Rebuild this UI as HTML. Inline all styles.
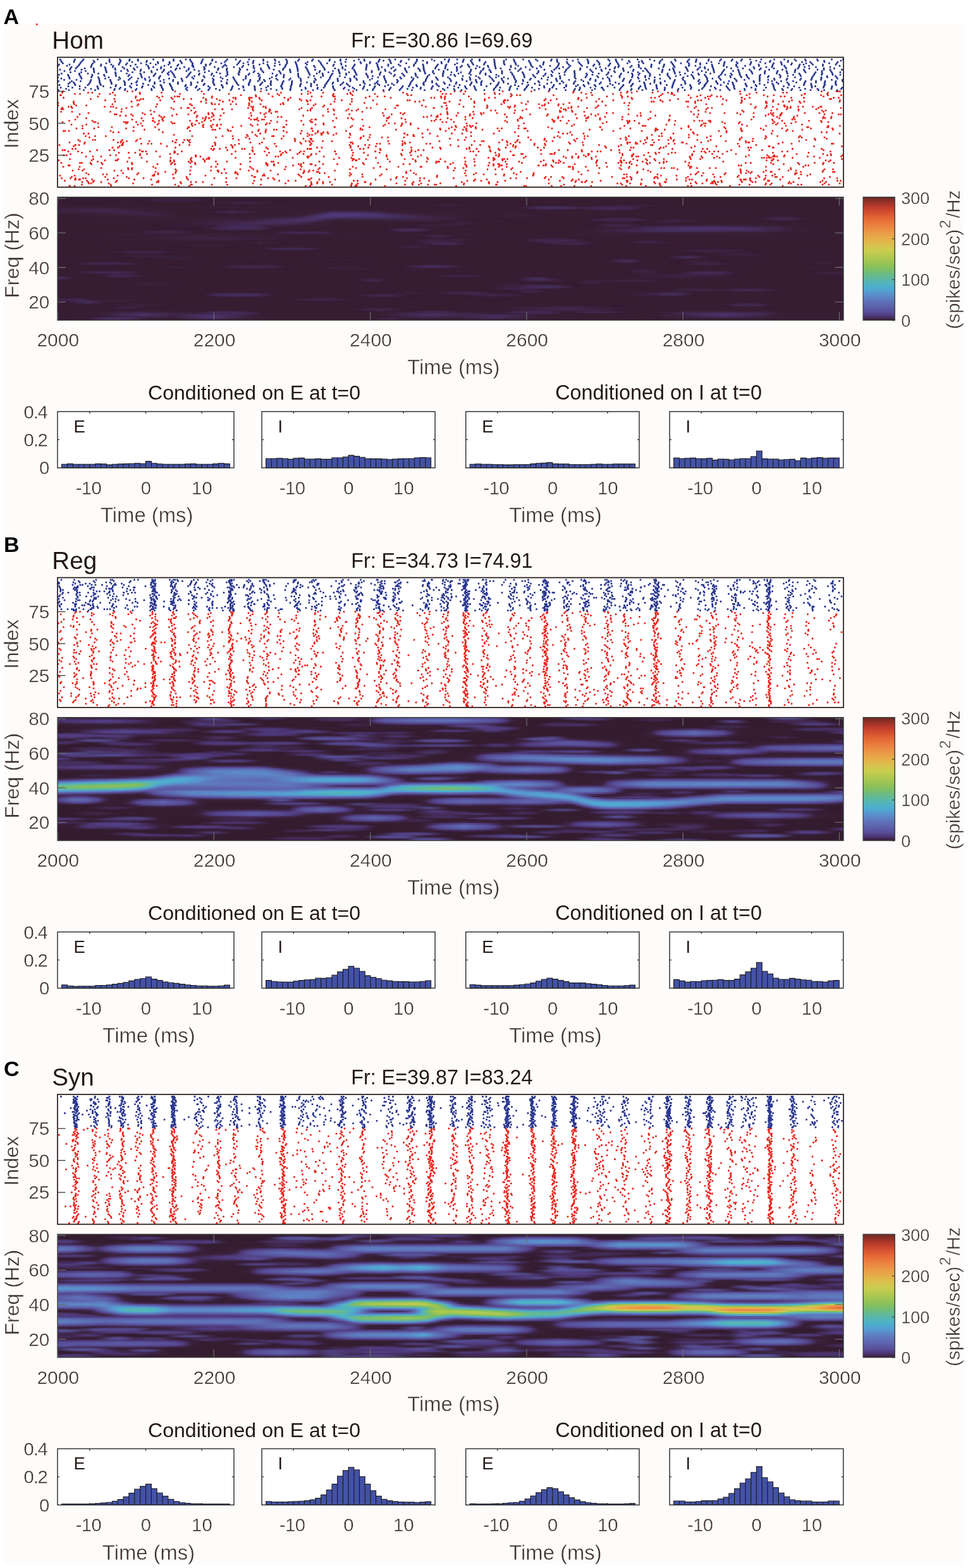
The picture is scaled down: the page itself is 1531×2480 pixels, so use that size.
<!DOCTYPE html>
<html><head><meta charset="utf-8"><title>Figure</title>
<style>html,body{margin:0;padding:0;background:#fff;overflow:hidden}svg{display:block}text{stroke:#fdfcfa;stroke-width:0.4px}</style></head>
<body><svg width="1531" height="2480" viewBox="0 0 1531 2480" font-family="Liberation Sans, Arial, Helvetica, sans-serif">
<defs><linearGradient id="g0_0"><stop offset="0" stop-color="#361d32"/><stop offset="1" stop-color="#361d32"/></linearGradient><linearGradient id="g0_1"><stop offset="0" stop-color="#361d32"/><stop offset="1" stop-color="#361d32"/></linearGradient><linearGradient id="g0_2"><stop offset="0" stop-color="#361d32"/><stop offset="1" stop-color="#361d32"/></linearGradient><linearGradient id="g0_3"><stop offset="0" stop-color="#361d32"/><stop offset="1" stop-color="#361d32"/></linearGradient><linearGradient id="g0_4"><stop offset="0" stop-color="#361d32"/><stop offset="1" stop-color="#361d32"/></linearGradient><linearGradient id="g0_5"><stop offset="0" stop-color="#371f36"/><stop offset="1" stop-color="#361d32"/></linearGradient><linearGradient id="g0_6"><stop offset="0" stop-color="#3a213b"/><stop offset="0.055" stop-color="#3d2443"/><stop offset="0.139" stop-color="#361d32"/><stop offset="1" stop-color="#361d32"/></linearGradient><linearGradient id="g0_7"><stop offset="0" stop-color="#3c2342"/><stop offset="0.065" stop-color="#40284e"/><stop offset="0.1" stop-color="#3a213c"/><stop offset="0.154" stop-color="#361d32"/><stop offset="0.323" stop-color="#361d32"/><stop offset="0.358" stop-color="#3a213d"/><stop offset="0.458" stop-color="#361d32"/><stop offset="1" stop-color="#361d32"/></linearGradient><linearGradient id="g0_8"><stop offset="0" stop-color="#3a213b"/><stop offset="0.085" stop-color="#3f274c"/><stop offset="0.149" stop-color="#361d32"/><stop offset="0.313" stop-color="#361d32"/><stop offset="0.333" stop-color="#392039"/><stop offset="0.348" stop-color="#432c57"/><stop offset="0.358" stop-color="#452e5d"/><stop offset="0.393" stop-color="#432b57"/><stop offset="0.423" stop-color="#3a213b"/><stop offset="0.468" stop-color="#361e33"/><stop offset="1" stop-color="#361d32"/></linearGradient><linearGradient id="g0_9"><stop offset="0" stop-color="#371f36"/><stop offset="0.06" stop-color="#382038"/><stop offset="0.114" stop-color="#3e2649"/><stop offset="0.154" stop-color="#361d32"/><stop offset="0.308" stop-color="#361e33"/><stop offset="0.323" stop-color="#39203a"/><stop offset="0.348" stop-color="#4d3775"/><stop offset="0.358" stop-color="#4f3879"/><stop offset="0.398" stop-color="#4b346d"/><stop offset="0.448" stop-color="#3a213b"/><stop offset="0.488" stop-color="#371e34"/><stop offset="1" stop-color="#361d32"/></linearGradient><linearGradient id="g0_10"><stop offset="0" stop-color="#361d32"/><stop offset="0.119" stop-color="#3b223e"/><stop offset="0.154" stop-color="#361d32"/><stop offset="0.299" stop-color="#381f36"/><stop offset="0.313" stop-color="#3a213b"/><stop offset="0.338" stop-color="#4d3674"/><stop offset="0.353" stop-color="#503a7d"/><stop offset="0.408" stop-color="#4b346e"/><stop offset="0.473" stop-color="#3a213c"/><stop offset="0.522" stop-color="#361d32"/><stop offset="1" stop-color="#361d32"/></linearGradient><linearGradient id="g0_11"><stop offset="0" stop-color="#361d32"/><stop offset="0.264" stop-color="#371f35"/><stop offset="0.299" stop-color="#3c2443"/><stop offset="0.333" stop-color="#4d3673"/><stop offset="0.358" stop-color="#483164"/><stop offset="0.428" stop-color="#452e5e"/><stop offset="0.527" stop-color="#361d32"/><stop offset="1" stop-color="#361d32"/></linearGradient><linearGradient id="g0_12"><stop offset="0" stop-color="#361d32"/><stop offset="0.249" stop-color="#392039"/><stop offset="0.323" stop-color="#4a346c"/><stop offset="0.358" stop-color="#3c2443"/><stop offset="0.453" stop-color="#3f274b"/><stop offset="0.527" stop-color="#361d32"/><stop offset="1" stop-color="#361d32"/></linearGradient><linearGradient id="g0_13"><stop offset="0" stop-color="#361d32"/><stop offset="0.154" stop-color="#361e33"/><stop offset="0.244" stop-color="#3e2547"/><stop offset="0.308" stop-color="#493267"/><stop offset="0.323" stop-color="#452e5d"/><stop offset="0.343" stop-color="#392039"/><stop offset="0.358" stop-color="#371f35"/><stop offset="0.478" stop-color="#3a213c"/><stop offset="0.532" stop-color="#361d32"/><stop offset="1" stop-color="#361d32"/></linearGradient><linearGradient id="g0_14"><stop offset="0" stop-color="#361d32"/><stop offset="0.149" stop-color="#361d32"/><stop offset="0.279" stop-color="#462f5f"/><stop offset="0.308" stop-color="#432b56"/><stop offset="0.328" stop-color="#39213b"/><stop offset="0.353" stop-color="#361d32"/><stop offset="1" stop-color="#361d32"/></linearGradient><linearGradient id="g0_15"><stop offset="0" stop-color="#361d32"/><stop offset="0.149" stop-color="#361d32"/><stop offset="0.254" stop-color="#432b56"/><stop offset="0.343" stop-color="#361d32"/><stop offset="1" stop-color="#361d32"/></linearGradient><linearGradient id="g0_16"><stop offset="0" stop-color="#361d32"/><stop offset="0.154" stop-color="#361d32"/><stop offset="0.249" stop-color="#3d2445"/><stop offset="0.328" stop-color="#361d32"/><stop offset="0.687" stop-color="#361d32"/><stop offset="0.821" stop-color="#40274d"/><stop offset="0.945" stop-color="#361e33"/><stop offset="1" stop-color="#361d32"/></linearGradient><linearGradient id="g0_17"><stop offset="0" stop-color="#361d32"/><stop offset="0.672" stop-color="#361d32"/><stop offset="0.726" stop-color="#3a213c"/><stop offset="0.761" stop-color="#432b55"/><stop offset="0.821" stop-color="#493268"/><stop offset="0.876" stop-color="#452e5e"/><stop offset="0.95" stop-color="#361e33"/><stop offset="1" stop-color="#361d32"/></linearGradient><linearGradient id="g0_18"><stop offset="0" stop-color="#361d32"/><stop offset="0.667" stop-color="#361d32"/><stop offset="0.706" stop-color="#3a213c"/><stop offset="0.761" stop-color="#462f61"/><stop offset="0.816" stop-color="#4b346e"/><stop offset="0.876" stop-color="#473063"/><stop offset="0.95" stop-color="#361e33"/><stop offset="1" stop-color="#361d32"/></linearGradient><linearGradient id="g0_19"><stop offset="0" stop-color="#361d32"/><stop offset="0.662" stop-color="#361d32"/><stop offset="0.751" stop-color="#422a53"/><stop offset="0.811" stop-color="#442c59"/><stop offset="0.876" stop-color="#412951"/><stop offset="0.95" stop-color="#361e33"/><stop offset="1" stop-color="#361d32"/></linearGradient><linearGradient id="g0_20"><stop offset="0" stop-color="#361d32"/><stop offset="0.662" stop-color="#361d32"/><stop offset="0.741" stop-color="#3a213c"/><stop offset="1" stop-color="#361d32"/></linearGradient><linearGradient id="g0_21"><stop offset="0" stop-color="#361d32"/><stop offset="0.139" stop-color="#382038"/><stop offset="1" stop-color="#361d32"/></linearGradient><linearGradient id="g0_22"><stop offset="0" stop-color="#361d32"/><stop offset="0.1" stop-color="#361d32"/><stop offset="0.184" stop-color="#3b223f"/><stop offset="0.303" stop-color="#361d32"/><stop offset="1" stop-color="#361d32"/></linearGradient><linearGradient id="g0_23"><stop offset="0" stop-color="#361d32"/><stop offset="0.104" stop-color="#361e32"/><stop offset="0.199" stop-color="#3e2648"/><stop offset="0.303" stop-color="#361d32"/><stop offset="1" stop-color="#361d32"/></linearGradient><linearGradient id="g0_24"><stop offset="0" stop-color="#361d32"/><stop offset="0.204" stop-color="#3b223e"/><stop offset="0.303" stop-color="#361d32"/><stop offset="1" stop-color="#361d32"/></linearGradient><linearGradient id="g0_25"><stop offset="0" stop-color="#361d32"/><stop offset="1" stop-color="#361d32"/></linearGradient><linearGradient id="g0_26"><stop offset="0" stop-color="#361d32"/><stop offset="1" stop-color="#361d32"/></linearGradient><linearGradient id="g0_27"><stop offset="0" stop-color="#361d32"/><stop offset="1" stop-color="#361d32"/></linearGradient><linearGradient id="g0_28"><stop offset="0" stop-color="#361d32"/><stop offset="1" stop-color="#361d32"/></linearGradient><linearGradient id="g0_29"><stop offset="0" stop-color="#361d32"/><stop offset="1" stop-color="#361d32"/></linearGradient><linearGradient id="g0_30"><stop offset="0" stop-color="#361d32"/><stop offset="1" stop-color="#361d32"/></linearGradient><linearGradient id="g0_31"><stop offset="0" stop-color="#361d32"/><stop offset="1" stop-color="#361d32"/></linearGradient><linearGradient id="g0_32"><stop offset="0" stop-color="#361d32"/><stop offset="1" stop-color="#361d32"/></linearGradient><linearGradient id="g0_33"><stop offset="0" stop-color="#361d32"/><stop offset="1" stop-color="#361d32"/></linearGradient><linearGradient id="g0_34"><stop offset="0" stop-color="#361d32"/><stop offset="1" stop-color="#361d32"/></linearGradient><linearGradient id="g0_35"><stop offset="0" stop-color="#361d32"/><stop offset="1" stop-color="#361d32"/></linearGradient><linearGradient id="g0_36"><stop offset="0" stop-color="#361d32"/><stop offset="1" stop-color="#361d32"/></linearGradient><linearGradient id="g0_37"><stop offset="0" stop-color="#361d32"/><stop offset="1" stop-color="#361d32"/></linearGradient><linearGradient id="g0_38"><stop offset="0" stop-color="#361d32"/><stop offset="1" stop-color="#361d32"/></linearGradient><linearGradient id="g0_39"><stop offset="0" stop-color="#361d32"/><stop offset="1" stop-color="#361d32"/></linearGradient><linearGradient id="g0_40"><stop offset="0" stop-color="#361d32"/><stop offset="1" stop-color="#361d32"/></linearGradient><linearGradient id="g0_41"><stop offset="0" stop-color="#361d32"/><stop offset="1" stop-color="#361d32"/></linearGradient><linearGradient id="g0_42"><stop offset="0" stop-color="#361d32"/><stop offset="1" stop-color="#361d32"/></linearGradient><linearGradient id="g0_43"><stop offset="0" stop-color="#361d32"/><stop offset="1" stop-color="#361d32"/></linearGradient><linearGradient id="g0_44"><stop offset="0" stop-color="#361d32"/><stop offset="0.721" stop-color="#361d32"/><stop offset="0.796" stop-color="#3a213d"/><stop offset="0.876" stop-color="#361d32"/><stop offset="1" stop-color="#361d32"/></linearGradient><linearGradient id="g0_45"><stop offset="0" stop-color="#361d32"/><stop offset="0.721" stop-color="#361d32"/><stop offset="0.796" stop-color="#3e2547"/><stop offset="0.871" stop-color="#361e32"/><stop offset="1" stop-color="#361d32"/></linearGradient><linearGradient id="g0_46"><stop offset="0" stop-color="#361d32"/><stop offset="0.721" stop-color="#361d32"/><stop offset="0.796" stop-color="#3a213d"/><stop offset="0.876" stop-color="#361d32"/><stop offset="1" stop-color="#361d32"/></linearGradient><linearGradient id="g0_47"><stop offset="0" stop-color="#361d32"/><stop offset="1" stop-color="#361d32"/></linearGradient><linearGradient id="g0_48"><stop offset="0" stop-color="#361d32"/><stop offset="1" stop-color="#361d32"/></linearGradient><linearGradient id="g0_49"><stop offset="0" stop-color="#361d32"/><stop offset="1" stop-color="#361d32"/></linearGradient><linearGradient id="g0_50"><stop offset="0" stop-color="#361d32"/><stop offset="1" stop-color="#361d32"/></linearGradient><linearGradient id="g0_51"><stop offset="0" stop-color="#361d32"/><stop offset="1" stop-color="#361d32"/></linearGradient><linearGradient id="g0_52"><stop offset="0" stop-color="#361d32"/><stop offset="1" stop-color="#361d32"/></linearGradient><linearGradient id="g0_53"><stop offset="0" stop-color="#361d32"/><stop offset="1" stop-color="#361d32"/></linearGradient><linearGradient id="g0_54"><stop offset="0" stop-color="#361d32"/><stop offset="1" stop-color="#361d32"/></linearGradient><linearGradient id="g0_55"><stop offset="0" stop-color="#361d32"/><stop offset="1" stop-color="#361d32"/></linearGradient><linearGradient id="g0_56"><stop offset="0" stop-color="#361d32"/><stop offset="1" stop-color="#361d32"/></linearGradient><linearGradient id="g0_57"><stop offset="0" stop-color="#361d32"/><stop offset="1" stop-color="#361d32"/></linearGradient><linearGradient id="g0_58"><stop offset="0" stop-color="#361d32"/><stop offset="1" stop-color="#361d32"/></linearGradient><linearGradient id="g0_59"><stop offset="0" stop-color="#361d32"/><stop offset="1" stop-color="#361d32"/></linearGradient><linearGradient id="g0_60"><stop offset="0" stop-color="#361d32"/><stop offset="1" stop-color="#361d32"/></linearGradient><linearGradient id="g0_61"><stop offset="0" stop-color="#361d32"/><stop offset="1" stop-color="#361d32"/></linearGradient><linearGradient id="g0_62"><stop offset="0" stop-color="#361d32"/><stop offset="1" stop-color="#361d32"/></linearGradient><linearGradient id="g0_63"><stop offset="0" stop-color="#361d32"/><stop offset="0.562" stop-color="#361d32"/><stop offset="0.647" stop-color="#3d2546"/><stop offset="0.726" stop-color="#361d32"/><stop offset="1" stop-color="#361d32"/></linearGradient><linearGradient id="g0_64"><stop offset="0" stop-color="#361d32"/><stop offset="0.562" stop-color="#361d32"/><stop offset="0.647" stop-color="#422a53"/><stop offset="0.726" stop-color="#361d32"/><stop offset="1" stop-color="#361d32"/></linearGradient><linearGradient id="g0_65"><stop offset="0" stop-color="#361d32"/><stop offset="0.562" stop-color="#361d32"/><stop offset="0.647" stop-color="#3d2546"/><stop offset="0.726" stop-color="#361d32"/><stop offset="1" stop-color="#361d32"/></linearGradient><linearGradient id="g0_66"><stop offset="0" stop-color="#361d32"/><stop offset="0.05" stop-color="#361e32"/><stop offset="0.1" stop-color="#3e2649"/><stop offset="0.159" stop-color="#392039"/><stop offset="0.259" stop-color="#361d32"/><stop offset="0.408" stop-color="#361d32"/><stop offset="0.473" stop-color="#3e2649"/><stop offset="0.537" stop-color="#381f37"/><stop offset="0.756" stop-color="#361d32"/><stop offset="0.801" stop-color="#3e2649"/><stop offset="0.846" stop-color="#40284d"/><stop offset="0.891" stop-color="#3e2649"/><stop offset="0.925" stop-color="#361e32"/><stop offset="1" stop-color="#361d32"/></linearGradient><linearGradient id="g0_67"><stop offset="0" stop-color="#361d32"/><stop offset="0.055" stop-color="#371e35"/><stop offset="0.08" stop-color="#422a53"/><stop offset="0.109" stop-color="#473063"/><stop offset="0.154" stop-color="#3d2445"/><stop offset="0.174" stop-color="#40284f"/><stop offset="0.209" stop-color="#40284e"/><stop offset="0.264" stop-color="#361d32"/><stop offset="0.408" stop-color="#361e33"/><stop offset="0.473" stop-color="#473063"/><stop offset="0.527" stop-color="#3e2547"/><stop offset="0.572" stop-color="#3d2443"/><stop offset="0.612" stop-color="#361e33"/><stop offset="0.761" stop-color="#361d32"/><stop offset="0.781" stop-color="#3a213b"/><stop offset="0.801" stop-color="#432b57"/><stop offset="0.846" stop-color="#4a336c"/><stop offset="0.891" stop-color="#432b57"/><stop offset="0.92" stop-color="#371e35"/><stop offset="1" stop-color="#361d32"/></linearGradient><linearGradient id="g0_68"><stop offset="0" stop-color="#361d32"/><stop offset="0.055" stop-color="#361e34"/><stop offset="0.109" stop-color="#462f61"/><stop offset="0.149" stop-color="#3c2443"/><stop offset="0.174" stop-color="#462f60"/><stop offset="0.199" stop-color="#4b346d"/><stop offset="0.229" stop-color="#422a54"/><stop offset="0.244" stop-color="#3a213b"/><stop offset="0.264" stop-color="#361d32"/><stop offset="0.413" stop-color="#361e33"/><stop offset="0.473" stop-color="#472f61"/><stop offset="0.507" stop-color="#3e2648"/><stop offset="0.562" stop-color="#452e5d"/><stop offset="0.617" stop-color="#361e32"/><stop offset="0.761" stop-color="#361d32"/><stop offset="0.786" stop-color="#3a213c"/><stop offset="0.846" stop-color="#4a336a"/><stop offset="0.92" stop-color="#361e34"/><stop offset="1" stop-color="#361d32"/></linearGradient><linearGradient id="g0_69"><stop offset="0" stop-color="#361d32"/><stop offset="0.06" stop-color="#361e33"/><stop offset="0.109" stop-color="#3d2444"/><stop offset="0.149" stop-color="#392039"/><stop offset="0.199" stop-color="#4a336b"/><stop offset="0.239" stop-color="#3a213c"/><stop offset="0.264" stop-color="#361d32"/><stop offset="0.413" stop-color="#361d32"/><stop offset="0.473" stop-color="#3d2444"/><stop offset="0.507" stop-color="#392039"/><stop offset="0.557" stop-color="#452d5c"/><stop offset="0.592" stop-color="#3a213c"/><stop offset="0.617" stop-color="#361d32"/><stop offset="0.771" stop-color="#361d32"/><stop offset="0.846" stop-color="#3f264a"/><stop offset="0.915" stop-color="#361e33"/><stop offset="1" stop-color="#361d32"/></linearGradient><linearGradient id="g0_70"><stop offset="0" stop-color="#361d32"/><stop offset="0.144" stop-color="#361e33"/><stop offset="0.199" stop-color="#3f264a"/><stop offset="0.219" stop-color="#39213b"/><stop offset="0.259" stop-color="#361d32"/><stop offset="0.502" stop-color="#361e33"/><stop offset="0.557" stop-color="#3c2341"/><stop offset="0.617" stop-color="#361d32"/><stop offset="1" stop-color="#361d32"/></linearGradient><linearGradient id="g1_0"><stop offset="0" stop-color="#39203a"/><stop offset="0.06" stop-color="#40284e"/><stop offset="0.139" stop-color="#341c2f"/><stop offset="0.383" stop-color="#351d30"/><stop offset="0.393" stop-color="#371f36"/><stop offset="0.398" stop-color="#3d2444"/><stop offset="0.408" stop-color="#524085"/><stop offset="0.418" stop-color="#584f99"/><stop offset="0.468" stop-color="#5c60a8"/><stop offset="0.507" stop-color="#5c60a9"/><stop offset="0.557" stop-color="#55478e"/><stop offset="0.567" stop-color="#4f397a"/><stop offset="0.577" stop-color="#3a213b"/><stop offset="0.592" stop-color="#351c2f"/><stop offset="1" stop-color="#341c2f"/></linearGradient><linearGradient id="g1_1"><stop offset="0" stop-color="#442c59"/><stop offset="0.02" stop-color="#4d3775"/><stop offset="0.06" stop-color="#513e82"/><stop offset="0.08" stop-color="#4e3878"/><stop offset="0.109" stop-color="#432b57"/><stop offset="0.124" stop-color="#382038"/><stop offset="0.139" stop-color="#351d2f"/><stop offset="0.383" stop-color="#351d30"/><stop offset="0.393" stop-color="#392039"/><stop offset="0.398" stop-color="#422a55"/><stop offset="0.403" stop-color="#513d80"/><stop offset="0.408" stop-color="#574b94"/><stop offset="0.418" stop-color="#5b5ba4"/><stop offset="0.468" stop-color="#5f6fb5"/><stop offset="0.507" stop-color="#5f70b6"/><stop offset="0.562" stop-color="#574d96"/><stop offset="0.572" stop-color="#4b356f"/><stop offset="0.577" stop-color="#3e2547"/><stop offset="0.582" stop-color="#381f37"/><stop offset="0.592" stop-color="#351d30"/><stop offset="1" stop-color="#341c2f"/></linearGradient><linearGradient id="g1_2"><stop offset="0" stop-color="#442c59"/><stop offset="0.02" stop-color="#4d3775"/><stop offset="0.06" stop-color="#513e82"/><stop offset="0.08" stop-color="#4e3878"/><stop offset="0.109" stop-color="#432b57"/><stop offset="0.124" stop-color="#382038"/><stop offset="0.139" stop-color="#351d2f"/><stop offset="0.383" stop-color="#351d30"/><stop offset="0.393" stop-color="#371f36"/><stop offset="0.398" stop-color="#3d2444"/><stop offset="0.408" stop-color="#524085"/><stop offset="0.418" stop-color="#584f99"/><stop offset="0.468" stop-color="#5c60a8"/><stop offset="0.507" stop-color="#5c60a9"/><stop offset="0.557" stop-color="#55478e"/><stop offset="0.567" stop-color="#4f397a"/><stop offset="0.577" stop-color="#3a213b"/><stop offset="0.592" stop-color="#351c2f"/><stop offset="1" stop-color="#341c2f"/></linearGradient><linearGradient id="g1_3"><stop offset="0" stop-color="#39203a"/><stop offset="0.06" stop-color="#40284e"/><stop offset="0.139" stop-color="#341c2f"/><stop offset="0.388" stop-color="#351d30"/><stop offset="0.403" stop-color="#39203a"/><stop offset="0.418" stop-color="#473062"/><stop offset="0.448" stop-color="#503a7c"/><stop offset="0.507" stop-color="#513e82"/><stop offset="0.527" stop-color="#503a7d"/><stop offset="0.567" stop-color="#3a213d"/><stop offset="0.587" stop-color="#351d2f"/><stop offset="1" stop-color="#341c2f"/></linearGradient><linearGradient id="g1_4"><stop offset="0" stop-color="#351d31"/><stop offset="0.383" stop-color="#341c2f"/><stop offset="0.507" stop-color="#381f37"/><stop offset="0.587" stop-color="#341c2f"/><stop offset="1" stop-color="#341c2f"/></linearGradient><linearGradient id="g1_5"><stop offset="0" stop-color="#341c2f"/><stop offset="0.085" stop-color="#371f36"/><stop offset="1" stop-color="#341c2f"/></linearGradient><linearGradient id="g1_6"><stop offset="0" stop-color="#341c2f"/><stop offset="0.025" stop-color="#371e34"/><stop offset="0.085" stop-color="#462e5f"/><stop offset="0.124" stop-color="#40284f"/><stop offset="0.144" stop-color="#381f37"/><stop offset="0.174" stop-color="#341c2f"/><stop offset="0.741" stop-color="#341c2f"/><stop offset="0.771" stop-color="#39213b"/><stop offset="0.811" stop-color="#462e5f"/><stop offset="0.866" stop-color="#351d30"/><stop offset="1" stop-color="#341c2f"/></linearGradient><linearGradient id="g1_7"><stop offset="0" stop-color="#341c2f"/><stop offset="0.025" stop-color="#392039"/><stop offset="0.04" stop-color="#462f5f"/><stop offset="0.06" stop-color="#503b7e"/><stop offset="0.085" stop-color="#534288"/><stop offset="0.124" stop-color="#503b7f"/><stop offset="0.129" stop-color="#4f3879"/><stop offset="0.149" stop-color="#3b223f"/><stop offset="0.179" stop-color="#341c2f"/><stop offset="0.741" stop-color="#351c2f"/><stop offset="0.756" stop-color="#392039"/><stop offset="0.771" stop-color="#503b7e"/><stop offset="0.796" stop-color="#584f99"/><stop offset="0.811" stop-color="#59559e"/><stop offset="0.846" stop-color="#503b7e"/><stop offset="0.856" stop-color="#3f274a"/><stop offset="0.866" stop-color="#361e33"/><stop offset="1" stop-color="#341c2f"/></linearGradient><linearGradient id="g1_8"><stop offset="0" stop-color="#341c2f"/><stop offset="0.025" stop-color="#392039"/><stop offset="0.04" stop-color="#462f5f"/><stop offset="0.06" stop-color="#503b7e"/><stop offset="0.085" stop-color="#534288"/><stop offset="0.129" stop-color="#50397c"/><stop offset="0.154" stop-color="#3c2342"/><stop offset="0.179" stop-color="#351c2f"/><stop offset="0.741" stop-color="#351d30"/><stop offset="0.751" stop-color="#381f36"/><stop offset="0.756" stop-color="#3d2546"/><stop offset="0.761" stop-color="#4a346c"/><stop offset="0.771" stop-color="#574c95"/><stop offset="0.811" stop-color="#5e6ab1"/><stop offset="0.846" stop-color="#574c95"/><stop offset="0.856" stop-color="#4a346c"/><stop offset="0.861" stop-color="#3d2546"/><stop offset="0.871" stop-color="#361d32"/><stop offset="1" stop-color="#341c2f"/></linearGradient><linearGradient id="g1_9"><stop offset="0" stop-color="#341c2f"/><stop offset="0.025" stop-color="#371e34"/><stop offset="0.085" stop-color="#462e5f"/><stop offset="0.179" stop-color="#341c2f"/><stop offset="0.741" stop-color="#351d2f"/><stop offset="0.756" stop-color="#3b2340"/><stop offset="0.766" stop-color="#513d82"/><stop offset="0.776" stop-color="#584e98"/><stop offset="0.811" stop-color="#5d64ac"/><stop offset="0.846" stop-color="#55478e"/><stop offset="0.851" stop-color="#513d82"/><stop offset="0.861" stop-color="#3b2340"/><stop offset="0.871" stop-color="#351d31"/><stop offset="1" stop-color="#341c2f"/></linearGradient><linearGradient id="g1_10"><stop offset="0" stop-color="#341c2f"/><stop offset="0.085" stop-color="#371f36"/><stop offset="0.741" stop-color="#341c2f"/><stop offset="0.761" stop-color="#3a213b"/><stop offset="0.781" stop-color="#4e3878"/><stop offset="0.811" stop-color="#55478e"/><stop offset="0.836" stop-color="#4f397a"/><stop offset="0.856" stop-color="#3a213b"/><stop offset="0.866" stop-color="#361d32"/><stop offset="1" stop-color="#341c2f"/></linearGradient><linearGradient id="g1_11"><stop offset="0" stop-color="#341c2f"/><stop offset="0.741" stop-color="#341c2f"/><stop offset="0.811" stop-color="#3a213d"/><stop offset="0.871" stop-color="#341c2f"/><stop offset="1" stop-color="#341c2f"/></linearGradient><linearGradient id="g1_12"><stop offset="0" stop-color="#341c2f"/><stop offset="0.577" stop-color="#341c2f"/><stop offset="0.627" stop-color="#39213b"/><stop offset="0.647" stop-color="#442c59"/><stop offset="0.667" stop-color="#3a213c"/><stop offset="0.711" stop-color="#351d30"/><stop offset="1" stop-color="#341c2f"/></linearGradient><linearGradient id="g1_13"><stop offset="0" stop-color="#341c2f"/><stop offset="0.572" stop-color="#351d30"/><stop offset="0.602" stop-color="#3c2341"/><stop offset="0.627" stop-color="#513c80"/><stop offset="0.647" stop-color="#584d97"/><stop offset="0.672" stop-color="#503b7f"/><stop offset="0.701" stop-color="#3a223d"/><stop offset="0.721" stop-color="#351d30"/><stop offset="1" stop-color="#351c2f"/></linearGradient><linearGradient id="g1_14"><stop offset="0" stop-color="#341c2f"/><stop offset="0.567" stop-color="#351d30"/><stop offset="0.582" stop-color="#39213b"/><stop offset="0.602" stop-color="#4f397b"/><stop offset="0.627" stop-color="#58509a"/><stop offset="0.647" stop-color="#5b5ba4"/><stop offset="0.677" stop-color="#584e98"/><stop offset="0.697" stop-color="#523e82"/><stop offset="0.701" stop-color="#4f3979"/><stop offset="0.711" stop-color="#3e2547"/><stop offset="0.716" stop-color="#382038"/><stop offset="0.726" stop-color="#351d30"/><stop offset="1" stop-color="#371f36"/></linearGradient><linearGradient id="g1_15"><stop offset="0" stop-color="#341c2f"/><stop offset="0.562" stop-color="#341c2f"/><stop offset="0.577" stop-color="#381f38"/><stop offset="0.582" stop-color="#3d2445"/><stop offset="0.592" stop-color="#4d3775"/><stop offset="0.597" stop-color="#513d80"/><stop offset="0.627" stop-color="#584d97"/><stop offset="0.657" stop-color="#59519b"/><stop offset="0.687" stop-color="#584d97"/><stop offset="0.701" stop-color="#534287"/><stop offset="0.706" stop-color="#503a7c"/><stop offset="0.716" stop-color="#3a213c"/><stop offset="0.726" stop-color="#351d31"/><stop offset="0.871" stop-color="#341c2f"/><stop offset="0.891" stop-color="#381f37"/><stop offset="0.91" stop-color="#432b56"/><stop offset="0.965" stop-color="#4f3879"/><stop offset="1" stop-color="#503b7e"/></linearGradient><linearGradient id="g1_16"><stop offset="0" stop-color="#341c2f"/><stop offset="0.562" stop-color="#341c2f"/><stop offset="0.582" stop-color="#39213b"/><stop offset="0.597" stop-color="#483166"/><stop offset="0.607" stop-color="#4c3570"/><stop offset="0.647" stop-color="#4a336a"/><stop offset="0.667" stop-color="#503a7c"/><stop offset="0.687" stop-color="#513d81"/><stop offset="0.701" stop-color="#4e3878"/><stop offset="0.716" stop-color="#382038"/><stop offset="0.726" stop-color="#351d30"/><stop offset="0.871" stop-color="#361e33"/><stop offset="0.886" stop-color="#3b223e"/><stop offset="0.896" stop-color="#4f397b"/><stop offset="0.905" stop-color="#55468d"/><stop offset="1" stop-color="#5b5ca5"/></linearGradient><linearGradient id="g1_17"><stop offset="0" stop-color="#341c2f"/><stop offset="0.562" stop-color="#341c2f"/><stop offset="0.692" stop-color="#3c2341"/><stop offset="0.726" stop-color="#351c2f"/><stop offset="0.786" stop-color="#341c2f"/><stop offset="0.816" stop-color="#3a213c"/><stop offset="0.851" stop-color="#462e5e"/><stop offset="0.881" stop-color="#412952"/><stop offset="0.891" stop-color="#503b7e"/><stop offset="0.905" stop-color="#59529c"/><stop offset="1" stop-color="#5e6ab1"/></linearGradient><linearGradient id="g1_18"><stop offset="0" stop-color="#341c2f"/><stop offset="0.781" stop-color="#341c2f"/><stop offset="0.801" stop-color="#3b223e"/><stop offset="0.811" stop-color="#493267"/><stop offset="0.821" stop-color="#513c7f"/><stop offset="0.851" stop-color="#584e98"/><stop offset="0.886" stop-color="#513e82"/><stop offset="0.925" stop-color="#584f99"/><stop offset="1" stop-color="#5b5ca5"/></linearGradient><linearGradient id="g1_19"><stop offset="0" stop-color="#341c2f"/><stop offset="0.517" stop-color="#341c2f"/><stop offset="0.587" stop-color="#381f37"/><stop offset="0.781" stop-color="#351c2f"/><stop offset="0.796" stop-color="#392039"/><stop offset="0.811" stop-color="#513c80"/><stop offset="0.851" stop-color="#5a59a2"/><stop offset="0.876" stop-color="#574c95"/><stop offset="0.896" stop-color="#503a7e"/><stop offset="0.905" stop-color="#473063"/><stop offset="0.915" stop-color="#452d5c"/><stop offset="0.97" stop-color="#503a7c"/><stop offset="1" stop-color="#503b7e"/></linearGradient><linearGradient id="g1_20"><stop offset="0" stop-color="#341c2f"/><stop offset="0.522" stop-color="#351d2f"/><stop offset="0.537" stop-color="#381f38"/><stop offset="0.557" stop-color="#452d5c"/><stop offset="0.587" stop-color="#503b7e"/><stop offset="0.652" stop-color="#3a213c"/><stop offset="0.786" stop-color="#351d31"/><stop offset="0.801" stop-color="#3b223f"/><stop offset="0.811" stop-color="#493267"/><stop offset="0.821" stop-color="#513c7f"/><stop offset="0.856" stop-color="#584e98"/><stop offset="0.886" stop-color="#4f3879"/><stop offset="0.905" stop-color="#392039"/><stop offset="1" stop-color="#381f36"/></linearGradient><linearGradient id="g1_21"><stop offset="0" stop-color="#341c2f"/><stop offset="0.517" stop-color="#351c2f"/><stop offset="0.532" stop-color="#3a213c"/><stop offset="0.542" stop-color="#503a7d"/><stop offset="0.552" stop-color="#564890"/><stop offset="0.592" stop-color="#5b5da6"/><stop offset="0.637" stop-color="#584d97"/><stop offset="0.682" stop-color="#503a7c"/><stop offset="0.697" stop-color="#4a336a"/><stop offset="0.786" stop-color="#381f36"/><stop offset="0.816" stop-color="#3a213c"/><stop offset="0.856" stop-color="#462f5f"/><stop offset="0.886" stop-color="#3a223d"/><stop offset="0.905" stop-color="#361e32"/><stop offset="1" stop-color="#351d31"/></linearGradient><linearGradient id="g1_22"><stop offset="0" stop-color="#341c2f"/><stop offset="0.517" stop-color="#351d30"/><stop offset="0.527" stop-color="#382038"/><stop offset="0.532" stop-color="#412951"/><stop offset="0.537" stop-color="#503b7e"/><stop offset="0.547" stop-color="#59539d"/><stop offset="0.597" stop-color="#5e76ba"/><stop offset="0.761" stop-color="#564992"/><stop offset="0.776" stop-color="#513c7f"/><stop offset="0.796" stop-color="#3b223f"/><stop offset="0.811" stop-color="#361e33"/><stop offset="1" stop-color="#3d2444"/></linearGradient><linearGradient id="g1_23"><stop offset="0" stop-color="#341c2f"/><stop offset="0.517" stop-color="#351d30"/><stop offset="0.527" stop-color="#382038"/><stop offset="0.532" stop-color="#412951"/><stop offset="0.537" stop-color="#503b7e"/><stop offset="0.552" stop-color="#5a5aa3"/><stop offset="0.592" stop-color="#5e78bb"/><stop offset="0.652" stop-color="#5c86c5"/><stop offset="0.697" stop-color="#5d7fc0"/><stop offset="0.766" stop-color="#5c62aa"/><stop offset="0.791" stop-color="#513c7f"/><stop offset="0.806" stop-color="#392039"/><stop offset="0.841" stop-color="#351c2f"/><stop offset="0.861" stop-color="#3a213d"/><stop offset="0.871" stop-color="#473064"/><stop offset="0.886" stop-color="#503a7d"/><stop offset="0.945" stop-color="#564991"/><stop offset="1" stop-color="#574c95"/></linearGradient><linearGradient id="g1_24"><stop offset="0" stop-color="#341c2f"/><stop offset="0.522" stop-color="#361e33"/><stop offset="0.532" stop-color="#3a223d"/><stop offset="0.542" stop-color="#503a7d"/><stop offset="0.557" stop-color="#574c96"/><stop offset="0.647" stop-color="#5c83c4"/><stop offset="0.692" stop-color="#5a8eca"/><stop offset="0.766" stop-color="#5e6db4"/><stop offset="0.796" stop-color="#503a7d"/><stop offset="0.806" stop-color="#3a213c"/><stop offset="0.816" stop-color="#351d31"/><stop offset="0.836" stop-color="#341c2f"/><stop offset="0.851" stop-color="#381f36"/><stop offset="0.856" stop-color="#3d2546"/><stop offset="0.866" stop-color="#534187"/><stop offset="0.876" stop-color="#59519b"/><stop offset="0.945" stop-color="#5e6ab1"/><stop offset="1" stop-color="#5e6db4"/></linearGradient><linearGradient id="g1_25"><stop offset="0" stop-color="#351d30"/><stop offset="0.468" stop-color="#361e32"/><stop offset="0.488" stop-color="#3a213b"/><stop offset="0.498" stop-color="#422a54"/><stop offset="0.507" stop-color="#452e5d"/><stop offset="0.532" stop-color="#3d2444"/><stop offset="0.612" stop-color="#584f99"/><stop offset="0.657" stop-color="#5e6db4"/><stop offset="0.697" stop-color="#5d7dbf"/><stop offset="0.771" stop-color="#5b5ca5"/><stop offset="0.791" stop-color="#513c7f"/><stop offset="0.806" stop-color="#392039"/><stop offset="0.836" stop-color="#341c2f"/><stop offset="0.851" stop-color="#392039"/><stop offset="0.856" stop-color="#422a55"/><stop offset="0.861" stop-color="#513d80"/><stop offset="0.866" stop-color="#574b94"/><stop offset="0.876" stop-color="#5b5ba4"/><stop offset="0.945" stop-color="#5e78bc"/><stop offset="1" stop-color="#5d7cbf"/></linearGradient><linearGradient id="g1_26"><stop offset="0" stop-color="#382038"/><stop offset="0.368" stop-color="#341c2f"/><stop offset="0.443" stop-color="#392039"/><stop offset="0.458" stop-color="#3b2340"/><stop offset="0.493" stop-color="#584f99"/><stop offset="0.507" stop-color="#5a5aa3"/><stop offset="0.522" stop-color="#59529c"/><stop offset="0.547" stop-color="#503b7e"/><stop offset="0.562" stop-color="#3b2340"/><stop offset="0.582" stop-color="#39203a"/><stop offset="0.607" stop-color="#3f274c"/><stop offset="0.637" stop-color="#503b7e"/><stop offset="0.667" stop-color="#584d97"/><stop offset="0.701" stop-color="#5a5aa3"/><stop offset="0.761" stop-color="#564992"/><stop offset="0.776" stop-color="#513c7f"/><stop offset="0.791" stop-color="#40274c"/><stop offset="0.801" stop-color="#381f38"/><stop offset="0.836" stop-color="#341c2f"/><stop offset="0.851" stop-color="#381f36"/><stop offset="0.856" stop-color="#3d2546"/><stop offset="0.866" stop-color="#534187"/><stop offset="0.876" stop-color="#59519b"/><stop offset="0.945" stop-color="#5e6ab1"/><stop offset="1" stop-color="#5e6db4"/></linearGradient><linearGradient id="g1_27"><stop offset="0" stop-color="#462e5e"/><stop offset="0.06" stop-color="#4e3776"/><stop offset="0.114" stop-color="#462e5e"/><stop offset="0.134" stop-color="#392039"/><stop offset="0.149" stop-color="#351d30"/><stop offset="0.244" stop-color="#39203a"/><stop offset="0.289" stop-color="#351c2f"/><stop offset="0.383" stop-color="#351d2f"/><stop offset="0.403" stop-color="#3b223e"/><stop offset="0.433" stop-color="#4f397a"/><stop offset="0.458" stop-color="#55478e"/><stop offset="0.493" stop-color="#5f72b8"/><stop offset="0.512" stop-color="#5d7dbf"/><stop offset="0.547" stop-color="#5a569f"/><stop offset="0.567" stop-color="#473062"/><stop offset="0.572" stop-color="#452d5c"/><stop offset="0.602" stop-color="#4a346c"/><stop offset="0.657" stop-color="#3b2340"/><stop offset="0.701" stop-color="#483165"/><stop offset="0.786" stop-color="#371f36"/><stop offset="0.836" stop-color="#341c2f"/><stop offset="0.861" stop-color="#3a213d"/><stop offset="0.871" stop-color="#473064"/><stop offset="0.886" stop-color="#503a7d"/><stop offset="0.945" stop-color="#564991"/><stop offset="1" stop-color="#574c95"/></linearGradient><linearGradient id="g1_28"><stop offset="0" stop-color="#4f3879"/><stop offset="0.06" stop-color="#534186"/><stop offset="0.109" stop-color="#503a7d"/><stop offset="0.119" stop-color="#4c3673"/><stop offset="0.134" stop-color="#3b223e"/><stop offset="0.149" stop-color="#361e32"/><stop offset="0.164" stop-color="#3b223e"/><stop offset="0.194" stop-color="#513d81"/><stop offset="0.254" stop-color="#534085"/><stop offset="0.264" stop-color="#4f397a"/><stop offset="0.274" stop-color="#3f274b"/><stop offset="0.284" stop-color="#381f37"/><stop offset="0.378" stop-color="#351c2f"/><stop offset="0.393" stop-color="#3a213c"/><stop offset="0.403" stop-color="#503a7d"/><stop offset="0.418" stop-color="#584e98"/><stop offset="0.498" stop-color="#5b8bc8"/><stop offset="0.512" stop-color="#5a8fca"/><stop offset="0.527" stop-color="#5d82c3"/><stop offset="0.562" stop-color="#59519b"/><stop offset="0.597" stop-color="#5a59a2"/><stop offset="0.632" stop-color="#574d96"/><stop offset="0.642" stop-color="#513d82"/><stop offset="0.652" stop-color="#3c2342"/><stop offset="0.662" stop-color="#361e33"/><stop offset="0.846" stop-color="#341c2f"/><stop offset="1" stop-color="#3d2444"/></linearGradient><linearGradient id="g1_29"><stop offset="0" stop-color="#462e5e"/><stop offset="0.065" stop-color="#4d3775"/><stop offset="0.114" stop-color="#462e5e"/><stop offset="0.134" stop-color="#392039"/><stop offset="0.144" stop-color="#361e34"/><stop offset="0.154" stop-color="#3a213d"/><stop offset="0.164" stop-color="#503a7d"/><stop offset="0.179" stop-color="#58509a"/><stop offset="0.204" stop-color="#5d65ad"/><stop offset="0.249" stop-color="#5d66ae"/><stop offset="0.264" stop-color="#5b5ea6"/><stop offset="0.274" stop-color="#574c95"/><stop offset="0.284" stop-color="#4e3877"/><stop offset="0.294" stop-color="#3f264a"/><stop offset="0.303" stop-color="#392039"/><stop offset="0.328" stop-color="#351d30"/><stop offset="0.378" stop-color="#351d30"/><stop offset="0.388" stop-color="#382038"/><stop offset="0.393" stop-color="#412951"/><stop offset="0.398" stop-color="#503b7e"/><stop offset="0.413" stop-color="#5a5aa3"/><stop offset="0.448" stop-color="#5d7cbf"/><stop offset="0.507" stop-color="#5b8bc8"/><stop offset="0.517" stop-color="#5c88c7"/><stop offset="0.547" stop-color="#5c64ab"/><stop offset="0.567" stop-color="#5c62aa"/><stop offset="0.597" stop-color="#5f73b8"/><stop offset="0.632" stop-color="#5c61aa"/><stop offset="0.642" stop-color="#58509a"/><stop offset="0.647" stop-color="#534186"/><stop offset="0.657" stop-color="#39213b"/><stop offset="0.667" stop-color="#351d30"/><stop offset="1" stop-color="#351d31"/></linearGradient><linearGradient id="g1_30"><stop offset="0" stop-color="#382038"/><stop offset="0.144" stop-color="#371e34"/><stop offset="0.149" stop-color="#39203a"/><stop offset="0.154" stop-color="#422a54"/><stop offset="0.159" stop-color="#513c7f"/><stop offset="0.164" stop-color="#564a93"/><stop offset="0.174" stop-color="#5b5da6"/><stop offset="0.199" stop-color="#5d7dbf"/><stop offset="0.244" stop-color="#5d82c3"/><stop offset="0.264" stop-color="#5e7bbe"/><stop offset="0.279" stop-color="#5c62aa"/><stop offset="0.303" stop-color="#4e3878"/><stop offset="0.318" stop-color="#39203b"/><stop offset="0.333" stop-color="#351d30"/><stop offset="0.383" stop-color="#361e32"/><stop offset="0.388" stop-color="#382038"/><stop offset="0.393" stop-color="#412951"/><stop offset="0.398" stop-color="#503b7e"/><stop offset="0.408" stop-color="#59539d"/><stop offset="0.443" stop-color="#5e79bc"/><stop offset="0.458" stop-color="#5d7dbf"/><stop offset="0.512" stop-color="#5e76ba"/><stop offset="0.542" stop-color="#59529c"/><stop offset="0.597" stop-color="#5f73b8"/><stop offset="0.632" stop-color="#5c61aa"/><stop offset="0.642" stop-color="#58509a"/><stop offset="0.647" stop-color="#534186"/><stop offset="0.657" stop-color="#39203b"/><stop offset="0.667" stop-color="#351d30"/><stop offset="1" stop-color="#341c2f"/></linearGradient><linearGradient id="g1_31"><stop offset="0" stop-color="#351d30"/><stop offset="0.139" stop-color="#371e34"/><stop offset="0.149" stop-color="#3e2648"/><stop offset="0.159" stop-color="#534187"/><stop offset="0.169" stop-color="#5a5aa3"/><stop offset="0.199" stop-color="#5c83c3"/><stop offset="0.229" stop-color="#5b8bc8"/><stop offset="0.264" stop-color="#5c88c6"/><stop offset="0.289" stop-color="#5e6bb2"/><stop offset="0.303" stop-color="#59529c"/><stop offset="0.313" stop-color="#513e82"/><stop offset="0.323" stop-color="#3f264a"/><stop offset="0.328" stop-color="#39203a"/><stop offset="0.338" stop-color="#361e33"/><stop offset="0.388" stop-color="#381f37"/><stop offset="0.393" stop-color="#3b223f"/><stop offset="0.403" stop-color="#503a7d"/><stop offset="0.408" stop-color="#534288"/><stop offset="0.418" stop-color="#584e98"/><stop offset="0.453" stop-color="#5c63ab"/><stop offset="0.517" stop-color="#59519b"/><stop offset="0.537" stop-color="#4a336b"/><stop offset="0.552" stop-color="#534187"/><stop offset="0.572" stop-color="#584f99"/><stop offset="0.597" stop-color="#5a59a2"/><stop offset="0.627" stop-color="#58509a"/><stop offset="0.642" stop-color="#513d82"/><stop offset="0.652" stop-color="#3b2340"/><stop offset="0.667" stop-color="#351d2f"/><stop offset="1" stop-color="#341c2f"/></linearGradient><linearGradient id="g1_32"><stop offset="0" stop-color="#341c2f"/><stop offset="0.124" stop-color="#361e33"/><stop offset="0.134" stop-color="#3a213c"/><stop offset="0.149" stop-color="#534086"/><stop offset="0.179" stop-color="#5e6db4"/><stop offset="0.219" stop-color="#5c85c5"/><stop offset="0.269" stop-color="#5c86c5"/><stop offset="0.299" stop-color="#5f6eb4"/><stop offset="0.313" stop-color="#59539c"/><stop offset="0.328" stop-color="#4c3571"/><stop offset="0.333" stop-color="#472f61"/><stop offset="0.343" stop-color="#442c59"/><stop offset="0.403" stop-color="#432b56"/><stop offset="0.438" stop-color="#513c7f"/><stop offset="0.453" stop-color="#523f84"/><stop offset="0.507" stop-color="#472f62"/><stop offset="0.527" stop-color="#39203b"/><stop offset="0.537" stop-color="#381f36"/><stop offset="0.597" stop-color="#4a336c"/><stop offset="0.627" stop-color="#442c58"/><stop offset="0.647" stop-color="#381f38"/><stop offset="0.662" stop-color="#351d2f"/><stop offset="1" stop-color="#341c2f"/></linearGradient><linearGradient id="g1_33"><stop offset="0" stop-color="#341c2f"/><stop offset="0.114" stop-color="#39203a"/><stop offset="0.124" stop-color="#422a55"/><stop offset="0.139" stop-color="#584f99"/><stop offset="0.149" stop-color="#5d65ad"/><stop offset="0.169" stop-color="#5e79bc"/><stop offset="0.279" stop-color="#5d83c3"/><stop offset="0.328" stop-color="#5b5ca5"/><stop offset="0.398" stop-color="#584f99"/><stop offset="0.408" stop-color="#513c7f"/><stop offset="0.418" stop-color="#40284e"/><stop offset="0.433" stop-color="#39203a"/><stop offset="0.532" stop-color="#351d30"/><stop offset="1" stop-color="#341c2f"/></linearGradient><linearGradient id="g1_34"><stop offset="0" stop-color="#361d32"/><stop offset="0.07" stop-color="#3a213d"/><stop offset="0.09" stop-color="#432b57"/><stop offset="0.114" stop-color="#534186"/><stop offset="0.144" stop-color="#5d83c3"/><stop offset="0.154" stop-color="#5893cd"/><stop offset="0.169" stop-color="#5798cf"/><stop offset="0.214" stop-color="#5e79bc"/><stop offset="0.264" stop-color="#5e77bb"/><stop offset="0.294" stop-color="#5c84c4"/><stop offset="0.358" stop-color="#5a8cc9"/><stop offset="0.393" stop-color="#5d7dbf"/><stop offset="0.403" stop-color="#5e6cb3"/><stop offset="0.423" stop-color="#513b7f"/><stop offset="0.438" stop-color="#39203a"/><stop offset="0.453" stop-color="#351d30"/><stop offset="0.846" stop-color="#371f36"/><stop offset="1" stop-color="#341c2f"/></linearGradient><linearGradient id="g1_35"><stop offset="0" stop-color="#3f264a"/><stop offset="0.04" stop-color="#503b7e"/><stop offset="0.109" stop-color="#5d69b0"/><stop offset="0.129" stop-color="#5c84c4"/><stop offset="0.139" stop-color="#559cd2"/><stop offset="0.149" stop-color="#4fa9cf"/><stop offset="0.164" stop-color="#50a8d0"/><stop offset="0.179" stop-color="#569ad0"/><stop offset="0.204" stop-color="#5e76ba"/><stop offset="0.259" stop-color="#5e6bb2"/><stop offset="0.323" stop-color="#52a4d0"/><stop offset="0.358" stop-color="#4eaccf"/><stop offset="0.393" stop-color="#559dd2"/><stop offset="0.413" stop-color="#5e6bb2"/><stop offset="0.428" stop-color="#564890"/><stop offset="0.433" stop-color="#513b7f"/><stop offset="0.443" stop-color="#39203a"/><stop offset="0.453" stop-color="#351d31"/><stop offset="0.527" stop-color="#351d30"/><stop offset="0.587" stop-color="#40274c"/><stop offset="0.647" stop-color="#351d30"/><stop offset="0.692" stop-color="#351d30"/><stop offset="0.711" stop-color="#3a213c"/><stop offset="0.761" stop-color="#4e3877"/><stop offset="0.841" stop-color="#503a7c"/><stop offset="0.92" stop-color="#4c3571"/><stop offset="0.93" stop-color="#483167"/><stop offset="0.95" stop-color="#392039"/><stop offset="1" stop-color="#341c2f"/></linearGradient><linearGradient id="g1_36"><stop offset="0" stop-color="#59519a"/><stop offset="0.07" stop-color="#5d7dbf"/><stop offset="0.1" stop-color="#559cd1"/><stop offset="0.144" stop-color="#4cb0ce"/><stop offset="0.174" stop-color="#559cd2"/><stop offset="0.189" stop-color="#5d7fc0"/><stop offset="0.199" stop-color="#5e77bb"/><stop offset="0.264" stop-color="#5e6bb1"/><stop offset="0.323" stop-color="#53a1d1"/><stop offset="0.358" stop-color="#50a8d0"/><stop offset="0.388" stop-color="#559dd2"/><stop offset="0.403" stop-color="#5b89c7"/><stop offset="0.428" stop-color="#59519b"/><stop offset="0.433" stop-color="#54438a"/><stop offset="0.443" stop-color="#3f274a"/><stop offset="0.448" stop-color="#39203a"/><stop offset="0.453" stop-color="#381f37"/><stop offset="0.527" stop-color="#39203a"/><stop offset="0.532" stop-color="#3d2444"/><stop offset="0.542" stop-color="#4d3774"/><stop offset="0.547" stop-color="#523e83"/><stop offset="0.587" stop-color="#59529c"/><stop offset="0.627" stop-color="#513d81"/><stop offset="0.642" stop-color="#39203a"/><stop offset="0.672" stop-color="#341c2f"/><stop offset="0.697" stop-color="#392039"/><stop offset="0.711" stop-color="#503b7f"/><stop offset="0.751" stop-color="#5b5ba4"/><stop offset="0.92" stop-color="#5b5ca5"/><stop offset="0.94" stop-color="#574c95"/><stop offset="0.95" stop-color="#513c80"/><stop offset="0.97" stop-color="#3b223e"/><stop offset="1" stop-color="#341c2f"/></linearGradient><linearGradient id="g1_37"><stop offset="0" stop-color="#5d82c3"/><stop offset="0.03" stop-color="#549fd2"/><stop offset="0.055" stop-color="#4daece"/><stop offset="0.1" stop-color="#5eb89e"/><stop offset="0.114" stop-color="#59b7a8"/><stop offset="0.134" stop-color="#4cb0ce"/><stop offset="0.159" stop-color="#569bd1"/><stop offset="0.194" stop-color="#5e79bd"/><stop offset="0.274" stop-color="#5f73b8"/><stop offset="0.358" stop-color="#5d82c3"/><stop offset="0.403" stop-color="#5f6fb5"/><stop offset="0.433" stop-color="#55468e"/><stop offset="0.448" stop-color="#523e83"/><stop offset="0.527" stop-color="#55458c"/><stop offset="0.552" stop-color="#5d64ac"/><stop offset="0.592" stop-color="#5e76ba"/><stop offset="0.627" stop-color="#5a5aa3"/><stop offset="0.637" stop-color="#524085"/><stop offset="0.647" stop-color="#39203a"/><stop offset="0.667" stop-color="#341c2f"/><stop offset="0.692" stop-color="#381f37"/><stop offset="0.697" stop-color="#3f274c"/><stop offset="0.701" stop-color="#4e3878"/><stop offset="0.711" stop-color="#58509a"/><stop offset="0.751" stop-color="#5e79bc"/><stop offset="0.841" stop-color="#5d81c2"/><stop offset="0.92" stop-color="#5e7abd"/><stop offset="0.935" stop-color="#5f70b6"/><stop offset="0.96" stop-color="#574a93"/><stop offset="0.97" stop-color="#503a7d"/><stop offset="0.98" stop-color="#3a213c"/><stop offset="1" stop-color="#341c2f"/></linearGradient><linearGradient id="g1_38"><stop offset="0" stop-color="#4fb2c4"/><stop offset="0.065" stop-color="#73bc76"/><stop offset="0.1" stop-color="#82be5e"/><stop offset="0.109" stop-color="#74bc74"/><stop offset="0.124" stop-color="#50b3c0"/><stop offset="0.134" stop-color="#54a0d1"/><stop offset="0.149" stop-color="#5c85c5"/><stop offset="0.184" stop-color="#5e78bb"/><stop offset="0.294" stop-color="#5e76ba"/><stop offset="0.348" stop-color="#59559e"/><stop offset="0.413" stop-color="#55468d"/><stop offset="0.443" stop-color="#5e6db3"/><stop offset="0.468" stop-color="#5e79bc"/><stop offset="0.592" stop-color="#5c86c5"/><stop offset="0.627" stop-color="#5d66ae"/><stop offset="0.637" stop-color="#564a93"/><stop offset="0.642" stop-color="#4e3776"/><stop offset="0.647" stop-color="#3e2547"/><stop offset="0.652" stop-color="#381f37"/><stop offset="0.667" stop-color="#361e33"/><stop offset="0.692" stop-color="#3a213b"/><stop offset="0.701" stop-color="#513d81"/><stop offset="0.706" stop-color="#574b94"/><stop offset="0.716" stop-color="#5b5da6"/><stop offset="0.751" stop-color="#5d81c2"/><stop offset="0.841" stop-color="#5b8ac8"/><stop offset="0.925" stop-color="#5d81c2"/><stop offset="0.965" stop-color="#59549d"/><stop offset="0.975" stop-color="#503b7e"/><stop offset="0.98" stop-color="#412951"/><stop offset="0.985" stop-color="#382038"/><stop offset="1" stop-color="#341c2f"/></linearGradient><linearGradient id="g1_39"><stop offset="0" stop-color="#68ba89"/><stop offset="0.03" stop-color="#80be5f"/><stop offset="0.07" stop-color="#8bc15b"/><stop offset="0.1" stop-color="#81be5f"/><stop offset="0.104" stop-color="#78bd6d"/><stop offset="0.119" stop-color="#4eb2c7"/><stop offset="0.124" stop-color="#53a1d1"/><stop offset="0.134" stop-color="#5d7ebf"/><stop offset="0.149" stop-color="#5e6cb2"/><stop offset="0.299" stop-color="#5f72b7"/><stop offset="0.333" stop-color="#59519b"/><stop offset="0.353" stop-color="#4a336b"/><stop offset="0.383" stop-color="#442c5a"/><stop offset="0.398" stop-color="#452d5c"/><stop offset="0.403" stop-color="#473063"/><stop offset="0.408" stop-color="#4f397a"/><stop offset="0.423" stop-color="#5f6eb4"/><stop offset="0.438" stop-color="#559dd2"/><stop offset="0.478" stop-color="#50b3c2"/><stop offset="0.502" stop-color="#52b4ba"/><stop offset="0.537" stop-color="#4daecf"/><stop offset="0.552" stop-color="#549ed2"/><stop offset="0.567" stop-color="#5e7bbe"/><stop offset="0.602" stop-color="#5f70b6"/><stop offset="0.627" stop-color="#5b5ba4"/><stop offset="0.652" stop-color="#462f60"/><stop offset="0.692" stop-color="#472f61"/><stop offset="0.711" stop-color="#574b94"/><stop offset="0.756" stop-color="#5f71b7"/><stop offset="0.92" stop-color="#5f70b6"/><stop offset="0.945" stop-color="#5d67ae"/><stop offset="0.965" stop-color="#59539d"/><stop offset="0.975" stop-color="#503b7e"/><stop offset="0.98" stop-color="#412951"/><stop offset="0.985" stop-color="#382038"/><stop offset="1" stop-color="#341c2f"/></linearGradient><linearGradient id="g1_40"><stop offset="0" stop-color="#6fbb7d"/><stop offset="0.03" stop-color="#7cbd66"/><stop offset="0.06" stop-color="#78bd6d"/><stop offset="0.08" stop-color="#6ebb80"/><stop offset="0.104" stop-color="#55b6b2"/><stop offset="0.114" stop-color="#52a3d1"/><stop offset="0.129" stop-color="#5e69b0"/><stop offset="0.144" stop-color="#5a5aa3"/><stop offset="0.294" stop-color="#5e6ab1"/><stop offset="0.348" stop-color="#59539c"/><stop offset="0.398" stop-color="#59519b"/><stop offset="0.408" stop-color="#5b5ca5"/><stop offset="0.423" stop-color="#5698cf"/><stop offset="0.428" stop-color="#50a8d0"/><stop offset="0.438" stop-color="#52b4bb"/><stop offset="0.463" stop-color="#62b995"/><stop offset="0.498" stop-color="#74bc74"/><stop offset="0.522" stop-color="#69ba89"/><stop offset="0.547" stop-color="#53b5b7"/><stop offset="0.557" stop-color="#4fa9d0"/><stop offset="0.562" stop-color="#5698cf"/><stop offset="0.572" stop-color="#5e77bb"/><stop offset="0.582" stop-color="#5c63ab"/><stop offset="0.627" stop-color="#534287"/><stop offset="0.672" stop-color="#5b5ba4"/><stop offset="0.697" stop-color="#584f99"/><stop offset="0.721" stop-color="#513c7f"/><stop offset="0.761" stop-color="#58509a"/><stop offset="0.95" stop-color="#574c96"/><stop offset="0.97" stop-color="#503a7c"/><stop offset="0.98" stop-color="#3a213c"/><stop offset="1" stop-color="#341c2f"/></linearGradient><linearGradient id="g1_41"><stop offset="0" stop-color="#57b6ae"/><stop offset="0.03" stop-color="#58b7ac"/><stop offset="0.08" stop-color="#4daece"/><stop offset="0.1" stop-color="#5699d0"/><stop offset="0.119" stop-color="#5d64ac"/><stop offset="0.129" stop-color="#5a5aa3"/><stop offset="0.294" stop-color="#5e6ab1"/><stop offset="0.358" stop-color="#5c85c5"/><stop offset="0.403" stop-color="#5d80c1"/><stop offset="0.418" stop-color="#53a0d1"/><stop offset="0.433" stop-color="#50b2c2"/><stop offset="0.468" stop-color="#62b996"/><stop offset="0.498" stop-color="#6fbb7e"/><stop offset="0.527" stop-color="#61b897"/><stop offset="0.552" stop-color="#4fb2c4"/><stop offset="0.567" stop-color="#559ed2"/><stop offset="0.592" stop-color="#5d65ad"/><stop offset="0.622" stop-color="#524085"/><stop offset="0.632" stop-color="#54458b"/><stop offset="0.652" stop-color="#5e6cb3"/><stop offset="0.672" stop-color="#5e76ba"/><stop offset="0.687" stop-color="#5f6fb5"/><stop offset="0.706" stop-color="#59529b"/><stop offset="0.711" stop-color="#544389"/><stop offset="0.721" stop-color="#40284d"/><stop offset="0.731" stop-color="#3a213c"/><stop offset="0.766" stop-color="#40284e"/><stop offset="0.925" stop-color="#3f264a"/><stop offset="0.955" stop-color="#422a55"/><stop offset="0.98" stop-color="#361e34"/><stop offset="1" stop-color="#351d30"/></linearGradient><linearGradient id="g1_42"><stop offset="0" stop-color="#5798cf"/><stop offset="0.065" stop-color="#5d7ec0"/><stop offset="0.114" stop-color="#584e98"/><stop offset="0.144" stop-color="#5f6eb4"/><stop offset="0.169" stop-color="#5d7dbf"/><stop offset="0.294" stop-color="#5c85c5"/><stop offset="0.318" stop-color="#549fd2"/><stop offset="0.348" stop-color="#4cb0cd"/><stop offset="0.383" stop-color="#4cafce"/><stop offset="0.438" stop-color="#569bd1"/><stop offset="0.483" stop-color="#4cb0ce"/><stop offset="0.507" stop-color="#4db0cc"/><stop offset="0.547" stop-color="#569bd1"/><stop offset="0.577" stop-color="#559cd2"/><stop offset="0.632" stop-color="#5b5ca5"/><stop offset="0.672" stop-color="#5f73b8"/><stop offset="0.697" stop-color="#5c61a9"/><stop offset="0.706" stop-color="#584f99"/><stop offset="0.711" stop-color="#523f84"/><stop offset="0.721" stop-color="#3a213b"/><stop offset="0.731" stop-color="#361d32"/><stop offset="1" stop-color="#381f37"/></linearGradient><linearGradient id="g1_43"><stop offset="0" stop-color="#5c61a9"/><stop offset="0.06" stop-color="#584e98"/><stop offset="0.09" stop-color="#503a7c"/><stop offset="0.104" stop-color="#462e5f"/><stop offset="0.109" stop-color="#472f62"/><stop offset="0.124" stop-color="#59529c"/><stop offset="0.129" stop-color="#5b5ca5"/><stop offset="0.169" stop-color="#5b89c7"/><stop offset="0.299" stop-color="#53a2d1"/><stop offset="0.318" stop-color="#4cb0cd"/><stop offset="0.363" stop-color="#55b6b3"/><stop offset="0.393" stop-color="#4eb2c7"/><stop offset="0.408" stop-color="#559dd2"/><stop offset="0.428" stop-color="#5f6eb4"/><stop offset="0.443" stop-color="#5c63ab"/><stop offset="0.498" stop-color="#5f73b8"/><stop offset="0.547" stop-color="#5c63ab"/><stop offset="0.557" stop-color="#5e6cb3"/><stop offset="0.582" stop-color="#559cd1"/><stop offset="0.612" stop-color="#559dd2"/><stop offset="0.642" stop-color="#5f72b7"/><stop offset="0.662" stop-color="#5a57a0"/><stop offset="0.692" stop-color="#574b94"/><stop offset="0.706" stop-color="#4e3776"/><stop offset="0.716" stop-color="#3a213b"/><stop offset="0.736" stop-color="#341c2f"/><stop offset="0.821" stop-color="#361d32"/><stop offset="0.861" stop-color="#422a54"/><stop offset="0.95" stop-color="#432b56"/><stop offset="0.985" stop-color="#483166"/><stop offset="1" stop-color="#4f397a"/></linearGradient><linearGradient id="g1_44"><stop offset="0" stop-color="#4b346e"/><stop offset="0.03" stop-color="#462f60"/><stop offset="0.07" stop-color="#3a213c"/><stop offset="0.104" stop-color="#371f35"/><stop offset="0.114" stop-color="#3e2649"/><stop offset="0.124" stop-color="#534186"/><stop offset="0.129" stop-color="#574b95"/><stop offset="0.169" stop-color="#5e7bbd"/><stop offset="0.239" stop-color="#5893cd"/><stop offset="0.358" stop-color="#4daece"/><stop offset="0.383" stop-color="#50a8d0"/><stop offset="0.398" stop-color="#5895ce"/><stop offset="0.413" stop-color="#5e6bb2"/><stop offset="0.428" stop-color="#524085"/><stop offset="0.443" stop-color="#493269"/><stop offset="0.498" stop-color="#513c80"/><stop offset="0.522" stop-color="#503a7c"/><stop offset="0.547" stop-color="#4a336b"/><stop offset="0.562" stop-color="#564992"/><stop offset="0.587" stop-color="#5a8cc9"/><stop offset="0.612" stop-color="#50a7d0"/><stop offset="0.637" stop-color="#559ed2"/><stop offset="0.647" stop-color="#5a8cc9"/><stop offset="0.657" stop-color="#5e6db4"/><stop offset="0.667" stop-color="#55458c"/><stop offset="0.677" stop-color="#452e5d"/><stop offset="0.697" stop-color="#3b223f"/><stop offset="0.726" stop-color="#351c2f"/><stop offset="0.811" stop-color="#392039"/><stop offset="0.821" stop-color="#3f274b"/><stop offset="0.836" stop-color="#523e82"/><stop offset="0.851" stop-color="#58509a"/><stop offset="1" stop-color="#5a59a2"/></linearGradient><linearGradient id="g1_45"><stop offset="0" stop-color="#3d2546"/><stop offset="0.02" stop-color="#4f397a"/><stop offset="0.03" stop-color="#513c7f"/><stop offset="0.035" stop-color="#4f397a"/><stop offset="0.055" stop-color="#3a213b"/><stop offset="0.07" stop-color="#351d31"/><stop offset="0.104" stop-color="#351d31"/><stop offset="0.119" stop-color="#3a213c"/><stop offset="0.139" stop-color="#503b7e"/><stop offset="0.174" stop-color="#5b5da6"/><stop offset="0.234" stop-color="#5f71b7"/><stop offset="0.358" stop-color="#5e7bbe"/><stop offset="0.388" stop-color="#5e74b9"/><stop offset="0.403" stop-color="#5b5ca5"/><stop offset="0.413" stop-color="#534287"/><stop offset="0.423" stop-color="#3c2342"/><stop offset="0.428" stop-color="#381f38"/><stop offset="0.552" stop-color="#39203a"/><stop offset="0.562" stop-color="#3e2649"/><stop offset="0.577" stop-color="#574b94"/><stop offset="0.592" stop-color="#5f71b7"/><stop offset="0.622" stop-color="#54a0d1"/><stop offset="0.637" stop-color="#50a7d0"/><stop offset="0.652" stop-color="#549fd1"/><stop offset="0.662" stop-color="#5d7dbf"/><stop offset="0.672" stop-color="#584f99"/><stop offset="0.677" stop-color="#4f397b"/><stop offset="0.682" stop-color="#40284f"/><stop offset="0.687" stop-color="#3a213b"/><stop offset="0.706" stop-color="#361e33"/><stop offset="0.766" stop-color="#371e35"/><stop offset="0.786" stop-color="#3a213b"/><stop offset="0.811" stop-color="#523e82"/><stop offset="0.846" stop-color="#5f71b7"/><stop offset="0.965" stop-color="#5e77bb"/><stop offset="1" stop-color="#5f6fb5"/></linearGradient><linearGradient id="g1_46"><stop offset="0" stop-color="#503a7d"/><stop offset="0.02" stop-color="#5a58a1"/><stop offset="0.035" stop-color="#5a59a2"/><stop offset="0.05" stop-color="#524085"/><stop offset="0.06" stop-color="#3d2444"/><stop offset="0.065" stop-color="#371f36"/><stop offset="0.08" stop-color="#351c2f"/><stop offset="0.114" stop-color="#3a213b"/><stop offset="0.184" stop-color="#503a7d"/><stop offset="0.229" stop-color="#55478f"/><stop offset="0.299" stop-color="#584f99"/><stop offset="0.373" stop-color="#55478e"/><stop offset="0.388" stop-color="#544389"/><stop offset="0.398" stop-color="#4f397a"/><stop offset="0.413" stop-color="#39203a"/><stop offset="0.453" stop-color="#351c2f"/><stop offset="0.473" stop-color="#39203a"/><stop offset="0.488" stop-color="#473064"/><stop offset="0.502" stop-color="#503b7e"/><stop offset="0.522" stop-color="#523f83"/><stop offset="0.547" stop-color="#4d3673"/><stop offset="0.572" stop-color="#503a7e"/><stop offset="0.617" stop-color="#5f73b8"/><stop offset="0.647" stop-color="#549fd2"/><stop offset="0.657" stop-color="#52a3d1"/><stop offset="0.667" stop-color="#5b8cc8"/><stop offset="0.682" stop-color="#59529c"/><stop offset="0.697" stop-color="#4b346e"/><stop offset="0.706" stop-color="#462f5f"/><stop offset="0.726" stop-color="#452d5c"/><stop offset="0.746" stop-color="#473062"/><stop offset="0.781" stop-color="#523e82"/><stop offset="0.806" stop-color="#5b5ca5"/><stop offset="0.846" stop-color="#5b89c7"/><stop offset="0.95" stop-color="#5a8cc9"/><stop offset="0.985" stop-color="#5d83c3"/><stop offset="1" stop-color="#5f72b7"/></linearGradient><linearGradient id="g1_47"><stop offset="0" stop-color="#544389"/><stop offset="0.02" stop-color="#5d66ad"/><stop offset="0.035" stop-color="#5d66ae"/><stop offset="0.05" stop-color="#574b94"/><stop offset="0.055" stop-color="#513d80"/><stop offset="0.06" stop-color="#422b55"/><stop offset="0.065" stop-color="#392039"/><stop offset="0.075" stop-color="#351d30"/><stop offset="0.085" stop-color="#361e33"/><stop offset="0.095" stop-color="#3c2342"/><stop offset="0.109" stop-color="#503b7e"/><stop offset="0.134" stop-color="#564a92"/><stop offset="0.159" stop-color="#513c7f"/><stop offset="0.179" stop-color="#3a213d"/><stop offset="0.184" stop-color="#392039"/><stop offset="0.294" stop-color="#3e2547"/><stop offset="0.443" stop-color="#341c2f"/><stop offset="0.458" stop-color="#351d31"/><stop offset="0.468" stop-color="#3b223e"/><stop offset="0.478" stop-color="#513c80"/><stop offset="0.493" stop-color="#58509a"/><stop offset="0.517" stop-color="#5b5ea7"/><stop offset="0.567" stop-color="#59529c"/><stop offset="0.622" stop-color="#5c61aa"/><stop offset="0.647" stop-color="#5d7cbf"/><stop offset="0.662" stop-color="#53a0d1"/><stop offset="0.672" stop-color="#569bd1"/><stop offset="0.692" stop-color="#5e69b0"/><stop offset="0.706" stop-color="#5b5da6"/><stop offset="0.776" stop-color="#5c62aa"/><stop offset="0.806" stop-color="#5e7bbd"/><stop offset="0.841" stop-color="#5c88c7"/><stop offset="0.95" stop-color="#5c85c4"/><stop offset="0.985" stop-color="#5e76ba"/><stop offset="1" stop-color="#5b5fa8"/></linearGradient><linearGradient id="g1_48"><stop offset="0" stop-color="#503a7d"/><stop offset="0.02" stop-color="#5a58a1"/><stop offset="0.035" stop-color="#5a59a2"/><stop offset="0.05" stop-color="#524085"/><stop offset="0.06" stop-color="#3d2444"/><stop offset="0.065" stop-color="#371f36"/><stop offset="0.08" stop-color="#361d32"/><stop offset="0.09" stop-color="#3d2444"/><stop offset="0.1" stop-color="#524085"/><stop offset="0.104" stop-color="#564a92"/><stop offset="0.134" stop-color="#5c62aa"/><stop offset="0.164" stop-color="#564a92"/><stop offset="0.169" stop-color="#524085"/><stop offset="0.179" stop-color="#3d2444"/><stop offset="0.189" stop-color="#361d32"/><stop offset="0.448" stop-color="#341c2f"/><stop offset="0.463" stop-color="#381f36"/><stop offset="0.468" stop-color="#3e2547"/><stop offset="0.473" stop-color="#4b346e"/><stop offset="0.478" stop-color="#534287"/><stop offset="0.483" stop-color="#574c96"/><stop offset="0.498" stop-color="#5b5ba4"/><stop offset="0.517" stop-color="#5d66ae"/><stop offset="0.567" stop-color="#5a59a2"/><stop offset="0.597" stop-color="#5d67ae"/><stop offset="0.642" stop-color="#59559f"/><stop offset="0.652" stop-color="#5c61a9"/><stop offset="0.667" stop-color="#559cd1"/><stop offset="0.677" stop-color="#50a7d0"/><stop offset="0.701" stop-color="#5a8eca"/><stop offset="0.796" stop-color="#5b89c7"/><stop offset="0.856" stop-color="#5e69b0"/><stop offset="0.945" stop-color="#5d68af"/><stop offset="0.985" stop-color="#5a57a0"/><stop offset="1" stop-color="#524085"/></linearGradient><linearGradient id="g1_49"><stop offset="0" stop-color="#3b223f"/><stop offset="0.02" stop-color="#4e3877"/><stop offset="0.03" stop-color="#503b7f"/><stop offset="0.035" stop-color="#4e3878"/><stop offset="0.055" stop-color="#39203a"/><stop offset="0.08" stop-color="#361d32"/><stop offset="0.09" stop-color="#3d2444"/><stop offset="0.1" stop-color="#524085"/><stop offset="0.104" stop-color="#564a92"/><stop offset="0.134" stop-color="#5c62aa"/><stop offset="0.164" stop-color="#564a92"/><stop offset="0.169" stop-color="#524085"/><stop offset="0.179" stop-color="#3d2444"/><stop offset="0.189" stop-color="#351d31"/><stop offset="0.453" stop-color="#351c2f"/><stop offset="0.468" stop-color="#39203a"/><stop offset="0.483" stop-color="#513d81"/><stop offset="0.502" stop-color="#584e98"/><stop offset="0.517" stop-color="#59549d"/><stop offset="0.567" stop-color="#564991"/><stop offset="0.602" stop-color="#59539d"/><stop offset="0.632" stop-color="#534389"/><stop offset="0.647" stop-color="#4d3673"/><stop offset="0.657" stop-color="#574b94"/><stop offset="0.672" stop-color="#5992cc"/><stop offset="0.682" stop-color="#4eabcf"/><stop offset="0.726" stop-color="#4faacf"/><stop offset="0.766" stop-color="#559dd2"/><stop offset="0.796" stop-color="#5c84c4"/><stop offset="0.851" stop-color="#54448b"/><stop offset="0.94" stop-color="#534288"/><stop offset="0.97" stop-color="#503a7c"/><stop offset="0.985" stop-color="#483166"/><stop offset="1" stop-color="#3a213b"/></linearGradient><linearGradient id="g1_50"><stop offset="0" stop-color="#351d31"/><stop offset="0.085" stop-color="#361e32"/><stop offset="0.095" stop-color="#3c2342"/><stop offset="0.109" stop-color="#503b7e"/><stop offset="0.134" stop-color="#564a92"/><stop offset="0.159" stop-color="#503b7e"/><stop offset="0.174" stop-color="#3c2342"/><stop offset="0.194" stop-color="#341c2f"/><stop offset="0.289" stop-color="#341c2f"/><stop offset="0.338" stop-color="#3b223f"/><stop offset="0.383" stop-color="#351d2f"/><stop offset="0.458" stop-color="#351c2f"/><stop offset="0.478" stop-color="#392039"/><stop offset="0.517" stop-color="#473062"/><stop offset="0.542" stop-color="#40284f"/><stop offset="0.562" stop-color="#40284e"/><stop offset="0.597" stop-color="#473063"/><stop offset="0.652" stop-color="#382038"/><stop offset="0.657" stop-color="#3d2546"/><stop offset="0.662" stop-color="#503a7d"/><stop offset="0.667" stop-color="#59529c"/><stop offset="0.682" stop-color="#5892cc"/><stop offset="0.692" stop-color="#50a7d0"/><stop offset="0.701" stop-color="#4dadcf"/><stop offset="0.751" stop-color="#549fd2"/><stop offset="0.776" stop-color="#5c86c5"/><stop offset="0.801" stop-color="#5b5fa7"/><stop offset="0.826" stop-color="#4f397a"/><stop offset="0.841" stop-color="#3f264a"/><stop offset="0.851" stop-color="#3a213c"/><stop offset="1" stop-color="#351d31"/></linearGradient><linearGradient id="g1_51"><stop offset="0" stop-color="#341c2f"/><stop offset="0.085" stop-color="#351d30"/><stop offset="0.134" stop-color="#3d2546"/><stop offset="0.184" stop-color="#351d30"/><stop offset="0.289" stop-color="#351d30"/><stop offset="0.299" stop-color="#392039"/><stop offset="0.313" stop-color="#503a7d"/><stop offset="0.338" stop-color="#55468d"/><stop offset="0.358" stop-color="#4e3878"/><stop offset="0.373" stop-color="#3b223e"/><stop offset="0.388" stop-color="#351d30"/><stop offset="0.652" stop-color="#351d30"/><stop offset="0.662" stop-color="#381f37"/><stop offset="0.667" stop-color="#422a53"/><stop offset="0.672" stop-color="#534186"/><stop offset="0.682" stop-color="#5d65ad"/><stop offset="0.697" stop-color="#5c87c6"/><stop offset="0.706" stop-color="#5a8cc9"/><stop offset="0.736" stop-color="#5c86c5"/><stop offset="0.781" stop-color="#5b5ca5"/><stop offset="0.801" stop-color="#503a7d"/><stop offset="0.816" stop-color="#3b223f"/><stop offset="0.826" stop-color="#381f37"/><stop offset="1" stop-color="#341c2f"/></linearGradient><linearGradient id="g1_52"><stop offset="0" stop-color="#341c2f"/><stop offset="0.284" stop-color="#361e33"/><stop offset="0.294" stop-color="#39203a"/><stop offset="0.299" stop-color="#412951"/><stop offset="0.303" stop-color="#503a7d"/><stop offset="0.313" stop-color="#59519b"/><stop offset="0.338" stop-color="#5c61a9"/><stop offset="0.363" stop-color="#564890"/><stop offset="0.368" stop-color="#523f83"/><stop offset="0.378" stop-color="#3c2342"/><stop offset="0.393" stop-color="#351d30"/><stop offset="0.662" stop-color="#351d30"/><stop offset="0.672" stop-color="#39203a"/><stop offset="0.677" stop-color="#422a55"/><stop offset="0.682" stop-color="#503a7d"/><stop offset="0.692" stop-color="#58509a"/><stop offset="0.706" stop-color="#5b5ca5"/><stop offset="0.741" stop-color="#5a569f"/><stop offset="0.776" stop-color="#503b7e"/><stop offset="0.791" stop-color="#3e2547"/><stop offset="0.806" stop-color="#371e34"/><stop offset="1" stop-color="#341c2f"/></linearGradient><linearGradient id="g1_53"><stop offset="0" stop-color="#341c2f"/><stop offset="0.174" stop-color="#351d30"/><stop offset="0.249" stop-color="#472f61"/><stop offset="0.289" stop-color="#3f264a"/><stop offset="0.294" stop-color="#422a53"/><stop offset="0.308" stop-color="#574b94"/><stop offset="0.318" stop-color="#5a5aa3"/><stop offset="0.338" stop-color="#5c64ac"/><stop offset="0.363" stop-color="#574b94"/><stop offset="0.368" stop-color="#534186"/><stop offset="0.378" stop-color="#3d2445"/><stop offset="0.383" stop-color="#381f36"/><stop offset="0.393" stop-color="#351d30"/><stop offset="0.667" stop-color="#341c2f"/><stop offset="0.687" stop-color="#39203a"/><stop offset="0.697" stop-color="#422a55"/><stop offset="0.706" stop-color="#462e5e"/><stop offset="0.731" stop-color="#442d5b"/><stop offset="0.761" stop-color="#3a213b"/><stop offset="0.796" stop-color="#351d30"/><stop offset="1" stop-color="#341c2f"/></linearGradient><linearGradient id="g1_54"><stop offset="0" stop-color="#341c2f"/><stop offset="0.174" stop-color="#361d32"/><stop offset="0.184" stop-color="#3b223e"/><stop offset="0.194" stop-color="#493167"/><stop offset="0.204" stop-color="#503b7e"/><stop offset="0.249" stop-color="#584f99"/><stop offset="0.294" stop-color="#513c80"/><stop offset="0.333" stop-color="#584d97"/><stop offset="0.343" stop-color="#574b94"/><stop offset="0.363" stop-color="#4f3879"/><stop offset="0.373" stop-color="#3e2547"/><stop offset="0.378" stop-color="#392039"/><stop offset="0.393" stop-color="#351d31"/><stop offset="0.816" stop-color="#341c2f"/><stop offset="0.896" stop-color="#432c58"/><stop offset="0.965" stop-color="#351d31"/><stop offset="1" stop-color="#341c2f"/></linearGradient><linearGradient id="g1_55"><stop offset="0" stop-color="#341c2f"/><stop offset="0.169" stop-color="#351d30"/><stop offset="0.179" stop-color="#392039"/><stop offset="0.194" stop-color="#513c7f"/><stop offset="0.219" stop-color="#584e98"/><stop offset="0.249" stop-color="#5b5ba4"/><stop offset="0.279" stop-color="#584e98"/><stop offset="0.303" stop-color="#513d82"/><stop offset="0.323" stop-color="#40284f"/><stop offset="0.338" stop-color="#40284e"/><stop offset="0.363" stop-color="#3a213c"/><stop offset="0.403" stop-color="#3d2546"/><stop offset="0.458" stop-color="#341c2f"/><stop offset="0.811" stop-color="#341c2f"/><stop offset="0.831" stop-color="#3b223e"/><stop offset="0.841" stop-color="#483167"/><stop offset="0.851" stop-color="#503a7d"/><stop offset="0.896" stop-color="#564a92"/><stop offset="0.94" stop-color="#503a7d"/><stop offset="0.965" stop-color="#381f36"/><stop offset="1" stop-color="#341c2f"/></linearGradient><linearGradient id="g1_56"><stop offset="0" stop-color="#341c2f"/><stop offset="0.174" stop-color="#361d32"/><stop offset="0.184" stop-color="#3b223e"/><stop offset="0.194" stop-color="#493167"/><stop offset="0.204" stop-color="#503b7e"/><stop offset="0.249" stop-color="#584f99"/><stop offset="0.294" stop-color="#503b7e"/><stop offset="0.303" stop-color="#493267"/><stop offset="0.313" stop-color="#3b2340"/><stop offset="0.328" stop-color="#361e32"/><stop offset="0.358" stop-color="#382038"/><stop offset="0.378" stop-color="#503b7e"/><stop offset="0.403" stop-color="#564a92"/><stop offset="0.428" stop-color="#503b7e"/><stop offset="0.443" stop-color="#3c2342"/><stop offset="0.458" stop-color="#351d30"/><stop offset="0.811" stop-color="#351c2f"/><stop offset="0.826" stop-color="#392039"/><stop offset="0.841" stop-color="#513c7f"/><stop offset="0.871" stop-color="#584e98"/><stop offset="0.896" stop-color="#59559f"/><stop offset="0.945" stop-color="#534086"/><stop offset="0.95" stop-color="#513c7f"/><stop offset="0.965" stop-color="#392039"/><stop offset="1" stop-color="#341c2f"/></linearGradient><linearGradient id="g1_57"><stop offset="0" stop-color="#341c2f"/><stop offset="0.174" stop-color="#351d30"/><stop offset="0.249" stop-color="#472f61"/><stop offset="0.313" stop-color="#371e34"/><stop offset="0.343" stop-color="#351d30"/><stop offset="0.353" stop-color="#371f36"/><stop offset="0.358" stop-color="#3d2444"/><stop offset="0.368" stop-color="#524085"/><stop offset="0.373" stop-color="#564a92"/><stop offset="0.403" stop-color="#5c62aa"/><stop offset="0.433" stop-color="#564a92"/><stop offset="0.438" stop-color="#524085"/><stop offset="0.448" stop-color="#3d2444"/><stop offset="0.453" stop-color="#371f36"/><stop offset="0.463" stop-color="#351d30"/><stop offset="0.816" stop-color="#351d30"/><stop offset="0.831" stop-color="#3b223e"/><stop offset="0.841" stop-color="#483167"/><stop offset="0.851" stop-color="#503a7d"/><stop offset="0.896" stop-color="#564a92"/><stop offset="0.94" stop-color="#503a7d"/><stop offset="0.965" stop-color="#381f36"/><stop offset="1" stop-color="#341c2f"/></linearGradient><linearGradient id="g1_58"><stop offset="0" stop-color="#341c2f"/><stop offset="0.343" stop-color="#351d30"/><stop offset="0.353" stop-color="#371f36"/><stop offset="0.358" stop-color="#3d2444"/><stop offset="0.368" stop-color="#524085"/><stop offset="0.373" stop-color="#564a92"/><stop offset="0.403" stop-color="#5c62aa"/><stop offset="0.433" stop-color="#564a92"/><stop offset="0.438" stop-color="#524085"/><stop offset="0.448" stop-color="#3d2444"/><stop offset="0.453" stop-color="#371f36"/><stop offset="0.463" stop-color="#351d30"/><stop offset="0.816" stop-color="#341c2f"/><stop offset="0.896" stop-color="#432c58"/><stop offset="0.965" stop-color="#351d31"/><stop offset="1" stop-color="#341c2f"/></linearGradient><linearGradient id="g1_59"><stop offset="0" stop-color="#341c2f"/><stop offset="0.348" stop-color="#351d30"/><stop offset="0.363" stop-color="#3c2342"/><stop offset="0.378" stop-color="#503b7e"/><stop offset="0.403" stop-color="#564a92"/><stop offset="0.428" stop-color="#503b7e"/><stop offset="0.443" stop-color="#3c2342"/><stop offset="0.463" stop-color="#351c2f"/><stop offset="0.637" stop-color="#341c2f"/><stop offset="0.697" stop-color="#3e2648"/><stop offset="0.756" stop-color="#341c2f"/><stop offset="1" stop-color="#341c2f"/></linearGradient><linearGradient id="g1_60"><stop offset="0" stop-color="#341c2f"/><stop offset="0.08" stop-color="#3a213b"/><stop offset="0.149" stop-color="#341c2f"/><stop offset="0.348" stop-color="#341c2f"/><stop offset="0.403" stop-color="#3d2546"/><stop offset="0.458" stop-color="#351c2f"/><stop offset="0.493" stop-color="#3a213b"/><stop offset="0.517" stop-color="#412951"/><stop offset="0.567" stop-color="#351d31"/><stop offset="0.632" stop-color="#341c2f"/><stop offset="0.652" stop-color="#3c2341"/><stop offset="0.667" stop-color="#4f397b"/><stop offset="0.697" stop-color="#54448a"/><stop offset="0.716" stop-color="#503b7e"/><stop offset="0.726" stop-color="#4a336a"/><stop offset="0.741" stop-color="#3a213b"/><stop offset="0.756" stop-color="#351d30"/><stop offset="1" stop-color="#341c2f"/></linearGradient><linearGradient id="g1_61"><stop offset="0" stop-color="#341c2f"/><stop offset="0.025" stop-color="#381f37"/><stop offset="0.045" stop-color="#432b55"/><stop offset="0.08" stop-color="#4c3672"/><stop offset="0.129" stop-color="#392039"/><stop offset="0.149" stop-color="#351c2f"/><stop offset="0.458" stop-color="#351d30"/><stop offset="0.473" stop-color="#3c2342"/><stop offset="0.488" stop-color="#513b7f"/><stop offset="0.517" stop-color="#59519b"/><stop offset="0.547" stop-color="#513b7f"/><stop offset="0.562" stop-color="#3c2342"/><stop offset="0.567" stop-color="#381f37"/><stop offset="0.632" stop-color="#351c2f"/><stop offset="0.647" stop-color="#3a213c"/><stop offset="0.657" stop-color="#4f397b"/><stop offset="0.662" stop-color="#534187"/><stop offset="0.677" stop-color="#584e98"/><stop offset="0.697" stop-color="#59549e"/><stop offset="0.731" stop-color="#513c7f"/><stop offset="0.746" stop-color="#392039"/><stop offset="0.756" stop-color="#351d30"/><stop offset="1" stop-color="#341c2f"/></linearGradient><linearGradient id="g1_62"><stop offset="0" stop-color="#341c2f"/><stop offset="0.025" stop-color="#39203a"/><stop offset="0.04" stop-color="#483164"/><stop offset="0.055" stop-color="#4f397a"/><stop offset="0.08" stop-color="#524085"/><stop offset="0.095" stop-color="#503b7e"/><stop offset="0.134" stop-color="#382038"/><stop offset="0.149" stop-color="#351d2f"/><stop offset="0.453" stop-color="#351d30"/><stop offset="0.463" stop-color="#371f36"/><stop offset="0.468" stop-color="#3d2444"/><stop offset="0.478" stop-color="#524085"/><stop offset="0.483" stop-color="#564a92"/><stop offset="0.517" stop-color="#5e6cb3"/><stop offset="0.552" stop-color="#564a92"/><stop offset="0.557" stop-color="#524085"/><stop offset="0.567" stop-color="#3d2444"/><stop offset="0.572" stop-color="#371f36"/><stop offset="0.582" stop-color="#351d30"/><stop offset="0.642" stop-color="#361e33"/><stop offset="0.647" stop-color="#392039"/><stop offset="0.662" stop-color="#513c7f"/><stop offset="0.697" stop-color="#584e98"/><stop offset="0.726" stop-color="#513b7f"/><stop offset="0.741" stop-color="#3c2443"/><stop offset="0.756" stop-color="#351d30"/><stop offset="1" stop-color="#341c2f"/></linearGradient><linearGradient id="g1_63"><stop offset="0" stop-color="#341c2f"/><stop offset="0.025" stop-color="#381f37"/><stop offset="0.045" stop-color="#432b55"/><stop offset="0.08" stop-color="#4c3672"/><stop offset="0.129" stop-color="#392039"/><stop offset="0.149" stop-color="#351c2f"/><stop offset="0.453" stop-color="#351d30"/><stop offset="0.463" stop-color="#371f36"/><stop offset="0.468" stop-color="#3d2444"/><stop offset="0.478" stop-color="#524085"/><stop offset="0.483" stop-color="#564a92"/><stop offset="0.517" stop-color="#5e6cb3"/><stop offset="0.552" stop-color="#564a92"/><stop offset="0.557" stop-color="#524085"/><stop offset="0.567" stop-color="#3d2444"/><stop offset="0.572" stop-color="#371f36"/><stop offset="0.582" stop-color="#351d30"/><stop offset="0.642" stop-color="#351d31"/><stop offset="0.697" stop-color="#493268"/><stop offset="0.736" stop-color="#392039"/><stop offset="0.756" stop-color="#351c2f"/><stop offset="1" stop-color="#341c2f"/></linearGradient><linearGradient id="g1_64"><stop offset="0" stop-color="#341c2f"/><stop offset="0.08" stop-color="#3a213b"/><stop offset="0.149" stop-color="#341c2f"/><stop offset="0.458" stop-color="#351d30"/><stop offset="0.473" stop-color="#3c2342"/><stop offset="0.488" stop-color="#513b7f"/><stop offset="0.517" stop-color="#59519b"/><stop offset="0.547" stop-color="#513b7f"/><stop offset="0.562" stop-color="#3c2342"/><stop offset="0.577" stop-color="#351d30"/><stop offset="1" stop-color="#341c2f"/></linearGradient><linearGradient id="g1_65"><stop offset="0" stop-color="#341c2f"/><stop offset="0.458" stop-color="#341c2f"/><stop offset="0.493" stop-color="#3a213b"/><stop offset="0.517" stop-color="#412951"/><stop offset="0.542" stop-color="#3a213b"/><stop offset="0.577" stop-color="#341c2f"/><stop offset="1" stop-color="#341c2f"/></linearGradient><linearGradient id="g1_66"><stop offset="0" stop-color="#341c2f"/><stop offset="1" stop-color="#341c2f"/></linearGradient><linearGradient id="g1_67"><stop offset="0" stop-color="#341c2f"/><stop offset="1" stop-color="#341c2f"/></linearGradient><linearGradient id="g1_68"><stop offset="0" stop-color="#341c2f"/><stop offset="1" stop-color="#341c2f"/></linearGradient><linearGradient id="g1_69"><stop offset="0" stop-color="#341c2f"/><stop offset="1" stop-color="#341c2f"/></linearGradient><linearGradient id="g1_70"><stop offset="0" stop-color="#341c2f"/><stop offset="1" stop-color="#341c2f"/></linearGradient><linearGradient id="g2_0"><stop offset="0" stop-color="#341c2f"/><stop offset="0.537" stop-color="#341c2f"/><stop offset="0.617" stop-color="#392039"/><stop offset="0.692" stop-color="#341c2f"/><stop offset="1" stop-color="#341c2f"/></linearGradient><linearGradient id="g2_1"><stop offset="0" stop-color="#341c2f"/><stop offset="0.537" stop-color="#351d30"/><stop offset="0.557" stop-color="#3a213d"/><stop offset="0.582" stop-color="#513b7f"/><stop offset="0.617" stop-color="#544389"/><stop offset="0.657" stop-color="#503a7d"/><stop offset="0.677" stop-color="#39203a"/><stop offset="0.692" stop-color="#351d31"/><stop offset="1" stop-color="#341c2f"/></linearGradient><linearGradient id="g2_2"><stop offset="0" stop-color="#341c2f"/><stop offset="0.532" stop-color="#351d30"/><stop offset="0.547" stop-color="#3a213d"/><stop offset="0.557" stop-color="#513c7f"/><stop offset="0.567" stop-color="#58509a"/><stop offset="0.587" stop-color="#5d65ad"/><stop offset="0.617" stop-color="#5f6eb4"/><stop offset="0.647" stop-color="#5d69b0"/><stop offset="0.662" stop-color="#5a59a2"/><stop offset="0.677" stop-color="#503a7d"/><stop offset="0.687" stop-color="#3c2341"/><stop offset="0.692" stop-color="#392039"/><stop offset="0.781" stop-color="#3a213d"/><stop offset="0.836" stop-color="#341c2f"/><stop offset="1" stop-color="#341c2f"/></linearGradient><linearGradient id="g2_3"><stop offset="0" stop-color="#341c2f"/><stop offset="0.532" stop-color="#351d31"/><stop offset="0.542" stop-color="#39203a"/><stop offset="0.552" stop-color="#523e83"/><stop offset="0.562" stop-color="#5b5ba4"/><stop offset="0.587" stop-color="#5c84c4"/><stop offset="0.617" stop-color="#5991cb"/><stop offset="0.657" stop-color="#5d7fc1"/><stop offset="0.682" stop-color="#55468d"/><stop offset="0.692" stop-color="#503a7d"/><stop offset="0.716" stop-color="#564992"/><stop offset="0.791" stop-color="#55468e"/><stop offset="0.801" stop-color="#513c7f"/><stop offset="0.821" stop-color="#3a213b"/><stop offset="0.831" stop-color="#361d32"/><stop offset="1" stop-color="#341c2f"/></linearGradient><linearGradient id="g2_4"><stop offset="0" stop-color="#351d31"/><stop offset="0.532" stop-color="#371f36"/><stop offset="0.542" stop-color="#3c2342"/><stop offset="0.552" stop-color="#534186"/><stop offset="0.562" stop-color="#5b5da6"/><stop offset="0.587" stop-color="#5c86c5"/><stop offset="0.617" stop-color="#5893cd"/><stop offset="0.652" stop-color="#5b89c7"/><stop offset="0.687" stop-color="#59549d"/><stop offset="0.716" stop-color="#5f73b8"/><stop offset="0.791" stop-color="#5f6fb5"/><stop offset="0.811" stop-color="#584d97"/><stop offset="0.821" stop-color="#4c3671"/><stop offset="0.826" stop-color="#3f274b"/><stop offset="0.831" stop-color="#382038"/><stop offset="0.841" stop-color="#351d30"/><stop offset="1" stop-color="#341c2f"/></linearGradient><linearGradient id="g2_5"><stop offset="0" stop-color="#40284f"/><stop offset="0.015" stop-color="#3f274b"/><stop offset="0.03" stop-color="#392039"/><stop offset="0.055" stop-color="#371e34"/><stop offset="0.065" stop-color="#3a213b"/><stop offset="0.095" stop-color="#4a336b"/><stop offset="0.109" stop-color="#4d3673"/><stop offset="0.144" stop-color="#493269"/><stop offset="0.164" stop-color="#3a213d"/><stop offset="0.184" stop-color="#351d30"/><stop offset="0.338" stop-color="#351d30"/><stop offset="0.358" stop-color="#3a213b"/><stop offset="0.393" stop-color="#4a346d"/><stop offset="0.537" stop-color="#4c3672"/><stop offset="0.567" stop-color="#5a58a1"/><stop offset="0.592" stop-color="#5e6db4"/><stop offset="0.647" stop-color="#5f6eb4"/><stop offset="0.682" stop-color="#5a59a3"/><stop offset="0.716" stop-color="#5892cc"/><stop offset="0.781" stop-color="#5893cd"/><stop offset="0.791" stop-color="#5a8cc9"/><stop offset="0.816" stop-color="#59539d"/><stop offset="0.821" stop-color="#54458c"/><stop offset="0.831" stop-color="#3f274a"/><stop offset="0.836" stop-color="#39203a"/><stop offset="1" stop-color="#351c2f"/></linearGradient><linearGradient id="g2_6"><stop offset="0" stop-color="#59519b"/><stop offset="0.02" stop-color="#574b93"/><stop offset="0.03" stop-color="#513b7f"/><stop offset="0.045" stop-color="#3e2547"/><stop offset="0.05" stop-color="#3c2340"/><stop offset="0.055" stop-color="#3e2649"/><stop offset="0.065" stop-color="#513b7f"/><stop offset="0.08" stop-color="#584f99"/><stop offset="0.1" stop-color="#5b5da6"/><stop offset="0.124" stop-color="#5b5da6"/><stop offset="0.154" stop-color="#584e98"/><stop offset="0.164" stop-color="#523e82"/><stop offset="0.179" stop-color="#39213b"/><stop offset="0.189" stop-color="#351d31"/><stop offset="0.328" stop-color="#351d30"/><stop offset="0.343" stop-color="#371f36"/><stop offset="0.348" stop-color="#3b2340"/><stop offset="0.358" stop-color="#503b7f"/><stop offset="0.373" stop-color="#584f99"/><stop offset="0.388" stop-color="#5a59a3"/><stop offset="0.567" stop-color="#5b5fa8"/><stop offset="0.607" stop-color="#564a92"/><stop offset="0.672" stop-color="#544389"/><stop offset="0.701" stop-color="#5e79bc"/><stop offset="0.716" stop-color="#5a8eca"/><stop offset="0.781" stop-color="#598fca"/><stop offset="0.796" stop-color="#5d7fc0"/><stop offset="0.826" stop-color="#54448a"/><stop offset="0.836" stop-color="#513b7f"/><stop offset="0.95" stop-color="#503a7c"/><stop offset="0.96" stop-color="#4c3571"/><stop offset="0.985" stop-color="#3b223f"/><stop offset="1" stop-color="#361d32"/></linearGradient><linearGradient id="g2_7"><stop offset="0" stop-color="#5f71b6"/><stop offset="0.015" stop-color="#5e6db4"/><stop offset="0.025" stop-color="#5b5ea7"/><stop offset="0.05" stop-color="#493268"/><stop offset="0.065" stop-color="#58509a"/><stop offset="0.09" stop-color="#5f73b8"/><stop offset="0.104" stop-color="#5d7dbf"/><stop offset="0.144" stop-color="#5e77bb"/><stop offset="0.169" stop-color="#564991"/><stop offset="0.174" stop-color="#513b7f"/><stop offset="0.179" stop-color="#422a54"/><stop offset="0.184" stop-color="#392039"/><stop offset="0.199" stop-color="#351c2f"/><stop offset="0.229" stop-color="#351d31"/><stop offset="0.284" stop-color="#3f264a"/><stop offset="0.308" stop-color="#3a213b"/><stop offset="0.338" stop-color="#382038"/><stop offset="0.343" stop-color="#3c2443"/><stop offset="0.353" stop-color="#534287"/><stop offset="0.358" stop-color="#58509a"/><stop offset="0.383" stop-color="#5f73b8"/><stop offset="0.403" stop-color="#5e7abd"/><stop offset="0.572" stop-color="#5e77bb"/><stop offset="0.597" stop-color="#574b93"/><stop offset="0.602" stop-color="#523e83"/><stop offset="0.612" stop-color="#40284e"/><stop offset="0.617" stop-color="#3c2341"/><stop offset="0.637" stop-color="#3a213b"/><stop offset="0.667" stop-color="#3b223f"/><stop offset="0.672" stop-color="#3e2548"/><stop offset="0.677" stop-color="#442c5a"/><stop offset="0.682" stop-color="#4f397a"/><stop offset="0.692" stop-color="#584e98"/><stop offset="0.716" stop-color="#5e6bb2"/><stop offset="0.786" stop-color="#5e6cb2"/><stop offset="0.811" stop-color="#5b5ea7"/><stop offset="0.95" stop-color="#5c5fa8"/><stop offset="0.98" stop-color="#55468d"/><stop offset="0.985" stop-color="#513d82"/><stop offset="0.995" stop-color="#3d2445"/><stop offset="1" stop-color="#382038"/></linearGradient><linearGradient id="g2_8"><stop offset="0" stop-color="#5e77bb"/><stop offset="0.02" stop-color="#5e6db3"/><stop offset="0.035" stop-color="#584f99"/><stop offset="0.05" stop-color="#4c3672"/><stop offset="0.07" stop-color="#5b5ea7"/><stop offset="0.09" stop-color="#5e79bc"/><stop offset="0.104" stop-color="#5c84c4"/><stop offset="0.144" stop-color="#5d7dbf"/><stop offset="0.169" stop-color="#584d96"/><stop offset="0.174" stop-color="#523e83"/><stop offset="0.184" stop-color="#39213b"/><stop offset="0.199" stop-color="#351c2f"/><stop offset="0.229" stop-color="#381f37"/><stop offset="0.254" stop-color="#503a7c"/><stop offset="0.284" stop-color="#55478f"/><stop offset="0.318" stop-color="#503a7d"/><stop offset="0.338" stop-color="#483165"/><stop offset="0.363" stop-color="#5b5fa8"/><stop offset="0.383" stop-color="#5e79bc"/><stop offset="0.398" stop-color="#5d80c1"/><stop offset="0.572" stop-color="#5d7dbf"/><stop offset="0.597" stop-color="#584d96"/><stop offset="0.602" stop-color="#523e83"/><stop offset="0.612" stop-color="#3a213b"/><stop offset="0.642" stop-color="#351d30"/><stop offset="0.682" stop-color="#39203a"/><stop offset="0.701" stop-color="#4d3775"/><stop offset="0.711" stop-color="#523f84"/><stop offset="0.776" stop-color="#534288"/><stop offset="0.826" stop-color="#5e7bbd"/><stop offset="0.95" stop-color="#5d7dbf"/><stop offset="0.965" stop-color="#5f70b6"/><stop offset="0.985" stop-color="#59519b"/><stop offset="0.99" stop-color="#534288"/><stop offset="1" stop-color="#3d2546"/></linearGradient><linearGradient id="g2_9"><stop offset="0" stop-color="#5b5fa8"/><stop offset="0.015" stop-color="#5b5da6"/><stop offset="0.025" stop-color="#58509a"/><stop offset="0.05" stop-color="#412951"/><stop offset="0.055" stop-color="#452d5c"/><stop offset="0.06" stop-color="#503a7c"/><stop offset="0.075" stop-color="#59559e"/><stop offset="0.104" stop-color="#5e6cb3"/><stop offset="0.144" stop-color="#5d66ae"/><stop offset="0.159" stop-color="#59519b"/><stop offset="0.169" stop-color="#523e83"/><stop offset="0.179" stop-color="#3d2444"/><stop offset="0.184" stop-color="#381f37"/><stop offset="0.204" stop-color="#351c2f"/><stop offset="0.224" stop-color="#381f37"/><stop offset="0.229" stop-color="#3d2444"/><stop offset="0.239" stop-color="#513e82"/><stop offset="0.249" stop-color="#574c96"/><stop offset="0.284" stop-color="#5c61aa"/><stop offset="0.348" stop-color="#584f99"/><stop offset="0.393" stop-color="#5d69b0"/><stop offset="0.567" stop-color="#5e69b0"/><stop offset="0.587" stop-color="#59519a"/><stop offset="0.597" stop-color="#523e83"/><stop offset="0.607" stop-color="#3d2444"/><stop offset="0.612" stop-color="#381f37"/><stop offset="0.667" stop-color="#341c2f"/><stop offset="0.776" stop-color="#3a213c"/><stop offset="0.781" stop-color="#40284f"/><stop offset="0.791" stop-color="#55468d"/><stop offset="0.796" stop-color="#59539d"/><stop offset="0.826" stop-color="#5d7ec0"/><stop offset="0.95" stop-color="#5d80c1"/><stop offset="0.965" stop-color="#5f73b8"/><stop offset="0.985" stop-color="#59539d"/><stop offset="0.99" stop-color="#54448b"/><stop offset="1" stop-color="#3e2649"/></linearGradient><linearGradient id="g2_10"><stop offset="0" stop-color="#503a7c"/><stop offset="0.015" stop-color="#4e3776"/><stop offset="0.035" stop-color="#3b2340"/><stop offset="0.05" stop-color="#371f36"/><stop offset="0.06" stop-color="#3b223f"/><stop offset="0.08" stop-color="#503a7d"/><stop offset="0.104" stop-color="#55468e"/><stop offset="0.139" stop-color="#54448b"/><stop offset="0.154" stop-color="#503a7d"/><stop offset="0.174" stop-color="#39203b"/><stop offset="0.209" stop-color="#361e33"/><stop offset="0.224" stop-color="#3a213b"/><stop offset="0.229" stop-color="#422a54"/><stop offset="0.234" stop-color="#503a7c"/><stop offset="0.244" stop-color="#584f99"/><stop offset="0.284" stop-color="#5e6cb3"/><stop offset="0.303" stop-color="#5f6fb5"/><stop offset="0.348" stop-color="#5c63ab"/><stop offset="0.393" stop-color="#55458d"/><stop offset="0.567" stop-color="#54448b"/><stop offset="0.582" stop-color="#4f397a"/><stop offset="0.602" stop-color="#39203a"/><stop offset="0.617" stop-color="#351d30"/><stop offset="0.766" stop-color="#351d30"/><stop offset="0.781" stop-color="#382038"/><stop offset="0.786" stop-color="#3f274b"/><stop offset="0.791" stop-color="#4c3672"/><stop offset="0.796" stop-color="#534288"/><stop offset="0.801" stop-color="#574c96"/><stop offset="0.821" stop-color="#5c61aa"/><stop offset="0.945" stop-color="#5d67ae"/><stop offset="0.98" stop-color="#574c96"/><stop offset="0.99" stop-color="#4c3672"/><stop offset="0.995" stop-color="#40274d"/><stop offset="1" stop-color="#39203a"/></linearGradient><linearGradient id="g2_11"><stop offset="0" stop-color="#371f35"/><stop offset="0.05" stop-color="#351d30"/><stop offset="0.104" stop-color="#3b2340"/><stop offset="0.169" stop-color="#371e35"/><stop offset="0.194" stop-color="#3a213c"/><stop offset="0.219" stop-color="#41284f"/><stop offset="0.234" stop-color="#513b7f"/><stop offset="0.249" stop-color="#584f99"/><stop offset="0.294" stop-color="#5d66ae"/><stop offset="0.338" stop-color="#5f6fb6"/><stop offset="0.373" stop-color="#58509a"/><stop offset="0.383" stop-color="#513c7f"/><stop offset="0.393" stop-color="#3f264a"/><stop offset="0.403" stop-color="#3a213c"/><stop offset="0.771" stop-color="#351d30"/><stop offset="0.791" stop-color="#3a213b"/><stop offset="0.811" stop-color="#4d3674"/><stop offset="0.826" stop-color="#524085"/><stop offset="0.945" stop-color="#534187"/><stop offset="0.965" stop-color="#503b7e"/><stop offset="0.99" stop-color="#3a213b"/><stop offset="1" stop-color="#361e33"/></linearGradient><linearGradient id="g2_12"><stop offset="0" stop-color="#351c2f"/><stop offset="0.055" stop-color="#361e32"/><stop offset="0.104" stop-color="#483166"/><stop offset="0.139" stop-color="#472f61"/><stop offset="0.159" stop-color="#3a213d"/><stop offset="0.169" stop-color="#39203a"/><stop offset="0.214" stop-color="#503a7d"/><stop offset="0.343" stop-color="#5c62aa"/><stop offset="0.368" stop-color="#584e98"/><stop offset="0.378" stop-color="#513e82"/><stop offset="0.388" stop-color="#3d2444"/><stop offset="0.393" stop-color="#381f37"/><stop offset="0.403" stop-color="#351d31"/><stop offset="0.672" stop-color="#351c2f"/><stop offset="0.786" stop-color="#3a213b"/><stop offset="0.851" stop-color="#442d5a"/><stop offset="0.896" stop-color="#452e5d"/><stop offset="0.925" stop-color="#3a213b"/><stop offset="1" stop-color="#351d30"/></linearGradient><linearGradient id="g2_13"><stop offset="0" stop-color="#341c2f"/><stop offset="0.05" stop-color="#371e34"/><stop offset="0.055" stop-color="#39213b"/><stop offset="0.07" stop-color="#513d81"/><stop offset="0.09" stop-color="#58509a"/><stop offset="0.104" stop-color="#5a57a1"/><stop offset="0.144" stop-color="#59529c"/><stop offset="0.159" stop-color="#513c80"/><stop offset="0.174" stop-color="#432b56"/><stop offset="0.204" stop-color="#4f397b"/><stop offset="0.234" stop-color="#534287"/><stop offset="0.269" stop-color="#503a7d"/><stop offset="0.279" stop-color="#472f61"/><stop offset="0.289" stop-color="#422b55"/><stop offset="0.318" stop-color="#503a7d"/><stop offset="0.348" stop-color="#55478e"/><stop offset="0.363" stop-color="#513c80"/><stop offset="0.383" stop-color="#3b223f"/><stop offset="0.398" stop-color="#351d30"/><stop offset="0.647" stop-color="#341c2f"/><stop offset="0.682" stop-color="#392039"/><stop offset="0.706" stop-color="#4f3979"/><stop offset="0.716" stop-color="#523f84"/><stop offset="0.896" stop-color="#5a59a2"/><stop offset="0.91" stop-color="#584f99"/><stop offset="0.92" stop-color="#4f3979"/><stop offset="0.93" stop-color="#3d2445"/><stop offset="0.935" stop-color="#39203a"/><stop offset="1" stop-color="#341c2f"/></linearGradient><linearGradient id="g2_14"><stop offset="0" stop-color="#341c2f"/><stop offset="0.04" stop-color="#351d30"/><stop offset="0.05" stop-color="#392039"/><stop offset="0.055" stop-color="#422a54"/><stop offset="0.06" stop-color="#513b7f"/><stop offset="0.07" stop-color="#59529c"/><stop offset="0.104" stop-color="#5e74b9"/><stop offset="0.139" stop-color="#5f71b6"/><stop offset="0.149" stop-color="#5c64ac"/><stop offset="0.169" stop-color="#513e82"/><stop offset="0.179" stop-color="#422a53"/><stop offset="0.184" stop-color="#3f274b"/><stop offset="0.229" stop-color="#49336a"/><stop offset="0.259" stop-color="#442d5b"/><stop offset="0.279" stop-color="#39203a"/><stop offset="0.289" stop-color="#371e34"/><stop offset="0.328" stop-color="#3a213b"/><stop offset="0.348" stop-color="#3e2649"/><stop offset="0.393" stop-color="#351d31"/><stop offset="0.652" stop-color="#341c2f"/><stop offset="0.672" stop-color="#371f36"/><stop offset="0.677" stop-color="#3b2340"/><stop offset="0.687" stop-color="#513c7f"/><stop offset="0.697" stop-color="#574b94"/><stop offset="0.716" stop-color="#5c60a9"/><stop offset="0.826" stop-color="#5f70b6"/><stop offset="0.856" stop-color="#5b8ac7"/><stop offset="0.896" stop-color="#5a8dc9"/><stop offset="0.905" stop-color="#5c87c6"/><stop offset="0.915" stop-color="#5f6fb5"/><stop offset="0.93" stop-color="#55488f"/><stop offset="0.94" stop-color="#4e3776"/><stop offset="0.95" stop-color="#412950"/><stop offset="0.96" stop-color="#3a213b"/><stop offset="1" stop-color="#341c2f"/></linearGradient><linearGradient id="g2_15"><stop offset="0" stop-color="#341c2f"/><stop offset="0.045" stop-color="#361e34"/><stop offset="0.05" stop-color="#39213b"/><stop offset="0.06" stop-color="#523e83"/><stop offset="0.065" stop-color="#574d96"/><stop offset="0.09" stop-color="#5f6fb5"/><stop offset="0.109" stop-color="#5e7abd"/><stop offset="0.139" stop-color="#5e76ba"/><stop offset="0.149" stop-color="#5d69b0"/><stop offset="0.164" stop-color="#574b95"/><stop offset="0.169" stop-color="#523f84"/><stop offset="0.179" stop-color="#3d2546"/><stop offset="0.189" stop-color="#371f36"/><stop offset="0.323" stop-color="#351d30"/><stop offset="0.413" stop-color="#3e2547"/><stop offset="0.438" stop-color="#3a213c"/><stop offset="0.463" stop-color="#3e2547"/><stop offset="0.502" stop-color="#371f35"/><stop offset="0.662" stop-color="#351d30"/><stop offset="0.672" stop-color="#382038"/><stop offset="0.677" stop-color="#40284e"/><stop offset="0.682" stop-color="#4e3878"/><stop offset="0.692" stop-color="#584f99"/><stop offset="0.711" stop-color="#5e6ab1"/><stop offset="0.776" stop-color="#5e75b9"/><stop offset="0.826" stop-color="#5b8cc9"/><stop offset="0.841" stop-color="#53a2d1"/><stop offset="0.856" stop-color="#4cafce"/><stop offset="0.9" stop-color="#4db1cb"/><stop offset="0.91" stop-color="#51a5d0"/><stop offset="0.915" stop-color="#5895ce"/><stop offset="0.93" stop-color="#5d66ae"/><stop offset="0.96" stop-color="#513d81"/><stop offset="0.975" stop-color="#39203a"/><stop offset="1" stop-color="#341c2f"/></linearGradient><linearGradient id="g2_16"><stop offset="0" stop-color="#341c2f"/><stop offset="0.05" stop-color="#381f36"/><stop offset="0.055" stop-color="#3d2444"/><stop offset="0.065" stop-color="#523e83"/><stop offset="0.07" stop-color="#55478e"/><stop offset="0.09" stop-color="#5b5ca5"/><stop offset="0.109" stop-color="#5d64ac"/><stop offset="0.139" stop-color="#5c61aa"/><stop offset="0.154" stop-color="#584f99"/><stop offset="0.164" stop-color="#513d81"/><stop offset="0.179" stop-color="#392039"/><stop offset="0.189" stop-color="#351d31"/><stop offset="0.338" stop-color="#361d32"/><stop offset="0.348" stop-color="#3a213b"/><stop offset="0.368" stop-color="#4f3979"/><stop offset="0.378" stop-color="#534086"/><stop offset="0.408" stop-color="#585099"/><stop offset="0.438" stop-color="#55468d"/><stop offset="0.463" stop-color="#59519a"/><stop offset="0.502" stop-color="#483167"/><stop offset="0.587" stop-color="#361e33"/><stop offset="0.662" stop-color="#351d30"/><stop offset="0.677" stop-color="#3b2340"/><stop offset="0.687" stop-color="#513c7f"/><stop offset="0.692" stop-color="#54448a"/><stop offset="0.716" stop-color="#5c60a9"/><stop offset="0.776" stop-color="#5d66ae"/><stop offset="0.826" stop-color="#5c87c6"/><stop offset="0.841" stop-color="#53a1d1"/><stop offset="0.856" stop-color="#4cafce"/><stop offset="0.905" stop-color="#4cafce"/><stop offset="0.915" stop-color="#559ed2"/><stop offset="0.93" stop-color="#5e77bb"/><stop offset="0.96" stop-color="#5a569f"/><stop offset="0.97" stop-color="#523e82"/><stop offset="0.98" stop-color="#3a213c"/><stop offset="1" stop-color="#351d31"/></linearGradient><linearGradient id="g2_17"><stop offset="0" stop-color="#341c2f"/><stop offset="0.055" stop-color="#371e35"/><stop offset="0.09" stop-color="#513b7f"/><stop offset="0.109" stop-color="#534186"/><stop offset="0.144" stop-color="#513d81"/><stop offset="0.169" stop-color="#39203a"/><stop offset="0.184" stop-color="#351d30"/><stop offset="0.328" stop-color="#361e32"/><stop offset="0.338" stop-color="#392039"/><stop offset="0.343" stop-color="#40284e"/><stop offset="0.348" stop-color="#4d3775"/><stop offset="0.358" stop-color="#584e98"/><stop offset="0.383" stop-color="#5e6bb1"/><stop offset="0.413" stop-color="#5d7fc0"/><stop offset="0.438" stop-color="#5f6fb5"/><stop offset="0.463" stop-color="#5d7fc0"/><stop offset="0.498" stop-color="#59559f"/><stop offset="0.562" stop-color="#54458b"/><stop offset="0.572" stop-color="#523e82"/><stop offset="0.577" stop-color="#4c3673"/><stop offset="0.587" stop-color="#3a213b"/><stop offset="0.592" stop-color="#371e35"/><stop offset="0.657" stop-color="#341c2f"/><stop offset="0.682" stop-color="#392039"/><stop offset="0.706" stop-color="#4f3979"/><stop offset="0.716" stop-color="#523f84"/><stop offset="0.771" stop-color="#544389"/><stop offset="0.796" stop-color="#5a59a3"/><stop offset="0.826" stop-color="#5d69b0"/><stop offset="0.856" stop-color="#5b8ac7"/><stop offset="0.905" stop-color="#5b8bc8"/><stop offset="0.925" stop-color="#5f72b7"/><stop offset="0.96" stop-color="#5c60a9"/><stop offset="0.97" stop-color="#564a92"/><stop offset="0.985" stop-color="#412950"/><stop offset="1" stop-color="#3c2342"/></linearGradient><linearGradient id="g2_18"><stop offset="0" stop-color="#341c2f"/><stop offset="0.109" stop-color="#39203a"/><stop offset="0.234" stop-color="#341c2f"/><stop offset="0.289" stop-color="#3a213d"/><stop offset="0.333" stop-color="#432c57"/><stop offset="0.353" stop-color="#5a58a2"/><stop offset="0.378" stop-color="#5c85c4"/><stop offset="0.398" stop-color="#559ed2"/><stop offset="0.418" stop-color="#50a7d0"/><stop offset="0.438" stop-color="#5892cc"/><stop offset="0.463" stop-color="#50a8d0"/><stop offset="0.473" stop-color="#5699d0"/><stop offset="0.498" stop-color="#5e6db4"/><stop offset="0.567" stop-color="#5b5ba4"/><stop offset="0.577" stop-color="#574c96"/><stop offset="0.582" stop-color="#523e83"/><stop offset="0.592" stop-color="#39203b"/><stop offset="0.607" stop-color="#351c2f"/><stop offset="0.771" stop-color="#39213b"/><stop offset="0.806" stop-color="#503a7c"/><stop offset="0.851" stop-color="#5a569f"/><stop offset="0.925" stop-color="#5a5aa3"/><stop offset="0.95" stop-color="#5d65ad"/><stop offset="1" stop-color="#564991"/></linearGradient><linearGradient id="g2_19"><stop offset="0" stop-color="#351d30"/><stop offset="0.239" stop-color="#351d31"/><stop offset="0.249" stop-color="#392039"/><stop offset="0.264" stop-color="#4b346e"/><stop offset="0.274" stop-color="#513c7f"/><stop offset="0.303" stop-color="#574b94"/><stop offset="0.343" stop-color="#59559e"/><stop offset="0.363" stop-color="#5f73b8"/><stop offset="0.388" stop-color="#569ad0"/><stop offset="0.413" stop-color="#4dafce"/><stop offset="0.438" stop-color="#569ad0"/><stop offset="0.463" stop-color="#4dafce"/><stop offset="0.473" stop-color="#54a0d1"/><stop offset="0.498" stop-color="#5f72b8"/><stop offset="0.567" stop-color="#5d64ac"/><stop offset="0.577" stop-color="#59549e"/><stop offset="0.582" stop-color="#55458c"/><stop offset="0.592" stop-color="#3b2340"/><stop offset="0.597" stop-color="#371e35"/><stop offset="0.612" stop-color="#341c2f"/><stop offset="0.766" stop-color="#351d30"/><stop offset="0.826" stop-color="#3a213b"/><stop offset="0.851" stop-color="#412952"/><stop offset="0.891" stop-color="#452d5c"/><stop offset="0.91" stop-color="#58509a"/><stop offset="0.94" stop-color="#5e6eb4"/><stop offset="0.96" stop-color="#5f73b8"/><stop offset="1" stop-color="#5e6ab1"/></linearGradient><linearGradient id="g2_20"><stop offset="0" stop-color="#381f37"/><stop offset="0.045" stop-color="#3b2340"/><stop offset="0.104" stop-color="#351d30"/><stop offset="0.234" stop-color="#351d31"/><stop offset="0.244" stop-color="#39203a"/><stop offset="0.249" stop-color="#422a54"/><stop offset="0.254" stop-color="#50397c"/><stop offset="0.269" stop-color="#59519b"/><stop offset="0.328" stop-color="#5f6fb5"/><stop offset="0.363" stop-color="#5e6ab1"/><stop offset="0.413" stop-color="#5893cc"/><stop offset="0.438" stop-color="#5d7ec0"/><stop offset="0.463" stop-color="#5893cc"/><stop offset="0.498" stop-color="#5c61a9"/><stop offset="0.572" stop-color="#59559f"/><stop offset="0.582" stop-color="#523e83"/><stop offset="0.592" stop-color="#39203b"/><stop offset="0.602" stop-color="#351d30"/><stop offset="0.776" stop-color="#351d2f"/><stop offset="0.801" stop-color="#39203a"/><stop offset="0.831" stop-color="#452d5c"/><stop offset="0.886" stop-color="#462f60"/><stop offset="0.896" stop-color="#4f397a"/><stop offset="0.91" stop-color="#5a5aa3"/><stop offset="0.935" stop-color="#5e78bc"/><stop offset="0.955" stop-color="#5d82c3"/><stop offset="1" stop-color="#5e7bbe"/></linearGradient><linearGradient id="g2_21"><stop offset="0" stop-color="#4c3672"/><stop offset="0.03" stop-color="#544389"/><stop offset="0.05" stop-color="#54458c"/><stop offset="0.08" stop-color="#513b7f"/><stop offset="0.095" stop-color="#3a213d"/><stop offset="0.104" stop-color="#361d32"/><stop offset="0.229" stop-color="#351d30"/><stop offset="0.244" stop-color="#3a213c"/><stop offset="0.254" stop-color="#513d81"/><stop offset="0.264" stop-color="#58509a"/><stop offset="0.303" stop-color="#5e6eb4"/><stop offset="0.333" stop-color="#5e76ba"/><stop offset="0.373" stop-color="#59539d"/><stop offset="0.413" stop-color="#5c62aa"/><stop offset="0.438" stop-color="#5a57a0"/><stop offset="0.463" stop-color="#5c62aa"/><stop offset="0.502" stop-color="#534187"/><stop offset="0.567" stop-color="#534287"/><stop offset="0.577" stop-color="#4c3672"/><stop offset="0.587" stop-color="#3a213b"/><stop offset="0.597" stop-color="#351d31"/><stop offset="0.766" stop-color="#341c2f"/><stop offset="0.786" stop-color="#39203a"/><stop offset="0.801" stop-color="#503b7e"/><stop offset="0.821" stop-color="#585099"/><stop offset="0.896" stop-color="#5a56a0"/><stop offset="0.945" stop-color="#5e75ba"/><stop offset="1" stop-color="#5f6fb5"/></linearGradient><linearGradient id="g2_22"><stop offset="0" stop-color="#584e98"/><stop offset="0.04" stop-color="#5c62aa"/><stop offset="0.08" stop-color="#59549d"/><stop offset="0.09" stop-color="#524085"/><stop offset="0.1" stop-color="#3b223f"/><stop offset="0.114" stop-color="#351d30"/><stop offset="0.239" stop-color="#361d32"/><stop offset="0.249" stop-color="#3c2342"/><stop offset="0.259" stop-color="#4f397b"/><stop offset="0.264" stop-color="#523f84"/><stop offset="0.284" stop-color="#584e98"/><stop offset="0.328" stop-color="#5b5ea7"/><stop offset="0.353" stop-color="#584f99"/><stop offset="0.368" stop-color="#503a7d"/><stop offset="0.378" stop-color="#452e5d"/><stop offset="0.383" stop-color="#442d5a"/><stop offset="0.413" stop-color="#4c3571"/><stop offset="0.438" stop-color="#452d5b"/><stop offset="0.463" stop-color="#4c3571"/><stop offset="0.498" stop-color="#3b223e"/><stop offset="0.562" stop-color="#3d2444"/><stop offset="0.597" stop-color="#351d30"/><stop offset="0.672" stop-color="#341c2f"/><stop offset="0.776" stop-color="#361e33"/><stop offset="0.781" stop-color="#392039"/><stop offset="0.786" stop-color="#412952"/><stop offset="0.791" stop-color="#503a7e"/><stop offset="0.796" stop-color="#55478e"/><stop offset="0.826" stop-color="#5f70b6"/><stop offset="0.915" stop-color="#5e75ba"/><stop offset="0.955" stop-color="#5a58a1"/><stop offset="1" stop-color="#58509a"/></linearGradient><linearGradient id="g2_23"><stop offset="0" stop-color="#59529c"/><stop offset="0.04" stop-color="#5d67ae"/><stop offset="0.08" stop-color="#5a58a1"/><stop offset="0.09" stop-color="#54448a"/><stop offset="0.1" stop-color="#3d2444"/><stop offset="0.104" stop-color="#371f36"/><stop offset="0.114" stop-color="#351d30"/><stop offset="0.244" stop-color="#351d31"/><stop offset="0.303" stop-color="#4a336c"/><stop offset="0.328" stop-color="#4f397a"/><stop offset="0.338" stop-color="#4d3774"/><stop offset="0.368" stop-color="#39203a"/><stop offset="0.383" stop-color="#361e33"/><stop offset="0.667" stop-color="#341c2f"/><stop offset="0.726" stop-color="#392039"/><stop offset="0.766" stop-color="#351d31"/><stop offset="0.781" stop-color="#3a213b"/><stop offset="0.791" stop-color="#523f83"/><stop offset="0.796" stop-color="#584d97"/><stop offset="0.821" stop-color="#5f73b8"/><stop offset="0.836" stop-color="#5d7cbe"/><stop offset="0.91" stop-color="#5d7cbe"/><stop offset="0.92" stop-color="#5e77bb"/><stop offset="0.945" stop-color="#59519b"/><stop offset="0.965" stop-color="#462e5f"/><stop offset="1" stop-color="#412951"/></linearGradient><linearGradient id="g2_24"><stop offset="0" stop-color="#534186"/><stop offset="0.04" stop-color="#59539d"/><stop offset="0.075" stop-color="#574b94"/><stop offset="0.085" stop-color="#524084"/><stop offset="0.1" stop-color="#392039"/><stop offset="0.114" stop-color="#351c2f"/><stop offset="0.662" stop-color="#341c2f"/><stop offset="0.687" stop-color="#39203a"/><stop offset="0.711" stop-color="#513c7f"/><stop offset="0.721" stop-color="#534187"/><stop offset="0.736" stop-color="#513d81"/><stop offset="0.761" stop-color="#3d2444"/><stop offset="0.776" stop-color="#39213b"/><stop offset="0.781" stop-color="#3c2341"/><stop offset="0.796" stop-color="#534186"/><stop offset="0.821" stop-color="#5c61aa"/><stop offset="0.91" stop-color="#5d68af"/><stop offset="0.925" stop-color="#5b5fa7"/><stop offset="0.94" stop-color="#564a93"/><stop offset="0.945" stop-color="#534086"/><stop offset="0.955" stop-color="#3f274b"/><stop offset="0.96" stop-color="#392039"/><stop offset="1" stop-color="#361d32"/></linearGradient><linearGradient id="g2_25"><stop offset="0" stop-color="#3d2444"/><stop offset="0.04" stop-color="#472f62"/><stop offset="0.075" stop-color="#412952"/><stop offset="0.09" stop-color="#39203a"/><stop offset="0.109" stop-color="#351c2f"/><stop offset="0.662" stop-color="#351c2f"/><stop offset="0.677" stop-color="#381f37"/><stop offset="0.682" stop-color="#3d2444"/><stop offset="0.692" stop-color="#513d81"/><stop offset="0.701" stop-color="#584e98"/><stop offset="0.726" stop-color="#5d65ad"/><stop offset="0.766" stop-color="#523e83"/><stop offset="0.796" stop-color="#4c3672"/><stop offset="0.831" stop-color="#54458c"/><stop offset="0.915" stop-color="#54448b"/><stop offset="0.93" stop-color="#503a7d"/><stop offset="0.95" stop-color="#3a213b"/><stop offset="0.955" stop-color="#371f36"/><stop offset="1" stop-color="#341c2f"/></linearGradient><linearGradient id="g2_26"><stop offset="0" stop-color="#361d32"/><stop offset="0.662" stop-color="#351d30"/><stop offset="0.677" stop-color="#3b223e"/><stop offset="0.687" stop-color="#523f83"/><stop offset="0.692" stop-color="#574c95"/><stop offset="0.711" stop-color="#5f6eb5"/><stop offset="0.726" stop-color="#5d7cbe"/><stop offset="0.791" stop-color="#58509a"/><stop offset="0.806" stop-color="#503b7e"/><stop offset="0.826" stop-color="#3e2547"/><stop offset="0.836" stop-color="#3b223e"/><stop offset="1" stop-color="#341c2f"/></linearGradient><linearGradient id="g2_27"><stop offset="0" stop-color="#3a213b"/><stop offset="0.328" stop-color="#351d30"/><stop offset="0.343" stop-color="#382038"/><stop offset="0.383" stop-color="#4f3979"/><stop offset="0.448" stop-color="#4f397a"/><stop offset="0.463" stop-color="#4d3673"/><stop offset="0.483" stop-color="#3c2342"/><stop offset="0.502" stop-color="#351d31"/><stop offset="0.657" stop-color="#371f35"/><stop offset="0.672" stop-color="#3b223e"/><stop offset="0.677" stop-color="#432b56"/><stop offset="0.682" stop-color="#503a7d"/><stop offset="0.692" stop-color="#59519b"/><stop offset="0.716" stop-color="#5e76ba"/><stop offset="0.731" stop-color="#5d7dbf"/><stop offset="0.786" stop-color="#5e69b0"/><stop offset="0.806" stop-color="#584f99"/><stop offset="0.816" stop-color="#513e82"/><stop offset="0.826" stop-color="#3d2445"/><stop offset="0.836" stop-color="#361e33"/><stop offset="1" stop-color="#341c2f"/></linearGradient><linearGradient id="g2_28"><stop offset="0" stop-color="#54448b"/><stop offset="0.05" stop-color="#534288"/><stop offset="0.104" stop-color="#4c3671"/><stop offset="0.254" stop-color="#4c3570"/><stop offset="0.284" stop-color="#39213b"/><stop offset="0.318" stop-color="#361d32"/><stop offset="0.333" stop-color="#382038"/><stop offset="0.338" stop-color="#3e2547"/><stop offset="0.348" stop-color="#513e82"/><stop offset="0.363" stop-color="#59529b"/><stop offset="0.383" stop-color="#5b5ea7"/><stop offset="0.458" stop-color="#5b5ea7"/><stop offset="0.473" stop-color="#58509a"/><stop offset="0.483" stop-color="#524085"/><stop offset="0.488" stop-color="#4e3877"/><stop offset="0.498" stop-color="#3a213c"/><stop offset="0.502" stop-color="#371f35"/><stop offset="0.612" stop-color="#351d30"/><stop offset="0.632" stop-color="#392039"/><stop offset="0.647" stop-color="#442d5b"/><stop offset="0.672" stop-color="#513d81"/><stop offset="0.697" stop-color="#5b5da6"/><stop offset="0.726" stop-color="#5f71b7"/><stop offset="0.776" stop-color="#5e6db3"/><stop offset="0.791" stop-color="#5d67ae"/><stop offset="0.811" stop-color="#584f99"/><stop offset="0.821" stop-color="#4e3878"/><stop offset="0.826" stop-color="#40284e"/><stop offset="0.831" stop-color="#382038"/><stop offset="0.836" stop-color="#361e33"/><stop offset="1" stop-color="#341c2f"/></linearGradient><linearGradient id="g2_29"><stop offset="0" stop-color="#5e6cb3"/><stop offset="0.045" stop-color="#5e69b1"/><stop offset="0.104" stop-color="#5a57a0"/><stop offset="0.259" stop-color="#59559f"/><stop offset="0.284" stop-color="#503a7e"/><stop offset="0.303" stop-color="#3c2341"/><stop offset="0.313" stop-color="#3a213b"/><stop offset="0.328" stop-color="#3d2546"/><stop offset="0.333" stop-color="#432c58"/><stop offset="0.338" stop-color="#4f3879"/><stop offset="0.348" stop-color="#59539c"/><stop offset="0.368" stop-color="#5f70b6"/><stop offset="0.383" stop-color="#5e7bbe"/><stop offset="0.458" stop-color="#5e7bbd"/><stop offset="0.468" stop-color="#5f70b6"/><stop offset="0.488" stop-color="#574a93"/><stop offset="0.493" stop-color="#513d81"/><stop offset="0.502" stop-color="#3b2240"/><stop offset="0.522" stop-color="#371e35"/><stop offset="0.622" stop-color="#39203a"/><stop offset="0.627" stop-color="#3e2548"/><stop offset="0.637" stop-color="#513c80"/><stop offset="0.642" stop-color="#54448a"/><stop offset="0.687" stop-color="#5d64ac"/><stop offset="0.781" stop-color="#5a59a2"/><stop offset="0.811" stop-color="#55468d"/><stop offset="0.816" stop-color="#513d82"/><stop offset="0.826" stop-color="#3c2443"/><stop offset="0.836" stop-color="#361d32"/><stop offset="1" stop-color="#351c2f"/></linearGradient><linearGradient id="g2_30"><stop offset="0" stop-color="#5a8eca"/><stop offset="0.045" stop-color="#5b8ac8"/><stop offset="0.104" stop-color="#5f70b6"/><stop offset="0.254" stop-color="#5f6fb5"/><stop offset="0.289" stop-color="#584e98"/><stop offset="0.299" stop-color="#534187"/><stop offset="0.313" stop-color="#503b7e"/><stop offset="0.333" stop-color="#534389"/><stop offset="0.353" stop-color="#5c62aa"/><stop offset="0.378" stop-color="#5d7dbf"/><stop offset="0.458" stop-color="#5d7ec0"/><stop offset="0.488" stop-color="#59529c"/><stop offset="0.507" stop-color="#4d3775"/><stop offset="0.592" stop-color="#483064"/><stop offset="0.617" stop-color="#4b346e"/><stop offset="0.642" stop-color="#59539d"/><stop offset="0.687" stop-color="#5f6eb4"/><stop offset="0.721" stop-color="#59559f"/><stop offset="0.741" stop-color="#513d81"/><stop offset="0.801" stop-color="#4e3878"/><stop offset="0.811" stop-color="#483064"/><stop offset="0.821" stop-color="#3b223f"/><stop offset="0.836" stop-color="#351d30"/><stop offset="0.905" stop-color="#351c2f"/><stop offset="0.935" stop-color="#382038"/><stop offset="1" stop-color="#361e33"/></linearGradient><linearGradient id="g2_31"><stop offset="0" stop-color="#5895ce"/><stop offset="0.045" stop-color="#5991cc"/><stop offset="0.104" stop-color="#5e74b9"/><stop offset="0.259" stop-color="#5e75ba"/><stop offset="0.308" stop-color="#5a56a0"/><stop offset="0.378" stop-color="#5d68af"/><stop offset="0.463" stop-color="#5e69b0"/><stop offset="0.592" stop-color="#5a57a0"/><stop offset="0.687" stop-color="#5b5fa8"/><stop offset="0.721" stop-color="#54458c"/><stop offset="0.726" stop-color="#513d81"/><stop offset="0.741" stop-color="#3b223e"/><stop offset="0.751" stop-color="#392039"/><stop offset="0.905" stop-color="#361e32"/><stop offset="0.915" stop-color="#382038"/><stop offset="0.93" stop-color="#483064"/><stop offset="0.94" stop-color="#4b346e"/><stop offset="0.965" stop-color="#412a52"/><stop offset="1" stop-color="#40284f"/></linearGradient><linearGradient id="g2_32"><stop offset="0" stop-color="#5e7bbe"/><stop offset="0.045" stop-color="#5e78bc"/><stop offset="0.109" stop-color="#5c62aa"/><stop offset="0.214" stop-color="#5c62aa"/><stop offset="0.269" stop-color="#5f70b6"/><stop offset="0.338" stop-color="#5f71b7"/><stop offset="0.373" stop-color="#5a59a2"/><stop offset="0.393" stop-color="#544389"/><stop offset="0.413" stop-color="#534086"/><stop offset="0.443" stop-color="#54448a"/><stop offset="0.463" stop-color="#5c60a9"/><stop offset="0.493" stop-color="#5e7bbe"/><stop offset="0.637" stop-color="#5e79bc"/><stop offset="0.677" stop-color="#54448a"/><stop offset="0.701" stop-color="#4e3878"/><stop offset="0.731" stop-color="#39203a"/><stop offset="0.751" stop-color="#351d30"/><stop offset="0.786" stop-color="#361e33"/><stop offset="0.831" stop-color="#3e2548"/><stop offset="0.9" stop-color="#3e2649"/><stop offset="0.91" stop-color="#422a53"/><stop offset="0.92" stop-color="#4f397b"/><stop offset="0.935" stop-color="#574c96"/><stop offset="1" stop-color="#574a93"/></linearGradient><linearGradient id="g2_33"><stop offset="0" stop-color="#5a569f"/><stop offset="0.045" stop-color="#59549d"/><stop offset="0.104" stop-color="#54438a"/><stop offset="0.209" stop-color="#54448a"/><stop offset="0.279" stop-color="#5e79bc"/><stop offset="0.333" stop-color="#5d7dbf"/><stop offset="0.378" stop-color="#584f99"/><stop offset="0.383" stop-color="#534186"/><stop offset="0.393" stop-color="#3f274b"/><stop offset="0.398" stop-color="#3a213c"/><stop offset="0.428" stop-color="#392039"/><stop offset="0.438" stop-color="#3b223f"/><stop offset="0.443" stop-color="#412951"/><stop offset="0.448" stop-color="#4e3776"/><stop offset="0.458" stop-color="#59549e"/><stop offset="0.483" stop-color="#5e7abd"/><stop offset="0.498" stop-color="#5d82c2"/><stop offset="0.592" stop-color="#5e79bc"/><stop offset="0.632" stop-color="#5d80c1"/><stop offset="0.642" stop-color="#5e79bc"/><stop offset="0.667" stop-color="#584e98"/><stop offset="0.672" stop-color="#524085"/><stop offset="0.682" stop-color="#3e2649"/><stop offset="0.687" stop-color="#3a213b"/><stop offset="0.756" stop-color="#341c2f"/><stop offset="0.781" stop-color="#381f37"/><stop offset="0.786" stop-color="#3b223f"/><stop offset="0.801" stop-color="#4d3775"/><stop offset="0.826" stop-color="#574c95"/><stop offset="0.905" stop-color="#584f99"/><stop offset="0.96" stop-color="#5c64ac"/><stop offset="1" stop-color="#5d65ad"/></linearGradient><linearGradient id="g2_34"><stop offset="0" stop-color="#54458b"/><stop offset="0.03" stop-color="#584f99"/><stop offset="0.05" stop-color="#503a7d"/><stop offset="0.065" stop-color="#442c58"/><stop offset="0.09" stop-color="#3c2342"/><stop offset="0.199" stop-color="#3b2240"/><stop offset="0.214" stop-color="#40284f"/><stop offset="0.224" stop-color="#513d81"/><stop offset="0.229" stop-color="#55478f"/><stop offset="0.244" stop-color="#5b5ca5"/><stop offset="0.284" stop-color="#5d7fc1"/><stop offset="0.328" stop-color="#5d7dbf"/><stop offset="0.373" stop-color="#59519b"/><stop offset="0.383" stop-color="#503b7e"/><stop offset="0.388" stop-color="#422a54"/><stop offset="0.393" stop-color="#39203a"/><stop offset="0.428" stop-color="#351d30"/><stop offset="0.443" stop-color="#392039"/><stop offset="0.448" stop-color="#40284f"/><stop offset="0.453" stop-color="#4e3878"/><stop offset="0.463" stop-color="#584f99"/><stop offset="0.483" stop-color="#5d64ac"/><stop offset="0.632" stop-color="#5d69b0"/><stop offset="0.647" stop-color="#5b5ea7"/><stop offset="0.662" stop-color="#55478f"/><stop offset="0.667" stop-color="#523e83"/><stop offset="0.677" stop-color="#3d2445"/><stop offset="0.682" stop-color="#381f37"/><stop offset="0.756" stop-color="#341c2f"/><stop offset="0.776" stop-color="#381f38"/><stop offset="0.781" stop-color="#3f264a"/><stop offset="0.786" stop-color="#4c3571"/><stop offset="0.796" stop-color="#574c95"/><stop offset="0.826" stop-color="#5f6eb4"/><stop offset="0.915" stop-color="#5f71b7"/><stop offset="0.94" stop-color="#5d65ad"/><stop offset="0.97" stop-color="#5e74b9"/><stop offset="1" stop-color="#5e75b9"/></linearGradient><linearGradient id="g2_35"><stop offset="0" stop-color="#5a57a0"/><stop offset="0.025" stop-color="#5d67af"/><stop offset="0.04" stop-color="#5b5da6"/><stop offset="0.065" stop-color="#503a7c"/><stop offset="0.08" stop-color="#39203a"/><stop offset="0.095" stop-color="#361d32"/><stop offset="0.209" stop-color="#361e34"/><stop offset="0.219" stop-color="#3e2649"/><stop offset="0.229" stop-color="#524085"/><stop offset="0.239" stop-color="#58509a"/><stop offset="0.264" stop-color="#5f70b6"/><stop offset="0.294" stop-color="#5c85c5"/><stop offset="0.328" stop-color="#5d7dbf"/><stop offset="0.363" stop-color="#584f98"/><stop offset="0.378" stop-color="#503a7d"/><stop offset="0.388" stop-color="#3e2547"/><stop offset="0.398" stop-color="#382038"/><stop offset="0.448" stop-color="#3a213d"/><stop offset="0.468" stop-color="#4e3877"/><stop offset="0.488" stop-color="#54448a"/><stop offset="0.632" stop-color="#55478e"/><stop offset="0.647" stop-color="#513e82"/><stop offset="0.672" stop-color="#39203a"/><stop offset="0.677" stop-color="#371f35"/><stop offset="0.756" stop-color="#341c2f"/><stop offset="0.776" stop-color="#3a213b"/><stop offset="0.786" stop-color="#523f83"/><stop offset="0.791" stop-color="#584e97"/><stop offset="0.826" stop-color="#5d80c1"/><stop offset="0.915" stop-color="#5d83c3"/><stop offset="0.945" stop-color="#5f6eb4"/><stop offset="0.97" stop-color="#5e7bbe"/><stop offset="1" stop-color="#5d7cbe"/></linearGradient><linearGradient id="g2_36"><stop offset="0" stop-color="#5c60a9"/><stop offset="0.03" stop-color="#5e75b9"/><stop offset="0.06" stop-color="#5a56a0"/><stop offset="0.065" stop-color="#58509a"/><stop offset="0.075" stop-color="#4f3979"/><stop offset="0.08" stop-color="#40284f"/><stop offset="0.085" stop-color="#382038"/><stop offset="0.1" stop-color="#351c2f"/><stop offset="0.214" stop-color="#361e34"/><stop offset="0.224" stop-color="#3f274b"/><stop offset="0.234" stop-color="#503b7e"/><stop offset="0.249" stop-color="#59519b"/><stop offset="0.274" stop-color="#5f71b7"/><stop offset="0.294" stop-color="#5d80c1"/><stop offset="0.323" stop-color="#5e7bbe"/><stop offset="0.333" stop-color="#5f70b6"/><stop offset="0.353" stop-color="#584e98"/><stop offset="0.368" stop-color="#4d3775"/><stop offset="0.388" stop-color="#534187"/><stop offset="0.463" stop-color="#55468d"/><stop offset="0.468" stop-color="#524085"/><stop offset="0.478" stop-color="#40284d"/><stop offset="0.488" stop-color="#3a213c"/><stop offset="0.542" stop-color="#3b223f"/><stop offset="0.552" stop-color="#412950"/><stop offset="0.567" stop-color="#503a7e"/><stop offset="0.582" stop-color="#574c95"/><stop offset="0.632" stop-color="#59539c"/><stop offset="0.642" stop-color="#564a92"/><stop offset="0.652" stop-color="#4f397a"/><stop offset="0.662" stop-color="#412952"/><stop offset="0.672" stop-color="#392039"/><stop offset="0.692" stop-color="#351d30"/><stop offset="0.771" stop-color="#371e35"/><stop offset="0.776" stop-color="#39203a"/><stop offset="0.781" stop-color="#422a52"/><stop offset="0.786" stop-color="#503a7c"/><stop offset="0.796" stop-color="#58509a"/><stop offset="0.826" stop-color="#5f74b9"/><stop offset="0.915" stop-color="#5e77bb"/><stop offset="0.94" stop-color="#5f6fb5"/><stop offset="1" stop-color="#5d7cbe"/></linearGradient><linearGradient id="g2_37"><stop offset="0" stop-color="#5b5ca5"/><stop offset="0.035" stop-color="#5f6eb5"/><stop offset="0.06" stop-color="#5c61aa"/><stop offset="0.07" stop-color="#58509a"/><stop offset="0.075" stop-color="#524085"/><stop offset="0.085" stop-color="#3a213c"/><stop offset="0.095" stop-color="#351d31"/><stop offset="0.204" stop-color="#351c2f"/><stop offset="0.229" stop-color="#3a213c"/><stop offset="0.239" stop-color="#432b57"/><stop offset="0.249" stop-color="#513c80"/><stop offset="0.259" stop-color="#574c96"/><stop offset="0.284" stop-color="#5c62aa"/><stop offset="0.328" stop-color="#5c60a9"/><stop offset="0.363" stop-color="#4a336b"/><stop offset="0.373" stop-color="#59549e"/><stop offset="0.383" stop-color="#5e76ba"/><stop offset="0.403" stop-color="#5d82c2"/><stop offset="0.458" stop-color="#5b8ac8"/><stop offset="0.468" stop-color="#5e7abd"/><stop offset="0.473" stop-color="#5d65ad"/><stop offset="0.483" stop-color="#503a7c"/><stop offset="0.488" stop-color="#422b55"/><stop offset="0.493" stop-color="#3c2341"/><stop offset="0.502" stop-color="#371e34"/><stop offset="0.522" stop-color="#351d30"/><stop offset="0.542" stop-color="#39203a"/><stop offset="0.547" stop-color="#432b56"/><stop offset="0.552" stop-color="#513c7f"/><stop offset="0.557" stop-color="#564991"/><stop offset="0.577" stop-color="#5f70b6"/><stop offset="0.592" stop-color="#5c86c5"/><stop offset="0.627" stop-color="#5b89c7"/><stop offset="0.642" stop-color="#5e7abd"/><stop offset="0.667" stop-color="#54458c"/><stop offset="0.672" stop-color="#4f397b"/><stop offset="0.677" stop-color="#422a54"/><stop offset="0.682" stop-color="#3a213d"/><stop offset="0.687" stop-color="#392039"/><stop offset="0.721" stop-color="#422a54"/><stop offset="0.776" stop-color="#452d5c"/><stop offset="0.791" stop-color="#4f397b"/><stop offset="0.826" stop-color="#59549e"/><stop offset="0.91" stop-color="#5a569f"/><stop offset="1" stop-color="#5e69b0"/></linearGradient><linearGradient id="g2_38"><stop offset="0" stop-color="#5c62aa"/><stop offset="0.06" stop-color="#5e6bb2"/><stop offset="0.075" stop-color="#54458c"/><stop offset="0.09" stop-color="#3a213b"/><stop offset="0.104" stop-color="#351d31"/><stop offset="0.239" stop-color="#381f37"/><stop offset="0.249" stop-color="#3c2341"/><stop offset="0.274" stop-color="#503a7c"/><stop offset="0.289" stop-color="#534186"/><stop offset="0.328" stop-color="#523e82"/><stop offset="0.343" stop-color="#493267"/><stop offset="0.348" stop-color="#4a336c"/><stop offset="0.363" stop-color="#59519a"/><stop offset="0.373" stop-color="#5b8ac8"/><stop offset="0.378" stop-color="#4eabcf"/><stop offset="0.388" stop-color="#57b6ae"/><stop offset="0.398" stop-color="#5db8a1"/><stop offset="0.458" stop-color="#6aba87"/><stop offset="0.463" stop-color="#65b98f"/><stop offset="0.468" stop-color="#5ab7a7"/><stop offset="0.473" stop-color="#4cafce"/><stop offset="0.478" stop-color="#5a8cc9"/><stop offset="0.483" stop-color="#5f70b6"/><stop offset="0.498" stop-color="#523f84"/><stop offset="0.507" stop-color="#39203a"/><stop offset="0.522" stop-color="#351d30"/><stop offset="0.537" stop-color="#381f37"/><stop offset="0.542" stop-color="#3f274c"/><stop offset="0.547" stop-color="#513b7f"/><stop offset="0.552" stop-color="#584f99"/><stop offset="0.567" stop-color="#5e78bb"/><stop offset="0.582" stop-color="#51a5d0"/><stop offset="0.592" stop-color="#4db1ca"/><stop offset="0.627" stop-color="#4fb2c5"/><stop offset="0.637" stop-color="#4cb0cd"/><stop offset="0.647" stop-color="#569bd1"/><stop offset="0.662" stop-color="#5f71b7"/><stop offset="0.682" stop-color="#523f84"/><stop offset="0.716" stop-color="#5b5ea7"/><stop offset="0.776" stop-color="#5c62aa"/><stop offset="0.826" stop-color="#574c96"/><stop offset="0.856" stop-color="#4a346c"/><stop offset="0.905" stop-color="#493269"/><stop offset="0.94" stop-color="#54458c"/><stop offset="0.975" stop-color="#5d65ad"/><stop offset="1" stop-color="#5f70b6"/></linearGradient><linearGradient id="g2_39"><stop offset="0" stop-color="#5e7abd"/><stop offset="0.06" stop-color="#5d7fc1"/><stop offset="0.08" stop-color="#584f99"/><stop offset="0.09" stop-color="#503a7d"/><stop offset="0.1" stop-color="#40284d"/><stop offset="0.104" stop-color="#3d2445"/><stop offset="0.154" stop-color="#371f36"/><stop offset="0.333" stop-color="#3a213c"/><stop offset="0.338" stop-color="#3f264a"/><stop offset="0.348" stop-color="#55468e"/><stop offset="0.363" stop-color="#5d7fc0"/><stop offset="0.368" stop-color="#549fd2"/><stop offset="0.373" stop-color="#54b5b5"/><stop offset="0.378" stop-color="#6fbb7d"/><stop offset="0.383" stop-color="#85bf5d"/><stop offset="0.398" stop-color="#9bc455"/><stop offset="0.438" stop-color="#afc950"/><stop offset="0.458" stop-color="#b2c950"/><stop offset="0.468" stop-color="#a1c653"/><stop offset="0.473" stop-color="#85bf5d"/><stop offset="0.478" stop-color="#62b995"/><stop offset="0.483" stop-color="#4fb2c4"/><stop offset="0.488" stop-color="#53a0d1"/><stop offset="0.493" stop-color="#5c85c5"/><stop offset="0.502" stop-color="#59529c"/><stop offset="0.507" stop-color="#503a7e"/><stop offset="0.512" stop-color="#3d2546"/><stop offset="0.517" stop-color="#381f37"/><stop offset="0.527" stop-color="#361e32"/><stop offset="0.537" stop-color="#382038"/><stop offset="0.542" stop-color="#412950"/><stop offset="0.547" stop-color="#513d81"/><stop offset="0.552" stop-color="#58509a"/><stop offset="0.562" stop-color="#5f6eb4"/><stop offset="0.577" stop-color="#569bd1"/><stop offset="0.587" stop-color="#4db1cb"/><stop offset="0.597" stop-color="#50b3c2"/><stop offset="0.627" stop-color="#51b3bf"/><stop offset="0.642" stop-color="#4cb0ce"/><stop offset="0.652" stop-color="#569bd1"/><stop offset="0.677" stop-color="#5d65ad"/><stop offset="0.687" stop-color="#5f72b8"/><stop offset="0.701" stop-color="#5699d0"/><stop offset="0.716" stop-color="#4eaccf"/><stop offset="0.751" stop-color="#4fb2c5"/><stop offset="0.781" stop-color="#4cb0cd"/><stop offset="0.801" stop-color="#559cd2"/><stop offset="0.821" stop-color="#5b8bc8"/><stop offset="0.851" stop-color="#5a59a2"/><stop offset="0.905" stop-color="#59529b"/><stop offset="0.94" stop-color="#5e6cb3"/><stop offset="0.97" stop-color="#52a3d1"/><stop offset="0.98" stop-color="#4fb2c5"/><stop offset="1" stop-color="#55b6b3"/></linearGradient><linearGradient id="g2_40"><stop offset="0" stop-color="#5d81c2"/><stop offset="0.06" stop-color="#5b8bc8"/><stop offset="0.095" stop-color="#59559f"/><stop offset="0.124" stop-color="#564890"/><stop offset="0.144" stop-color="#4d3674"/><stop offset="0.199" stop-color="#4b346e"/><stop offset="0.279" stop-color="#523e83"/><stop offset="0.328" stop-color="#442d5a"/><stop offset="0.333" stop-color="#473063"/><stop offset="0.343" stop-color="#574c96"/><stop offset="0.358" stop-color="#5894cd"/><stop offset="0.363" stop-color="#4fabcf"/><stop offset="0.368" stop-color="#54b6b4"/><stop offset="0.378" stop-color="#81be5f"/><stop offset="0.388" stop-color="#97c457"/><stop offset="0.403" stop-color="#a6c751"/><stop offset="0.443" stop-color="#b8ca50"/><stop offset="0.468" stop-color="#b8ca50"/><stop offset="0.473" stop-color="#aec950"/><stop offset="0.483" stop-color="#83bf5e"/><stop offset="0.493" stop-color="#52b4bd"/><stop offset="0.498" stop-color="#569bd1"/><stop offset="0.502" stop-color="#5e74b9"/><stop offset="0.512" stop-color="#544389"/><stop offset="0.522" stop-color="#452d5c"/><stop offset="0.537" stop-color="#3e2648"/><stop offset="0.542" stop-color="#422a52"/><stop offset="0.557" stop-color="#584f99"/><stop offset="0.587" stop-color="#5a8dc9"/><stop offset="0.632" stop-color="#5796ce"/><stop offset="0.662" stop-color="#5d7ec0"/><stop offset="0.672" stop-color="#5c88c7"/><stop offset="0.682" stop-color="#50a7d0"/><stop offset="0.687" stop-color="#4fb2c4"/><stop offset="0.692" stop-color="#59b7aa"/><stop offset="0.706" stop-color="#83bf5e"/><stop offset="0.721" stop-color="#9ec554"/><stop offset="0.751" stop-color="#adc850"/><stop offset="0.781" stop-color="#a2c653"/><stop offset="0.801" stop-color="#7bbd68"/><stop offset="0.821" stop-color="#68ba89"/><stop offset="0.846" stop-color="#4eadcf"/><stop offset="0.861" stop-color="#53a1d1"/><stop offset="0.91" stop-color="#559dd2"/><stop offset="0.935" stop-color="#4cb0cd"/><stop offset="0.945" stop-color="#54b5b5"/><stop offset="0.955" stop-color="#63b994"/><stop offset="0.965" stop-color="#7dbd65"/><stop offset="0.97" stop-color="#8ec15a"/><stop offset="0.985" stop-color="#b9ca50"/><stop offset="1" stop-color="#c5cc50"/></linearGradient><linearGradient id="g2_41"><stop offset="0" stop-color="#5f6fb5"/><stop offset="0.045" stop-color="#5e75ba"/><stop offset="0.075" stop-color="#5991cc"/><stop offset="0.119" stop-color="#5d7cbe"/><stop offset="0.149" stop-color="#5b5ba4"/><stop offset="0.204" stop-color="#5a5aa4"/><stop offset="0.284" stop-color="#5f6eb4"/><stop offset="0.333" stop-color="#5b5ca5"/><stop offset="0.343" stop-color="#5d68b0"/><stop offset="0.353" stop-color="#5991cc"/><stop offset="0.358" stop-color="#50a8d0"/><stop offset="0.368" stop-color="#58b7ac"/><stop offset="0.378" stop-color="#60b89a"/><stop offset="0.413" stop-color="#70bb7c"/><stop offset="0.458" stop-color="#7dbd64"/><stop offset="0.478" stop-color="#a0c654"/><stop offset="0.483" stop-color="#9cc555"/><stop offset="0.488" stop-color="#88c05c"/><stop offset="0.498" stop-color="#50b3c2"/><stop offset="0.502" stop-color="#569ad0"/><stop offset="0.507" stop-color="#5d7ec0"/><stop offset="0.517" stop-color="#5d64ac"/><stop offset="0.552" stop-color="#54448b"/><stop offset="0.567" stop-color="#55468e"/><stop offset="0.592" stop-color="#5b5ca5"/><stop offset="0.642" stop-color="#5c62ab"/><stop offset="0.657" stop-color="#5d7fc1"/><stop offset="0.667" stop-color="#50a8d0"/><stop offset="0.672" stop-color="#52b4bc"/><stop offset="0.682" stop-color="#73bc76"/><stop offset="0.687" stop-color="#87c05c"/><stop offset="0.706" stop-color="#d1c94f"/><stop offset="0.721" stop-color="#e5b14b"/><stop offset="0.751" stop-color="#e9a048"/><stop offset="0.781" stop-color="#e6ac4a"/><stop offset="0.801" stop-color="#cbcd50"/><stop offset="0.831" stop-color="#b2c950"/><stop offset="0.851" stop-color="#94c358"/><stop offset="0.91" stop-color="#88c05c"/><stop offset="0.935" stop-color="#92c258"/><stop offset="0.96" stop-color="#c9cc50"/><stop offset="0.975" stop-color="#e6aa4a"/><stop offset="0.985" stop-color="#ec9246"/><stop offset="1" stop-color="#eb8340"/></linearGradient><linearGradient id="g2_42"><stop offset="0" stop-color="#584f99"/><stop offset="0.045" stop-color="#5a57a1"/><stop offset="0.055" stop-color="#5e6ab1"/><stop offset="0.07" stop-color="#5798cf"/><stop offset="0.085" stop-color="#4cb0ce"/><stop offset="0.119" stop-color="#4dafce"/><stop offset="0.129" stop-color="#549fd1"/><stop offset="0.144" stop-color="#5d7fc0"/><stop offset="0.189" stop-color="#5e7bbd"/><stop offset="0.259" stop-color="#5a8dc9"/><stop offset="0.289" stop-color="#4fa9cf"/><stop offset="0.338" stop-color="#5798cf"/><stop offset="0.353" stop-color="#50a7d0"/><stop offset="0.368" stop-color="#50b3c0"/><stop offset="0.378" stop-color="#4fabcf"/><stop offset="0.398" stop-color="#5894cd"/><stop offset="0.453" stop-color="#53a0d1"/><stop offset="0.463" stop-color="#4db1cb"/><stop offset="0.468" stop-color="#57b6ae"/><stop offset="0.478" stop-color="#86bf5d"/><stop offset="0.483" stop-color="#91c259"/><stop offset="0.488" stop-color="#8bc15b"/><stop offset="0.493" stop-color="#79bd6b"/><stop offset="0.502" stop-color="#57b6ae"/><stop offset="0.512" stop-color="#4cb0ce"/><stop offset="0.527" stop-color="#559dd2"/><stop offset="0.567" stop-color="#5c63ab"/><stop offset="0.597" stop-color="#58509a"/><stop offset="0.632" stop-color="#5a58a1"/><stop offset="0.642" stop-color="#5e6db3"/><stop offset="0.652" stop-color="#5699d0"/><stop offset="0.657" stop-color="#4daece"/><stop offset="0.662" stop-color="#55b6b2"/><stop offset="0.672" stop-color="#7cbd67"/><stop offset="0.677" stop-color="#8fc25a"/><stop offset="0.697" stop-color="#c7cc50"/><stop offset="0.706" stop-color="#debb4c"/><stop offset="0.716" stop-color="#e8a349"/><stop offset="0.741" stop-color="#eb8c44"/><stop offset="0.756" stop-color="#eb8943"/><stop offset="0.776" stop-color="#ec9046"/><stop offset="0.796" stop-color="#deba4c"/><stop offset="0.806" stop-color="#d8c14e"/><stop offset="0.876" stop-color="#e5b14b"/><stop offset="0.91" stop-color="#e1b84c"/><stop offset="0.935" stop-color="#d1c94f"/><stop offset="0.96" stop-color="#e4b44b"/><stop offset="0.985" stop-color="#ea783c"/><stop offset="1" stop-color="#e46836"/></linearGradient><linearGradient id="g2_43"><stop offset="0" stop-color="#412950"/><stop offset="0.03" stop-color="#422b55"/><stop offset="0.04" stop-color="#483166"/><stop offset="0.05" stop-color="#574c95"/><stop offset="0.06" stop-color="#5f6fb5"/><stop offset="0.07" stop-color="#5893cd"/><stop offset="0.075" stop-color="#51a6d0"/><stop offset="0.08" stop-color="#4fb2c6"/><stop offset="0.09" stop-color="#57b6ae"/><stop offset="0.1" stop-color="#5bb7a5"/><stop offset="0.114" stop-color="#59b7aa"/><stop offset="0.129" stop-color="#4db1cb"/><stop offset="0.134" stop-color="#51a5d0"/><stop offset="0.149" stop-color="#5a8fca"/><stop offset="0.194" stop-color="#5b8bc8"/><stop offset="0.269" stop-color="#4fa9cf"/><stop offset="0.274" stop-color="#4db1cb"/><stop offset="0.289" stop-color="#60b89a"/><stop offset="0.303" stop-color="#64b991"/><stop offset="0.358" stop-color="#5ab7a8"/><stop offset="0.368" stop-color="#54b5b5"/><stop offset="0.378" stop-color="#50a8d0"/><stop offset="0.383" stop-color="#5894cd"/><stop offset="0.398" stop-color="#5a5aa3"/><stop offset="0.413" stop-color="#59519a"/><stop offset="0.448" stop-color="#5b5ba4"/><stop offset="0.453" stop-color="#5d68af"/><stop offset="0.463" stop-color="#51a6d0"/><stop offset="0.468" stop-color="#58b7ab"/><stop offset="0.473" stop-color="#76bc70"/><stop offset="0.478" stop-color="#90c259"/><stop offset="0.488" stop-color="#9ec554"/><stop offset="0.517" stop-color="#7dbd64"/><stop offset="0.557" stop-color="#4fb2c5"/><stop offset="0.572" stop-color="#54a0d1"/><stop offset="0.602" stop-color="#5d7ec0"/><stop offset="0.632" stop-color="#5b89c7"/><stop offset="0.642" stop-color="#52a3d1"/><stop offset="0.647" stop-color="#4eb1c9"/><stop offset="0.667" stop-color="#82be5e"/><stop offset="0.701" stop-color="#aac850"/><stop offset="0.716" stop-color="#d0ca4f"/><stop offset="0.746" stop-color="#dfba4c"/><stop offset="0.781" stop-color="#d7c24e"/><stop offset="0.801" stop-color="#b5ca50"/><stop offset="0.816" stop-color="#b6ca50"/><stop offset="0.826" stop-color="#c2cb50"/><stop offset="0.831" stop-color="#d1c94f"/><stop offset="0.841" stop-color="#e6ac4a"/><stop offset="0.856" stop-color="#ec8e45"/><stop offset="0.876" stop-color="#eb8441"/><stop offset="0.91" stop-color="#ec9046"/><stop offset="0.93" stop-color="#dabf4d"/><stop offset="0.94" stop-color="#cfcb50"/><stop offset="0.965" stop-color="#d4c54e"/><stop offset="0.98" stop-color="#e4b44b"/><stop offset="1" stop-color="#e8a248"/></linearGradient><linearGradient id="g2_44"><stop offset="0" stop-color="#361e32"/><stop offset="0.04" stop-color="#382038"/><stop offset="0.045" stop-color="#3f274c"/><stop offset="0.05" stop-color="#4f397b"/><stop offset="0.055" stop-color="#574b94"/><stop offset="0.07" stop-color="#5e78bc"/><stop offset="0.08" stop-color="#52a3d1"/><stop offset="0.085" stop-color="#4cafce"/><stop offset="0.1" stop-color="#51b3be"/><stop offset="0.119" stop-color="#4fb2c6"/><stop offset="0.129" stop-color="#51a5d0"/><stop offset="0.144" stop-color="#5c84c4"/><stop offset="0.189" stop-color="#5d80c1"/><stop offset="0.269" stop-color="#549ed2"/><stop offset="0.274" stop-color="#4fa9cf"/><stop offset="0.294" stop-color="#6aba87"/><stop offset="0.313" stop-color="#79bd6c"/><stop offset="0.353" stop-color="#6dbb80"/><stop offset="0.363" stop-color="#64b991"/><stop offset="0.373" stop-color="#50b2c3"/><stop offset="0.378" stop-color="#51a6d0"/><stop offset="0.388" stop-color="#5e75b9"/><stop offset="0.398" stop-color="#55488f"/><stop offset="0.408" stop-color="#483165"/><stop offset="0.418" stop-color="#462e5e"/><stop offset="0.438" stop-color="#493267"/><stop offset="0.448" stop-color="#55478e"/><stop offset="0.458" stop-color="#5d82c2"/><stop offset="0.463" stop-color="#4daece"/><stop offset="0.468" stop-color="#63b993"/><stop offset="0.473" stop-color="#89c05c"/><stop offset="0.483" stop-color="#afc950"/><stop offset="0.532" stop-color="#abc850"/><stop offset="0.562" stop-color="#80be5f"/><stop offset="0.592" stop-color="#53b4b9"/><stop offset="0.607" stop-color="#4fb2c5"/><stop offset="0.632" stop-color="#51b3be"/><stop offset="0.652" stop-color="#68ba89"/><stop offset="0.662" stop-color="#71bb7a"/><stop offset="0.697" stop-color="#56b6af"/><stop offset="0.721" stop-color="#73bc76"/><stop offset="0.746" stop-color="#7fbe60"/><stop offset="0.776" stop-color="#7bbd68"/><stop offset="0.796" stop-color="#61b898"/><stop offset="0.801" stop-color="#5fb89b"/><stop offset="0.816" stop-color="#63b994"/><stop offset="0.826" stop-color="#72bb79"/><stop offset="0.831" stop-color="#86c05d"/><stop offset="0.836" stop-color="#a2c653"/><stop offset="0.846" stop-color="#d5c54e"/><stop offset="0.861" stop-color="#e6ad4a"/><stop offset="0.886" stop-color="#e8a449"/><stop offset="0.905" stop-color="#e6aa4a"/><stop offset="0.915" stop-color="#e1b84c"/><stop offset="0.925" stop-color="#c3cc50"/><stop offset="0.935" stop-color="#98c457"/><stop offset="0.955" stop-color="#81be5f"/><stop offset="0.97" stop-color="#7fbe60"/><stop offset="1" stop-color="#94c358"/></linearGradient><linearGradient id="g2_45"><stop offset="0" stop-color="#351d30"/><stop offset="0.045" stop-color="#381f37"/><stop offset="0.05" stop-color="#3c2342"/><stop offset="0.06" stop-color="#513d81"/><stop offset="0.08" stop-color="#5e75b9"/><stop offset="0.1" stop-color="#5a8cc9"/><stop offset="0.119" stop-color="#5c87c6"/><stop offset="0.144" stop-color="#5c63ab"/><stop offset="0.204" stop-color="#5c61aa"/><stop offset="0.264" stop-color="#5f70b6"/><stop offset="0.274" stop-color="#5d81c2"/><stop offset="0.284" stop-color="#51a5d0"/><stop offset="0.289" stop-color="#4cb0cd"/><stop offset="0.313" stop-color="#5db89f"/><stop offset="0.358" stop-color="#61b899"/><stop offset="0.363" stop-color="#5db8a1"/><stop offset="0.373" stop-color="#4fa9cf"/><stop offset="0.383" stop-color="#5d81c2"/><stop offset="0.393" stop-color="#5d66ae"/><stop offset="0.408" stop-color="#5b5da6"/><stop offset="0.448" stop-color="#5d68b0"/><stop offset="0.453" stop-color="#5e75ba"/><stop offset="0.463" stop-color="#4eadcf"/><stop offset="0.468" stop-color="#5cb7a2"/><stop offset="0.473" stop-color="#7abd69"/><stop offset="0.478" stop-color="#94c358"/><stop offset="0.488" stop-color="#a7c751"/><stop offset="0.502" stop-color="#9dc554"/><stop offset="0.537" stop-color="#baca50"/><stop offset="0.562" stop-color="#adc850"/><stop offset="0.587" stop-color="#7ebe62"/><stop offset="0.597" stop-color="#6aba85"/><stop offset="0.602" stop-color="#66b98d"/><stop offset="0.647" stop-color="#5fb89c"/><stop offset="0.667" stop-color="#4cb0cd"/><stop offset="0.672" stop-color="#51a5d0"/><stop offset="0.687" stop-color="#5c84c4"/><stop offset="0.697" stop-color="#5e79bd"/><stop offset="0.746" stop-color="#5893cd"/><stop offset="0.806" stop-color="#5d81c2"/><stop offset="0.821" stop-color="#5b89c7"/><stop offset="0.831" stop-color="#51a5d0"/><stop offset="0.836" stop-color="#50b3c0"/><stop offset="0.846" stop-color="#76bc71"/><stop offset="0.851" stop-color="#88c05c"/><stop offset="0.861" stop-color="#99c456"/><stop offset="0.881" stop-color="#a4c752"/><stop offset="0.905" stop-color="#9ec554"/><stop offset="0.915" stop-color="#8ec15a"/><stop offset="0.92" stop-color="#7bbd67"/><stop offset="0.93" stop-color="#56b6af"/><stop offset="0.94" stop-color="#4daece"/><stop offset="0.965" stop-color="#559dd2"/><stop offset="1" stop-color="#53a1d1"/></linearGradient><linearGradient id="g2_46"><stop offset="0" stop-color="#382038"/><stop offset="0.055" stop-color="#3a213b"/><stop offset="0.065" stop-color="#40284e"/><stop offset="0.075" stop-color="#513d81"/><stop offset="0.08" stop-color="#564991"/><stop offset="0.09" stop-color="#59549e"/><stop offset="0.119" stop-color="#59559e"/><stop offset="0.149" stop-color="#523e83"/><stop offset="0.259" stop-color="#55458c"/><stop offset="0.269" stop-color="#574b94"/><stop offset="0.289" stop-color="#5e76ba"/><stop offset="0.308" stop-color="#5893cd"/><stop offset="0.338" stop-color="#559cd1"/><stop offset="0.353" stop-color="#4cb0cd"/><stop offset="0.363" stop-color="#54b6b4"/><stop offset="0.378" stop-color="#4fa9cf"/><stop offset="0.393" stop-color="#53a0d1"/><stop offset="0.448" stop-color="#4daece"/><stop offset="0.463" stop-color="#55b6b1"/><stop offset="0.478" stop-color="#80be5f"/><stop offset="0.483" stop-color="#87c05c"/><stop offset="0.488" stop-color="#83bf5e"/><stop offset="0.502" stop-color="#63b993"/><stop offset="0.507" stop-color="#63b994"/><stop offset="0.527" stop-color="#80be5f"/><stop offset="0.557" stop-color="#9ec554"/><stop offset="0.577" stop-color="#96c357"/><stop offset="0.587" stop-color="#7ebe62"/><stop offset="0.602" stop-color="#64b991"/><stop offset="0.632" stop-color="#59b7a9"/><stop offset="0.647" stop-color="#4daece"/><stop offset="0.652" stop-color="#53a1d1"/><stop offset="0.667" stop-color="#5f73b8"/><stop offset="0.677" stop-color="#5a5aa3"/><stop offset="0.697" stop-color="#534186"/><stop offset="0.746" stop-color="#574d96"/><stop offset="0.796" stop-color="#54438a"/><stop offset="0.816" stop-color="#55478f"/><stop offset="0.831" stop-color="#5b5ca5"/><stop offset="0.851" stop-color="#559ed2"/><stop offset="0.876" stop-color="#4daece"/><stop offset="0.91" stop-color="#4fa9cf"/><stop offset="0.92" stop-color="#5798cf"/><stop offset="0.93" stop-color="#5d7fc1"/><stop offset="0.94" stop-color="#5e75ba"/><stop offset="1" stop-color="#5f74b8"/></linearGradient><linearGradient id="g2_47"><stop offset="0" stop-color="#513c80"/><stop offset="0.06" stop-color="#4b356f"/><stop offset="0.104" stop-color="#513d81"/><stop offset="0.254" stop-color="#4f397a"/><stop offset="0.274" stop-color="#4c3570"/><stop offset="0.299" stop-color="#584f99"/><stop offset="0.338" stop-color="#5c61a9"/><stop offset="0.348" stop-color="#5e7abd"/><stop offset="0.358" stop-color="#51a6d0"/><stop offset="0.363" stop-color="#4fb2c5"/><stop offset="0.378" stop-color="#61b898"/><stop offset="0.428" stop-color="#79bd6c"/><stop offset="0.468" stop-color="#81be5f"/><stop offset="0.473" stop-color="#7ebe63"/><stop offset="0.478" stop-color="#74bc74"/><stop offset="0.493" stop-color="#4eb1c8"/><stop offset="0.498" stop-color="#51a4d0"/><stop offset="0.507" stop-color="#5892cc"/><stop offset="0.532" stop-color="#4db1cb"/><stop offset="0.562" stop-color="#63b994"/><stop offset="0.572" stop-color="#67b98c"/><stop offset="0.602" stop-color="#4db1cb"/><stop offset="0.632" stop-color="#53a1d1"/><stop offset="0.642" stop-color="#5b89c7"/><stop offset="0.662" stop-color="#584e98"/><stop offset="0.677" stop-color="#432b55"/><stop offset="0.687" stop-color="#3a213b"/><stop offset="0.796" stop-color="#392039"/><stop offset="0.816" stop-color="#3a213c"/><stop offset="0.826" stop-color="#3e2648"/><stop offset="0.836" stop-color="#4e3877"/><stop offset="0.846" stop-color="#584e97"/><stop offset="0.856" stop-color="#5a58a2"/><stop offset="0.92" stop-color="#5b5ea7"/><stop offset="0.965" stop-color="#5d80c1"/><stop offset="1" stop-color="#5e7abd"/></linearGradient><linearGradient id="g2_48"><stop offset="0" stop-color="#5c60a9"/><stop offset="0.06" stop-color="#59539d"/><stop offset="0.254" stop-color="#5a57a0"/><stop offset="0.269" stop-color="#584d97"/><stop offset="0.284" stop-color="#513b7f"/><stop offset="0.299" stop-color="#412952"/><stop offset="0.323" stop-color="#422a55"/><stop offset="0.333" stop-color="#462f60"/><stop offset="0.343" stop-color="#54458b"/><stop offset="0.358" stop-color="#5d7ec0"/><stop offset="0.368" stop-color="#4eaccf"/><stop offset="0.378" stop-color="#69ba88"/><stop offset="0.383" stop-color="#77bc6f"/><stop offset="0.388" stop-color="#7dbd64"/><stop offset="0.448" stop-color="#99c456"/><stop offset="0.468" stop-color="#7fbe60"/><stop offset="0.473" stop-color="#6cba82"/><stop offset="0.478" stop-color="#55b6b2"/><stop offset="0.483" stop-color="#51a6d0"/><stop offset="0.493" stop-color="#5e77bb"/><stop offset="0.507" stop-color="#5a569f"/><stop offset="0.517" stop-color="#5a59a2"/><stop offset="0.572" stop-color="#5797cf"/><stop offset="0.637" stop-color="#5c61aa"/><stop offset="0.652" stop-color="#513b7f"/><stop offset="0.662" stop-color="#3d2546"/><stop offset="0.667" stop-color="#39203a"/><stop offset="0.761" stop-color="#371e35"/><stop offset="0.786" stop-color="#3a213b"/><stop offset="0.801" stop-color="#442d5a"/><stop offset="0.846" stop-color="#58509a"/><stop offset="0.92" stop-color="#584f99"/><stop offset="0.965" stop-color="#5f6eb4"/><stop offset="1" stop-color="#5e69b0"/></linearGradient><linearGradient id="g2_49"><stop offset="0" stop-color="#5d7cbe"/><stop offset="0.06" stop-color="#5d66ae"/><stop offset="0.104" stop-color="#5f6fb5"/><stop offset="0.259" stop-color="#5e6db3"/><stop offset="0.284" stop-color="#584d97"/><stop offset="0.294" stop-color="#503b7e"/><stop offset="0.303" stop-color="#40284f"/><stop offset="0.318" stop-color="#3c2342"/><stop offset="0.333" stop-color="#3d2545"/><stop offset="0.343" stop-color="#452e5d"/><stop offset="0.348" stop-color="#503a7d"/><stop offset="0.363" stop-color="#5c61a9"/><stop offset="0.373" stop-color="#559dd2"/><stop offset="0.378" stop-color="#4fb2c4"/><stop offset="0.388" stop-color="#5db8a1"/><stop offset="0.438" stop-color="#70bb7c"/><stop offset="0.453" stop-color="#68ba89"/><stop offset="0.473" stop-color="#4faacf"/><stop offset="0.478" stop-color="#5c88c7"/><stop offset="0.488" stop-color="#59529c"/><stop offset="0.498" stop-color="#4f3979"/><stop offset="0.502" stop-color="#452e5d"/><stop offset="0.512" stop-color="#3f274b"/><stop offset="0.522" stop-color="#442c59"/><stop offset="0.537" stop-color="#513c7f"/><stop offset="0.572" stop-color="#5a57a0"/><stop offset="0.632" stop-color="#513c80"/><stop offset="0.647" stop-color="#432c58"/><stop offset="0.657" stop-color="#40274c"/><stop offset="0.701" stop-color="#473062"/><stop offset="0.766" stop-color="#473063"/><stop offset="0.776" stop-color="#4a346c"/><stop offset="0.796" stop-color="#584e98"/><stop offset="0.826" stop-color="#5d65ad"/><stop offset="0.856" stop-color="#5b89c7"/><stop offset="0.9" stop-color="#5b89c7"/><stop offset="0.945" stop-color="#54448a"/><stop offset="0.97" stop-color="#564992"/><stop offset="1" stop-color="#55458c"/></linearGradient><linearGradient id="g2_50"><stop offset="0" stop-color="#5d82c2"/><stop offset="0.06" stop-color="#5d67ae"/><stop offset="0.104" stop-color="#5e74b9"/><stop offset="0.254" stop-color="#5e75ba"/><stop offset="0.303" stop-color="#54448a"/><stop offset="0.358" stop-color="#503b7e"/><stop offset="0.363" stop-color="#513e82"/><stop offset="0.368" stop-color="#574d96"/><stop offset="0.378" stop-color="#5e79bc"/><stop offset="0.388" stop-color="#5a8dc9"/><stop offset="0.448" stop-color="#569ad1"/><stop offset="0.463" stop-color="#5d83c3"/><stop offset="0.473" stop-color="#5d67ae"/><stop offset="0.478" stop-color="#58509a"/><stop offset="0.488" stop-color="#3d2443"/><stop offset="0.493" stop-color="#382038"/><stop offset="0.512" stop-color="#351d31"/><stop offset="0.552" stop-color="#39203a"/><stop offset="0.572" stop-color="#40274d"/><stop offset="0.602" stop-color="#3a213c"/><stop offset="0.627" stop-color="#3a213c"/><stop offset="0.647" stop-color="#513c80"/><stop offset="0.657" stop-color="#534288"/><stop offset="0.697" stop-color="#59519b"/><stop offset="0.776" stop-color="#59559e"/><stop offset="0.821" stop-color="#5c84c4"/><stop offset="0.836" stop-color="#53a1d1"/><stop offset="0.851" stop-color="#50b3c1"/><stop offset="0.896" stop-color="#52b4bc"/><stop offset="0.905" stop-color="#4fb2c6"/><stop offset="0.915" stop-color="#559cd1"/><stop offset="0.935" stop-color="#5a57a0"/><stop offset="0.94" stop-color="#54448a"/><stop offset="0.95" stop-color="#3f264a"/><stop offset="0.955" stop-color="#3b223e"/><stop offset="1" stop-color="#39213b"/></linearGradient><linearGradient id="g2_51"><stop offset="0" stop-color="#5e6db3"/><stop offset="0.06" stop-color="#59559e"/><stop offset="0.104" stop-color="#5c62aa"/><stop offset="0.254" stop-color="#5e6ab1"/><stop offset="0.338" stop-color="#5b5fa8"/><stop offset="0.348" stop-color="#5b5ba5"/><stop offset="0.368" stop-color="#534287"/><stop offset="0.383" stop-color="#584f98"/><stop offset="0.443" stop-color="#59559e"/><stop offset="0.453" stop-color="#58509a"/><stop offset="0.468" stop-color="#523e82"/><stop offset="0.478" stop-color="#3c2443"/><stop offset="0.483" stop-color="#371f36"/><stop offset="0.612" stop-color="#351d31"/><stop offset="0.627" stop-color="#39203a"/><stop offset="0.632" stop-color="#422a52"/><stop offset="0.637" stop-color="#4f397b"/><stop offset="0.647" stop-color="#584e98"/><stop offset="0.657" stop-color="#59559f"/><stop offset="0.697" stop-color="#5d66ae"/><stop offset="0.776" stop-color="#5e69b0"/><stop offset="0.826" stop-color="#569bd1"/><stop offset="0.836" stop-color="#4eaccf"/><stop offset="0.856" stop-color="#59b7a8"/><stop offset="0.896" stop-color="#5ab7a7"/><stop offset="0.905" stop-color="#55b6b3"/><stop offset="0.915" stop-color="#51a6d0"/><stop offset="0.92" stop-color="#5893cd"/><stop offset="0.935" stop-color="#5b5ca5"/><stop offset="0.94" stop-color="#55478e"/><stop offset="0.95" stop-color="#39203a"/><stop offset="0.96" stop-color="#351d31"/><stop offset="1" stop-color="#351d30"/></linearGradient><linearGradient id="g2_52"><stop offset="0" stop-color="#574c95"/><stop offset="0.03" stop-color="#55468d"/><stop offset="0.06" stop-color="#4d3775"/><stop offset="0.104" stop-color="#544389"/><stop offset="0.219" stop-color="#55458c"/><stop offset="0.249" stop-color="#5b5da6"/><stop offset="0.289" stop-color="#5f72b7"/><stop offset="0.343" stop-color="#5f72b7"/><stop offset="0.373" stop-color="#564991"/><stop offset="0.383" stop-color="#4d3774"/><stop offset="0.393" stop-color="#3e2547"/><stop offset="0.403" stop-color="#3a213d"/><stop offset="0.478" stop-color="#382038"/><stop offset="0.512" stop-color="#4c3571"/><stop offset="0.562" stop-color="#4c3672"/><stop offset="0.572" stop-color="#4a346c"/><stop offset="0.597" stop-color="#39203a"/><stop offset="0.617" stop-color="#351d31"/><stop offset="0.627" stop-color="#392039"/><stop offset="0.632" stop-color="#412952"/><stop offset="0.637" stop-color="#4f397b"/><stop offset="0.647" stop-color="#584e98"/><stop offset="0.652" stop-color="#59529c"/><stop offset="0.697" stop-color="#5d66ae"/><stop offset="0.781" stop-color="#5e6ab1"/><stop offset="0.826" stop-color="#5c84c4"/><stop offset="0.841" stop-color="#559ed2"/><stop offset="0.856" stop-color="#4eaccf"/><stop offset="0.9" stop-color="#4eabcf"/><stop offset="0.91" stop-color="#559dd2"/><stop offset="0.925" stop-color="#5e6db3"/><stop offset="0.935" stop-color="#584f99"/><stop offset="0.94" stop-color="#513c80"/><stop offset="0.945" stop-color="#40274d"/><stop offset="0.95" stop-color="#381f37"/><stop offset="1" stop-color="#341c2f"/></linearGradient><linearGradient id="g2_53"><stop offset="0" stop-color="#3e2649"/><stop offset="0.055" stop-color="#381f38"/><stop offset="0.124" stop-color="#3c2341"/><stop offset="0.194" stop-color="#4f397a"/><stop offset="0.224" stop-color="#4d3775"/><stop offset="0.244" stop-color="#59519b"/><stop offset="0.284" stop-color="#5f6eb5"/><stop offset="0.338" stop-color="#5f72b8"/><stop offset="0.353" stop-color="#5e6bb1"/><stop offset="0.373" stop-color="#584f99"/><stop offset="0.383" stop-color="#4f3879"/><stop offset="0.388" stop-color="#41284f"/><stop offset="0.393" stop-color="#392039"/><stop offset="0.398" stop-color="#361e34"/><stop offset="0.468" stop-color="#371f36"/><stop offset="0.473" stop-color="#3a213c"/><stop offset="0.483" stop-color="#4e3877"/><stop offset="0.498" stop-color="#584e98"/><stop offset="0.512" stop-color="#5b5ba4"/><stop offset="0.557" stop-color="#5b5ba5"/><stop offset="0.582" stop-color="#584f99"/><stop offset="0.597" stop-color="#4e3877"/><stop offset="0.607" stop-color="#3a213c"/><stop offset="0.622" stop-color="#361e32"/><stop offset="0.632" stop-color="#3a213b"/><stop offset="0.647" stop-color="#513c80"/><stop offset="0.682" stop-color="#584d97"/><stop offset="0.781" stop-color="#59539d"/><stop offset="0.826" stop-color="#5b5da6"/><stop offset="0.856" stop-color="#5f72b7"/><stop offset="0.896" stop-color="#5f72b7"/><stop offset="0.905" stop-color="#5f6eb4"/><stop offset="0.925" stop-color="#574b95"/><stop offset="0.93" stop-color="#534186"/><stop offset="0.94" stop-color="#3e2648"/><stop offset="0.945" stop-color="#381f37"/><stop offset="1" stop-color="#341c2f"/></linearGradient><linearGradient id="g2_54"><stop offset="0" stop-color="#361d32"/><stop offset="0.124" stop-color="#361e33"/><stop offset="0.139" stop-color="#3b223e"/><stop offset="0.184" stop-color="#503a7d"/><stop offset="0.204" stop-color="#513d81"/><stop offset="0.224" stop-color="#4e3877"/><stop offset="0.259" stop-color="#584f99"/><stop offset="0.299" stop-color="#5b5fa8"/><stop offset="0.348" stop-color="#5b5ea7"/><stop offset="0.368" stop-color="#584f99"/><stop offset="0.378" stop-color="#523f84"/><stop offset="0.393" stop-color="#3a213c"/><stop offset="0.453" stop-color="#382038"/><stop offset="0.463" stop-color="#3a213d"/><stop offset="0.468" stop-color="#3f274b"/><stop offset="0.478" stop-color="#523e82"/><stop offset="0.483" stop-color="#574b93"/><stop offset="0.502" stop-color="#5e6cb3"/><stop offset="0.512" stop-color="#5e76ba"/><stop offset="0.557" stop-color="#5e77bb"/><stop offset="0.572" stop-color="#5f73b8"/><stop offset="0.592" stop-color="#59549e"/><stop offset="0.602" stop-color="#513c80"/><stop offset="0.612" stop-color="#39203a"/><stop offset="0.622" stop-color="#351d31"/><stop offset="0.697" stop-color="#472f61"/><stop offset="0.776" stop-color="#473063"/><stop offset="0.811" stop-color="#4c3671"/><stop offset="0.826" stop-color="#4a336c"/><stop offset="0.851" stop-color="#513d81"/><stop offset="0.891" stop-color="#523e82"/><stop offset="0.91" stop-color="#4e3878"/><stop offset="0.925" stop-color="#3e2547"/><stop offset="0.935" stop-color="#381f37"/><stop offset="1" stop-color="#341c2f"/></linearGradient><linearGradient id="g2_55"><stop offset="0" stop-color="#341c2f"/><stop offset="0.124" stop-color="#351d30"/><stop offset="0.194" stop-color="#4a346c"/><stop offset="0.229" stop-color="#442d5a"/><stop offset="0.294" stop-color="#534287"/><stop offset="0.448" stop-color="#513d81"/><stop offset="0.478" stop-color="#584d96"/><stop offset="0.507" stop-color="#5e76ba"/><stop offset="0.552" stop-color="#5e7abd"/><stop offset="0.572" stop-color="#5e76ba"/><stop offset="0.592" stop-color="#5a569f"/><stop offset="0.602" stop-color="#513e82"/><stop offset="0.612" stop-color="#39203a"/><stop offset="0.622" stop-color="#351d31"/><stop offset="1" stop-color="#341c2f"/></linearGradient><linearGradient id="g2_56"><stop offset="0" stop-color="#341c2f"/><stop offset="0.119" stop-color="#341c2f"/><stop offset="0.323" stop-color="#3c2341"/><stop offset="0.333" stop-color="#3f274c"/><stop offset="0.343" stop-color="#4e3877"/><stop offset="0.358" stop-color="#584f99"/><stop offset="0.383" stop-color="#5c60a9"/><stop offset="0.448" stop-color="#5d65ad"/><stop offset="0.463" stop-color="#5f73b8"/><stop offset="0.488" stop-color="#5b5ca5"/><stop offset="0.557" stop-color="#5c62aa"/><stop offset="0.577" stop-color="#5a5aa3"/><stop offset="0.597" stop-color="#513c80"/><stop offset="0.607" stop-color="#3c2341"/><stop offset="0.622" stop-color="#351d30"/><stop offset="1" stop-color="#341c2f"/></linearGradient><linearGradient id="g2_57"><stop offset="0" stop-color="#341c2f"/><stop offset="0.323" stop-color="#361e33"/><stop offset="0.333" stop-color="#3b2340"/><stop offset="0.343" stop-color="#534288"/><stop offset="0.348" stop-color="#59519b"/><stop offset="0.358" stop-color="#5c63ab"/><stop offset="0.383" stop-color="#5d7dbf"/><stop offset="0.448" stop-color="#5c86c5"/><stop offset="0.463" stop-color="#559cd1"/><stop offset="0.468" stop-color="#5798cf"/><stop offset="0.488" stop-color="#5d68af"/><stop offset="0.517" stop-color="#534186"/><stop offset="0.572" stop-color="#513c80"/><stop offset="0.597" stop-color="#3c2341"/><stop offset="0.612" stop-color="#351d31"/><stop offset="1" stop-color="#341c2f"/></linearGradient><linearGradient id="g2_58"><stop offset="0" stop-color="#341c2f"/><stop offset="0.323" stop-color="#351d31"/><stop offset="0.333" stop-color="#3b223f"/><stop offset="0.343" stop-color="#54448a"/><stop offset="0.348" stop-color="#59539d"/><stop offset="0.363" stop-color="#5e6cb3"/><stop offset="0.383" stop-color="#5d81c1"/><stop offset="0.443" stop-color="#5c87c6"/><stop offset="0.463" stop-color="#549fd1"/><stop offset="0.468" stop-color="#559dd2"/><stop offset="0.483" stop-color="#5e74b9"/><stop offset="0.502" stop-color="#584d97"/><stop offset="0.507" stop-color="#524084"/><stop offset="0.517" stop-color="#3e2648"/><stop offset="0.527" stop-color="#392039"/><stop offset="0.617" stop-color="#351d2f"/><stop offset="1" stop-color="#341c2f"/></linearGradient><linearGradient id="g2_59"><stop offset="0" stop-color="#351d30"/><stop offset="0.323" stop-color="#351d30"/><stop offset="0.333" stop-color="#381f38"/><stop offset="0.338" stop-color="#3f274a"/><stop offset="0.343" stop-color="#4c3571"/><stop offset="0.348" stop-color="#534288"/><stop offset="0.358" stop-color="#59529c"/><stop offset="0.378" stop-color="#5d65ac"/><stop offset="0.443" stop-color="#5e6cb2"/><stop offset="0.463" stop-color="#5d7cbf"/><stop offset="0.493" stop-color="#584e98"/><stop offset="0.502" stop-color="#513c80"/><stop offset="0.512" stop-color="#3c2342"/><stop offset="0.527" stop-color="#351d31"/><stop offset="0.846" stop-color="#351d30"/><stop offset="0.871" stop-color="#3a213d"/><stop offset="0.896" stop-color="#462f61"/><stop offset="0.915" stop-color="#483165"/><stop offset="0.93" stop-color="#462e5f"/><stop offset="0.95" stop-color="#3a213b"/><stop offset="0.96" stop-color="#371e35"/><stop offset="1" stop-color="#341c2f"/></linearGradient><linearGradient id="g2_60"><stop offset="0" stop-color="#392039"/><stop offset="0.328" stop-color="#351d30"/><stop offset="0.343" stop-color="#3a213b"/><stop offset="0.368" stop-color="#503b7e"/><stop offset="0.448" stop-color="#55458c"/><stop offset="0.463" stop-color="#585099"/><stop offset="0.483" stop-color="#503b7f"/><stop offset="0.502" stop-color="#3c2341"/><stop offset="0.522" stop-color="#351d30"/><stop offset="0.577" stop-color="#361e33"/><stop offset="0.637" stop-color="#4f397b"/><stop offset="0.687" stop-color="#39213b"/><stop offset="0.701" stop-color="#351d31"/><stop offset="0.841" stop-color="#351d30"/><stop offset="0.856" stop-color="#3a213b"/><stop offset="0.866" stop-color="#4c3571"/><stop offset="0.876" stop-color="#54438a"/><stop offset="0.891" stop-color="#59529c"/><stop offset="0.915" stop-color="#5a57a0"/><stop offset="0.935" stop-color="#58509a"/><stop offset="0.95" stop-color="#513c7f"/><stop offset="0.965" stop-color="#39203a"/><stop offset="1" stop-color="#341c2f"/></linearGradient><linearGradient id="g2_61"><stop offset="0" stop-color="#4e3877"/><stop offset="0.075" stop-color="#524085"/><stop offset="0.134" stop-color="#503a7d"/><stop offset="0.149" stop-color="#4c3672"/><stop offset="0.169" stop-color="#381f37"/><stop offset="0.184" stop-color="#351c2f"/><stop offset="0.333" stop-color="#351d2f"/><stop offset="0.463" stop-color="#3c2443"/><stop offset="0.507" stop-color="#351d31"/><stop offset="0.557" stop-color="#341c2f"/><stop offset="0.577" stop-color="#39203a"/><stop offset="0.592" stop-color="#513b7f"/><stop offset="0.617" stop-color="#584f99"/><stop offset="0.637" stop-color="#5a57a1"/><stop offset="0.657" stop-color="#584f99"/><stop offset="0.682" stop-color="#513b7f"/><stop offset="0.697" stop-color="#39203a"/><stop offset="0.706" stop-color="#351d31"/><stop offset="0.836" stop-color="#351c2f"/><stop offset="0.851" stop-color="#392039"/><stop offset="0.856" stop-color="#412951"/><stop offset="0.861" stop-color="#503a7d"/><stop offset="0.871" stop-color="#59519a"/><stop offset="0.896" stop-color="#5e6cb3"/><stop offset="0.92" stop-color="#5f6fb5"/><stop offset="0.93" stop-color="#5e6bb2"/><stop offset="0.95" stop-color="#584e98"/><stop offset="0.96" stop-color="#4d3673"/><stop offset="0.965" stop-color="#3f274c"/><stop offset="0.97" stop-color="#382038"/><stop offset="1" stop-color="#341c2f"/></linearGradient><linearGradient id="g2_62"><stop offset="0" stop-color="#584e98"/><stop offset="0.08" stop-color="#5a57a1"/><stop offset="0.144" stop-color="#584e98"/><stop offset="0.159" stop-color="#523e82"/><stop offset="0.169" stop-color="#3d2444"/><stop offset="0.174" stop-color="#381f36"/><stop offset="0.184" stop-color="#351d30"/><stop offset="0.552" stop-color="#341c2f"/><stop offset="0.572" stop-color="#371f36"/><stop offset="0.577" stop-color="#3c2341"/><stop offset="0.587" stop-color="#513c80"/><stop offset="0.597" stop-color="#574b93"/><stop offset="0.637" stop-color="#5c64ac"/><stop offset="0.672" stop-color="#584f99"/><stop offset="0.682" stop-color="#54448b"/><stop offset="0.687" stop-color="#513c80"/><stop offset="0.697" stop-color="#3c2341"/><stop offset="0.706" stop-color="#361d32"/><stop offset="0.831" stop-color="#341c2f"/><stop offset="0.851" stop-color="#382038"/><stop offset="0.856" stop-color="#40284e"/><stop offset="0.861" stop-color="#4e3877"/><stop offset="0.871" stop-color="#584f99"/><stop offset="0.896" stop-color="#5e69b0"/><stop offset="0.92" stop-color="#5e6cb2"/><stop offset="0.93" stop-color="#5d68af"/><stop offset="0.95" stop-color="#574b94"/><stop offset="0.955" stop-color="#534187"/><stop offset="0.96" stop-color="#4b346e"/><stop offset="0.965" stop-color="#3e2649"/><stop offset="0.97" stop-color="#381f37"/><stop offset="1" stop-color="#341c2f"/></linearGradient><linearGradient id="g2_63"><stop offset="0" stop-color="#58509a"/><stop offset="0.08" stop-color="#5a5aa3"/><stop offset="0.149" stop-color="#584e98"/><stop offset="0.159" stop-color="#524084"/><stop offset="0.169" stop-color="#3e2547"/><stop offset="0.174" stop-color="#381f37"/><stop offset="0.214" stop-color="#341c2f"/><stop offset="0.567" stop-color="#351d31"/><stop offset="0.577" stop-color="#39203a"/><stop offset="0.592" stop-color="#513b7f"/><stop offset="0.617" stop-color="#584f99"/><stop offset="0.637" stop-color="#5a57a1"/><stop offset="0.657" stop-color="#584f99"/><stop offset="0.682" stop-color="#513b7f"/><stop offset="0.697" stop-color="#39203a"/><stop offset="0.706" stop-color="#351d31"/><stop offset="0.841" stop-color="#351d30"/><stop offset="0.856" stop-color="#392039"/><stop offset="0.871" stop-color="#4f397a"/><stop offset="0.876" stop-color="#523e82"/><stop offset="0.896" stop-color="#584f99"/><stop offset="0.925" stop-color="#58509a"/><stop offset="0.945" stop-color="#513c80"/><stop offset="0.965" stop-color="#382038"/><stop offset="1" stop-color="#341c2f"/></linearGradient><linearGradient id="g2_64"><stop offset="0" stop-color="#513d81"/><stop offset="0.08" stop-color="#55468d"/><stop offset="0.144" stop-color="#513d81"/><stop offset="0.154" stop-color="#4e3776"/><stop offset="0.169" stop-color="#392039"/><stop offset="0.184" stop-color="#351d30"/><stop offset="0.567" stop-color="#351d30"/><stop offset="0.587" stop-color="#39213b"/><stop offset="0.637" stop-color="#4f397b"/><stop offset="0.687" stop-color="#39213b"/><stop offset="0.706" stop-color="#351d30"/><stop offset="0.851" stop-color="#361d32"/><stop offset="0.896" stop-color="#40284e"/><stop offset="0.915" stop-color="#412951"/><stop offset="0.96" stop-color="#361e33"/><stop offset="1" stop-color="#341c2f"/></linearGradient><linearGradient id="g2_65"><stop offset="0" stop-color="#3a213c"/><stop offset="0.08" stop-color="#3e2548"/><stop offset="0.184" stop-color="#341c2f"/><stop offset="0.229" stop-color="#351d30"/><stop offset="0.284" stop-color="#3c2443"/><stop offset="0.348" stop-color="#341c2f"/><stop offset="0.637" stop-color="#381f37"/><stop offset="0.756" stop-color="#341c2f"/><stop offset="0.836" stop-color="#3e2649"/><stop offset="0.881" stop-color="#361e32"/><stop offset="1" stop-color="#341c2f"/></linearGradient><linearGradient id="g2_66"><stop offset="0" stop-color="#351d31"/><stop offset="0.224" stop-color="#351d31"/><stop offset="0.239" stop-color="#3d2444"/><stop offset="0.254" stop-color="#503a7e"/><stop offset="0.284" stop-color="#55468e"/><stop offset="0.313" stop-color="#503a7e"/><stop offset="0.333" stop-color="#382038"/><stop offset="0.348" stop-color="#351d2f"/><stop offset="0.761" stop-color="#351d2f"/><stop offset="0.776" stop-color="#382038"/><stop offset="0.796" stop-color="#503b7f"/><stop offset="0.816" stop-color="#564a92"/><stop offset="0.831" stop-color="#574c95"/><stop offset="0.846" stop-color="#564a92"/><stop offset="0.861" stop-color="#513c80"/><stop offset="0.876" stop-color="#3d2444"/><stop offset="0.886" stop-color="#361e33"/><stop offset="1" stop-color="#341c2f"/></linearGradient><linearGradient id="g2_67"><stop offset="0" stop-color="#341c2f"/><stop offset="0.219" stop-color="#351d30"/><stop offset="0.229" stop-color="#381f37"/><stop offset="0.234" stop-color="#3e2649"/><stop offset="0.239" stop-color="#4b346e"/><stop offset="0.244" stop-color="#534186"/><stop offset="0.249" stop-color="#574a93"/><stop offset="0.284" stop-color="#5c60a8"/><stop offset="0.318" stop-color="#574a93"/><stop offset="0.323" stop-color="#534186"/><stop offset="0.328" stop-color="#4b346e"/><stop offset="0.333" stop-color="#3e2649"/><stop offset="0.338" stop-color="#381f37"/><stop offset="0.348" stop-color="#351d30"/><stop offset="0.756" stop-color="#351c2f"/><stop offset="0.771" stop-color="#381f37"/><stop offset="0.776" stop-color="#3e2649"/><stop offset="0.781" stop-color="#4b346e"/><stop offset="0.786" stop-color="#534186"/><stop offset="0.791" stop-color="#574b94"/><stop offset="0.811" stop-color="#5c60a8"/><stop offset="0.831" stop-color="#5d65ad"/><stop offset="0.851" stop-color="#5c5fa8"/><stop offset="0.866" stop-color="#574b94"/><stop offset="0.876" stop-color="#4b346e"/><stop offset="0.881" stop-color="#3e2649"/><stop offset="0.891" stop-color="#361e32"/><stop offset="1" stop-color="#341c2f"/></linearGradient><linearGradient id="g2_68"><stop offset="0" stop-color="#341c2f"/><stop offset="0.219" stop-color="#351d30"/><stop offset="0.229" stop-color="#382038"/><stop offset="0.234" stop-color="#3f274c"/><stop offset="0.239" stop-color="#4d3673"/><stop offset="0.249" stop-color="#584d97"/><stop offset="0.284" stop-color="#5c62aa"/><stop offset="0.318" stop-color="#584d97"/><stop offset="0.328" stop-color="#4d3673"/><stop offset="0.333" stop-color="#3f274c"/><stop offset="0.338" stop-color="#382038"/><stop offset="0.348" stop-color="#351d30"/><stop offset="0.756" stop-color="#351c2f"/><stop offset="0.771" stop-color="#382038"/><stop offset="0.776" stop-color="#3f274c"/><stop offset="0.781" stop-color="#4d3673"/><stop offset="0.791" stop-color="#584d97"/><stop offset="0.816" stop-color="#5d66ad"/><stop offset="0.831" stop-color="#5d68af"/><stop offset="0.846" stop-color="#5d66ad"/><stop offset="0.866" stop-color="#584e98"/><stop offset="0.876" stop-color="#4d3673"/><stop offset="0.881" stop-color="#3f274c"/><stop offset="0.886" stop-color="#382038"/><stop offset="0.891" stop-color="#361e32"/><stop offset="1" stop-color="#341c2f"/></linearGradient><linearGradient id="g2_69"><stop offset="0" stop-color="#341c2f"/><stop offset="0.224" stop-color="#351d31"/><stop offset="0.234" stop-color="#39203a"/><stop offset="0.249" stop-color="#503b7e"/><stop offset="0.284" stop-color="#584e98"/><stop offset="0.318" stop-color="#503b7e"/><stop offset="0.333" stop-color="#39203a"/><stop offset="0.348" stop-color="#351d30"/><stop offset="0.761" stop-color="#351d30"/><stop offset="0.776" stop-color="#39203a"/><stop offset="0.791" stop-color="#503b7f"/><stop offset="0.811" stop-color="#584e98"/><stop offset="0.831" stop-color="#59529c"/><stop offset="0.851" stop-color="#584e98"/><stop offset="0.866" stop-color="#513b7f"/><stop offset="0.881" stop-color="#39203a"/><stop offset="0.886" stop-color="#371e34"/><stop offset="1" stop-color="#341c2f"/></linearGradient><linearGradient id="g2_70"><stop offset="0" stop-color="#341c2f"/><stop offset="0.224" stop-color="#351d2f"/><stop offset="0.284" stop-color="#422a52"/><stop offset="0.343" stop-color="#351d2f"/><stop offset="0.761" stop-color="#341c2f"/><stop offset="0.781" stop-color="#371e35"/><stop offset="0.816" stop-color="#432c57"/><stop offset="0.831" stop-color="#442d5b"/><stop offset="0.846" stop-color="#432c58"/><stop offset="0.866" stop-color="#3a213b"/><stop offset="0.886" stop-color="#351d30"/><stop offset="1" stop-color="#341c2f"/></linearGradient><linearGradient id="cbar" x1="0" y1="0" x2="0" y2="1"><stop offset="0.000" stop-color="#6e2823"/><stop offset="0.033" stop-color="#8f3027"/><stop offset="0.067" stop-color="#b0382b"/><stop offset="0.100" stop-color="#c8442e"/><stop offset="0.133" stop-color="#d65431"/><stop offset="0.167" stop-color="#e26435"/><stop offset="0.200" stop-color="#e9733a"/><stop offset="0.233" stop-color="#ea8240"/><stop offset="0.267" stop-color="#ec9146"/><stop offset="0.300" stop-color="#e99f48"/><stop offset="0.333" stop-color="#e6ad4a"/><stop offset="0.367" stop-color="#dfb94c"/><stop offset="0.400" stop-color="#d6c44e"/><stop offset="0.433" stop-color="#cbcd50"/><stop offset="0.467" stop-color="#bbca50"/><stop offset="0.500" stop-color="#aac850"/><stop offset="0.533" stop-color="#99c456"/><stop offset="0.567" stop-color="#88c05c"/><stop offset="0.600" stop-color="#78bd6e"/><stop offset="0.633" stop-color="#67ba8b"/><stop offset="0.667" stop-color="#5bb7a5"/><stop offset="0.700" stop-color="#52b4bd"/><stop offset="0.733" stop-color="#4dadcf"/><stop offset="0.767" stop-color="#549ed2"/><stop offset="0.800" stop-color="#5b8bc8"/><stop offset="0.833" stop-color="#5e79bc"/><stop offset="0.867" stop-color="#5e6ab1"/><stop offset="0.900" stop-color="#5b5da6"/><stop offset="0.933" stop-color="#584e98"/><stop offset="0.967" stop-color="#4d3674"/><stop offset="1.000" stop-color="#341c2e"/></linearGradient><clipPath id="sc"><rect x="91" y="311.8" width="1243" height="194.7"/></clipPath><filter id="bl" x="-5%" y="-20%" width="110%" height="140%"><feGaussianBlur stdDeviation="9 1.3"/></filter></defs>
<rect width="1531" height="2480" fill="#fff"/>
<rect x="6" y="37.5" width="1518" height="2436.5" fill="#fdfcfa"/>
<text x="5.4" y="38.4" font-size="34" font-weight="bold" fill="#000" style="stroke:none">A</text>
<text x="5.9" y="872.9" font-size="34" font-weight="bold" fill="#000" style="stroke:none">B</text>
<text x="5.9" y="1701.9" font-size="34" font-weight="bold" fill="#000" style="stroke:none">C</text>
<circle cx="58.2" cy="38.4" r="1.5" fill="#e8261e"/>
<g transform="translate(0 0)"><text x="82.2" y="76.7" font-size="38.7" fill="#231815" style="stroke:none">Hom</text><text x="555.2" y="74.9" font-size="32.3" fill="#231815" style="stroke:none">Fr: E=30.86 I=69.69</text><rect x="91" y="90.6" width="1243" height="205.4" fill="#fff"/><g stroke-width="3.1" stroke-linecap="round" fill="none"><path d="M110 293.98H1400" stroke="#e8261e" stroke-dasharray="0 0.5 0 7.5 0 58 0 106.5 0 17 0 184 0 7 0 64.5 0 0.5 0 6.5 0 2 0 45 0 112.5 0 107.5 0 3 0 40.5 0 15 0 21 0 26.5 0 55.5 0 31 0 23.5 0 43 0 5.5 0 61 0 83.5 0 3000"/><path d="M129.5 291.96H1400" stroke="#e8261e" stroke-dasharray="0 45.5 0 65.5 0 36.5 0 25 0 1.5 0 31.5 0 24.5 0 53 0 80 0 0.5 0 32 0 31 0 8 0 22 0 54.5 0 12 0 10 0 14.5 0 10.5 0 2.5 0 43.5 0 51 0 1 0 106.5 0 92 0 29.5 0 30 0 90 0 36 0 16 0 25 0 8 0 43.5 0 5.5 0 33.5 0 10 0 3000"/><path d="M140.5 289.94H1400" stroke="#e8261e" stroke-dasharray="0 3.5 0 28 0 38.5 0 76 0 113.5 0 51.5 0 41 0 9 0 9.5 0 45.5 0 9.5 0 20.5 0 40.5 0 25 0 14 0 30.5 0 37.5 0 39.5 0 94.5 0 108.5 0 5.5 0 14.5 0 17.5 0 22 0 7.5 0 49 0 9 0 9.5 0 13.5 0 3 0 4 0 80 0 9 0 26.5 0 4 0 53 0 24 0 3000"/><path d="M130 287.92H1400" stroke="#e8261e" stroke-dasharray="0 9.5 0 7.5 0 13 0 23 0 65 0 2.5 0 35 0 16.5 0 8 0 11 0 36.5 0 134.5 0 10 0 9 0 11 0 55 0 1 0 76 0 76.5 0 42.5 0 14 0 123 0 10 0 0.5 0 5 0 11 0 55.5 0 42.5 0 17 0 1.5 0 47 0 26.5 0 1 0 3.5 0 4.5 0 6 0 32 0 16.5 0 5 0 53.5 0 6.5 0 42.5 0 9 0 3000"/><path d="M102.5 285.9H1400" stroke="#e8261e" stroke-dasharray="0 35 0 11 0 36.5 0 65.5 0 151.5 0 39.5 0 14.5 0 11.5 0 92 0 6 0 75.5 0 23 0 14.5 0 60.5 0 10.5 0 11.5 0 38 0 86.5 0 18.5 0 7 0 16.5 0 22.5 0 41 0 1.5 0 92.5 0 32.5 0 12 0 11.5 0 31.5 0 15 0 27 0 2 0 84.5 0 23.5 0 5 0 3000"/><path d="M118.5 283.88H1400" stroke="#e8261e" stroke-dasharray="0 1 0 5.5 0 1.5 0 19 0 25 0 42 0 26.5 0 58.5 0 115.5 0 21 0 54 0 2 0 15 0 25 0 64 0 24 0 133.5 0 18.5 0 98 0 38 0 9.5 0 83 0 16.5 0 39 0 16.5 0 20 0 4 0 23.5 0 53 0 0.5 0 5 0 2.5 0 0.5 0 6.5 0 22.5 0 25.5 0 3000"/><path d="M97.5 281.86H1400" stroke="#e8261e" stroke-dasharray="0 14 0 8 0 12 0 4 0 44.5 0 24 0 23 0 47.5 0 0.5 0 20.5 0 43.5 0 0 0 19 0 16 0 50 0 8 0 60.5 0 134 0 17 0 21 0 6.5 0 0 0 46.5 0 90 0 9 0 17 0 28 0 30 0 93.5 0 2.5 0 11.5 0 36 0 5.5 0 44.5 0 101.5 0 9 0 15 0 53 0 40 0 20.5 0 3000"/><path d="M113.5 279.84H1400" stroke="#e8261e" stroke-dasharray="0 53 0 34 0 94.5 0 107 0 1.5 0 73 0 43.5 0 53.5 0 54 0 10 0 53.5 0 172 0 8.5 0 18 0 78.5 0 23.5 0 5.5 0 39 0 3 0 49 0 42 0 9.5 0 27 0 34.5 0 25 0 2.5 0 9.5 0 74.5 0 3000"/><path d="M95 277.82H1400" stroke="#e8261e" stroke-dasharray="0 23 0 68 0 55.5 0 1.5 0 0.5 0 81.5 0 73.5 0 17 0 3 0 55.5 0 79 0 48 0 90.5 0 45.5 0 60 0 46 0 202.5 0 24.5 0 40 0 58.5 0 30.5 0 12 0 10.5 0 55.5 0 3000"/><path d="M140 275.8H1400" stroke="#e8261e" stroke-dasharray="0 23 0 6 0 48 0 27 0 6 0 23.5 0 27 0 75.5 0 41.5 0 22 0 32.5 0 83.5 0 17.5 0 30.5 0 54.5 0 91.5 0 15.5 0 19 0 13.5 0 19.5 0 27 0 75.5 0 67.5 0 4 0 49 0 52.5 0 7.5 0 28 0 18 0 79.5 0 32 0 9.5 0 14.5 0 3000"/><path d="M136.5 273.78H1400" stroke="#e8261e" stroke-dasharray="0 58 0 24.5 0 31 0 27.5 0 73 0 7 0 14.5 0 3 0 104.5 0 0.5 0 25.5 0 8 0 40 0 89 0 12 0 81 0 17.5 0 59.5 0 31.5 0 103 0 60.5 0 94.5 0 10.5 0 35 0 24.5 0 8 0 7 0 71 0 2 0 3000"/><path d="M246 271.76H1400" stroke="#e8261e" stroke-dasharray="0 15.5 0 16.5 0 67.5 0 27 0 34.5 0 74 0 7 0 13 0 2.5 0 139 0 181 0 91.5 0 93.5 0 20.5 0 75.5 0 67 0 12.5 0 5 0 18.5 0 11.5 0 1.5 0 46 0 34.5 0 16.5 0 2.5 0 3000"/><path d="M115 269.74H1400" stroke="#e8261e" stroke-dasharray="0 15.5 0 50.5 0 11 0 87 0 22 0 32.5 0 10.5 0 1 0 48.5 0 13.5 0 21 0 53 0 8.5 0 6 0 34 0 120 0 68 0 19 0 193.5 0 95 0 146.5 0 0 0 9.5 0 30.5 0 35.5 0 12 0 43 0 3000"/><path d="M124.5 267.72H1400" stroke="#e8261e" stroke-dasharray="0 8.5 0 70 0 5.5 0 69 0 77.5 0 25 0 20.5 0 0 0 50 0 25 0 28 0 50 0 58 0 159.5 0 12.5 0 11 0 14 0 97.5 0 76.5 0 35 0 54 0 99.5 0 61.5 0 18.5 0 53 0 13.5 0 3000"/><path d="M160 265.7H1400" stroke="#e8261e" stroke-dasharray="0 42.5 0 6.5 0 37 0 152 0 107.5 0 57.5 0 28 0 117.5 0 11 0 13.5 0 77.5 0 96 0 41.5 0 32 0 14.5 0 51.5 0 4.5 0 12 0 3.5 0 25.5 0 11 0 20 0 9.5 0 118.5 0 3000"/><path d="M100 263.68H1400" stroke="#e8261e" stroke-dasharray="0 26 0 116.5 0 59.5 0 32 0 7.5 0 54 0 56.5 0 25 0 81 0 43.5 0 28.5 0 35 0 1.5 0 41.5 0 30 0 51 0 12.5 0 72.5 0 25.5 0 2 0 4.5 0 20.5 0 33.5 0 35.5 0 96 0 2 0 118 0 59 0 3000"/><path d="M108.5 261.66H1400" stroke="#e8261e" stroke-dasharray="0 1.5 0 313 0 10.5 0 30 0 12 0 23.5 0 238.5 0 13.5 0 21.5 0 8 0 10 0 3 0 58 0 0.5 0 7.5 0 3.5 0 9 0 72 0 38 0 25 0 82 0 79.5 0 4 0 101.5 0 4.5 0 3000"/><path d="M144.5 259.64H1400" stroke="#e8261e" stroke-dasharray="0 17.5 0 47 0 40 0 21.5 0 6 0 0.5 0 32 0 35 0 36.5 0 40.5 0 2 0 10.5 0 39 0 3.5 0 15 0 2 0 18 0 22.5 0 42 0 62.5 0 10 0 64.5 0 23 0 45 0 7.5 0 1.5 0 12 0 62 0 45.5 0 90 0 25 0 199 0 16.5 0 24.5 0 37.5 0 3000"/><path d="M97 257.62H1400" stroke="#e8261e" stroke-dasharray="0 29.5 0 3 0 13.5 0 17.5 0 48 0 64 0 28.5 0 7.5 0 112.5 0 19 0 40 0 94 0 24 0 92 0 26.5 0 57.5 0 51.5 0 54 0 4 0 8 0 51.5 0 15.5 0 19.5 0 5 0 7.5 0 5 0 27 0 5.5 0 15 0 6.5 0 40.5 0 89.5 0 8 0 32 0 42.5 0 26.5 0 14 0 16.5 0 3000"/><path d="M154.5 255.6H1400" stroke="#e8261e" stroke-dasharray="0 47 0 31 0 37 0 6 0 23 0 5 0 20.5 0 17.5 0 17.5 0 36.5 0 34 0 3 0 72.5 0 111.5 0 41 0 17.5 0 15 0 3 0 1.5 0 9.5 0 32 0 14.5 0 49 0 21.5 0 34.5 0 20 0 11 0 57 0 38 0 1.5 0 14 0 19.5 0 33.5 0 4.5 0 29.5 0 60 0 167 0 3000"/><path d="M93 253.58H1400" stroke="#e8261e" stroke-dasharray="0 52 0 21 0 17 0 2.5 0 84 0 5.5 0 27 0 21.5 0 234 0 5 0 1.5 0 93 0 123.5 0 14.5 0 65 0 14.5 0 9.5 0 60.5 0 37 0 5.5 0 21 0 15.5 0 13 0 176 0 8 0 1 0 9 0 75.5 0 7.5 0 3000"/><path d="M110.5 251.56H1400" stroke="#e8261e" stroke-dasharray="0 37 0 39.5 0 114.5 0 20 0 5.5 0 3.5 0 197.5 0 30 0 2 0 8 0 11 0 34 0 27 0 13 0 24 0 19.5 0 53.5 0 30.5 0 2 0 12 0 3 0 5 0 133.5 0 65.5 0 20 0 13.5 0 15 0 42.5 0 15 0 115.5 0 0.5 0 108 0 3000"/><path d="M204.5 249.54H1400" stroke="#e8261e" stroke-dasharray="0 19.5 0 46 0 33 0 26.5 0 1.5 0 41.5 0 23 0 67.5 0 24 0 49.5 0 19.5 0 38.5 0 81 0 59.5 0 37.5 0 8 0 48 0 66.5 0 10 0 9.5 0 21 0 47 0 109 0 19.5 0 18.5 0 8.5 0 67 0 3.5 0 4.5 0 3.5 0 3 0 34 0 43 0 3000"/><path d="M136 247.52H1400" stroke="#e8261e" stroke-dasharray="0 11 0 13 0 93 0 56.5 0 0.5 0 7 0 119 0 4 0 46 0 2.5 0 23.5 0 99.5 0 49.5 0 127.5 0 43 0 60 0 13.5 0 10 0 11.5 0 16 0 57 0 7 0 3 0 18.5 0 63 0 18.5 0 24.5 0 45.5 0 36.5 0 6.5 0 2.5 0 0.5 0 3.5 0 11 0 37.5 0 10 0 43 0 3000"/><path d="M101 245.5H1400" stroke="#e8261e" stroke-dasharray="0 4.5 0 69 0 9 0 38 0 88 0 112.5 0 22 0 47.5 0 66 0 24.5 0 29.5 0 24 0 14.5 0 16 0 87 0 31.5 0 5 0 22 0 1.5 0 110.5 0 7 0 54 0 15 0 1 0 18 0 76 0 90 0 29 0 11 0 16.5 0 67.5 0 6 0 18 0 3000"/><path d="M111.5 243.48H1400" stroke="#e8261e" stroke-dasharray="0 110 0 11 0 36.5 0 12 0 85.5 0 28.5 0 7.5 0 42.5 0 25.5 0 9.5 0 12.5 0 7.5 0 31.5 0 103 0 155 0 35 0 2 0 29.5 0 14.5 0 2.5 0 3.5 0 34.5 0 19 0 1.5 0 53 0 17.5 0 35.5 0 19.5 0 38 0 31.5 0 16.5 0 21 0 96 0 42 0 12 0 3000"/><path d="M129.5 241.46H1400" stroke="#e8261e" stroke-dasharray="0 58.5 0 15.5 0 10.5 0 61.5 0 1 0 149 0 22 0 5.5 0 20.5 0 85 0 17 0 25 0 48 0 135 0 94 0 102.5 0 45.5 0 11 0 6 0 20 0 5.5 0 48 0 106.5 0 56.5 0 3000"/><path d="M108 239.44H1400" stroke="#e8261e" stroke-dasharray="0 15.5 0 19 0 82 0 1.5 0 5 0 16 0 29 0 0.5 0 11 0 85 0 27.5 0 0 0 18.5 0 24.5 0 8.5 0 24 0 5.5 0 24.5 0 24 0 0.5 0 63.5 0 0.5 0 56.5 0 6.5 0 87 0 4.5 0 8.5 0 19 0 31.5 0 113 0 15.5 0 9 0 5 0 147.5 0 12 0 4.5 0 8 0 7.5 0 6.5 0 14 0 87 0 8.5 0 68 0 3000"/><path d="M99 237.42H1400" stroke="#e8261e" stroke-dasharray="0 3.5 0 51 0 19.5 0 7.5 0 40.5 0 116 0 22.5 0 39.5 0 60 0 97.5 0 45.5 0 34.5 0 14.5 0 10.5 0 8.5 0 105 0 15 0 65.5 0 0 0 28.5 0 14 0 22 0 46.5 0 13 0 17 0 160 0 28.5 0 20.5 0 97 0 3000"/><path d="M114.5 235.4H1400" stroke="#e8261e" stroke-dasharray="0 5 0 214.5 0 4.5 0 9 0 35.5 0 4 0 36.5 0 63 0 3.5 0 2 0 77.5 0 5.5 0 26 0 96 0 41 0 4.5 0 11.5 0 34.5 0 254.5 0 20.5 0 48 0 7 0 135 0 46 0 3000"/><path d="M178 233.38H1400" stroke="#e8261e" stroke-dasharray="0 8.5 0 91 0 80 0 10.5 0 31.5 0 21.5 0 80.5 0 7.5 0 45.5 0 28 0 68 0 33.5 0 12 0 46.5 0 32 0 25.5 0 15 0 35.5 0 10 0 98 0 39.5 0 4 0 43 0 4.5 0 44 0 90 0 4 0 35 0 1 0 3000"/><path d="M116.5 231.36H1400" stroke="#e8261e" stroke-dasharray="0 72.5 0 75 0 72 0 31.5 0 69.5 0 117.5 0 12 0 28 0 130.5 0 48.5 0 38 0 4.5 0 141 0 21.5 0 75 0 45.5 0 34 0 36.5 0 46.5 0 1 0 70.5 0 44 0 3000"/><path d="M94 229.34H1400" stroke="#e8261e" stroke-dasharray="0 25 0 0.5 0 5.5 0 67.5 0 1.5 0 90 0 15.5 0 41 0 25 0 6 0 119 0 0.5 0 62 0 24.5 0 6.5 0 52.5 0 76 0 33.5 0 13.5 0 43 0 9.5 0 33 0 17.5 0 60 0 25 0 35 0 47 0 2.5 0 164 0 0 0 3000"/><path d="M133.5 227.32H1400" stroke="#e8261e" stroke-dasharray="0 60.5 0 29.5 0 10.5 0 5.5 0 15 0 86 0 37.5 0 32.5 0 24 0 42 0 16 0 65.5 0 38 0 5 0 14.5 0 21.5 0 4 0 33.5 0 6 0 127 0 38 0 16 0 40 0 91 0 13 0 2.5 0 10 0 39.5 0 9.5 0 19 0 81 0 64 0 0.5 0 20.5 0 63.5 0 2.5 0 3000"/><path d="M110 225.3H1400" stroke="#e8261e" stroke-dasharray="0 24 0 52.5 0 4.5 0 4 0 82 0 1 0 11.5 0 11 0 39 0 56.5 0 18.5 0 60.5 0 16 0 63.5 0 2.5 0 83 0 8.5 0 141 0 13 0 12.5 0 7 0 78 0 21.5 0 70.5 0 1 0 3.5 0 9 0 16 0 13 0 44 0 1.5 0 29 0 71 0 3.5 0 1.5 0 53 0 3000"/><path d="M126.5 223.28H1400" stroke="#e8261e" stroke-dasharray="0 65 0 0 0 9 0 14.5 0 21 0 37 0 25.5 0 168 0 17 0 5.5 0 6 0 15.5 0 14.5 0 89 0 22.5 0 58.5 0 55.5 0 11.5 0 3 0 36.5 0 16 0 46.5 0 10 0 36 0 103 0 52 0 55 0 28 0 31.5 0 11 0 73.5 0 3000"/><path d="M124 221.26H1400" stroke="#e8261e" stroke-dasharray="0 23 0 3.5 0 29 0 14 0 23.5 0 62 0 12.5 0 5 0 3.5 0 77.5 0 89.5 0 25 0 90 0 142.5 0 10.5 0 59.5 0 24.5 0 20.5 0 21.5 0 47 0 82 0 30 0 12 0 10 0 15 0 9 0 37 0 21 0 46 0 105 0 14.5 0 3000"/><path d="M222 219.24H1400" stroke="#e8261e" stroke-dasharray="0 146.5 0 26 0 23 0 28 0 20.5 0 14 0 11 0 1.5 0 77.5 0 141.5 0 150 0 51 0 12 0 57 0 9.5 0 32.5 0 38 0 109 0 20.5 0 19 0 78.5 0 19 0 3000"/><path d="M141.5 217.22H1400" stroke="#e8261e" stroke-dasharray="0 200 0 47.5 0 163.5 0 18.5 0 13.5 0 19.5 0 9.5 0 25.5 0 29.5 0 68.5 0 98.5 0 41 0 9 0 104 0 0 0 34 0 37 0 29 0 28.5 0 55 0 39 0 51.5 0 4.5 0 36 0 3000"/><path d="M135.5 215.2H1400" stroke="#e8261e" stroke-dasharray="0 15 0 17 0 136.5 0 48 0 16 0 24 0 14.5 0 24 0 2.5 0 15.5 0 38 0 88.5 0 79 0 1 0 37 0 53 0 75 0 62 0 42.5 0 5 0 65 0 48 0 4.5 0 77 0 16 0 71 0 18.5 0 35.5 0 0.5 0 3000"/><path d="M275 213.18H1400" stroke="#e8261e" stroke-dasharray="0 115.5 0 13.5 0 85.5 0 4 0 15 0 19 0 26.5 0 31.5 0 58.5 0 0.5 0 9.5 0 250.5 0 126.5 0 58.5 0 13.5 0 3000"/><path d="M132.5 211.16H1400" stroke="#e8261e" stroke-dasharray="0 7.5 0 271.5 0 64 0 11 0 12.5 0 9 0 1.5 0 9.5 0 13 0 21.5 0 86 0 0.5 0 28 0 12 0 34.5 0 16.5 0 50 0 109.5 0 7 0 25.5 0 123.5 0 18.5 0 32.5 0 123 0 107.5 0 3000"/><path d="M179 209.14H1400" stroke="#e8261e" stroke-dasharray="0 8.5 0 70 0 141.5 0 21 0 33.5 0 49 0 9 0 6.5 0 227 0 69.5 0 69 0 18.5 0 194 0 53 0 150.5 0 8 0 3000"/><path d="M100.5 207.12H1400" stroke="#e8261e" stroke-dasharray="0 2.5 0 6 0 66 0 36 0 89.5 0 61 0 3.5 0 43.5 0 11.5 0 28.5 0 28.5 0 17.5 0 8.5 0 44.5 0 157.5 0 33.5 0 51 0 45 0 135.5 0 45 0 21.5 0 100.5 0 12 0 24 0 1 0 48 0 21.5 0 10.5 0 3000"/><path d="M228.5 205.1H1400" stroke="#e8261e" stroke-dasharray="0 23 0 84.5 0 1 0 3.5 0 19.5 0 49.5 0 11.5 0 12.5 0 4 0 132.5 0 3.5 0 53 0 50 0 20 0 23 0 13 0 4.5 0 26 0 169.5 0 19.5 0 84.5 0 1.5 0 2 0 11.5 0 41 0 79.5 0 35.5 0 38 0 23.5 0 48.5 0 3000"/><path d="M121 203.08H1400" stroke="#e8261e" stroke-dasharray="0 9.5 0 18.5 0 50.5 0 97 0 51 0 145 0 1 0 77 0 91 0 34.5 0 14 0 27.5 0 15 0 34.5 0 6.5 0 26.5 0 9 0 2.5 0 41.5 0 108 0 16 0 40.5 0 40 0 70 0 24.5 0 31.5 0 33.5 0 45.5 0 34 0 3000"/><path d="M155.5 201.06H1400" stroke="#e8261e" stroke-dasharray="0 21.5 0 34.5 0 34 0 52.5 0 1 0 22.5 0 13 0 33.5 0 80 0 1.5 0 0 0 79.5 0 0.5 0 25 0 30 0 130 0 7 0 13 0 10.5 0 7.5 0 114.5 0 82 0 0.5 0 139.5 0 56.5 0 131 0 2 0 30 0 1.5 0 3000"/><path d="M130.5 199.04H1400" stroke="#e8261e" stroke-dasharray="0 94.5 0 79.5 0 16.5 0 12.5 0 9.5 0 38.5 0 17.5 0 0 0 158 0 17.5 0 32 0 28 0 86 0 18 0 4.5 0 0.5 0 4 0 73 0 84 0 83 0 29 0 1.5 0 3 0 68 0 19.5 0 6.5 0 66.5 0 30 0 31.5 0 67 0 18.5 0 3000"/><path d="M113 197.02H1400" stroke="#e8261e" stroke-dasharray="0 23.5 0 81.5 0 31 0 54 0 5.5 0 13 0 15 0 7 0 6 0 47 0 11 0 13 0 32.5 0 27 0 19 0 13 0 97 0 26.5 0 14 0 258.5 0 146 0 13 0 43 0 63.5 0 54 0 41 0 3000"/><path d="M155 195H1400" stroke="#e8261e" stroke-dasharray="0 44.5 0 1 0 22.5 0 28 0 22 0 3 0 27.5 0 11.5 0 107 0 4.5 0 85 0 103.5 0 9.5 0 11.5 0 13.5 0 88.5 0 15.5 0 75 0 68 0 57 0 39.5 0 17.5 0 0.5 0 102 0 3 0 30.5 0 22 0 54 0 7.5 0 11 0 10.5 0 3000"/><path d="M99 192.98H1400" stroke="#e8261e" stroke-dasharray="0 49.5 0 2.5 0 45 0 3 0 3 0 13.5 0 29.5 0 26 0 48.5 0 119 0 53.5 0 2 0 148 0 58 0 6 0 12 0 84 0 74 0 83.5 0 33.5 0 2 0 128.5 0 19 0 27.5 0 55 0 33.5 0 41 0 10.5 0 3000"/><path d="M109.5 190.96H1400" stroke="#e8261e" stroke-dasharray="0 36.5 0 80.5 0 15 0 1 0 9 0 6.5 0 42.5 0 10 0 1 0 12 0 10 0 75 0 20 0 24.5 0 23.5 0 14 0 36 0 85 0 71 0 4.5 0 112 0 20 0 56 0 2 0 9.5 0 13 0 27.5 0 65 0 0 0 3.5 0 8 0 54.5 0 10 0 30 0 8.5 0 4 0 10.5 0 2.5 0 99 0 14.5 0 42.5 0 19 0 3000"/><path d="M119 188.94H1400" stroke="#e8261e" stroke-dasharray="0 90 0 47.5 0 68 0 13.5 0 9.5 0 49.5 0 5 0 1.5 0 2.5 0 8.5 0 3 0 75.5 0 5.5 0 1.5 0 58.5 0 14.5 0 68 0 48.5 0 7 0 17 0 0 0 22.5 0 83 0 54.5 0 75.5 0 35 0 41.5 0 33 0 130 0 33 0 31.5 0 4 0 3000"/><path d="M136.5 186.92H1400" stroke="#e8261e" stroke-dasharray="0 87.5 0 18 0 15.5 0 63.5 0 4 0 5.5 0 0.5 0 63 0 13 0 125 0 18.5 0 5.5 0 56 0 2 0 21 0 73 0 39.5 0 75 0 3.5 0 56.5 0 30 0 14.5 0 2.5 0 19.5 0 79.5 0 204 0 22.5 0 46.5 0 3.5 0 9.5 0 3000"/><path d="M122.5 184.9H1400" stroke="#e8261e" stroke-dasharray="0 132.5 0 5 0 51 0 15 0 9 0 84.5 0 20 0 5.5 0 170.5 0 54.5 0 5.5 0 15 0 1.5 0 44 0 65.5 0 22 0 59.5 0 7 0 40.5 0 26.5 0 27.5 0 118.5 0 89 0 37 0 27 0 46.5 0 12.5 0 3000"/><path d="M190 182.88H1400" stroke="#e8261e" stroke-dasharray="0 9 0 11 0 42 0 20.5 0 39.5 0 26 0 11 0 48.5 0 82 0 31.5 0 96 0 75 0 10 0 30 0 21 0 122 0 60 0 17 0 66 0 5.5 0 23 0 23 0 151.5 0 12 0 11 0 27 0 3000"/><path d="M126 180.86H1400" stroke="#e8261e" stroke-dasharray="0 55.5 0 2.5 0 23.5 0 21.5 0 10 0 40.5 0 18.5 0 32 0 7 0 81 0 110.5 0 24 0 67 0 18 0 59.5 0 11 0 35.5 0 6 0 12 0 37 0 40 0 28 0 44 0 24.5 0 11 0 48 0 103.5 0 7 0 66.5 0 44.5 0 5.5 0 13.5 0 1 0 68.5 0 22.5 0 3.5 0 3000"/><path d="M140 178.84H1400" stroke="#e8261e" stroke-dasharray="0 85.5 0 82 0 22 0 6 0 18.5 0 42.5 0 15.5 0 8.5 0 8.5 0 176.5 0 28 0 6.5 0 67.5 0 17 0 36 0 4.5 0 21 0 27.5 0 146 0 10 0 43.5 0 110 0 23 0 20 0 26 0 27 0 4 0 13.5 0 36.5 0 23 0 20.5 0 3000"/><path d="M96.5 176.82H1400" stroke="#e8261e" stroke-dasharray="0 17.5 0 60.5 0 17.5 0 52 0 65.5 0 116 0 10.5 0 2.5 0 80.5 0 54 0 134.5 0 41 0 137 0 1.5 0 18.5 0 18.5 0 105 0 64 0 23 0 60 0 126.5 0 3000"/><path d="M238 174.8H1400" stroke="#e8261e" stroke-dasharray="0 64.5 0 98 0 25.5 0 1.5 0 59 0 4.5 0 37.5 0 19.5 0 8.5 0 7.5 0 212.5 0 7 0 31 0 12 0 59 0 9.5 0 9.5 0 200 0 69.5 0 46 0 43 0 37 0 6 0 3000"/><path d="M97 172.78H1400" stroke="#e8261e" stroke-dasharray="0 3 0 92.5 0 82 0 65.5 0 11.5 0 0.5 0 15 0 32.5 0 27 0 47 0 17.5 0 27.5 0 9 0 23.5 0 15.5 0 43 0 97 0 126 0 30.5 0 28.5 0 3 0 100 0 122.5 0 112 0 15 0 19 0 28 0 3000"/><path d="M98 170.76H1400" stroke="#e8261e" stroke-dasharray="0 1 0 15 0 70 0 16 0 71 0 15.5 0 10 0 2 0 8.5 0 85.5 0 7.5 0 20.5 0 56.5 0 16.5 0 86.5 0 6.5 0 38.5 0 61 0 0.5 0 20.5 0 63 0 35.5 0 48 0 34 0 11.5 0 4.5 0 25 0 13.5 0 156.5 0 21 0 6.5 0 68 0 16.5 0 35 0 4.5 0 44.5 0 35.5 0 3000"/><path d="M108.5 168.74H1400" stroke="#e8261e" stroke-dasharray="0 4 0 0.5 0 52.5 0 10 0 3.5 0 29.5 0 38.5 0 150.5 0 3 0 16 0 3.5 0 91 0 162.5 0 25.5 0 34 0 17 0 21 0 32.5 0 3.5 0 7 0 90 0 10.5 0 30 0 143.5 0 13 0 94.5 0 17 0 10 0 18.5 0 4 0 5.5 0 12 0 7.5 0 15.5 0 12 0 1.5 0 3000"/><path d="M92 166.72H1400" stroke="#e8261e" stroke-dasharray="0 28.5 0 16 0 81 0 86 0 90.5 0 102 0 17 0 114.5 0 2 0 38 0 38.5 0 64.5 0 44 0 43 0 3.5 0 22 0 63.5 0 11.5 0 36 0 218.5 0 27.5 0 1 0 3000"/><path d="M117.5 164.7H1400" stroke="#e8261e" stroke-dasharray="0 60.5 0 41 0 29.5 0 52 0 1 0 34 0 4.5 0 6.5 0 18.5 0 8.5 0 20.5 0 18 0 32 0 4.5 0 38.5 0 12 0 24 0 31 0 42 0 130.5 0 66.5 0 39 0 20.5 0 9.5 0 21.5 0 7.5 0 226 0 25.5 0 45 0 43.5 0 3000"/><path d="M92 162.68H1400" stroke="#e8261e" stroke-dasharray="0 24.5 0 209.5 0 8.5 0 59.5 0 53.5 0 129 0 126 0 2.5 0 45.5 0 47 0 27.5 0 42.5 0 33 0 87 0 8 0 104 0 72.5 0 39.5 0 1.5 0 53 0 3000"/><path d="M116.5 160.66H1400" stroke="#e8261e" stroke-dasharray="0 65.5 0 26 0 67.5 0 42.5 0 34.5 0 15.5 0 30.5 0 88 0 0 0 42.5 0 27.5 0 100 0 7 0 47.5 0 39 0 46.5 0 38.5 0 108 0 9.5 0 78 0 3.5 0 14 0 37.5 0 3 0 0 0 11 0 74 0 38 0 11 0 16 0 9.5 0 16.5 0 7.5 0 56 0 3000"/><path d="M166.5 158.64H1400" stroke="#e8261e" stroke-dasharray="0 50.5 0 3.5 0 33 0 72.5 0 21.5 0 15.5 0 32 0 19 0 41.5 0 21 0 8.5 0 6 0 49.5 0 49.5 0 54.5 0 3.5 0 22 0 58 0 38.5 0 31 0 0.5 0 0 0 1 0 4 0 58 0 10 0 48.5 0 50.5 0 74.5 0 0.5 0 14.5 0 44.5 0 5 0 40 0 24 0 50 0 29.5 0 76 0 3000"/><path d="M143.5 156.62H1400" stroke="#e8261e" stroke-dasharray="0 37.5 0 42 0 3.5 0 46.5 0 17.5 0 12 0 23 0 17.5 0 29.5 0 21.5 0 17 0 45 0 18 0 56 0 26.5 0 147 0 41.5 0 22 0 0 0 96 0 17.5 0 33.5 0 0.5 0 33 0 52.5 0 72.5 0 48.5 0 22.5 0 34.5 0 134.5 0 2 0 3000"/><path d="M100.5 154.6H1400" stroke="#e8261e" stroke-dasharray="0 114 0 37 0 19.5 0 50.5 0 13.5 0 34 0 3.5 0 21.5 0 1.5 0 2.5 0 12 0 40 0 9.5 0 119 0 39.5 0 64 0 5 0 11 0 5.5 0 70 0 9.5 0 132 0 13 0 56 0 15 0 31 0 6 0 56.5 0 23 0 57.5 0 0.5 0 12 0 66 0 20 0 47 0 8 0 3000"/><path d="M155 152.58H1400" stroke="#e8261e" stroke-dasharray="0 60 0 33.5 0 8.5 0 19.5 0 4 0 3 0 52 0 69.5 0 26 0 62 0 15.5 0 19 0 2 0 55 0 12.5 0 11.5 0 89 0 6.5 0 37.5 0 66.5 0 152 0 23.5 0 9.5 0 49.5 0 60 0 17 0 3.5 0 11 0 6 0 74 0 21 0 6 0 61.5 0 3000"/><path d="M95.5 150.56H1400" stroke="#e8261e" stroke-dasharray="0 1 0 85.5 0 199 0 23.5 0 37 0 85 0 31 0 87.5 0 5.5 0 159 0 8 0 5 0 53 0 61 0 45.5 0 63.5 0 21 0 22.5 0 19 0 17.5 0 55.5 0 27 0 16 0 44 0 30.5 0 11 0 21 0 3000"/><path d="M118.5 148.54H1400" stroke="#e8261e" stroke-dasharray="0 8 0 31 0 16.5 0 47.5 0 63 0 38 0 39.5 0 63 0 14 0 38 0 10 0 40.5 0 22 0 5.5 0 38 0 50.5 0 56.5 0 5.5 0 7.5 0 20.5 0 33 0 16.5 0 7 0 18 0 119 0 42.5 0 78.5 0 14 0 1.5 0 107.5 0 14.5 0 87 0 1 0 35 0 3000"/><path d="M98.5 146.52H1400" stroke="#e8261e" stroke-dasharray="0 41 0 6.5 0 32.5 0 42.5 0 34.5 0 189 0 46.5 0 20 0 43 0 83.5 0 144.5 0 124.5 0 13 0 15.5 0 47 0 9.5 0 7.5 0 33 0 24.5 0 6 0 0 0 134 0 42 0 6 0 65 0 3000"/><path d="M99.5 144.5H1400" stroke="#e8261e" stroke-dasharray="0 102 0 8 0 67.5 0 42 0 93.5 0 74.5 0 71.5 0 48.5 0 90 0 22 0 9.5 0 7.5 0 59 0 45.5 0 27.5 0 39.5 0 85 0 15 0 33 0 31.5 0 98.5 0 129 0 23.5 0 2.5 0 3 0 3000"/><path d="M92.5 142.48H1400" stroke="#2b3790" stroke-dasharray="0 16.5 0 23.5 0 18 0 30 0 17 0 17 0 25.5 0 17.5 0 16 0 22.5 0 17 0 16.5 0 18 0 17.5 0 21 0 17.5 0 18 0 16 0 21.5 0 18 0 18 0 13.5 0 21 0 22 0 12.5 0 17 0 8.5 0 17 0 9 0 16.5 0 19.5 0 20 0 20.5 0 11 0 16 0 11 0 23 0 13 0 15 0 9 0 15.5 0 24 0 16 0 23.5 0 25.5 0 13.5 0 8 0 20.5 0 18.5 0 25 0 18 0 18 0 16.5 0 18.5 0 21 0 11 0 22.5 0 17.5 0 16 0 15 0 24 0 17 0 13 0 18 0 12.5 0 13 0 14.5 0 16 0 12.5 0 9 0 20.5 0 3000"/><path d="M104.5 140.46H1400" stroke="#2b3790" stroke-dasharray="0 21.5 0 18 0 11.5 0 26 0 7.5 0 9 0 18 0 23.5 0 18 0 14.5 0 22 0 21.5 0 15.5 0 10.5 0 25 0 11.5 0 25 0 10 0 15.5 0 18 0 13 0 24 0 18.5 0 26 0 15.5 0 17 0 13.5 0 16.5 0 26 0 17 0 11 0 20.5 0 17.5 0 18 0 17.5 0 20 0 13.5 0 30 0 24.5 0 12 0 12.5 0 22 0 17 0 10.5 0 29.5 0 7.5 0 24 0 12.5 0 27.5 0 18 0 11 0 12 0 17.5 0 12 0 21.5 0 19.5 0 18 0 21.5 0 20 0 10 0 15.5 0 17.5 0 29.5 0 12.5 0 16 0 20.5 0 19.5 0 22 0 15.5 0 3000"/><path d="M96 138.44H1400" stroke="#2b3790" stroke-dasharray="0 18.5 0 20.5 0 19.5 0 20.5 0 15.5 0 17 0 17 0 19.5 0 12 0 16 0 24 0 13.5 0 22.5 0 20.5 0 14.5 0 18 0 18 0 18 0 25 0 14 0 23 0 19.5 0 9.5 0 15 0 18 0 13 0 17 0 17 0 26 0 17.5 0 17.5 0 12.5 0 17.5 0 25 0 17 0 11.5 0 14.5 0 32.5 0 7.5 0 15.5 0 26 0 9 0 19.5 0 12.5 0 19 0 25 0 16.5 0 17.5 0 1 0 19.5 0 10.5 0 28.5 0 10 0 17.5 0 13 0 11.5 0 16.5 0 14 0 18.5 0 18.5 0 20 0 10.5 0 27.5 0 23 0 12.5 0 22 0 18 0 20 0 18.5 0 13 0 16.5 0 3000"/><path d="M108 136.42H1400" stroke="#2b3790" stroke-dasharray="0 18 0 28 0 9.5 0 19.5 0 22.5 0 20 0 16.5 0 13.5 0 15 0 22.5 0 18 0 18.5 0 22.5 0 16 0 16.5 0 18 0 21.5 0 20.5 0 15.5 0 14.5 0 17.5 0 22 0 12.5 0 26.5 0 23 0 17 0 16 0 28 0 9.5 0 13 0 25 0 9.5 0 24.5 0 17 0 14.5 0 19.5 0 15.5 0 23 0 12 0 13.5 0 27 0 14.5 0 20.5 0 15.5 0 13.5 0 17.5 0 19 0 23.5 0 13.5 0 15 0 7.5 0 18 0 25 0 29 0 21.5 0 10.5 0 24.5 0 12 0 20 0 15.5 0 27 0 16 0 16.5 0 28 0 5.5 0 13.5 0 13 0 3000"/><path d="M94 134.4H1400" stroke="#2b3790" stroke-dasharray="0 25 0 20 0 20.5 0 24 0 14 0 19 0 18 0 19.5 0 15.5 0 24.5 0 8 0 20 0 17 0 11.5 0 26.5 0 16.5 0 18 0 17 0 17 0 15.5 0 14 0 17 0 9.5 0 12.5 0 24.5 0 12 0 19 0 15.5 0 15 0 14 0 9 0 25 0 10.5 0 12 0 21 0 19.5 0 16 0 16.5 0 17.5 0 25.5 0 0.5 0 27.5 0 21 0 18 0 22.5 0 19.5 0 18.5 0 9 0 17.5 0 28.5 0 17 0 13.5 0 20.5 0 18 0 16.5 0 9.5 0 13.5 0 14 0 23 0 0.5 0 25 0 20 0 20 0 15 0 14 0 14 0 25 0 23.5 0 11.5 0 21.5 0 18 0 3000"/><path d="M108.5 132.38H1400" stroke="#2b3790" stroke-dasharray="0 9.5 0 23 0 17.5 0 18 0 21 0 10.5 0 18.5 0 18 0 24 0 13 0 21 0 21 0 14.5 0 21 0 16 0 18.5 0 19.5 0 15 0 18.5 0 15 0 14.5 0 16 0 24 0 10 0 15 0 7.5 0 28.5 0 16 0 4.5 0 22.5 0 29 0 20.5 0 20.5 0 13.5 0 17.5 0 24 0 16 0 15 0 12 0 15.5 0 22.5 0 20 0 19.5 0 20 0 22 0 23.5 0 17.5 0 16.5 0 14 0 22 0 18.5 0 9 0 16.5 0 20 0 19 0 21.5 0 11 0 18.5 0 16.5 0 8 0 19.5 0 22.5 0 20 0 9.5 0 16 0 25 0 11 0 21 0 17.5 0 3000"/><path d="M110.5 130.36H1400" stroke="#2b3790" stroke-dasharray="0 6 0 26 0 15 0 18.5 0 21.5 0 18 0 29 0 15 0 22 0 20.5 0 10.5 0 24.5 0 21.5 0 15.5 0 20.5 0 20.5 0 13.5 0 18.5 0 14.5 0 24 0 11.5 0 20 0 10 0 16 0 32 0 20.5 0 15 0 17.5 0 21.5 0 21 0 13 0 18.5 0 20 0 24 0 8 0 7 0 28 0 7.5 0 19 0 19 0 18.5 0 19 0 19 0 17 0 22 0 20.5 0 23 0 22 0 23 0 16.5 0 9.5 0 21 0 18 0 24 0 10.5 0 15.5 0 11.5 0 13.5 0 34 0 22 0 14 0 16.5 0 14.5 0 13.5 0 17.5 0 14 0 17 0 3000"/><path d="M92.5 128.34H1400" stroke="#2b3790" stroke-dasharray="0 21 0 14 0 15.5 0 14.5 0 17.5 0 21 0 21 0 19.5 0 17 0 20 0 15 0 31 0 17.5 0 13 0 22.5 0 23 0 12.5 0 11 0 9.5 0 20 0 13.5 0 14 0 21 0 21.5 0 16 0 19.5 0 21 0 22.5 0 13 0 19 0 22 0 21.5 0 10.5 0 30 0 24.5 0 15 0 9 0 19 0 15 0 20.5 0 11 0 24 0 29.5 0 7.5 0 21.5 0 12.5 0 19.5 0 22.5 0 20.5 0 11.5 0 15 0 23.5 0 16.5 0 15 0 16.5 0 21.5 0 15 0 13 0 20.5 0 12 0 27 0 9.5 0 19.5 0 14.5 0 19 0 19.5 0 16.5 0 14.5 0 17 0 10.5 0 3000"/><path d="M101.5 126.32H1400" stroke="#2b3790" stroke-dasharray="0 19.5 0 23 0 13 0 17.5 0 13 0 16 0 26.5 0 7.5 0 21.5 0 15 0 14 0 32.5 0 17.5 0 21.5 0 11.5 0 14 0 11 0 14.5 0 7 0 21.5 0 18.5 0 18 0 24 0 20.5 0 14 0 20.5 0 10 0 20.5 0 24 0 19 0 25 0 20.5 0 19 0 20 0 19 0 12.5 0 8.5 0 27 0 14.5 0 21 0 12 0 11 0 28 0 14 0 20 0 19.5 0 13.5 0 9 0 22 0 22 0 12 0 23.5 0 14 0 32 0 13 0 25.5 0 12.5 0 21.5 0 24 0 13.5 0 24 0 13.5 0 10 0 19 0 21.5 0 17.5 0 15.5 0 17 0 17 0 3000"/><path d="M97 124.3H1400" stroke="#2b3790" stroke-dasharray="0 13 0 19 0 27.5 0 10 0 23.5 0 15.5 0 13 0 10.5 0 22.5 0 16 0 19.5 0 19 0 30.5 0 15.5 0 18 0 18.5 0 22 0 16 0 10.5 0 22.5 0 16 0 22.5 0 23.5 0 12.5 0 19.5 0 10 0 25 0 20 0 26 0 19.5 0 20.5 0 16.5 0 20 0 20 0 12.5 0 15.5 0 19 0 15.5 0 10 0 10.5 0 25.5 0 17 0 23 0 6.5 0 24.5 0 23.5 0 19.5 0 10 0 23.5 0 23 0 16.5 0 17.5 0 16 0 19.5 0 18 0 21 0 8.5 0 11.5 0 23.5 0 22.5 0 17 0 23 0 20.5 0 22 0 17 0 15 0 25.5 0 3000"/><path d="M91.5 122.28H1400" stroke="#2b3790" stroke-dasharray="0 18 0 18.5 0 16.5 0 11 0 16.5 0 16.5 0 19.5 0 16.5 0 11.5 0 16 0 25 0 18 0 9 0 19.5 0 25.5 0 20 0 20 0 22.5 0 18.5 0 18.5 0 24 0 15.5 0 19.5 0 14.5 0 23.5 0 15 0 21.5 0 16 0 9.5 0 25.5 0 18 0 9.5 0 15 0 14 0 19 0 34.5 0 14 0 18.5 0 9 0 12.5 0 16 0 16.5 0 17 0 20.5 0 19 0 23 0 17 0 20 0 15 0 19 0 19.5 0 9.5 0 11.5 0 15 0 23 0 22.5 0 15.5 0 21 0 19 0 19 0 17 0 10 0 19 0 13 0 19.5 0 23.5 0 27 0 14.5 0 9.5 0 14.5 0 3000"/><path d="M108.5 120.26H1400" stroke="#2b3790" stroke-dasharray="0 18.5 0 18.5 0 20 0 18 0 19.5 0 20.5 0 19.5 0 10.5 0 22 0 21.5 0 10.5 0 14.5 0 16 0 19.5 0 31.5 0 20 0 27.5 0 12.5 0 23 0 24.5 0 14.5 0 12 0 14.5 0 23 0 21 0 8 0 18 0 15.5 0 16.5 0 18.5 0 18.5 0 24 0 19.5 0 12 0 21 0 21 0 14.5 0 24 0 16.5 0 15.5 0 15 0 13.5 0 12.5 0 23.5 0 18.5 0 17 0 22.5 0 13 0 20.5 0 20 0 7 0 29.5 0 12 0 18.5 0 8 0 20.5 0 21.5 0 17.5 0 16.5 0 10 0 20 0 14 0 19 0 11.5 0 20.5 0 19.5 0 22 0 13.5 0 3000"/><path d="M93.5 118.24H1400" stroke="#2b3790" stroke-dasharray="0 14 0 18 0 20.5 0 18.5 0 18.5 0 21.5 0 18.5 0 21.5 0 22 0 8.5 0 23.5 0 16 0 20 0 25.5 0 18 0 15 0 17.5 0 27.5 0 11 0 22.5 0 18.5 0 20.5 0 14 0 23 0 16.5 0 16 0 20.5 0 24 0 13.5 0 19.5 0 21.5 0 21.5 0 12.5 0 5.5 0 26 0 23.5 0 17 0 25.5 0 18 0 14.5 0 19 0 10 0 21 0 16 0 19.5 0 8.5 0 22.5 0 22 0 19 0 9.5 0 18.5 0 15 0 12 0 20.5 0 17.5 0 12 0 9 0 25.5 0 7 0 10.5 0 12.5 0 10.5 0 22 0 30.5 0 21.5 0 11 0 22 0 12 0 17.5 0 12 0 3000"/><path d="M97.5 116.22H1400" stroke="#2b3790" stroke-dasharray="0 28 0 13.5 0 16.5 0 27.5 0 17.5 0 21.5 0 24 0 19 0 8.5 0 26.5 0 15.5 0 20 0 12.5 0 11.5 0 17.5 0 17.5 0 14 0 22.5 0 13 0 27.5 0 17.5 0 12 0 9 0 16 0 11.5 0 10 0 15.5 0 16 0 22 0 17.5 0 17.5 0 21 0 15.5 0 14 0 14 0 24.5 0 17 0 17 0 9 0 26 0 16 0 17.5 0 22 0 13.5 0 21.5 0 24.5 0 18.5 0 19.5 0 14.5 0 21 0 17 0 12 0 16 0 28.5 0 11.5 0 16 0 21 0 19 0 18 0 14.5 0 14 0 20 0 19.5 0 19 0 17 0 18.5 0 24.5 0 12 0 16 0 3000"/><path d="M111.5 114.2H1400" stroke="#2b3790" stroke-dasharray="0 17 0 20.5 0 19.5 0 14 0 27 0 18.5 0 12 0 16.5 0 10.5 0 5 0 29.5 0 22.5 0 18.5 0 17 0 19 0 22.5 0 15.5 0 26.5 0 16.5 0 28.5 0 17 0 14.5 0 17 0 15.5 0 10 0 26 0 14 0 14 0 27.5 0 28.5 0 12.5 0 17 0 12.5 0 15 0 14.5 0 16.5 0 16.5 0 17.5 0 14 0 18.5 0 25 0 22.5 0 19 0 15.5 0 29 0 25 0 10 0 21 0 15.5 0 16.5 0 21.5 0 20 0 8 0 20.5 0 21 0 13 0 13 0 26.5 0 20 0 20.5 0 19.5 0 15.5 0 12.5 0 17 0 16 0 10 0 15.5 0 13.5 0 3000"/><path d="M102 112.18H1400" stroke="#2b3790" stroke-dasharray="0 16.5 0 17 0 13 0 19.5 0 23.5 0 11 0 19.5 0 17.5 0 19 0 11.5 0 25 0 19.5 0 16 0 28.5 0 19.5 0 24 0 12.5 0 26.5 0 17.5 0 12 0 16 0 19 0 20.5 0 9.5 0 25 0 27 0 21.5 0 14 0 19 0 22 0 6.5 0 14 0 16.5 0 21 0 22 0 16.5 0 14.5 0 18.5 0 25.5 0 32 0 21 0 22 0 14 0 27 0 16.5 0 19.5 0 15 0 14.5 0 16 0 7 0 23.5 0 18.5 0 22 0 22 0 19 0 15 0 15.5 0 9 0 19.5 0 22 0 20 0 14 0 13.5 0 15 0 27.5 0 14 0 3000"/><path d="M95 110.16H1400" stroke="#2b3790" stroke-dasharray="0 15.5 0 18.5 0 19.5 0 18.5 0 15.5 0 18.5 0 12 0 10 0 25.5 0 11 0 18 0 20.5 0 9.5 0 15.5 0 21.5 0 14 0 21.5 0 11 0 22 0 20 0 14.5 0 11 0 12.5 0 15 0 12.5 0 15 0 22 0 10.5 0 14 0 19 0 20 0 10 0 16.5 0 15.5 0 22.5 0 7 0 23.5 0 14 0 15 0 22 0 18.5 0 10.5 0 32.5 0 15.5 0 16 0 23 0 15.5 0 19 0 22 0 16 0 17.5 0 13.5 0 21.5 0 16 0 20.5 0 25.5 0 11 0 6.5 0 21.5 0 16 0 17 0 8.5 0 17 0 22 0 18 0 16 0 15 0 21 0 20.5 0 13.5 0 21.5 0 10 0 10 0 18.5 0 3000"/><path d="M111.5 108.14H1400" stroke="#2b3790" stroke-dasharray="0 8.5 0 14 0 14 0 19 0 15 0 14.5 0 15 0 24 0 19 0 24.5 0 5.5 0 14.5 0 25 0 21.5 0 13.5 0 20 0 23 0 10.5 0 13.5 0 22.5 0 22 0 14.5 0 28 0 17 0 12 0 15.5 0 21.5 0 19.5 0 20.5 0 21.5 0 21 0 8.5 0 18.5 0 15.5 0 18.5 0 30 0 12.5 0 19 0 8 0 23 0 9 0 25 0 30 0 5.5 0 13.5 0 20 0 24.5 0 15.5 0 14 0 13.5 0 28 0 7 0 21.5 0 22.5 0 21.5 0 19 0 10 0 13 0 28.5 0 18.5 0 18 0 10.5 0 20.5 0 19.5 0 18.5 0 18 0 23 0 16.5 0 3000"/><path d="M113 106.12H1400" stroke="#2b3790" stroke-dasharray="0 9 0 22 0 22 0 12.5 0 15.5 0 23 0 18 0 7.5 0 12.5 0 15.5 0 21 0 14.5 0 16.5 0 17 0 12.5 0 18 0 13 0 18 0 24 0 25.5 0 19.5 0 13.5 0 14.5 0 13.5 0 30 0 17 0 21 0 18.5 0 6 0 18 0 25 0 23 0 19.5 0 15 0 18 0 6 0 14 0 16 0 14 0 11 0 24.5 0 23.5 0 11 0 13.5 0 25 0 9.5 0 9.5 0 28.5 0 20.5 0 24 0 5 0 19 0 13.5 0 19.5 0 19 0 18 0 17.5 0 23 0 7 0 12.5 0 22.5 0 17 0 25.5 0 20 0 9 0 21 0 21.5 0 9 0 18 0 22.5 0 3000"/><path d="M91.5 104.1H1400" stroke="#2b3790" stroke-dasharray="0 14.5 0 18 0 20.5 0 15 0 19.5 0 27.5 0 27.5 0 26 0 20.5 0 23.5 0 1.5 0 20 0 28.5 0 4 0 26.5 0 16.5 0 23 0 10.5 0 17 0 18 0 27 0 13.5 0 17 0 20 0 13 0 20 0 17 0 17 0 19 0 21.5 0 15 0 21.5 0 14 0 25.5 0 10.5 0 13.5 0 17 0 11.5 0 25 0 11.5 0 21 0 13.5 0 16 0 12.5 0 19.5 0 18.5 0 18 0 24 0 16.5 0 20 0 11.5 0 19.5 0 20 0 15.5 0 24 0 10.5 0 26.5 0 18 0 20 0 14 0 22 0 21 0 19 0 23.5 0 15.5 0 22 0 26.5 0 3000"/><path d="M93.5 102.08H1400" stroke="#2b3790" stroke-dasharray="0 16.5 0 15.5 0 20 0 14.5 0 16 0 12 0 11.5 0 15 0 17 0 15 0 20 0 15.5 0 22.5 0 21 0 6.5 0 24 0 19 0 18 0 17.5 0 12.5 0 19.5 0 10 0 16.5 0 16.5 0 23 0 19.5 0 12 0 21 0 19 0 17 0 17 0 16.5 0 24.5 0 14 0 23.5 0 13.5 0 13.5 0 20.5 0 8.5 0 17 0 17 0 15.5 0 18 0 23.5 0 19.5 0 24.5 0 16 0 19 0 21.5 0 8 0 16 0 14 0 32 0 20.5 0 20 0 14 0 25.5 0 17.5 0 18.5 0 19 0 19.5 0 22 0 13.5 0 22.5 0 14 0 15 0 13.5 0 6 0 14.5 0 16 0 20.5 0 3000"/><path d="M99.5 100.06H1400" stroke="#2b3790" stroke-dasharray="0 27.5 0 20 0 21 0 21 0 12 0 22 0 15 0 12 0 18.5 0 19 0 17 0 13.5 0 15.5 0 16.5 0 27 0 8 0 15 0 16.5 0 18.5 0 19 0 14 0 15.5 0 24 0 10 0 22 0 31.5 0 14 0 10.5 0 23 0 24 0 14.5 0 18.5 0 23 0 24.5 0 24 0 19.5 0 16 0 14.5 0 18.5 0 23.5 0 20.5 0 24.5 0 13.5 0 19 0 14 0 17.5 0 17 0 12 0 15.5 0 25 0 25.5 0 20 0 14 0 12.5 0 18 0 10 0 19.5 0 8.5 0 21 0 21 0 23 0 13 0 12.5 0 16.5 0 22.5 0 8.5 0 28 0 12 0 3000"/><path d="M97.5 98.04H1400" stroke="#2b3790" stroke-dasharray="0 19.5 0 11.5 0 21 0 24 0 16.5 0 19 0 22.5 0 18 0 18.5 0 18.5 0 16.5 0 16 0 22.5 0 14 0 23 0 13.5 0 8.5 0 22.5 0 18.5 0 12.5 0 13.5 0 19 0 19.5 0 23.5 0 17 0 23.5 0 15.5 0 13 0 19 0 16 0 24.5 0 17.5 0 22.5 0 11 0 23 0 14 0 22 0 14 0 15 0 17 0 23.5 0 22.5 0 21.5 0 15 0 18.5 0 15.5 0 16 0 29 0 20.5 0 14.5 0 5.5 0 27.5 0 18 0 25.5 0 13.5 0 24.5 0 21 0 19 0 23 0 14.5 0 15 0 17.5 0 11 0 22.5 0 13 0 22.5 0 21 0 3000"/><path d="M96.5 96.02H1400" stroke="#2b3790" stroke-dasharray="0 21 0 13 0 17.5 0 25 0 18 0 13.5 0 14 0 14 0 25.5 0 16.5 0 10.5 0 16.5 0 18 0 16 0 22 0 22.5 0 21 0 15.5 0 19 0 18.5 0 17.5 0 22 0 10.5 0 17 0 17.5 0 21.5 0 16.5 0 23 0 7 0 10.5 0 17.5 0 25 0 9.5 0 18 0 22.5 0 23 0 12 0 14 0 23.5 0 15 0 16.5 0 23 0 13.5 0 21.5 0 9.5 0 25 0 24 0 14.5 0 19.5 0 10.5 0 20 0 20.5 0 20 0 10 0 23.5 0 19.5 0 13 0 19.5 0 18 0 18.5 0 15 0 24 0 22.5 0 28 0 12.5 0 15.5 0 19 0 10 0 26.5 0 3000"/><path d="M95 94H1400" stroke="#2b3790" stroke-dasharray="0 23.5 0 13.5 0 22.5 0 18.5 0 16.5 0 15.5 0 13 0 24.5 0 15.5 0 16.5 0 19.5 0 6.5 0 20.5 0 15 0 23.5 0 13.5 0 21 0 22.5 0 18 0 18 0 20.5 0 22 0 26.5 0 17 0 9 0 20 0 8.5 0 24.5 0 15 0 9.5 0 21.5 0 13 0 23.5 0 20.5 0 7 0 12.5 0 10.5 0 13 0 12 0 23 0 19 0 12 0 15 0 20 0 25 0 8.5 0 16 0 17 0 15 0 33 0 12 0 10 0 24.5 0 19.5 0 19.5 0 20 0 22.5 0 11.5 0 19.5 0 19.5 0 18 0 15 0 13 0 17.5 0 20.5 0 16 0 16.5 0 16.5 0 19 0 23 0 18 0 3000"/></g><rect x="91" y="90.6" width="1243" height="205.4" fill="none" stroke="#231815" stroke-width="1.7"/><path d="M91 245.50h12.5" stroke="#3a3636" stroke-width="1.3"/><text x="78.4" y="256.1" font-size="29.8" text-anchor="end" fill="#3d3330">25</text><path d="M91 195.00h12.5" stroke="#3a3636" stroke-width="1.3"/><text x="78.4" y="205.6" font-size="29.8" text-anchor="end" fill="#3d3330">50</text><path d="M91 144.50h12.5" stroke="#3a3636" stroke-width="1.3"/><text x="78.4" y="155.1" font-size="29.8" text-anchor="end" fill="#3d3330">75</text><text x="0" y="0" font-size="32" fill="#3d3330" transform="translate(29.1 235) rotate(-90)">Index</text><rect x="91" y="311.8" width="1243" height="194.7" fill="#371e35"/><rect x="91" y="311.80" width="1243" height="4.57" fill="url(#g0_0)"/><rect x="91" y="315.17" width="1243" height="3.93" fill="url(#g0_1)"/><rect x="91" y="317.90" width="1243" height="3.93" fill="url(#g0_2)"/><rect x="91" y="320.63" width="1243" height="3.93" fill="url(#g0_3)"/><rect x="91" y="323.36" width="1243" height="3.93" fill="url(#g0_4)"/><rect x="91" y="326.09" width="1243" height="3.93" fill="url(#g0_5)"/><rect x="91" y="328.82" width="1243" height="3.93" fill="url(#g0_6)"/><rect x="91" y="331.55" width="1243" height="3.93" fill="url(#g0_7)"/><rect x="91" y="334.28" width="1243" height="3.93" fill="url(#g0_8)"/><rect x="91" y="337.01" width="1243" height="3.93" fill="url(#g0_9)"/><rect x="91" y="339.74" width="1243" height="3.93" fill="url(#g0_10)"/><rect x="91" y="342.47" width="1243" height="3.93" fill="url(#g0_11)"/><rect x="91" y="345.20" width="1243" height="3.93" fill="url(#g0_12)"/><rect x="91" y="347.93" width="1243" height="3.93" fill="url(#g0_13)"/><rect x="91" y="350.66" width="1243" height="3.93" fill="url(#g0_14)"/><rect x="91" y="353.39" width="1243" height="3.93" fill="url(#g0_15)"/><rect x="91" y="356.12" width="1243" height="3.93" fill="url(#g0_16)"/><rect x="91" y="358.85" width="1243" height="3.93" fill="url(#g0_17)"/><rect x="91" y="361.59" width="1243" height="3.93" fill="url(#g0_18)"/><rect x="91" y="364.32" width="1243" height="3.93" fill="url(#g0_19)"/><rect x="91" y="367.05" width="1243" height="3.93" fill="url(#g0_20)"/><rect x="91" y="369.78" width="1243" height="3.93" fill="url(#g0_21)"/><rect x="91" y="372.51" width="1243" height="3.93" fill="url(#g0_22)"/><rect x="91" y="375.24" width="1243" height="3.93" fill="url(#g0_23)"/><rect x="91" y="377.97" width="1243" height="3.93" fill="url(#g0_24)"/><rect x="91" y="380.70" width="1243" height="3.93" fill="url(#g0_25)"/><rect x="91" y="383.43" width="1243" height="3.93" fill="url(#g0_26)"/><rect x="91" y="386.16" width="1243" height="3.93" fill="url(#g0_27)"/><rect x="91" y="388.89" width="1243" height="3.93" fill="url(#g0_28)"/><rect x="91" y="391.62" width="1243" height="3.93" fill="url(#g0_29)"/><rect x="91" y="394.35" width="1243" height="3.93" fill="url(#g0_30)"/><rect x="91" y="397.08" width="1243" height="3.93" fill="url(#g0_31)"/><rect x="91" y="399.81" width="1243" height="3.93" fill="url(#g0_32)"/><rect x="91" y="402.54" width="1243" height="3.93" fill="url(#g0_33)"/><rect x="91" y="405.28" width="1243" height="3.93" fill="url(#g0_34)"/><rect x="91" y="408.01" width="1243" height="3.93" fill="url(#g0_35)"/><rect x="91" y="410.74" width="1243" height="3.93" fill="url(#g0_36)"/><rect x="91" y="413.47" width="1243" height="3.93" fill="url(#g0_37)"/><rect x="91" y="416.20" width="1243" height="3.93" fill="url(#g0_38)"/><rect x="91" y="418.93" width="1243" height="3.93" fill="url(#g0_39)"/><rect x="91" y="421.66" width="1243" height="3.93" fill="url(#g0_40)"/><rect x="91" y="424.39" width="1243" height="3.93" fill="url(#g0_41)"/><rect x="91" y="427.12" width="1243" height="3.93" fill="url(#g0_42)"/><rect x="91" y="429.85" width="1243" height="3.93" fill="url(#g0_43)"/><rect x="91" y="432.58" width="1243" height="3.93" fill="url(#g0_44)"/><rect x="91" y="435.31" width="1243" height="3.93" fill="url(#g0_45)"/><rect x="91" y="438.04" width="1243" height="3.93" fill="url(#g0_46)"/><rect x="91" y="440.77" width="1243" height="3.93" fill="url(#g0_47)"/><rect x="91" y="443.50" width="1243" height="3.93" fill="url(#g0_48)"/><rect x="91" y="446.23" width="1243" height="3.93" fill="url(#g0_49)"/><rect x="91" y="448.96" width="1243" height="3.93" fill="url(#g0_50)"/><rect x="91" y="451.70" width="1243" height="3.93" fill="url(#g0_51)"/><rect x="91" y="454.43" width="1243" height="3.93" fill="url(#g0_52)"/><rect x="91" y="457.16" width="1243" height="3.93" fill="url(#g0_53)"/><rect x="91" y="459.89" width="1243" height="3.93" fill="url(#g0_54)"/><rect x="91" y="462.62" width="1243" height="3.93" fill="url(#g0_55)"/><rect x="91" y="465.35" width="1243" height="3.93" fill="url(#g0_56)"/><rect x="91" y="468.08" width="1243" height="3.93" fill="url(#g0_57)"/><rect x="91" y="470.81" width="1243" height="3.93" fill="url(#g0_58)"/><rect x="91" y="473.54" width="1243" height="3.93" fill="url(#g0_59)"/><rect x="91" y="476.27" width="1243" height="3.93" fill="url(#g0_60)"/><rect x="91" y="479.00" width="1243" height="3.93" fill="url(#g0_61)"/><rect x="91" y="481.73" width="1243" height="3.93" fill="url(#g0_62)"/><rect x="91" y="484.46" width="1243" height="3.93" fill="url(#g0_63)"/><rect x="91" y="487.19" width="1243" height="3.93" fill="url(#g0_64)"/><rect x="91" y="489.92" width="1243" height="3.93" fill="url(#g0_65)"/><rect x="91" y="492.65" width="1243" height="3.93" fill="url(#g0_66)"/><rect x="91" y="495.38" width="1243" height="3.93" fill="url(#g0_67)"/><rect x="91" y="498.12" width="1243" height="3.93" fill="url(#g0_68)"/><rect x="91" y="500.85" width="1243" height="3.93" fill="url(#g0_69)"/><rect x="91" y="503.58" width="1243" height="2.92" fill="url(#g0_70)"/><g clip-path="url(#sc)"><g style="mix-blend-mode:lighten" filter="url(#bl)"><ellipse cx="650" cy="463.5" rx="28" ry="1.9" fill="#39203a"/><ellipse cx="1070" cy="349.1" rx="29" ry="1.5" fill="#3f274b"/><ellipse cx="876" cy="379.9" rx="45" ry="2.4" fill="#412951"/><ellipse cx="694" cy="373.6" rx="19" ry="1.8" fill="#412950"/><ellipse cx="545" cy="423.5" rx="29" ry="2.5" fill="#3c2340"/><ellipse cx="286" cy="407.7" rx="33" ry="2.0" fill="#3a213b"/><ellipse cx="367" cy="495.7" rx="41" ry="2.0" fill="#462f60"/><ellipse cx="540" cy="410.9" rx="41" ry="2.3" fill="#381f38"/><ellipse cx="1114" cy="434.6" rx="23" ry="2.7" fill="#39203a"/><ellipse cx="402" cy="421.7" rx="44" ry="2.5" fill="#412951"/><ellipse cx="975" cy="356.2" rx="27" ry="2.5" fill="#3f274b"/><ellipse cx="967" cy="329.3" rx="46" ry="2.9" fill="#422a55"/><ellipse cx="705" cy="385.2" rx="28" ry="2.3" fill="#442c59"/><ellipse cx="390" cy="320.7" rx="45" ry="1.7" fill="#3e2547"/><ellipse cx="1001" cy="444.0" rx="45" ry="1.7" fill="#3e2648"/><ellipse cx="707" cy="324.7" rx="17" ry="2.6" fill="#3c2341"/><ellipse cx="327" cy="388.2" rx="42" ry="1.7" fill="#392039"/><ellipse cx="1169" cy="402.3" rx="36" ry="2.2" fill="#3c2341"/><ellipse cx="822" cy="451.0" rx="41" ry="1.6" fill="#3c2342"/><ellipse cx="559" cy="425.0" rx="28" ry="1.8" fill="#3a213b"/><ellipse cx="990" cy="412.8" rx="19" ry="2.9" fill="#452d5b"/><ellipse cx="688" cy="493.2" rx="24" ry="2.1" fill="#412950"/><ellipse cx="735" cy="463.4" rx="37" ry="1.8" fill="#422a54"/><ellipse cx="381" cy="358.1" rx="31" ry="1.8" fill="#462f60"/><ellipse cx="378" cy="466.4" rx="49" ry="2.7" fill="#462f60"/><ellipse cx="224" cy="481.9" rx="40" ry="1.6" fill="#3b2240"/><ellipse cx="278" cy="316.5" rx="46" ry="2.9" fill="#3d2444"/><ellipse cx="819" cy="341.2" rx="38" ry="2.6" fill="#392039"/><ellipse cx="379" cy="361.4" rx="49" ry="2.6" fill="#432b56"/><ellipse cx="264" cy="453.5" rx="16" ry="2.1" fill="#381f37"/><ellipse cx="462" cy="393.5" rx="43" ry="1.6" fill="#452d5c"/><ellipse cx="1088" cy="406.7" rx="25" ry="2.0" fill="#442d5b"/><ellipse cx="230" cy="404.9" rx="34" ry="1.7" fill="#3d2443"/><ellipse cx="183" cy="504.2" rx="38" ry="2.7" fill="#462f60"/><ellipse cx="685" cy="383.7" rx="16" ry="2.3" fill="#40284e"/><ellipse cx="618" cy="505.2" rx="20" ry="2.2" fill="#41284f"/><ellipse cx="653" cy="427.6" rx="19" ry="2.0" fill="#39213b"/><ellipse cx="281" cy="423.0" rx="16" ry="2.7" fill="#39203b"/><ellipse cx="1029" cy="382.9" rx="25" ry="2.1" fill="#40284e"/><ellipse cx="1155" cy="416.1" rx="48" ry="2.3" fill="#381f36"/><ellipse cx="606" cy="467.3" rx="32" ry="2.0" fill="#412951"/><ellipse cx="1184" cy="482.3" rx="30" ry="2.6" fill="#412951"/><ellipse cx="1049" cy="351.9" rx="19" ry="1.6" fill="#3b223f"/><ellipse cx="1109" cy="413.8" rx="25" ry="2.1" fill="#3a213b"/><ellipse cx="276" cy="407.7" rx="32" ry="3.0" fill="#39203a"/><ellipse cx="1238" cy="345.8" rx="29" ry="2.7" fill="#412950"/><ellipse cx="93" cy="439.3" rx="15" ry="2.6" fill="#452e5e"/><ellipse cx="141" cy="316.8" rx="21" ry="2.9" fill="#381f37"/><ellipse cx="111" cy="474.0" rx="26" ry="1.7" fill="#442c5a"/><ellipse cx="262" cy="367.1" rx="43" ry="2.3" fill="#3f264a"/><ellipse cx="686" cy="421.6" rx="39" ry="2.3" fill="#452d5c"/><ellipse cx="1014" cy="428.7" rx="15" ry="2.9" fill="#3f274b"/><ellipse cx="689" cy="356.6" rx="41" ry="2.1" fill="#3a213c"/><ellipse cx="1030" cy="465.5" rx="39" ry="2.2" fill="#3d2444"/><ellipse cx="1029" cy="433.3" rx="21" ry="2.7" fill="#392039"/><ellipse cx="137" cy="477.7" rx="18" ry="2.9" fill="#452d5c"/><ellipse cx="1130" cy="396.6" rx="48" ry="2.6" fill="#3d2445"/><ellipse cx="845" cy="494.2" rx="41" ry="2.7" fill="#422a53"/><ellipse cx="857" cy="443.5" rx="32" ry="1.6" fill="#3f264a"/><ellipse cx="241" cy="449.1" rx="33" ry="2.9" fill="#3a213b"/><ellipse cx="839" cy="460.8" rx="21" ry="1.6" fill="#432b56"/><ellipse cx="509" cy="473.6" rx="43" ry="2.1" fill="#3e2547"/><ellipse cx="980" cy="347.5" rx="43" ry="2.9" fill="#3f274c"/><ellipse cx="819" cy="456.1" rx="37" ry="1.9" fill="#41284f"/><ellipse cx="787" cy="351.0" rx="24" ry="2.2" fill="#371f35"/><ellipse cx="599" cy="489.6" rx="33" ry="2.6" fill="#3f264a"/><ellipse cx="1303" cy="415.4" rx="19" ry="2.6" fill="#392039"/><ellipse cx="590" cy="443.3" rx="15" ry="2.9" fill="#412951"/><ellipse cx="1270" cy="365.0" rx="18" ry="1.9" fill="#392039"/><ellipse cx="864" cy="453.7" rx="37" ry="2.6" fill="#452d5c"/><ellipse cx="703" cy="379.8" rx="43" ry="1.7" fill="#3d2546"/><ellipse cx="979" cy="486.3" rx="31" ry="1.8" fill="#381f37"/><ellipse cx="875" cy="328.7" rx="43" ry="2.7" fill="#442d5b"/><ellipse cx="870" cy="381.9" rx="18" ry="3.0" fill="#40284d"/><ellipse cx="1291" cy="398.4" rx="18" ry="1.6" fill="#381f37"/><ellipse cx="905" cy="384.9" rx="35" ry="2.3" fill="#40274d"/><ellipse cx="200" cy="455.4" rx="15" ry="1.8" fill="#39203a"/><ellipse cx="683" cy="469.7" rx="18" ry="1.7" fill="#381f36"/><ellipse cx="400" cy="417.8" rx="44" ry="2.1" fill="#371f35"/><ellipse cx="481" cy="368.0" rx="45" ry="1.6" fill="#462f60"/><ellipse cx="200" cy="486.9" rx="17" ry="2.1" fill="#3f274c"/><ellipse cx="228" cy="398.6" rx="45" ry="2.2" fill="#3d2546"/><ellipse cx="1101" cy="458.4" rx="38" ry="2.2" fill="#3e2547"/><ellipse cx="186" cy="475.7" rx="44" ry="1.5" fill="#3b223f"/><ellipse cx="1062" cy="499.2" rx="27" ry="1.6" fill="#3c2443"/><ellipse cx="849" cy="441.2" rx="23" ry="2.8" fill="#442d5b"/><ellipse cx="729" cy="353.2" rx="17" ry="3.0" fill="#3b223f"/><ellipse cx="1319" cy="432.2" rx="30" ry="2.6" fill="#3c2342"/><ellipse cx="1067" cy="385.0" rx="30" ry="2.2" fill="#371f35"/><ellipse cx="1000" cy="325.2" rx="43" ry="2.0" fill="#3b223f"/><ellipse cx="1064" cy="465.1" rx="24" ry="2.9" fill="#442d5a"/><ellipse cx="172" cy="430.8" rx="42" ry="1.9" fill="#442c58"/><ellipse cx="775" cy="470.4" rx="21" ry="2.7" fill="#381f37"/><ellipse cx="945" cy="493.7" rx="37" ry="2.2" fill="#3f274c"/><ellipse cx="285" cy="356.8" rx="26" ry="2.9" fill="#381f37"/><ellipse cx="412" cy="383.9" rx="18" ry="2.7" fill="#3a213c"/><ellipse cx="220" cy="483.1" rx="26" ry="2.5" fill="#39203b"/><ellipse cx="937" cy="446.2" rx="16" ry="2.9" fill="#3e2548"/><ellipse cx="1122" cy="431.8" rx="37" ry="2.5" fill="#442c5a"/><ellipse cx="1183" cy="458.7" rx="39" ry="1.6" fill="#462e5e"/><ellipse cx="1117" cy="417.5" rx="27" ry="2.0" fill="#3d2546"/><ellipse cx="785" cy="466.6" rx="39" ry="1.9" fill="#3f274c"/><ellipse cx="368" cy="335.5" rx="29" ry="2.7" fill="#3e2648"/><ellipse cx="358" cy="494.8" rx="38" ry="2.8" fill="#442c59"/><ellipse cx="730" cy="436.9" rx="35" ry="1.7" fill="#3e2648"/><ellipse cx="133" cy="502.7" rx="22" ry="2.5" fill="#371f35"/><ellipse cx="655" cy="390.8" rx="18" ry="2.8" fill="#3c2443"/><ellipse cx="648" cy="363.7" rx="28" ry="2.4" fill="#462e5e"/><ellipse cx="191" cy="436.3" rx="27" ry="2.1" fill="#432c57"/><ellipse cx="168" cy="416.7" rx="47" ry="1.8" fill="#412951"/></g></g><rect x="91" y="311.8" width="1243" height="194.7" fill="none" stroke="#3c3c3c" stroke-width="1.4"/><text x="78.4" y="488.2" font-size="29.8" text-anchor="end" fill="#3d3330">20</text><text x="78.4" y="433.6" font-size="29.8" text-anchor="end" fill="#3d3330">40</text><text x="78.4" y="379" font-size="29.8" text-anchor="end" fill="#3d3330">60</text><text x="78.4" y="324.4" font-size="29.8" text-anchor="end" fill="#3d3330">80</text><text x="91.8" y="548.3" font-size="30" text-anchor="middle" fill="#3d3330">2000</text><text x="339.1" y="548.3" font-size="30" text-anchor="middle" fill="#3d3330">2200</text><text x="586.4" y="548.3" font-size="30" text-anchor="middle" fill="#3d3330">2400</text><text x="833.7" y="548.3" font-size="30" text-anchor="middle" fill="#3d3330">2600</text><text x="1081" y="548.3" font-size="30" text-anchor="middle" fill="#3d3330">2800</text><text x="1328.3" y="548.3" font-size="30" text-anchor="middle" fill="#3d3330">3000</text><path d="M91.7 477.64h12.4M1333.3 477.64h-12.4M91.7 423.02h12.4M1333.3 423.02h-12.4M91.7 368.41h12.4M1333.3 368.41h-12.4M91.7 313.80h12.4M1333.3 313.80h-12.4M91.00 505.8v-12.4M91.00 312.5v12.4M338.30 505.8v-12.4M338.30 312.5v12.4M585.60 505.8v-12.4M585.60 312.5v12.4M832.90 505.8v-12.4M832.90 312.5v12.4M1080.20 505.8v-12.4M1080.20 312.5v12.4M1327.50 505.8v-12.4M1327.50 312.5v12.4" stroke="#6a6a6a" stroke-width="1.3"/><text x="0" y="0" font-size="32" fill="#3d3330" transform="translate(29.5 471.4) rotate(-90)">Freq (Hz)</text><text x="717.3" y="591.9" font-size="32.8" text-anchor="middle" fill="#3d3330">Time (ms)</text><rect x="1365.2" y="311.8" width="50" height="194.7" fill="url(#cbar)" stroke="#3c3c3c" stroke-width="1.4"/><path d="M1414.5 506.90h-3.5" stroke="#3a3636" stroke-width="1.2"/><text x="1425.2" y="516.9" font-size="27" fill="#3d3330">0</text><path d="M1414.5 442.30h-3.5" stroke="#3a3636" stroke-width="1.2"/><text x="1425.2" y="452.3" font-size="27" fill="#3d3330">100</text><path d="M1414.5 377.70h-3.5" stroke="#3a3636" stroke-width="1.2"/><text x="1425.2" y="387.7" font-size="27" fill="#3d3330">200</text><path d="M1414.5 313.10h-3.5" stroke="#3a3636" stroke-width="1.2"/><text x="1425.2" y="323.1" font-size="27" fill="#3d3330">300</text><text transform="translate(1517.7 520.5) rotate(-90)" font-size="29.6" fill="#3d3330">(spikes/sec)<tspan font-size="24.4" dx="1.5" dy="-15">2</tspan><tspan dx="2.5" dy="15">/Hz</tspan></text><text x="234" y="632.2" font-size="32.1" fill="#231815" style="stroke:none">Conditioned on E at t=0</text><text x="878.2" y="632.2" font-size="32.4" fill="#231815" style="stroke:none">Conditioned on I at t=0</text><rect x="91" y="651" width="279" height="88.9" fill="#fff"/><path d="M97.6 739.9V734.3H106.5V739.9zM106.5 739.9V733.6H115.4V739.9zM115.4 739.9V734.3H124.2V739.9zM124.2 739.9V734.3H133.1V739.9zM133.1 739.9V734.3H141.9V739.9zM141.9 739.9V734.3H150.8V739.9zM150.8 739.9V733.6H159.6V739.9zM159.6 739.9V733.9H168.5V739.9zM168.5 739.9V735.1H177.4V739.9zM177.4 739.9V734.3H186.2V739.9zM186.2 739.9V733.9H195.1V739.9zM195.1 739.9V733.6H203.9V739.9zM203.9 739.9V733.2H212.8V739.9zM212.8 739.9V732.8H221.6V739.9zM221.6 739.9V733.2H230.5V739.9zM230.5 739.9V729.6H239.4V739.9zM239.4 739.9V732.8H248.2V739.9zM248.2 739.9V733.9H257.1V739.9zM257.1 739.9V734.3H265.9V739.9zM265.9 739.9V734.3H274.8V739.9zM274.8 739.9V734.3H283.6V739.9zM283.6 739.9V734.3H292.5V739.9zM292.5 739.9V733.9H301.4V739.9zM301.4 739.9V733.6H310.2V739.9zM310.2 739.9V734.3H319.1V739.9zM319.1 739.9V734.3H327.9V739.9zM327.9 739.9V734.3H336.8V739.9zM336.8 739.9V733.6H345.6V739.9zM345.6 739.9V732.8H354.5V739.9zM354.5 739.9V733.6H363.4V739.9z" fill="#4352a6" stroke="#1a1a1a" stroke-width="1.1"/><rect x="91" y="651" width="279" height="88.9" fill="none" stroke="#333" stroke-width="1.5"/><text x="139.9" y="782" font-size="29.3" text-anchor="middle" fill="#3d3330" letter-spacing="-0.6">-10</text><text x="230.8" y="782" font-size="29.3" text-anchor="middle" fill="#3d3330">0</text><text x="319.4" y="782" font-size="29.3" text-anchor="middle" fill="#3d3330">10</text><path d="M141.9 651v3M141.9 739.9v-3M230.5 651v3M230.5 739.9v-3M319.1 651v3M319.1 739.9v-3M91 695.4h3M370 695.4h-3" stroke="#222" stroke-width="1.3"/><text x="116.5" y="683.5" font-size="27.5" fill="#231815" style="stroke:none">E</text><text x="232.2" y="826.3" font-size="32.8" text-anchor="middle" fill="#3d3330">Time (ms)</text><rect x="414.1" y="651" width="274" height="88.9" fill="#fff"/><path d="M420.6 739.9V725.2H429.3V739.9zM429.3 739.9V725.2H438.0V739.9zM438.0 739.9V724.8H446.7V739.9zM446.7 739.9V725.2H455.4V739.9zM455.4 739.9V726.4H464.1V739.9zM464.1 739.9V724.8H472.8V739.9zM472.8 739.9V724.4H481.5V739.9zM481.5 739.9V726.0H490.2V739.9zM490.2 739.9V726.0H498.9V739.9zM498.9 739.9V725.6H507.6V739.9zM507.6 739.9V726.4H516.3V739.9zM516.3 739.9V726.4H525.0V739.9zM525.0 739.9V724.0H533.7V739.9zM533.7 739.9V724.0H542.4V739.9zM542.4 739.9V722.8H551.1V739.9zM551.1 739.9V720.1H559.8V739.9zM559.8 739.9V721.6H568.5V739.9zM568.5 739.9V723.2H577.2V739.9zM577.2 739.9V725.2H585.9V739.9zM585.9 739.9V725.6H594.6V739.9zM594.6 739.9V725.6H603.3V739.9zM603.3 739.9V726.0H612.0V739.9zM612.0 739.9V726.8H620.7V739.9zM620.7 739.9V726.0H629.4V739.9zM629.4 739.9V725.6H638.1V739.9zM638.1 739.9V725.2H646.8V739.9zM646.8 739.9V725.2H655.5V739.9zM655.5 739.9V724.0H664.2V739.9zM664.2 739.9V723.6H672.9V739.9zM672.9 739.9V724.0H681.6V739.9z" fill="#4352a6" stroke="#1a1a1a" stroke-width="1.1"/><rect x="414.1" y="651" width="274" height="88.9" fill="none" stroke="#333" stroke-width="1.5"/><text x="462.1" y="782" font-size="29.3" text-anchor="middle" fill="#3d3330" letter-spacing="-0.6">-10</text><text x="551.4" y="782" font-size="29.3" text-anchor="middle" fill="#3d3330">0</text><text x="638.4" y="782" font-size="29.3" text-anchor="middle" fill="#3d3330">10</text><path d="M464.1 651v3M464.1 739.9v-3M551.1 651v3M551.1 739.9v-3M638.1 651v3M638.1 739.9v-3M414.1 695.4h3M688.1 695.4h-3" stroke="#222" stroke-width="1.3"/><text x="439.6" y="683.5" font-size="27.5" fill="#231815" style="stroke:none">I</text><rect x="736.7" y="651" width="274.3" height="88.9" fill="#fff"/><path d="M743.2 739.9V734.3H751.9V739.9zM751.9 739.9V733.9H760.6V739.9zM760.6 739.9V734.3H769.4V739.9zM769.4 739.9V734.3H778.1V739.9zM778.1 739.9V734.7H786.8V739.9zM786.8 739.9V734.7H795.5V739.9zM795.5 739.9V735.1H804.2V739.9zM804.2 739.9V735.1H812.9V739.9zM812.9 739.9V734.7H821.6V739.9zM821.6 739.9V734.7H830.3V739.9zM830.3 739.9V734.7H839.0V739.9zM839.0 739.9V733.6H847.7V739.9zM847.7 739.9V732.8H856.4V739.9zM856.4 739.9V732.4H865.1V739.9zM865.1 739.9V731.6H873.9V739.9zM873.9 739.9V733.6H882.6V739.9zM882.6 739.9V733.9H891.3V739.9zM891.3 739.9V733.9H900.0V739.9zM900.0 739.9V734.7H908.7V739.9zM908.7 739.9V734.7H917.4V739.9zM917.4 739.9V734.7H926.1V739.9zM926.1 739.9V734.7H934.8V739.9zM934.8 739.9V734.3H943.5V739.9zM943.5 739.9V733.9H952.2V739.9zM952.2 739.9V734.3H960.9V739.9zM960.9 739.9V734.3H969.6V739.9zM969.6 739.9V733.9H978.3V739.9zM978.3 739.9V733.9H987.1V739.9zM987.1 739.9V733.9H995.8V739.9zM995.8 739.9V733.9H1004.5V739.9z" fill="#4352a6" stroke="#1a1a1a" stroke-width="1.1"/><rect x="736.7" y="651" width="274.3" height="88.9" fill="none" stroke="#333" stroke-width="1.5"/><text x="784.8" y="782" font-size="29.3" text-anchor="middle" fill="#3d3330" letter-spacing="-0.6">-10</text><text x="874.1" y="782" font-size="29.3" text-anchor="middle" fill="#3d3330">0</text><text x="961.2" y="782" font-size="29.3" text-anchor="middle" fill="#3d3330">10</text><path d="M786.8 651v3M786.8 739.9v-3M873.9 651v3M873.9 739.9v-3M960.9 651v3M960.9 739.9v-3M736.7 695.4h3M1011 695.4h-3" stroke="#222" stroke-width="1.3"/><text x="762.2" y="683.5" font-size="27.5" fill="#231815" style="stroke:none">E</text><text x="878.4" y="826.3" font-size="32.8" text-anchor="middle" fill="#3d3330">Time (ms)</text><rect x="1059.1" y="651" width="274.7" height="88.9" fill="#fff"/><path d="M1065.6 739.9V724.4H1074.4V739.9zM1074.4 739.9V725.2H1083.1V739.9zM1083.1 739.9V724.8H1091.8V739.9zM1091.8 739.9V724.4H1100.5V739.9zM1100.5 739.9V725.2H1109.2V739.9zM1109.2 739.9V725.6H1118.0V739.9zM1118.0 739.9V724.8H1126.7V739.9zM1126.7 739.9V727.6H1135.4V739.9zM1135.4 739.9V726.0H1144.1V739.9zM1144.1 739.9V726.4H1152.8V739.9zM1152.8 739.9V727.2H1161.6V739.9zM1161.6 739.9V726.0H1170.3V739.9zM1170.3 739.9V725.2H1179.0V739.9zM1179.0 739.9V725.2H1187.7V739.9zM1187.7 739.9V722.0H1196.4V739.9zM1196.4 739.9V713.3H1205.2V739.9zM1205.2 739.9V725.6H1213.9V739.9zM1213.9 739.9V726.0H1222.6V739.9zM1222.6 739.9V726.0H1231.3V739.9zM1231.3 739.9V727.2H1240.1V739.9zM1240.1 739.9V726.8H1248.8V739.9zM1248.8 739.9V726.4H1257.5V739.9zM1257.5 739.9V728.8H1266.2V739.9zM1266.2 739.9V724.4H1274.9V739.9zM1274.9 739.9V725.2H1283.7V739.9zM1283.7 739.9V724.4H1292.4V739.9zM1292.4 739.9V723.6H1301.1V739.9zM1301.1 739.9V724.8H1309.8V739.9zM1309.8 739.9V724.4H1318.5V739.9zM1318.5 739.9V724.4H1327.3V739.9z" fill="#4352a6" stroke="#1a1a1a" stroke-width="1.1"/><rect x="1059.1" y="651" width="274.7" height="88.9" fill="none" stroke="#333" stroke-width="1.5"/><text x="1107.2" y="782" font-size="29.3" text-anchor="middle" fill="#3d3330" letter-spacing="-0.6">-10</text><text x="1196.7" y="782" font-size="29.3" text-anchor="middle" fill="#3d3330">0</text><text x="1284" y="782" font-size="29.3" text-anchor="middle" fill="#3d3330">10</text><path d="M1109.2 651v3M1109.2 739.9v-3M1196.4 651v3M1196.4 739.9v-3M1283.7 651v3M1283.7 739.9v-3M1059.1 695.4h3M1333.8 695.4h-3" stroke="#222" stroke-width="1.3"/><text x="1084.6" y="683.5" font-size="27.5" fill="#231815" style="stroke:none">I</text><text x="37.6" y="661.5" font-size="29.3" fill="#3d3330" letter-spacing="-1.25">0.4</text><text x="37.6" y="706" font-size="29.3" fill="#3d3330" letter-spacing="-1.25">0.2</text><text x="78.3" y="750.4" font-size="29.3" text-anchor="end" fill="#3d3330">0</text></g><g transform="translate(0 823)"><text x="82.2" y="76.7" font-size="38.7" fill="#231815" style="stroke:none">Reg</text><text x="555.2" y="74.9" font-size="32.3" fill="#231815" style="stroke:none">Fr: E=34.73 I=74.91</text><rect x="91" y="90.6" width="1243" height="205.4" fill="#fff"/><g stroke-width="3.1" stroke-linecap="round" fill="none"><path d="M171.5 293.98H1400" stroke="#e8261e" stroke-dasharray="0 68 0 39.5 0 87 0 27.5 0 27 0 72.5 0 101.5 0 35.5 0 42 0 39.5 0 26.5 0 2.5 0 6.5 0 62.5 0 21 0 16 0 16 0 33 0 26 0 44.5 0 20 0 45 0 36.5 0 41.5 0 15.5 0 45.5 0 46.5 0 3000"/><path d="M153.5 291.96H1400" stroke="#e8261e" stroke-dasharray="0 19.5 0 10.5 0 60 0 0 0 28 0 3 0 91.5 0 3.5 0 27 0 25 0 44 0 100 0 45 0 21 0 44 0 26 0 35.5 0 2 0 29.5 0 42 0 29.5 0 26.5 0 3 0 28.5 0 13 0 48 0 21.5 0 10 0 28.5 0 13.5 0 2.5 0 19.5 0 21.5 0 46 0 73.5 0 20.5 0 25 0 38.5 0 3000"/><path d="M136 289.94H1400" stroke="#e8261e" stroke-dasharray="0 51 0 9.5 0 44 0 1 0 37.5 0 54.5 0 31 0 26 0 30.5 0 38.5 0 37 0 38.5 0 29 0 39 0 74 0 61.5 0 122.5 0 62 0 19.5 0 19.5 0 30.5 0 50.5 0 30.5 0 37.5 0 16.5 0 41 0 50.5 0 33 0 34 0 3000"/><path d="M115.5 287.92H1400" stroke="#e8261e" stroke-dasharray="0 32 0 33 0 50 0 10.5 0 0.5 0 31.5 0 36.5 0 29 0 23 0 4.5 0 27 0 81.5 0 60 0 30.5 0 31 0 30.5 0 31.5 0 16 0 37 0 23 0 6 0 26.5 0 37.5 0 56.5 0 1.5 0 32.5 0 60.5 0 33.5 0 2 0 20.5 0 27 0 3 0 54.5 0 29 0 24 0 15 0 56 0 28 0 61.5 0 11.5 0 5.5 0 3000"/><path d="M96 285.9H1400" stroke="#e8261e" stroke-dasharray="0 21 0 27 0 33 0 60.5 0 4.5 0 37.5 0 31 0 54.5 0 3.5 0 24 0 28 0 75 0 33 0 32 0 7 0 30.5 0 29 0 19 0 23 0 39 0 25.5 0 70.5 0 29 0 31.5 0 27.5 0 3.5 0 30 0 36.5 0 24.5 0 11 0 37 0 6.5 0 28.5 0 39.5 0 17 0 51 0 9 0 30.5 0 2.5 0 3000"/><path d="M94.5 283.88H1400" stroke="#e8261e" stroke-dasharray="0 25 0 27 0 97.5 0 27.5 0 1.5 0 34.5 0 26 0 3 0 34 0 29.5 0 20.5 0 29 0 26.5 0 24.5 0 97.5 0 24 0 47 0 36.5 0 30 0 1 0 31.5 0 43.5 0 22.5 0 29.5 0 50 0 15.5 0 24.5 0 5.5 0 37 0 35.5 0 6 0 17.5 0 69.5 0 46 0 20 0 26.5 0 29 0 46 0 26.5 0 3000"/><path d="M135.5 281.86H1400" stroke="#e8261e" stroke-dasharray="0 38 0 7 0 8 0 55.5 0 26 0 44 0 51 0 25.5 0 29.5 0 0.5 0 49 0 66.5 0 16 0 19.5 0 29 0 27.5 0 48 0 57.5 0 61.5 0 65.5 0 70 0 28.5 0 34.5 0 30 0 13.5 0 42 0 45 0 32 0 40 0 22 0 98.5 0 3000"/><path d="M98 279.84H1400" stroke="#e8261e" stroke-dasharray="0 22.5 0 29 0 28.5 0 23.5 0 41.5 0 2.5 0 29 0 5 0 5.5 0 26 0 1.5 0 19 0 37 0 30.5 0 22.5 0 81 0 36 0 24.5 0 40 0 8.5 0 17.5 0 46 0 29 0 35.5 0 11.5 0 16.5 0 71.5 0 19.5 0 36.5 0 15 0 51 0 31 0 46 0 35 0 33 0 18.5 0 34.5 0 28.5 0 25.5 0 4 0 104 0 3000"/><path d="M112.5 277.82H1400" stroke="#e8261e" stroke-dasharray="0 11 0 21 0 63 0 33 0 6.5 0 22.5 0 32 0 6 0 20.5 0 33.5 0 4 0 32.5 0 25 0 24 0 20 0 33.5 0 73 0 34 0 23 0 46 0 33 0 27 0 0.5 0 34.5 0 48.5 0 42.5 0 30.5 0 32 0 41.5 0 25.5 0 42.5 0 8.5 0 90 0 57.5 0 27.5 0 32 0 22.5 0 3000"/><path d="M125 275.8H1400" stroke="#e8261e" stroke-dasharray="0 24 0 94.5 0 1 0 25 0 67 0 33.5 0 21.5 0 50 0 23 0 105 0 31.5 0 69 0 34.5 0 32 0 2.5 0 71.5 0 4 0 54.5 0 25.5 0 27 0 19 0 21 0 32 0 40.5 0 91.5 0 86.5 0 4 0 37 0 28.5 0 37 0 3000"/><path d="M93.5 273.78H1400" stroke="#e8261e" stroke-dasharray="0 19 0 31 0 12.5 0 21.5 0 64.5 0 36 0 34 0 50.5 0 3 0 31.5 0 29.5 0 14 0 36 0 128.5 0 2 0 14.5 0 45 0 41.5 0 27.5 0 4 0 28.5 0 45 0 22 0 25 0 34 0 33 0 30.5 0 34 0 24 0 21.5 0 0.5 0 35 0 16 0 21.5 0 16.5 0 68 0 22.5 0 0 0 102 0 3000"/><path d="M151 271.76H1400" stroke="#e8261e" stroke-dasharray="0 22 0 68.5 0 29 0 39.5 0 53 0 11 0 25.5 0 27.5 0 37 0 30 0 75 0 29.5 0 7.5 0 19.5 0 107.5 0 1 0 31.5 0 49 0 41 0 41.5 0 36 0 34.5 0 33.5 0 12.5 0 27.5 0 38.5 0 32 0 18 0 26.5 0 59.5 0 3000"/><path d="M95.5 269.74H1400" stroke="#e8261e" stroke-dasharray="0 78 0 34 0 32 0 37 0 30 0 32 0 23.5 0 9.5 0 23.5 0 97.5 0 76 0 27 0 31.5 0 69 0 9 0 30 0 3.5 0 30.5 0 59.5 0 38 0 50.5 0 28.5 0 19.5 0 28.5 0 22 0 22 0 95.5 0 22 0 62.5 0 34.5 0 24 0 3000"/><path d="M125.5 267.72H1400" stroke="#e8261e" stroke-dasharray="0 53.5 0 38 0 24 0 33 0 35.5 0 57 0 23 0 12.5 0 43.5 0 22.5 0 40 0 94 0 19.5 0 79 0 36.5 0 31.5 0 48.5 0 48 0 1 0 44 0 29.5 0 16 0 41 0 39.5 0 89.5 0 32.5 0 34.5 0 23.5 0 65.5 0 37.5 0 3000"/><path d="M122.5 265.7H1400" stroke="#e8261e" stroke-dasharray="0 25.5 0 38 0 32 0 4.5 0 20.5 0 29 0 30 0 28.5 0 0 0 32 0 61.5 0 76 0 42 0 20.5 0 1.5 0 37 0 17 0 50.5 0 31.5 0 4.5 0 32 0 30.5 0 47 0 47 0 4 0 32 0 31 0 32.5 0 27.5 0 25.5 0 3.5 0 21.5 0 96.5 0 31.5 0 52 0 23 0 3000"/><path d="M101 263.68H1400" stroke="#e8261e" stroke-dasharray="0 18.5 0 22 0 35 0 53.5 0 11 0 30.5 0 40.5 0 47.5 0 4 0 31.5 0 9.5 0 59.5 0 38 0 64 0 34 0 72.5 0 59.5 0 30.5 0 8.5 0 60 0 29 0 10 0 27 0 32.5 0 28.5 0 29 0 49.5 0 76.5 0 1 0 17.5 0 29 0 55 0 33 0 33 0 3000"/><path d="M175.5 261.66H1400" stroke="#e8261e" stroke-dasharray="0 18.5 0 47.5 0 2 0 4.5 0 26.5 0 34 0 57 0 34.5 0 46 0 13 0 87.5 0 19.5 0 10.5 0 19 0 37.5 0 42.5 0 29.5 0 33.5 0 21.5 0 24.5 0 53.5 0 24.5 0 0.5 0 30.5 0 66.5 0 32.5 0 45 0 35.5 0 57.5 0 34.5 0 50.5 0 14 0 18 0 73 0 3000"/><path d="M119.5 259.64H1400" stroke="#e8261e" stroke-dasharray="0 28.5 0 25 0 38.5 0 30.5 0 32 0 58 0 32 0 38 0 17 0 55 0 15 0 78 0 32.5 0 104 0 33 0 28 0 29.5 0 24.5 0 49 0 28.5 0 23.5 0 2 0 44 0 27 0 9.5 0 29.5 0 72.5 0 31 0 31.5 0 51 0 38.5 0 3000"/><path d="M95.5 257.62H1400" stroke="#e8261e" stroke-dasharray="0 19.5 0 6.5 0 27 0 17.5 0 14 0 50 0 9 0 4 0 26 0 5 0 30.5 0 35 0 26 0 27 0 25 0 148 0 46 0 21 0 18.5 0 32 0 15 0 37.5 0 0 0 30 0 69.5 0 27 0 1.5 0 27 0 75.5 0 32.5 0 34 0 5.5 0 11.5 0 59 0 15.5 0 33 0 35 0 25 0 1.5 0 58 0 6.5 0 3000"/><path d="M97 255.6H1400" stroke="#e8261e" stroke-dasharray="0 24.5 0 26 0 35.5 0 59 0 30.5 0 26.5 0 7 0 17 0 14 0 33.5 0 20.5 0 33 0 8.5 0 62 0 39 0 34 0 35 0 27 0 79.5 0 24 0 1 0 1 0 25.5 0 10.5 0 44 0 11.5 0 39.5 0 18 0 87 0 26 0 37.5 0 6.5 0 38.5 0 25.5 0 25 0 29.5 0 56.5 0 3000"/><path d="M173 253.58H1400" stroke="#e8261e" stroke-dasharray="0 39.5 0 30.5 0 1.5 0 31.5 0 1 0 30.5 0 24 0 3 0 31.5 0 24.5 0 26 0 46 0 75 0 31 0 24 0 34.5 0 43 0 40.5 0 27 0 33.5 0 57 0 34.5 0 64.5 0 1.5 0 27 0 39 0 42.5 0 90.5 0 30.5 0 41 0 17 0 29 0 68 0 3000"/><path d="M122 251.56H1400" stroke="#e8261e" stroke-dasharray="0 53 0 28.5 0 41.5 0 0.5 0 13.5 0 9.5 0 6.5 0 29.5 0 54.5 0 4 0 0.5 0 51 0 50 0 35.5 0 38.5 0 30 0 34.5 0 24.5 0 47 0 35.5 0 28.5 0 26 0 15.5 0 32.5 0 16.5 0 39 0 26.5 0 23.5 0 40.5 0 31.5 0 44.5 0 5 0 91.5 0 87.5 0 31 0 41 0 10 0 3000"/><path d="M131.5 249.54H1400" stroke="#e8261e" stroke-dasharray="0 13 0 43.5 0 53 0 3.5 0 30.5 0 29 0 65 0 22.5 0 21 0 10.5 0 17 0 57 0 41.5 0 26.5 0 40 0 18.5 0 41.5 0 42.5 0 26.5 0 1 0 1 0 31.5 0 94.5 0 33 0 30.5 0 51.5 0 14 0 20 0 19.5 0 6.5 0 1 0 30.5 0 2.5 0 54 0 40.5 0 50 0 113 0 3000"/><path d="M94 247.52H1400" stroke="#e8261e" stroke-dasharray="0 23.5 0 61 0 24 0 39 0 3 0 26.5 0 2 0 35 0 20.5 0 36.5 0 5 0 22 0 75.5 0 33.5 0 63 0 35.5 0 4 0 22.5 0 43 0 32.5 0 38.5 0 23.5 0 12.5 0 23 0 15.5 0 55 0 62 0 25 0 36 0 42.5 0 0.5 0 0.5 0 33 0 61 0 30 0 57.5 0 3000"/><path d="M92.5 245.5H1400" stroke="#e8261e" stroke-dasharray="0 26.5 0 24.5 0 102 0 30.5 0 31.5 0 56.5 0 0.5 0 56 0 80.5 0 40.5 0 23 0 38 0 23.5 0 54 0 31.5 0 26.5 0 18 0 8 0 51 0 25.5 0 21 0 3.5 0 61 0 32.5 0 39.5 0 16.5 0 5.5 0 15 0 1.5 0 41 0 30.5 0 25.5 0 61 0 22.5 0 20.5 0 3000"/><path d="M121 243.48H1400" stroke="#e8261e" stroke-dasharray="0 22.5 0 34 0 20 0 44.5 0 30.5 0 33.5 0 51.5 0 7.5 0 51.5 0 28.5 0 26.5 0 1.5 0 19.5 0 11.5 0 33.5 0 43 0 27 0 14.5 0 45 0 38 0 39.5 0 21 0 43.5 0 43.5 0 9.5 0 36 0 26 0 38.5 0 21 0 4 0 52 0 71.5 0 54.5 0 23 0 25.5 0 2 0 33.5 0 39.5 0 29.5 0 3000"/><path d="M117.5 241.46H1400" stroke="#e8261e" stroke-dasharray="0 27 0 29 0 69.5 0 2 0 30 0 0.5 0 55.5 0 32 0 5 0 55 0 76 0 36 0 30 0 34.5 0 24.5 0 52.5 0 60.5 0 29.5 0 61 0 10.5 0 25.5 0 28.5 0 24 0 46 0 71 0 42.5 0 1.5 0 20 0 37 0 28.5 0 57 0 30 0 32 0 3000"/><path d="M95 239.44H1400" stroke="#e8261e" stroke-dasharray="0 49 0 56.5 0 42 0 0.5 0 2 0 30.5 0 31.5 0 6.5 0 26.5 0 24 0 35 0 19 0 50.5 0 24 0 71.5 0 35.5 0 80.5 0 34.5 0 20.5 0 5.5 0 23 0 44 0 34 0 17.5 0 2.5 0 55.5 0 12.5 0 34 0 30.5 0 42.5 0 5 0 30 0 54 0 42 0 27.5 0 16.5 0 34.5 0 37.5 0 3000"/><path d="M125 237.42H1400" stroke="#e8261e" stroke-dasharray="0 56 0 59.5 0 38 0 29.5 0 53 0 4.5 0 29.5 0 30.5 0 41.5 0 5.5 0 0.5 0 90 0 47.5 0 16.5 0 34.5 0 12.5 0 28 0 36.5 0 1 0 33 0 28.5 0 31.5 0 32 0 20 0 41 0 34 0 70.5 0 45 0 51.5 0 90.5 0 32.5 0 34.5 0 32.5 0 3000"/><path d="M121.5 235.4H1400" stroke="#e8261e" stroke-dasharray="0 30.5 0 26.5 0 62.5 0 1.5 0 33 0 1 0 37 0 32.5 0 18.5 0 0.5 0 30.5 0 36 0 28.5 0 7.5 0 69 0 1 0 32.5 0 31.5 0 24.5 0 47.5 0 19 0 13.5 0 8.5 0 25 0 24.5 0 50 0 13.5 0 32.5 0 5 0 32 0 32 0 29.5 0 49.5 0 30 0 2 0 40.5 0 46.5 0 35.5 0 53.5 0 77 0 34 0 3000"/><path d="M98.5 233.38H1400" stroke="#e8261e" stroke-dasharray="0 23.5 0 23.5 0 28 0 24 0 44 0 33 0 34 0 54.5 0 37.5 0 40 0 30.5 0 25.5 0 38 0 67 0 76 0 59.5 0 1.5 0 31 0 45.5 0 50 0 0.5 0 25.5 0 5 0 39 0 18.5 0 36.5 0 47.5 0 41 0 53 0 88.5 0 58.5 0 3000"/><path d="M144.5 231.36H1400" stroke="#e8261e" stroke-dasharray="0 65 0 31 0 2 0 30.5 0 11 0 79.5 0 61.5 0 53 0 29.5 0 29 0 24.5 0 41.5 0 29.5 0 36 0 39.5 0 24.5 0 5 0 25 0 2.5 0 10 0 39 0 47 0 36.5 0 59.5 0 33.5 0 45 0 4 0 71.5 0 17.5 0 81 0 31.5 0 8.5 0 67 0 3000"/><path d="M144 229.34H1400" stroke="#e8261e" stroke-dasharray="0 69.5 0 28.5 0 27.5 0 36.5 0 20.5 0 36 0 34 0 24 0 62 0 3.5 0 13.5 0 36.5 0 35.5 0 30.5 0 4 0 23 0 81.5 0 23.5 0 37 0 71.5 0 21 0 28 0 3.5 0 70.5 0 29.5 0 42.5 0 32 0 32.5 0 22.5 0 11.5 0 29.5 0 51.5 0 28.5 0 3000"/><path d="M92 227.32H1400" stroke="#e8261e" stroke-dasharray="0 18.5 0 9.5 0 28.5 0 4.5 0 51 0 24 0 20 0 26 0 28 0 30.5 0 31.5 0 53 0 57 0 24.5 0 71.5 0 26.5 0 23.5 0 48.5 0 38.5 0 32 0 9 0 23.5 0 90 0 3 0 19 0 40 0 72.5 0 38.5 0 11 0 37 0 22 0 19 0 69 0 20.5 0 107.5 0 3000"/><path d="M124 225.3H1400" stroke="#e8261e" stroke-dasharray="0 75 0 8 0 32.5 0 7 0 30.5 0 31.5 0 56.5 0 30 0 29.5 0 40.5 0 66.5 0 64.5 0 32 0 2.5 0 41.5 0 65 0 96 0 28 0 2 0 64 0 25 0 43.5 0 42.5 0 1 0 127 0 30.5 0 20.5 0 27.5 0 32.5 0 39 0 3000"/><path d="M97 223.28H1400" stroke="#e8261e" stroke-dasharray="0 21 0 28 0 32 0 40.5 0 27.5 0 8.5 0 24 0 5 0 19.5 0 21.5 0 15.5 0 27 0 107 0 67 0 26.5 0 39.5 0 22 0 79.5 0 28 0 78.5 0 50.5 0 27 0 70 0 54 0 26 0 83.5 0 71 0 18 0 84.5 0 3000"/><path d="M94 221.26H1400" stroke="#e8261e" stroke-dasharray="0 51 0 30 0 68 0 35 0 26.5 0 60.5 0 1.5 0 18.5 0 14 0 18 0 50.5 0 98.5 0 34.5 0 3 0 5 0 15.5 0 53 0 57.5 0 27 0 44.5 0 27.5 0 28.5 0 2.5 0 58.5 0 38.5 0 8.5 0 65.5 0 5 0 36.5 0 28.5 0 25 0 25 0 62 0 33 0 71 0 3000"/><path d="M120.5 219.24H1400" stroke="#e8261e" stroke-dasharray="0 27.5 0 51 0 44.5 0 30.5 0 37 0 17 0 34 0 60 0 21 0 33.5 0 16.5 0 49 0 25 0 31 0 77 0 34 0 27.5 0 3 0 32.5 0 36.5 0 56.5 0 1.5 0 23 0 41 0 31 0 72.5 0 44.5 0 32.5 0 15 0 57.5 0 35 0 28.5 0 45.5 0 3 0 3000"/><path d="M98.5 217.22H1400" stroke="#e8261e" stroke-dasharray="0 19 0 31.5 0 25.5 0 68 0 8 0 21 0 38 0 27 0 28 0 35 0 15.5 0 57 0 86 0 10 0 33.5 0 29 0 39 0 35.5 0 0.5 0 30.5 0 34 0 44 0 24.5 0 27.5 0 93 0 30.5 0 29 0 17.5 0 80 0 16 0 30 0 31 0 23 0 103 0 3000"/><path d="M116 215.2H1400" stroke="#e8261e" stroke-dasharray="0 26 0 33 0 30 0 39 0 0.5 0 25.5 0 1.5 0 33 0 59 0 31 0 17 0 11 0 77.5 0 39.5 0 59.5 0 28.5 0 46.5 0 29.5 0 31.5 0 30 0 43 0 50.5 0 6.5 0 34 0 69 0 25 0 19.5 0 24 0 2.5 0 36 0 30 0 22 0 38 0 21.5 0 0.5 0 30 0 31.5 0 29.5 0 39 0 3000"/><path d="M145.5 213.18H1400" stroke="#e8261e" stroke-dasharray="0 38.5 0 13 0 43.5 0 2 0 34.5 0 8.5 0 20.5 0 26.5 0 34 0 35.5 0 22.5 0 43 0 33 0 102.5 0 23.5 0 19.5 0 32.5 0 26.5 0 31.5 0 0.5 0 34 0 40.5 0 51 0 34.5 0 63.5 0 30.5 0 42.5 0 4 0 69 0 54 0 56 0 39 0 3000"/><path d="M93 211.16H1400" stroke="#e8261e" stroke-dasharray="0 32.5 0 117 0 28 0 7 0 7 0 50 0 30 0 30.5 0 27.5 0 13 0 62.5 0 67.5 0 32.5 0 81 0 24 0 31.5 0 31.5 0 68 0 30 0 24 0 37.5 0 34 0 0 0 30 0 23.5 0 17 0 7.5 0 38 0 50 0 37 0 50.5 0 1.5 0 36 0 25 0 10.5 0 3000"/><path d="M117 209.14H1400" stroke="#e8261e" stroke-dasharray="0 3.5 0 27 0 28 0 71 0 23 0 6 0 21 0 16.5 0 20 0 12 0 15 0 32 0 35.5 0 32 0 43 0 8.5 0 31 0 22.5 0 11 0 25 0 31 0 36.5 0 36.5 0 16 0 15 0 29 0 66.5 0 30 0 1.5 0 33.5 0 30.5 0 34 0 30.5 0 46 0 34.5 0 56.5 0 31 0 39.5 0 12 0 41 0 39 0 26 0 3000"/><path d="M127.5 207.12H1400" stroke="#e8261e" stroke-dasharray="0 20 0 9 0 50.5 0 35.5 0 2 0 27.5 0 34.5 0 56 0 7 0 32.5 0 15.5 0 28.5 0 51 0 70.5 0 32 0 22.5 0 50.5 0 36 0 28 0 5 0 22.5 0 49 0 22 0 26.5 0 2 0 29 0 37.5 0 27 0 26.5 0 55 0 35.5 0 46 0 40 0 35.5 0 24.5 0 24.5 0 74 0 3000"/><path d="M96 205.1H1400" stroke="#e8261e" stroke-dasharray="0 21.5 0 27.5 0 33.5 0 20.5 0 41.5 0 4.5 0 30 0 57 0 32.5 0 26.5 0 80.5 0 127.5 0 29.5 0 41 0 39.5 0 27.5 0 2.5 0 27 0 70 0 22.5 0 7.5 0 25 0 35 0 26 0 55 0 30 0 2 0 38.5 0 45.5 0 44 0 30 0 9.5 0 11 0 24 0 46.5 0 3000"/><path d="M94 203.08H1400" stroke="#e8261e" stroke-dasharray="0 50.5 0 4 0 82 0 13.5 0 29.5 0 28.5 0 9.5 0 23 0 30 0 3 0 101.5 0 23 0 44.5 0 27 0 39 0 102.5 0 30 0 103.5 0 26 0 29 0 15 0 15.5 0 40 0 28 0 15 0 28.5 0 69.5 0 25 0 64 0 21 0 30.5 0 26.5 0 3000"/><path d="M151.5 201.06H1400" stroke="#e8261e" stroke-dasharray="0 28 0 24 0 41 0 32.5 0 38 0 14 0 39 0 31 0 22 0 27 0 84.5 0 65.5 0 31.5 0 72 0 34.5 0 1.5 0 73 0 28 0 16.5 0 6.5 0 68.5 0 31 0 32.5 0 43 0 3 0 85.5 0 43.5 0 22 0 11.5 0 12 0 68.5 0 38 0 3000"/><path d="M123 199.04H1400" stroke="#e8261e" stroke-dasharray="0 23.5 0 96.5 0 29 0 36.5 0 28.5 0 17 0 13 0 34 0 66 0 27.5 0 43.5 0 67 0 100.5 0 28.5 0 3.5 0 26 0 22.5 0 24.5 0 48.5 0 1 0 0.5 0 33.5 0 65 0 31 0 45 0 43.5 0 51.5 0 36 0 20 0 31 0 3.5 0 3000"/><path d="M117.5 197.02H1400" stroke="#e8261e" stroke-dasharray="0 23 0 34.5 0 65 0 32 0 27 0 31.5 0 36.5 0 31 0 75 0 96 0 26.5 0 10 0 23 0 49.5 0 30.5 0 27.5 0 37 0 45.5 0 47.5 0 8.5 0 19.5 0 32.5 0 30 0 32 0 45.5 0 0.5 0 36.5 0 61 0 33.5 0 49 0 3 0 32 0 29.5 0 3000"/><path d="M92.5 195H1400" stroke="#e8261e" stroke-dasharray="0 29.5 0 58 0 60.5 0 2.5 0 2.5 0 30.5 0 1 0 61.5 0 29.5 0 25 0 25.5 0 25 0 26 0 0.5 0 27 0 34.5 0 32 0 30 0 33.5 0 66.5 0 42.5 0 30.5 0 73.5 0 20 0 3.5 0 30 0 35.5 0 58 0 0.5 0 51.5 0 29.5 0 21.5 0 5.5 0 35.5 0 31.5 0 55.5 0 26.5 0 78 0 3000"/><path d="M92 192.98H1400" stroke="#e8261e" stroke-dasharray="0 30 0 27.5 0 28.5 0 28.5 0 1.5 0 33.5 0 2.5 0 11 0 5.5 0 16.5 0 33 0 52 0 31.5 0 45 0 59 0 106.5 0 21 0 51 0 33.5 0 22.5 0 4.5 0 30 0 33.5 0 63.5 0 31.5 0 73.5 0 25.5 0 40.5 0 36.5 0 58.5 0 17.5 0 10.5 0 32 0 27 0 3000"/><path d="M127 190.96H1400" stroke="#e8261e" stroke-dasharray="0 47.5 0 11 0 27.5 0 34 0 25.5 0 34 0 22 0 33.5 0 1 0 11.5 0 21.5 0 15 0 11.5 0 26 0 53 0 61.5 0 16 0 19 0 27 0 48 0 36 0 27.5 0 33 0 39 0 30 0 21.5 0 4 0 23.5 0 73.5 0 35.5 0 39.5 0 33 0 32.5 0 23 0 7 0 83 0 4.5 0 3000"/><path d="M96 188.94H1400" stroke="#e8261e" stroke-dasharray="0 57 0 23 0 15 0 53.5 0 28 0 4 0 29 0 28.5 0 30.5 0 4 0 21 0 35 0 17.5 0 59 0 42.5 0 18 0 37.5 0 31.5 0 24.5 0 52 0 28.5 0 27.5 0 103.5 0 26.5 0 6 0 23 0 44.5 0 20.5 0 27 0 17.5 0 5 0 1 0 37.5 0 0.5 0 27.5 0 20.5 0 43 0 54.5 0 25.5 0 3000"/><path d="M98 186.92H1400" stroke="#e8261e" stroke-dasharray="0 22 0 30.5 0 61.5 0 32.5 0 26.5 0 35.5 0 7.5 0 51 0 16.5 0 13 0 18.5 0 54 0 38 0 39 0 22 0 15.5 0 17.5 0 18 0 8 0 53 0 25 0 37.5 0 31 0 42 0 13.5 0 34 0 37.5 0 28.5 0 30.5 0 36 0 51.5 0 30.5 0 54 0 19 0 26.5 0 44 0 66 0 3000"/><path d="M118 184.9H1400" stroke="#e8261e" stroke-dasharray="0 25 0 41 0 54 0 8 0 31.5 0 53 0 32 0 25.5 0 29.5 0 51.5 0 32 0 43 0 23.5 0 38.5 0 18 0 49 0 33 0 27.5 0 0.5 0 38.5 0 67 0 25.5 0 26.5 0 34.5 0 26.5 0 37 0 51.5 0 35.5 0 56.5 0 35 0 46 0 37 0 3000"/><path d="M181.5 182.88H1400" stroke="#e8261e" stroke-dasharray="0 25 0 33.5 0 36.5 0 30.5 0 24.5 0 34.5 0 52 0 21 0 4.5 0 26.5 0 26.5 0 7.5 0 34 0 59.5 0 35.5 0 43.5 0 39 0 20 0 27 0 7.5 0 38 0 26 0 27 0 2.5 0 25.5 0 35 0 37 0 32 0 42 0 38 0 33.5 0 23 0 89 0 3000"/><path d="M122 180.86H1400" stroke="#e8261e" stroke-dasharray="0 119.5 0 0.5 0 32.5 0 34.5 0 20 0 7.5 0 28.5 0 48 0 86 0 38 0 30.5 0 27.5 0 30 0 59.5 0 19 0 34 0 1.5 0 29.5 0 38.5 0 22.5 0 32.5 0 32 0 71 0 75.5 0 83 0 34.5 0 58 0 27.5 0 34 0 3000"/><path d="M145.5 178.84H1400" stroke="#e8261e" stroke-dasharray="0 39 0 6.5 0 21 0 31 0 3 0 29.5 0 36 0 18.5 0 32 0 14 0 21.5 0 28 0 33 0 37 0 52.5 0 14 0 38.5 0 28 0 46.5 0 30 0 29.5 0 3 0 32 0 19.5 0 27 0 42 0 0.5 0 7.5 0 54.5 0 40.5 0 33 0 42 0 5.5 0 65 0 3 0 63 0 45.5 0 28 0 28 0 3000"/><path d="M94.5 176.82H1400" stroke="#e8261e" stroke-dasharray="0 41.5 0 41.5 0 67.5 0 27.5 0 25 0 18.5 0 20.5 0 15 0 12 0 61 0 19.5 0 20.5 0 37 0 38 0 29 0 32 0 24.5 0 111.5 0 5 0 63 0 23 0 33.5 0 1 0 62 0 38.5 0 27 0 46 0 45.5 0 48 0 60.5 0 25.5 0 116 0 3000"/><path d="M96 174.8H1400" stroke="#e8261e" stroke-dasharray="0 48 0 97.5 0 28.5 0 37 0 27.5 0 27.5 0 31.5 0 24 0 26 0 29.5 0 27.5 0 39 0 61.5 0 73.5 0 31 0 27.5 0 1.5 0 31.5 0 97 0 0.5 0 40 0 16.5 0 48.5 0 15.5 0 50 0 43 0 33 0 57.5 0 45.5 0 39.5 0 26 0 3000"/><path d="M121.5 172.78H1400" stroke="#e8261e" stroke-dasharray="0 23 0 9.5 0 90 0 0 0 29 0 61 0 27.5 0 37 0 22 0 25 0 23.5 0 27 0 42.5 0 30 0 37.5 0 28.5 0 38 0 29 0 36.5 0 68 0 30 0 24.5 0 1.5 0 9 0 27 0 63.5 0 76.5 0 40.5 0 44.5 0 5.5 0 33 0 56.5 0 25 0 35.5 0 35 0 3000"/><path d="M179 170.76H1400" stroke="#e8261e" stroke-dasharray="0 34 0 33.5 0 30 0 1 0 25.5 0 59.5 0 0 0 62.5 0 49 0 29.5 0 19 0 18 0 26.5 0 39 0 17.5 0 57.5 0 25.5 0 29 0 28 0 49.5 0 50.5 0 38.5 0 54.5 0 77.5 0 5.5 0 29 0 61.5 0 17.5 0 67.5 0 36 0 3000"/><path d="M100.5 168.74H1400" stroke="#e8261e" stroke-dasharray="0 15.5 0 60.5 0 22.5 0 38.5 0 5 0 25 0 37.5 0 58 0 59.5 0 112.5 0 28 0 37.5 0 18.5 0 53 0 14 0 19 0 4 0 26.5 0 40 0 28 0 32.5 0 25 0 18.5 0 22.5 0 19.5 0 39.5 0 72 0 52.5 0 24.5 0 18 0 85.5 0 5.5 0 25.5 0 74.5 0 3000"/><path d="M112 166.72H1400" stroke="#e8261e" stroke-dasharray="0 4.5 0 59 0 21 0 48.5 0 27 0 36 0 29 0 27 0 33.5 0 20.5 0 79.5 0 44.5 0 21.5 0 36 0 28 0 81.5 0 32 0 8 0 21.5 0 46 0 16 0 30 0 2 0 33 0 35.5 0 28 0 28.5 0 4 0 39.5 0 1.5 0 73 0 25 0 30.5 0 27.5 0 25.5 0 35 0 24 0 43.5 0 3000"/><path d="M125.5 164.7H1400" stroke="#e8261e" stroke-dasharray="0 23.5 0 30.5 0 30 0 37 0 2 0 27 0 88.5 0 40.5 0 23 0 71.5 0 74 0 24.5 0 33.5 0 0.5 0 40 0 64.5 0 38 0 4 0 88 0 34.5 0 23 0 17 0 21.5 0 40.5 0 34 0 38.5 0 61 0 33.5 0 32.5 0 13 0 10 0 3000"/><path d="M92.5 162.68H1400" stroke="#e8261e" stroke-dasharray="0 84 0 63 0 5 0 27 0 44.5 0 50.5 0 14 0 16 0 75 0 91.5 0 39.5 0 26.5 0 39 0 5.5 0 25.5 0 34.5 0 4.5 0 31 0 51 0 12 0 33 0 65 0 29 0 30.5 0 20 0 10.5 0 14.5 0 0.5 0 3 0 84.5 0 44.5 0 48.5 0 63.5 0 38.5 0 3000"/><path d="M97 160.66H1400" stroke="#e8261e" stroke-dasharray="0 25 0 23.5 0 30.5 0 66 0 28 0 45.5 0 18 0 32 0 57.5 0 27.5 0 47.5 0 32 0 17 0 1 0 17.5 0 46.5 0 17.5 0 46 0 27 0 30.5 0 30.5 0 97.5 0 28.5 0 37 0 40.5 0 18.5 0 53.5 0 34.5 0 140 0 30 0 32 0 3000"/><path d="M221.5 158.64H1400" stroke="#e8261e" stroke-dasharray="0 27.5 0 21 0 46.5 0 20.5 0 24.5 0 33 0 71 0 32 0 36 0 32 0 42 0 21 0 4.5 0 75 0 26.5 0 8.5 0 19.5 0 12 0 32.5 0 29 0 1 0 26 0 35 0 28 0 34.5 0 27 0 46 0 7 0 34 0 43 0 46 0 50.5 0 32 0 65 0 3000"/><path d="M101 156.62H1400" stroke="#e8261e" stroke-dasharray="0 14 0 28 0 72.5 0 30.5 0 21 0 3.5 0 30.5 0 62 0 0 0 32.5 0 25 0 22.5 0 18.5 0 44.5 0 27 0 30.5 0 31.5 0 31 0 50.5 0 28.5 0 29 0 73.5 0 49.5 0 40 0 28.5 0 40.5 0 22.5 0 43 0 9 0 37 0 21.5 0 3 0 31.5 0 28.5 0 54 0 0 0 3000"/><path d="M121.5 154.6H1400" stroke="#e8261e" stroke-dasharray="0 61.5 0 57.5 0 34 0 2.5 0 0 0 29.5 0 21.5 0 35.5 0 27 0 24.5 0 53.5 0 64 0 5 0 27.5 0 3.5 0 23 0 33.5 0 49.5 0 31.5 0 30.5 0 31 0 41.5 0 15 0 17 0 20 0 1 0 36 0 29 0 39 0 31.5 0 36.5 0 2 0 91.5 0 37 0 50.5 0 3 0 22.5 0 47.5 0 26 0 3000"/><path d="M116 152.58H1400" stroke="#e8261e" stroke-dasharray="0 15.5 0 51 0 63 0 33 0 33.5 0 19.5 0 31.5 0 60.5 0 16.5 0 75 0 20.5 0 34 0 14.5 0 18 0 31 0 67.5 0 34.5 0 5 0 33.5 0 81.5 0 6.5 0 62.5 0 34 0 29.5 0 24 0 25.5 0 30 0 1.5 0 38 0 20.5 0 25 0 64.5 0 36.5 0 66.5 0 3000"/><path d="M116.5 150.56H1400" stroke="#e8261e" stroke-dasharray="0 28.5 0 33 0 59.5 0 34.5 0 37.5 0 57 0 0.5 0 29 0 72.5 0 38 0 60.5 0 2 0 31.5 0 28.5 0 35 0 44 0 24.5 0 4 0 28 0 48 0 45.5 0 31 0 7.5 0 23.5 0 14.5 0 31.5 0 20.5 0 51 0 66 0 22 0 39 0 50.5 0 107 0 3000"/><path d="M96 148.54H1400" stroke="#e8261e" stroke-dasharray="0 52 0 26 0 29 0 38 0 5 0 29.5 0 22.5 0 9 0 22.5 0 38 0 32 0 20 0 78.5 0 69 0 38 0 20.5 0 53.5 0 22.5 0 32 0 8 0 23.5 0 45.5 0 49.5 0 66 0 4 0 44 0 13.5 0 50 0 3.5 0 91.5 0 38.5 0 48 0 23 0 35.5 0 45.5 0 3000"/><path d="M118.5 146.52H1400" stroke="#e8261e" stroke-dasharray="0 26.5 0 34 0 29 0 33 0 32.5 0 31.5 0 28.5 0 32.5 0 1.5 0 25.5 0 28.5 0 20 0 57 0 38.5 0 60 0 2 0 28.5 0 32.5 0 11.5 0 37 0 24.5 0 7 0 28.5 0 45.5 0 50.5 0 1 0 27 0 13 0 56.5 0 74.5 0 3.5 0 84.5 0 38 0 44.5 0 9 0 37.5 0 3000"/><path d="M120.5 144.5H1400" stroke="#e8261e" stroke-dasharray="0 6 0 12 0 42.5 0 25.5 0 34.5 0 33 0 91 0 4 0 31 0 22.5 0 48.5 0 32 0 41 0 18 0 38.5 0 7 0 72 0 29.5 0 28 0 33 0 95.5 0 29 0 23 0 11.5 0 27 0 5.5 0 76.5 0 33 0 58.5 0 28 0 59.5 0 3000"/><path d="M116.5 142.48H1400" stroke="#2b3790" stroke-dasharray="0 1.5 0 2 0 20 0 39.5 0 30.5 0 27.5 0 7 0 25 0 9.5 0 0.5 0 27 0 25 0 21 0 10.5 0 5.5 0 0 0 1.5 0 26.5 0 2 0 23.5 0 18.5 0 34 0 0 0 24.5 0 8 0 31 0 26.5 0 4.5 0 33 0 3.5 0 23 0 9 0 31 0 21.5 0 8 0 5 0 2.5 0 30 0 2 0 1.5 0 12.5 0 10.5 0 8.5 0 33 0 4.5 0 31.5 0 21.5 0 1 0 3.5 0 31.5 0 1 0 25 0 5.5 0 26 0 2.5 0 24 0 10.5 0 7.5 0 12.5 0 25 0 1 0 1.5 0 34 0 34.5 0 11.5 0 12 0 25 0 35.5 0 8 0 15 0 1 0 32.5 0 6.5 0 31 0 25.5 0 15 0 0.5 0 3000"/><path d="M97 140.46H1400" stroke="#2b3790" stroke-dasharray="0 10 0 6.5 0 2.5 0 4.5 0 11.5 0 11 0 1.5 0 20.5 0 4.5 0 4.5 0 28.5 0 37 0 1 0 2 0 25 0 7 0 35 0 20.5 0 34.5 0 4 0 1 0 26 0 23 0 4 0 21 0 2.5 0 25 0 2 0 20 0 42.5 0 1.5 0 27 0 0.5 0 4.5 0 22.5 0 9 0 17 0 13.5 0 0 0 34 0 12.5 0 29 0 29.5 0 1 0 0.5 0 21 0 9.5 0 4 0 39 0 27.5 0 10 0 13 0 3 0 1.5 0 33.5 0 23.5 0 32 0 4 0 38.5 0 9 0 5 0 17 0 7.5 0 0 0 37.5 0 30.5 0 11.5 0 5.5 0 30 0 9 0 4.5 0 32.5 0 6.5 0 8.5 0 3.5 0 0.5 0 12.5 0 18.5 0 38 0 34.5 0 4.5 0 3000"/><path d="M125 138.44H1400" stroke="#2b3790" stroke-dasharray="0 20.5 0 2.5 0 7 0 25 0 0.5 0 18 0 43.5 0 3 0 1.5 0 21 0 7.5 0 2 0 28 0 3 0 23.5 0 4.5 0 7 0 8 0 10 0 3.5 0 2.5 0 26.5 0 1 0 28.5 0 2.5 0 10.5 0 33.5 0 1 0 13.5 0 15 0 1.5 0 39 0 26.5 0 29 0 3.5 0 0.5 0 1 0 27 0 3.5 0 42.5 0 5 0 24 0 6.5 0 27.5 0 0 0 2 0 26.5 0 47 0 24 0 3.5 0 20 0 2.5 0 31 0 29 0 1.5 0 35.5 0 5.5 0 22 0 3.5 0 19.5 0 20.5 0 8.5 0 4 0 34 0 55 0 30 0 16 0 39 0 1 0 27 0 6 0 9.5 0 25.5 0 31.5 0 3000"/><path d="M95 136.42H1400" stroke="#2b3790" stroke-dasharray="0 24 0 29 0 6 0 23 0 7 0 29 0 4 0 20.5 0 4 0 0.5 0 17 0 18 0 0 0 29.5 0 4.5 0 16.5 0 28.5 0 8.5 0 3.5 0 19 0 5.5 0 24 0 1.5 0 48 0 27.5 0 4.5 0 0 0 38.5 0 32.5 0 0.5 0 30 0 15.5 0 9.5 0 48.5 0 2 0 23 0 9.5 0 29.5 0 3 0 27 0 0.5 0 1.5 0 38.5 0 31 0 23 0 3.5 0 2 0 25 0 4.5 0 3.5 0 26 0 3 0 27 0 5 0 0 0 19 0 8 0 0.5 0 41.5 0 2.5 0 5 0 23.5 0 13.5 0 52.5 0 33.5 0 38 0 15.5 0 0 0 3.5 0 27.5 0 0.5 0 5.5 0 34 0 2 0 18 0 3000"/><path d="M94 134.4H1400" stroke="#2b3790" stroke-dasharray="0 25 0 11 0 3.5 0 9.5 0 4 0 31 0 23 0 38 0 6 0 2 0 27 0 3.5 0 0 0 31.5 0 27 0 28.5 0 3.5 0 29 0 21.5 0 7 0 42 0 2.5 0 31 0 8 0 36 0 22.5 0 27.5 0 12 0 15.5 0 30 0 21 0 2 0 32 0 24.5 0 2 0 3.5 0 23.5 0 2 0 12 0 31 0 16 0 17.5 0 23.5 0 1.5 0 5 0 26 0 29.5 0 6.5 0 35.5 0 6 0 14.5 0 4.5 0 38.5 0 0.5 0 5 0 0.5 0 2 0 36.5 0 41 0 11 0 39.5 0 3.5 0 24 0 22.5 0 3.5 0 29 0 32 0 3000"/><path d="M97 132.38H1400" stroke="#2b3790" stroke-dasharray="0 21.5 0 1 0 1 0 18.5 0 1.5 0 6.5 0 32 0 0 0 63 0 1.5 0 1.5 0 25.5 0 1.5 0 26.5 0 9 0 28.5 0 28.5 0 6 0 0 0 21.5 0 10 0 0.5 0 15.5 0 5.5 0 46 0 5.5 0 29 0 41.5 0 11.5 0 6 0 35 0 0.5 0 2 0 27 0 46.5 0 5 0 17.5 0 12 0 25.5 0 1.5 0 4.5 0 3.5 0 15.5 0 8.5 0 3.5 0 34.5 0 28 0 13 0 15.5 0 2.5 0 5.5 0 27.5 0 5.5 0 14 0 10 0 33.5 0 35.5 0 14 0 25 0 5 0 35.5 0 30 0 21 0 5.5 0 27.5 0 2 0 6.5 0 23 0 1 0 19.5 0 5 0 27 0 36.5 0 40 0 0 0 3000"/><path d="M92.5 130.36H1400" stroke="#2b3790" stroke-dasharray="0 0.5 0 22.5 0 20 0 23 0 15 0 36 0 8 0 20.5 0 2 0 4.5 0 27.5 0 1 0 1.5 0 1 0 35 0 25 0 24.5 0 6 0 1.5 0 26 0 4 0 25 0 36.5 0 12.5 0 17.5 0 47 0 1.5 0 28 0 30.5 0 1 0 35 0 1.5 0 37 0 32 0 6 0 26 0 3 0 27 0 8.5 0 14.5 0 22.5 0 24 0 4 0 30.5 0 1 0 22.5 0 31.5 0 2 0 5.5 0 35.5 0 0.5 0 29 0 6 0 18 0 17.5 0 1 0 0.5 0 6.5 0 24.5 0 62.5 0 35 0 30 0 11 0 4 0 0.5 0 1 0 3 0 31 0 23.5 0 6.5 0 36.5 0 3000"/><path d="M94 128.34H1400" stroke="#2b3790" stroke-dasharray="0 26 0 22 0 4.5 0 36 0 32 0 29.5 0 1 0 1 0 13.5 0 10.5 0 1.5 0 0.5 0 2 0 33.5 0 29 0 25 0 3.5 0 4.5 0 29.5 0 29.5 0 39 0 5.5 0 26.5 0 9.5 0 30.5 0 31 0 0.5 0 25 0 1 0 0.5 0 24.5 0 13.5 0 41.5 0 23.5 0 5.5 0 22.5 0 8 0 1 0 1.5 0 31.5 0 2 0 41.5 0 21 0 28.5 0 0.5 0 28 0 8 0 27 0 2 0 32.5 0 2.5 0 25 0 0.5 0 9.5 0 36 0 4 0 4.5 0 36.5 0 26.5 0 2.5 0 17.5 0 13.5 0 23.5 0 0 0 30.5 0 21 0 3 0 9.5 0 18 0 1 0 66.5 0 3000"/><path d="M102 126.32H1400" stroke="#2b3790" stroke-dasharray="0 21 0 3 0 17 0 4.5 0 28 0 12 0 17.5 0 23 0 11.5 0 3.5 0 1.5 0 30 0 7 0 4.5 0 12.5 0 0.5 0 30 0 1.5 0 32.5 0 1.5 0 26.5 0 16.5 0 16 0 2 0 27.5 0 12 0 24 0 61.5 0 20 0 1 0 18.5 0 3 0 5.5 0 22.5 0 2.5 0 53 0 0.5 0 6 0 15 0 14 0 0.5 0 21.5 0 1 0 4.5 0 21.5 0 60 0 12 0 25.5 0 14 0 20 0 38 0 30.5 0 1 0 28 0 7 0 33.5 0 2 0 44 0 37.5 0 15 0 5 0 23.5 0 6 0 25.5 0 29 0 0.5 0 29.5 0 64.5 0 3000"/><path d="M93 124.3H1400" stroke="#2b3790" stroke-dasharray="0 27.5 0 28.5 0 2.5 0 27 0 4.5 0 16.5 0 14.5 0 25.5 0 3 0 0.5 0 5.5 0 22 0 4 0 9.5 0 21 0 26.5 0 29.5 0 6 0 25.5 0 2.5 0 18.5 0 21 0 33 0 28.5 0 1 0 25.5 0 9 0 32.5 0 2 0 21.5 0 21.5 0 1.5 0 12 0 0 0 8.5 0 34.5 0 27 0 10.5 0 6 0 25 0 1 0 0 0 1 0 6 0 7.5 0 18.5 0 5 0 2.5 0 32.5 0 4 0 20 0 27.5 0 1.5 0 1.5 0 14.5 0 20 0 6 0 18 0 4 0 31 0 12 0 3 0 1 0 19 0 10 0 16 0 12 0 3 0 3 0 2 0 0.5 0 43.5 0 23 0 21.5 0 2.5 0 1 0 34.5 0 21.5 0 28.5 0 5 0 27.5 0 31.5 0 19 0 28 0 3000"/><path d="M99.5 122.28H1400" stroke="#2b3790" stroke-dasharray="0 23.5 0 26 0 3 0 19 0 67 0 1 0 8 0 0.5 0 28 0 1 0 30.5 0 3.5 0 8.5 0 10 0 32.5 0 2 0 4 0 29.5 0 28 0 27 0 20.5 0 22.5 0 14.5 0 28 0 26.5 0 33 0 10 0 2.5 0 15 0 0.5 0 43 0 15 0 15.5 0 3 0 7 0 5.5 0 22 0 1.5 0 4 0 21 0 4 0 6.5 0 32.5 0 12 0 22.5 0 18 0 8 0 24.5 0 6.5 0 22 0 20.5 0 3.5 0 9 0 12.5 0 0 0 0 0 1 0 24.5 0 28 0 13.5 0 0.5 0 8 0 36 0 16.5 0 12.5 0 21.5 0 2 0 31.5 0 3.5 0 35.5 0 16 0 0.5 0 1 0 26 0 6 0 33.5 0 38 0 3000"/><path d="M93.5 120.26H1400" stroke="#2b3790" stroke-dasharray="0 29 0 14 0 8 0 11 0 23 0 6 0 57.5 0 4.5 0 0.5 0 27 0 8.5 0 23.5 0 1.5 0 30 0 25 0 1.5 0 29 0 31.5 0 36.5 0 4.5 0 24 0 25.5 0 7 0 8 0 7 0 25.5 0 35 0 1.5 0 0 0 23 0 52.5 0 0.5 0 25 0 6 0 8.5 0 7 0 14.5 0 3.5 0 24.5 0 2 0 38.5 0 7.5 0 23.5 0 23 0 2.5 0 6 0 26.5 0 1 0 37 0 27.5 0 9.5 0 0.5 0 16 0 52 0 1 0 2 0 11.5 0 17.5 0 64 0 24.5 0 41 0 13.5 0 2 0 40.5 0 26 0 50.5 0 3000"/><path d="M95 118.24H1400" stroke="#2b3790" stroke-dasharray="0 26 0 5.5 0 21.5 0 26 0 21 0 42.5 0 7 0 7 0 24.5 0 1 0 26.5 0 30.5 0 9.5 0 19 0 1 0 2 0 23.5 0 2.5 0 32.5 0 9 0 41 0 14.5 0 58 0 19 0 2 0 6 0 23 0 14.5 0 14 0 52.5 0 1.5 0 20.5 0 3 0 0 0 30 0 0 0 5.5 0 2 0 29.5 0 39 0 34 0 18 0 1.5 0 1 0 35.5 0 24 0 34 0 11.5 0 28 0 1.5 0 37.5 0 6.5 0 0.5 0 22.5 0 4 0 45 0 13 0 35.5 0 2.5 0 32 0 18.5 0 1 0 30.5 0 3.5 0 16.5 0 45 0 3000"/><path d="M98.5 116.22H1400" stroke="#2b3790" stroke-dasharray="0 22.5 0 28 0 2 0 18.5 0 10.5 0 22.5 0 38.5 0 2 0 0.5 0 32 0 2.5 0 1.5 0 19 0 13 0 14 0 8 0 31.5 0 7.5 0 23 0 26.5 0 46.5 0 28 0 3 0 39.5 0 29 0 0.5 0 4 0 29.5 0 1.5 0 21 0 5.5 0 46 0 0 0 25.5 0 12 0 22.5 0 4.5 0 1.5 0 24 0 2 0 2.5 0 37 0 31.5 0 21.5 0 0.5 0 1.5 0 0.5 0 42.5 0 6.5 0 13.5 0 2.5 0 6 0 3 0 20.5 0 4.5 0 0 0 32 0 36 0 3 0 7.5 0 32 0 10 0 0.5 0 24 0 18.5 0 5 0 22 0 10.5 0 26.5 0 26.5 0 1 0 35.5 0 21 0 3000"/><path d="M99.5 114.2H1400" stroke="#2b3790" stroke-dasharray="0 8.5 0 14.5 0 3.5 0 13.5 0 8.5 0 24 0 1 0 22.5 0 0.5 0 12.5 0 5 0 32.5 0 0 0 2.5 0 22.5 0 5 0 26 0 26 0 26 0 0 0 8.5 0 1.5 0 0.5 0 34 0 4 0 10.5 0 5.5 0 43.5 0 5.5 0 31 0 13 0 16.5 0 8 0 27.5 0 7.5 0 31 0 1.5 0 6.5 0 12.5 0 6.5 0 37 0 39 0 3 0 27 0 2.5 0 1 0 25.5 0 5.5 0 24.5 0 16.5 0 2.5 0 4.5 0 11.5 0 16.5 0 13 0 3 0 2 0 5.5 0 5 0 2.5 0 19 0 12.5 0 24 0 23 0 12.5 0 29.5 0 3 0 36 0 0.5 0 2 0 42 0 27 0 6.5 0 13 0 2.5 0 42 0 4 0 40 0 2.5 0 32.5 0 37 0 39.5 0 3000"/><path d="M95.5 112.18H1400" stroke="#2b3790" stroke-dasharray="0 26 0 31.5 0 4.5 0 7.5 0 8.5 0 5 0 22 0 40.5 0 2.5 0 2.5 0 26 0 8 0 21 0 35 0 26 0 2.5 0 35.5 0 18 0 45 0 2 0 42 0 26 0 1.5 0 4.5 0 4.5 0 18 0 3.5 0 35 0 1 0 3.5 0 27 0 39 0 5 0 29.5 0 31 0 4.5 0 2 0 19 0 4 0 41 0 7 0 16 0 29.5 0 2.5 0 6.5 0 28 0 6 0 26.5 0 33 0 2.5 0 34 0 2 0 12.5 0 23 0 4 0 2.5 0 35 0 7.5 0 28.5 0 15.5 0 2.5 0 40.5 0 6.5 0 8 0 5 0 7 0 15 0 4.5 0 4 0 26 0 6.5 0 25.5 0 37.5 0 3000"/><path d="M96 110.16H1400" stroke="#2b3790" stroke-dasharray="0 3.5 0 19 0 3.5 0 26 0 30 0 28 0 5.5 0 30.5 0 0.5 0 2.5 0 26.5 0 6.5 0 30 0 1 0 21.5 0 34.5 0 2.5 0 0.5 0 27 0 18.5 0 9.5 0 28 0 13.5 0 3 0 32 0 43 0 17.5 0 32 0 5 0 3 0 25 0 49.5 0 11.5 0 8.5 0 13.5 0 6.5 0 16 0 7 0 0 0 15 0 11 0 6 0 44.5 0 21 0 20 0 9.5 0 0 0 0.5 0 25 0 34.5 0 2.5 0 32 0 0.5 0 28.5 0 2.5 0 15.5 0 27.5 0 5.5 0 0.5 0 17 0 16 0 31.5 0 25.5 0 0.5 0 26.5 0 9 0 0 0 47.5 0 3.5 0 36.5 0 27.5 0 37 0 3000"/><path d="M95.5 108.14H1400" stroke="#2b3790" stroke-dasharray="0 21 0 4 0 22 0 1 0 24.5 0 4.5 0 1.5 0 2.5 0 24.5 0 42 0 0.5 0 1.5 0 29 0 0 0 42 0 8 0 40.5 0 2 0 0.5 0 23.5 0 5.5 0 15 0 11.5 0 42 0 0.5 0 40 0 29.5 0 28.5 0 40 0 3.5 0 15 0 3.5 0 5.5 0 49.5 0 25.5 0 3.5 0 24 0 2.5 0 27.5 0 6.5 0 40 0 27.5 0 26 0 1 0 29.5 0 29.5 0 2 0 11.5 0 14 0 10.5 0 31.5 0 1 0 6.5 0 0.5 0 36.5 0 2.5 0 0.5 0 6 0 33 0 1 0 20.5 0 20.5 0 6 0 6 0 22.5 0 6 0 32.5 0 20.5 0 2.5 0 24.5 0 17 0 25.5 0 7 0 29.5 0 3000"/><path d="M94.5 106.12H1400" stroke="#2b3790" stroke-dasharray="0 23.5 0 3 0 2 0 22.5 0 3 0 29.5 0 16 0 17.5 0 1.5 0 26.5 0 0 0 2.5 0 31.5 0 3 0 31 0 6 0 25.5 0 21 0 3 0 7.5 0 7.5 0 7 0 12 0 20.5 0 51 0 0 0 6.5 0 12.5 0 10 0 39 0 25.5 0 2 0 7 0 29 0 1 0 5.5 0 27 0 45.5 0 11 0 13 0 9 0 22 0 2 0 0 0 22.5 0 6.5 0 48 0 1.5 0 19.5 0 1.5 0 25.5 0 1 0 31 0 32.5 0 37.5 0 1.5 0 24.5 0 4 0 20.5 0 0.5 0 23 0 0.5 0 4.5 0 31 0 41.5 0 15.5 0 36.5 0 30 0 19.5 0 2 0 27 0 44 0 28.5 0 3000"/><path d="M93.5 104.1H1400" stroke="#2b3790" stroke-dasharray="0 29.5 0 16 0 30 0 9.5 0 25 0 26.5 0 11.5 0 2 0 2 0 24.5 0 2.5 0 4 0 21 0 30.5 0 8.5 0 29.5 0 0.5 0 2.5 0 17 0 11 0 4 0 20.5 0 5.5 0 25.5 0 17.5 0 8.5 0 17 0 28.5 0 16.5 0 2 0 24.5 0 36 0 2.5 0 20.5 0 2 0 2 0 1 0 37.5 0 8 0 1.5 0 32 0 3 0 19.5 0 2 0 2 0 28.5 0 41 0 24 0 8 0 26.5 0 1 0 1 0 24 0 28 0 4 0 45.5 0 13.5 0 11 0 27 0 14.5 0 0.5 0 7 0 28.5 0 43 0 14.5 0 2.5 0 3 0 0 0 18.5 0 8.5 0 36.5 0 0 0 16 0 9.5 0 31.5 0 31.5 0 24.5 0 7.5 0 3000"/><path d="M115 102.08H1400" stroke="#2b3790" stroke-dasharray="0 12 0 3.5 0 14.5 0 6 0 10.5 0 19 0 2.5 0 13 0 42.5 0 0.5 0 6.5 0 25 0 6.5 0 23.5 0 7.5 0 26.5 0 30 0 10 0 12 0 12.5 0 21.5 0 6 0 49 0 26 0 1 0 42 0 18.5 0 30 0 8 0 0.5 0 27 0 0 0 40.5 0 7.5 0 27 0 9 0 22.5 0 1 0 2.5 0 31 0 24.5 0 22.5 0 17 0 19 0 5.5 0 7.5 0 35.5 0 21.5 0 0 0 28 0 6 0 5.5 0 32 0 4 0 28 0 13.5 0 0.5 0 0.5 0 8 0 2 0 25 0 34.5 0 2.5 0 7.5 0 8.5 0 31.5 0 41.5 0 9 0 1 0 5.5 0 0 0 31.5 0 27.5 0 44.5 0 3000"/><path d="M91.5 100.06H1400" stroke="#2b3790" stroke-dasharray="0 2 0 25.5 0 16.5 0 6.5 0 34 0 6 0 10.5 0 46.5 0 4.5 0 2.5 0 25.5 0 7 0 23 0 8 0 22 0 4.5 0 28 0 0.5 0 2.5 0 32 0 19.5 0 15 0 0 0 22 0 15.5 0 31.5 0 1.5 0 32.5 0 18.5 0 12 0 1 0 19 0 17 0 4.5 0 22 0 2.5 0 43.5 0 1 0 1.5 0 21 0 25 0 2.5 0 9 0 1 0 0.5 0 19 0 11 0 39.5 0 8.5 0 23.5 0 23.5 0 2.5 0 32 0 29 0 31.5 0 9 0 15.5 0 8.5 0 37 0 9 0 4 0 35 0 49 0 40.5 0 26 0 3.5 0 20 0 0.5 0 1 0 23 0 41 0 34 0 2.5 0 3000"/><path d="M93 98.04H1400" stroke="#2b3790" stroke-dasharray="0 23 0 10 0 24 0 18 0 6 0 31 0 34.5 0 2.5 0 0.5 0 28 0 1 0 3 0 28 0 8 0 16 0 32 0 4 0 1 0 29.5 0 24.5 0 0.5 0 46 0 7.5 0 18.5 0 3.5 0 47 0 27 0 4.5 0 26 0 4 0 22.5 0 1.5 0 8 0 10.5 0 33.5 0 25.5 0 8.5 0 21 0 3.5 0 0.5 0 32 0 0.5 0 27.5 0 39 0 24 0 4 0 3 0 18 0 12.5 0 2 0 27.5 0 4.5 0 28.5 0 3 0 27.5 0 7.5 0 37.5 0 0 0 6.5 0 29.5 0 33 0 12.5 0 3 0 42 0 30.5 0 5.5 0 19.5 0 0 0 1 0 25 0 10.5 0 7.5 0 55 0 3000"/><path d="M124.5 96.02H1400" stroke="#2b3790" stroke-dasharray="0 0 0 23.5 0 32 0 26.5 0 35 0 1.5 0 2 0 27 0 9.5 0 7 0 14.5 0 30 0 29 0 1 0 2.5 0 1 0 24 0 5.5 0 15 0 5 0 8.5 0 40 0 1.5 0 27 0 4 0 34.5 0 8.5 0 35.5 0 28 0 0.5 0 4.5 0 20.5 0 40 0 3 0 28.5 0 8 0 4.5 0 2 0 20.5 0 0.5 0 3.5 0 35.5 0 0 0 5.5 0 45.5 0 4.5 0 28.5 0 3 0 2 0 41.5 0 17.5 0 2 0 1 0 36.5 0 4 0 19.5 0 5.5 0 44.5 0 2 0 31 0 31.5 0 23.5 0 11 0 30.5 0 26 0 8.5 0 13.5 0 5 0 0 0 29 0 30 0 12 0 28 0 10 0 3000"/><path d="M97 94H1400" stroke="#2b3790" stroke-dasharray="0 20.5 0 34.5 0 23 0 3 0 34.5 0 6 0 22 0 1.5 0 3.5 0 23 0 6 0 2.5 0 3.5 0 26 0 6.5 0 15.5 0 7.5 0 28 0 2.5 0 3.5 0 23.5 0 22.5 0 2 0 3 0 44.5 0 2.5 0 27.5 0 4 0 43 0 8.5 0 19.5 0 25.5 0 1.5 0 34 0 40 0 11 0 1 0 17.5 0 4.5 0 21.5 0 6 0 2.5 0 3.5 0 2 0 22.5 0 1 0 4.5 0 30.5 0 13.5 0 22.5 0 25.5 0 1 0 33.5 0 24 0 5 0 32.5 0 3 0 22.5 0 5.5 0 25 0 21.5 0 1.5 0 1 0 0.5 0 43.5 0 30 0 18 0 37 0 4 0 16 0 23 0 4.5 0 5.5 0 29.5 0 39 0 3000"/></g><rect x="91" y="90.6" width="1243" height="205.4" fill="none" stroke="#231815" stroke-width="1.7"/><path d="M91 245.50h12.5" stroke="#3a3636" stroke-width="1.3"/><text x="78.4" y="256.1" font-size="29.8" text-anchor="end" fill="#3d3330">25</text><path d="M91 195.00h12.5" stroke="#3a3636" stroke-width="1.3"/><text x="78.4" y="205.6" font-size="29.8" text-anchor="end" fill="#3d3330">50</text><path d="M91 144.50h12.5" stroke="#3a3636" stroke-width="1.3"/><text x="78.4" y="155.1" font-size="29.8" text-anchor="end" fill="#3d3330">75</text><text x="0" y="0" font-size="32" fill="#3d3330" transform="translate(29.1 235) rotate(-90)">Index</text><rect x="91" y="311.8" width="1243" height="194.7" fill="#371e35"/><rect x="91" y="311.80" width="1243" height="4.57" fill="url(#g1_0)"/><rect x="91" y="315.17" width="1243" height="3.93" fill="url(#g1_1)"/><rect x="91" y="317.90" width="1243" height="3.93" fill="url(#g1_2)"/><rect x="91" y="320.63" width="1243" height="3.93" fill="url(#g1_3)"/><rect x="91" y="323.36" width="1243" height="3.93" fill="url(#g1_4)"/><rect x="91" y="326.09" width="1243" height="3.93" fill="url(#g1_5)"/><rect x="91" y="328.82" width="1243" height="3.93" fill="url(#g1_6)"/><rect x="91" y="331.55" width="1243" height="3.93" fill="url(#g1_7)"/><rect x="91" y="334.28" width="1243" height="3.93" fill="url(#g1_8)"/><rect x="91" y="337.01" width="1243" height="3.93" fill="url(#g1_9)"/><rect x="91" y="339.74" width="1243" height="3.93" fill="url(#g1_10)"/><rect x="91" y="342.47" width="1243" height="3.93" fill="url(#g1_11)"/><rect x="91" y="345.20" width="1243" height="3.93" fill="url(#g1_12)"/><rect x="91" y="347.93" width="1243" height="3.93" fill="url(#g1_13)"/><rect x="91" y="350.66" width="1243" height="3.93" fill="url(#g1_14)"/><rect x="91" y="353.39" width="1243" height="3.93" fill="url(#g1_15)"/><rect x="91" y="356.12" width="1243" height="3.93" fill="url(#g1_16)"/><rect x="91" y="358.85" width="1243" height="3.93" fill="url(#g1_17)"/><rect x="91" y="361.59" width="1243" height="3.93" fill="url(#g1_18)"/><rect x="91" y="364.32" width="1243" height="3.93" fill="url(#g1_19)"/><rect x="91" y="367.05" width="1243" height="3.93" fill="url(#g1_20)"/><rect x="91" y="369.78" width="1243" height="3.93" fill="url(#g1_21)"/><rect x="91" y="372.51" width="1243" height="3.93" fill="url(#g1_22)"/><rect x="91" y="375.24" width="1243" height="3.93" fill="url(#g1_23)"/><rect x="91" y="377.97" width="1243" height="3.93" fill="url(#g1_24)"/><rect x="91" y="380.70" width="1243" height="3.93" fill="url(#g1_25)"/><rect x="91" y="383.43" width="1243" height="3.93" fill="url(#g1_26)"/><rect x="91" y="386.16" width="1243" height="3.93" fill="url(#g1_27)"/><rect x="91" y="388.89" width="1243" height="3.93" fill="url(#g1_28)"/><rect x="91" y="391.62" width="1243" height="3.93" fill="url(#g1_29)"/><rect x="91" y="394.35" width="1243" height="3.93" fill="url(#g1_30)"/><rect x="91" y="397.08" width="1243" height="3.93" fill="url(#g1_31)"/><rect x="91" y="399.81" width="1243" height="3.93" fill="url(#g1_32)"/><rect x="91" y="402.54" width="1243" height="3.93" fill="url(#g1_33)"/><rect x="91" y="405.28" width="1243" height="3.93" fill="url(#g1_34)"/><rect x="91" y="408.01" width="1243" height="3.93" fill="url(#g1_35)"/><rect x="91" y="410.74" width="1243" height="3.93" fill="url(#g1_36)"/><rect x="91" y="413.47" width="1243" height="3.93" fill="url(#g1_37)"/><rect x="91" y="416.20" width="1243" height="3.93" fill="url(#g1_38)"/><rect x="91" y="418.93" width="1243" height="3.93" fill="url(#g1_39)"/><rect x="91" y="421.66" width="1243" height="3.93" fill="url(#g1_40)"/><rect x="91" y="424.39" width="1243" height="3.93" fill="url(#g1_41)"/><rect x="91" y="427.12" width="1243" height="3.93" fill="url(#g1_42)"/><rect x="91" y="429.85" width="1243" height="3.93" fill="url(#g1_43)"/><rect x="91" y="432.58" width="1243" height="3.93" fill="url(#g1_44)"/><rect x="91" y="435.31" width="1243" height="3.93" fill="url(#g1_45)"/><rect x="91" y="438.04" width="1243" height="3.93" fill="url(#g1_46)"/><rect x="91" y="440.77" width="1243" height="3.93" fill="url(#g1_47)"/><rect x="91" y="443.50" width="1243" height="3.93" fill="url(#g1_48)"/><rect x="91" y="446.23" width="1243" height="3.93" fill="url(#g1_49)"/><rect x="91" y="448.96" width="1243" height="3.93" fill="url(#g1_50)"/><rect x="91" y="451.70" width="1243" height="3.93" fill="url(#g1_51)"/><rect x="91" y="454.43" width="1243" height="3.93" fill="url(#g1_52)"/><rect x="91" y="457.16" width="1243" height="3.93" fill="url(#g1_53)"/><rect x="91" y="459.89" width="1243" height="3.93" fill="url(#g1_54)"/><rect x="91" y="462.62" width="1243" height="3.93" fill="url(#g1_55)"/><rect x="91" y="465.35" width="1243" height="3.93" fill="url(#g1_56)"/><rect x="91" y="468.08" width="1243" height="3.93" fill="url(#g1_57)"/><rect x="91" y="470.81" width="1243" height="3.93" fill="url(#g1_58)"/><rect x="91" y="473.54" width="1243" height="3.93" fill="url(#g1_59)"/><rect x="91" y="476.27" width="1243" height="3.93" fill="url(#g1_60)"/><rect x="91" y="479.00" width="1243" height="3.93" fill="url(#g1_61)"/><rect x="91" y="481.73" width="1243" height="3.93" fill="url(#g1_62)"/><rect x="91" y="484.46" width="1243" height="3.93" fill="url(#g1_63)"/><rect x="91" y="487.19" width="1243" height="3.93" fill="url(#g1_64)"/><rect x="91" y="489.92" width="1243" height="3.93" fill="url(#g1_65)"/><rect x="91" y="492.65" width="1243" height="3.93" fill="url(#g1_66)"/><rect x="91" y="495.38" width="1243" height="3.93" fill="url(#g1_67)"/><rect x="91" y="498.12" width="1243" height="3.93" fill="url(#g1_68)"/><rect x="91" y="500.85" width="1243" height="3.93" fill="url(#g1_69)"/><rect x="91" y="503.58" width="1243" height="2.92" fill="url(#g1_70)"/><g clip-path="url(#sc)"><g style="mix-blend-mode:lighten" filter="url(#bl)"><ellipse cx="91" cy="377.3" rx="22" ry="2.7" fill="#503a7e"/><ellipse cx="1308" cy="330.7" rx="49" ry="2.3" fill="#4f397a"/><ellipse cx="975" cy="498.0" rx="30" ry="2.2" fill="#513d81"/><ellipse cx="439" cy="352.7" rx="45" ry="2.4" fill="#523f84"/><ellipse cx="816" cy="455.7" rx="23" ry="2.2" fill="#442c59"/><ellipse cx="222" cy="486.4" rx="20" ry="2.0" fill="#523f84"/><ellipse cx="1158" cy="318.3" rx="16" ry="2.5" fill="#564992"/><ellipse cx="629" cy="336.1" rx="22" ry="1.6" fill="#4d3673"/><ellipse cx="179" cy="365.4" rx="48" ry="2.9" fill="#584f99"/><ellipse cx="456" cy="364.1" rx="40" ry="1.7" fill="#3e2649"/><ellipse cx="663" cy="474.9" rx="20" ry="2.3" fill="#432b56"/><ellipse cx="1246" cy="313.0" rx="31" ry="1.9" fill="#59549d"/><ellipse cx="492" cy="370.4" rx="31" ry="1.9" fill="#4f397b"/><ellipse cx="267" cy="331.8" rx="26" ry="1.7" fill="#513b7f"/><ellipse cx="322" cy="369.2" rx="32" ry="1.5" fill="#4f3879"/><ellipse cx="1238" cy="343.1" rx="21" ry="2.2" fill="#40284e"/><ellipse cx="1120" cy="380.8" rx="17" ry="1.8" fill="#432b56"/><ellipse cx="1091" cy="484.6" rx="26" ry="2.7" fill="#483166"/><ellipse cx="845" cy="365.6" rx="32" ry="1.9" fill="#513d81"/><ellipse cx="557" cy="484.8" rx="21" ry="2.4" fill="#3e2547"/><ellipse cx="580" cy="449.1" rx="30" ry="1.8" fill="#59539c"/><ellipse cx="1093" cy="394.7" rx="18" ry="1.6" fill="#513c80"/><ellipse cx="1008" cy="437.9" rx="43" ry="1.6" fill="#513c7f"/><ellipse cx="867" cy="493.6" rx="20" ry="2.5" fill="#4a336c"/><ellipse cx="587" cy="354.5" rx="33" ry="1.9" fill="#584e98"/><ellipse cx="679" cy="455.0" rx="18" ry="1.8" fill="#59549d"/><ellipse cx="206" cy="372.2" rx="49" ry="1.8" fill="#473062"/><ellipse cx="903" cy="491.5" rx="22" ry="3.0" fill="#473062"/><ellipse cx="551" cy="346.6" rx="44" ry="2.1" fill="#4c3571"/><ellipse cx="1153" cy="351.1" rx="22" ry="2.4" fill="#452d5c"/><ellipse cx="143" cy="371.5" rx="45" ry="2.6" fill="#493267"/><ellipse cx="483" cy="333.4" rx="17" ry="2.9" fill="#513c7f"/><ellipse cx="899" cy="323.6" rx="44" ry="1.7" fill="#503a7d"/><ellipse cx="788" cy="471.3" rx="49" ry="2.1" fill="#513d81"/><ellipse cx="1197" cy="491.1" rx="15" ry="2.0" fill="#503a7d"/><ellipse cx="1053" cy="396.7" rx="20" ry="2.9" fill="#462f5f"/><ellipse cx="347" cy="316.7" rx="30" ry="1.8" fill="#513c80"/><ellipse cx="152" cy="348.1" rx="31" ry="2.2" fill="#574b94"/><ellipse cx="180" cy="479.9" rx="45" ry="2.3" fill="#534287"/><ellipse cx="297" cy="498.6" rx="24" ry="1.8" fill="#4f397b"/><ellipse cx="1333" cy="488.3" rx="16" ry="2.2" fill="#513d81"/><ellipse cx="1080" cy="480.7" rx="40" ry="2.2" fill="#3d2546"/><ellipse cx="715" cy="332.9" rx="34" ry="1.8" fill="#513c80"/><ellipse cx="1201" cy="403.9" rx="32" ry="2.1" fill="#513c80"/><ellipse cx="421" cy="356.2" rx="20" ry="2.8" fill="#452e5d"/><ellipse cx="996" cy="489.4" rx="28" ry="1.7" fill="#493269"/><ellipse cx="259" cy="379.0" rx="48" ry="2.2" fill="#4d3674"/><ellipse cx="319" cy="484.9" rx="46" ry="2.4" fill="#523e83"/><ellipse cx="690" cy="462.1" rx="21" ry="2.8" fill="#4f3979"/><ellipse cx="88" cy="472.3" rx="48" ry="2.0" fill="#513d81"/><ellipse cx="858" cy="345.9" rx="31" ry="2.7" fill="#584e98"/><ellipse cx="113" cy="383.6" rx="49" ry="2.9" fill="#473063"/><ellipse cx="197" cy="365.5" rx="49" ry="1.8" fill="#452d5b"/><ellipse cx="1162" cy="428.7" rx="20" ry="1.6" fill="#513d82"/><ellipse cx="1070" cy="347.8" rx="21" ry="1.8" fill="#4d3673"/><ellipse cx="206" cy="496.0" rx="29" ry="1.9" fill="#483166"/><ellipse cx="1059" cy="488.7" rx="45" ry="2.0" fill="#462f5f"/><ellipse cx="539" cy="499.6" rx="22" ry="1.6" fill="#4c3570"/><ellipse cx="687" cy="364.2" rx="17" ry="2.1" fill="#432b56"/><ellipse cx="921" cy="313.0" rx="32" ry="2.1" fill="#55478e"/><ellipse cx="306" cy="376.0" rx="27" ry="2.2" fill="#55488f"/><ellipse cx="889" cy="458.1" rx="26" ry="1.6" fill="#584f99"/><ellipse cx="1055" cy="462.8" rx="23" ry="1.8" fill="#483166"/><ellipse cx="176" cy="341.2" rx="34" ry="1.7" fill="#59529c"/><ellipse cx="97" cy="351.5" rx="27" ry="2.8" fill="#483166"/><ellipse cx="716" cy="407.2" rx="21" ry="1.9" fill="#432b57"/><ellipse cx="374" cy="478.3" rx="48" ry="1.9" fill="#4e3776"/><ellipse cx="1133" cy="492.3" rx="42" ry="2.6" fill="#3e2547"/><ellipse cx="203" cy="370.9" rx="29" ry="2.9" fill="#4f397a"/><ellipse cx="150" cy="463.7" rx="28" ry="2.8" fill="#3e2547"/><ellipse cx="154" cy="403.5" rx="22" ry="2.4" fill="#3e2648"/><ellipse cx="974" cy="399.0" rx="18" ry="2.4" fill="#59529c"/><ellipse cx="242" cy="498.1" rx="38" ry="1.9" fill="#4d3775"/><ellipse cx="1131" cy="391.1" rx="30" ry="2.8" fill="#523e83"/><ellipse cx="79" cy="478.6" rx="28" ry="1.9" fill="#523e82"/><ellipse cx="408" cy="363.9" rx="42" ry="2.1" fill="#473062"/><ellipse cx="1260" cy="318.1" rx="44" ry="2.3" fill="#442c58"/><ellipse cx="377" cy="380.3" rx="28" ry="1.9" fill="#473062"/><ellipse cx="479" cy="503.4" rx="49" ry="2.9" fill="#442c59"/><ellipse cx="321" cy="322.4" rx="19" ry="2.9" fill="#513d82"/><ellipse cx="787" cy="355.8" rx="21" ry="2.8" fill="#4d3775"/><ellipse cx="1011" cy="394.8" rx="25" ry="2.1" fill="#4d3775"/><ellipse cx="359" cy="334.1" rx="32" ry="2.5" fill="#513c7f"/><ellipse cx="585" cy="384.5" rx="31" ry="2.6" fill="#473063"/><ellipse cx="188" cy="345.0" rx="18" ry="1.6" fill="#4b356f"/><ellipse cx="271" cy="348.0" rx="43" ry="1.5" fill="#483167"/><ellipse cx="571" cy="371.7" rx="24" ry="1.8" fill="#412951"/><ellipse cx="604" cy="356.3" rx="39" ry="2.6" fill="#564a93"/><ellipse cx="1079" cy="506.2" rx="42" ry="2.2" fill="#55478e"/><ellipse cx="1141" cy="401.3" rx="18" ry="1.8" fill="#412952"/><ellipse cx="378" cy="352.7" rx="23" ry="1.7" fill="#3d2546"/><ellipse cx="1333" cy="400.8" rx="30" ry="2.5" fill="#3e2649"/><ellipse cx="609" cy="375.9" rx="41" ry="2.1" fill="#513d82"/><ellipse cx="700" cy="468.8" rx="36" ry="2.6" fill="#452e5d"/><ellipse cx="167" cy="371.4" rx="32" ry="1.9" fill="#59519b"/><ellipse cx="904" cy="489.3" rx="23" ry="1.5" fill="#40284f"/><ellipse cx="622" cy="347.2" rx="16" ry="2.0" fill="#3f274a"/><ellipse cx="1031" cy="494.0" rx="35" ry="1.8" fill="#4d3776"/><ellipse cx="628" cy="341.6" rx="24" ry="2.5" fill="#493267"/><ellipse cx="895" cy="365.3" rx="28" ry="1.6" fill="#513d82"/><ellipse cx="335" cy="493.8" rx="20" ry="2.1" fill="#4e3776"/><ellipse cx="706" cy="355.7" rx="49" ry="1.7" fill="#442c59"/><ellipse cx="285" cy="331.6" rx="27" ry="2.1" fill="#49336a"/><ellipse cx="334" cy="313.8" rx="22" ry="1.7" fill="#564a93"/><ellipse cx="944" cy="398.1" rx="24" ry="1.8" fill="#513d80"/><ellipse cx="412" cy="363.1" rx="26" ry="2.1" fill="#513d81"/><ellipse cx="568" cy="342.0" rx="22" ry="3.0" fill="#574c96"/><ellipse cx="781" cy="329.1" rx="37" ry="3.0" fill="#513c80"/><ellipse cx="427" cy="313.2" rx="21" ry="1.6" fill="#513d81"/><ellipse cx="889" cy="321.7" rx="23" ry="2.4" fill="#432b56"/><ellipse cx="547" cy="379.4" rx="27" ry="1.6" fill="#54448a"/><ellipse cx="681" cy="367.1" rx="24" ry="2.9" fill="#473062"/><ellipse cx="370" cy="369.4" rx="18" ry="1.8" fill="#513c80"/><ellipse cx="1302" cy="399.7" rx="38" ry="1.5" fill="#4c3570"/><ellipse cx="638" cy="372.9" rx="37" ry="2.9" fill="#473063"/><ellipse cx="101" cy="316.1" rx="33" ry="1.9" fill="#4c3571"/><ellipse cx="339" cy="324.9" rx="17" ry="2.2" fill="#483167"/><ellipse cx="679" cy="504.8" rx="33" ry="2.8" fill="#58509a"/><ellipse cx="429" cy="334.8" rx="24" ry="2.8" fill="#472f61"/><ellipse cx="1135" cy="402.6" rx="43" ry="2.6" fill="#472f62"/><ellipse cx="179" cy="454.8" rx="30" ry="2.0" fill="#442c59"/><ellipse cx="584" cy="361.7" rx="42" ry="1.7" fill="#452d5c"/><ellipse cx="849" cy="484.0" rx="45" ry="2.0" fill="#584f99"/><ellipse cx="1017" cy="433.1" rx="27" ry="2.5" fill="#432b57"/><ellipse cx="567" cy="343.2" rx="25" ry="2.3" fill="#442c59"/><ellipse cx="117" cy="369.8" rx="29" ry="2.8" fill="#59549e"/><ellipse cx="535" cy="314.8" rx="36" ry="3.0" fill="#462f60"/><ellipse cx="520" cy="345.0" rx="45" ry="3.0" fill="#584f99"/><ellipse cx="181" cy="352.1" rx="22" ry="2.8" fill="#493267"/><ellipse cx="119" cy="477.9" rx="15" ry="1.5" fill="#442c59"/><ellipse cx="1205" cy="475.4" rx="19" ry="2.3" fill="#3f274b"/><ellipse cx="687" cy="408.6" rx="28" ry="2.9" fill="#564a92"/><ellipse cx="528" cy="489.7" rx="36" ry="1.7" fill="#55468d"/><ellipse cx="1111" cy="462.4" rx="18" ry="2.9" fill="#4d3673"/><ellipse cx="130" cy="372.8" rx="31" ry="1.8" fill="#55468d"/><ellipse cx="652" cy="495.7" rx="24" ry="1.6" fill="#442c58"/><ellipse cx="457" cy="359.6" rx="27" ry="1.5" fill="#452d5c"/><ellipse cx="1078" cy="430.5" rx="18" ry="2.4" fill="#4c3672"/><ellipse cx="738" cy="464.5" rx="46" ry="1.5" fill="#523e82"/><ellipse cx="623" cy="453.2" rx="49" ry="1.6" fill="#513d82"/><ellipse cx="1340" cy="349.9" rx="20" ry="1.7" fill="#523e82"/><ellipse cx="531" cy="376.0" rx="28" ry="2.1" fill="#513b7f"/><ellipse cx="154" cy="340.9" rx="49" ry="1.8" fill="#513d82"/><ellipse cx="218" cy="379.9" rx="27" ry="3.0" fill="#452e5d"/><ellipse cx="375" cy="486.6" rx="25" ry="2.2" fill="#4c3570"/><ellipse cx="1291" cy="401.9" rx="28" ry="1.5" fill="#4e3878"/><ellipse cx="563" cy="323.5" rx="21" ry="2.4" fill="#3f274b"/><ellipse cx="538" cy="484.2" rx="48" ry="2.6" fill="#513b7f"/><ellipse cx="365" cy="380.6" rx="36" ry="2.2" fill="#513c80"/><ellipse cx="827" cy="463.0" rx="23" ry="2.6" fill="#452e5d"/><ellipse cx="779" cy="332.9" rx="16" ry="1.8" fill="#523f84"/><ellipse cx="316" cy="372.5" rx="45" ry="1.9" fill="#523e82"/><ellipse cx="651" cy="496.0" rx="42" ry="2.5" fill="#55478e"/><ellipse cx="942" cy="502.9" rx="23" ry="2.0" fill="#452e5e"/><ellipse cx="377" cy="322.7" rx="32" ry="1.7" fill="#54448a"/><ellipse cx="1312" cy="332.5" rx="46" ry="1.7" fill="#3f264a"/><ellipse cx="1204" cy="498.9" rx="43" ry="2.9" fill="#59529c"/><ellipse cx="1279" cy="493.4" rx="31" ry="2.8" fill="#523e82"/><ellipse cx="605" cy="368.3" rx="32" ry="2.6" fill="#3e2648"/><ellipse cx="1291" cy="322.4" rx="34" ry="2.0" fill="#544389"/><ellipse cx="619" cy="449.9" rx="46" ry="2.4" fill="#483166"/><ellipse cx="208" cy="471.9" rx="35" ry="2.6" fill="#584f99"/><ellipse cx="978" cy="469.1" rx="23" ry="2.5" fill="#584f99"/><ellipse cx="425" cy="332.8" rx="19" ry="2.8" fill="#503a7d"/><ellipse cx="1175" cy="491.6" rx="26" ry="2.9" fill="#3e2649"/><ellipse cx="358" cy="352.8" rx="47" ry="3.0" fill="#513b7f"/><ellipse cx="804" cy="498.4" rx="21" ry="1.8" fill="#513d81"/><ellipse cx="963" cy="505.9" rx="43" ry="2.1" fill="#534187"/><ellipse cx="104" cy="342.8" rx="40" ry="2.4" fill="#4d3775"/><ellipse cx="725" cy="463.3" rx="19" ry="2.3" fill="#58509a"/><ellipse cx="348" cy="344.2" rx="24" ry="2.8" fill="#462f60"/><ellipse cx="467" cy="448.0" rx="46" ry="2.2" fill="#534288"/><ellipse cx="619" cy="349.9" rx="24" ry="2.4" fill="#442c59"/><ellipse cx="567" cy="336.6" rx="41" ry="1.8" fill="#4c3672"/><ellipse cx="474" cy="491.2" rx="23" ry="1.6" fill="#452e5d"/><ellipse cx="913" cy="365.9" rx="32" ry="2.2" fill="#54458b"/><ellipse cx="419" cy="359.9" rx="31" ry="1.9" fill="#432b57"/><ellipse cx="482" cy="334.4" rx="39" ry="2.4" fill="#513e82"/><ellipse cx="300" cy="371.5" rx="44" ry="2.8" fill="#513b7f"/><ellipse cx="1343" cy="429.5" rx="32" ry="1.7" fill="#574c95"/><ellipse cx="618" cy="458.0" rx="38" ry="2.1" fill="#513d81"/><ellipse cx="1016" cy="363.4" rx="24" ry="2.3" fill="#574c95"/><ellipse cx="443" cy="442.3" rx="18" ry="2.6" fill="#59549e"/><ellipse cx="1048" cy="402.4" rx="19" ry="2.1" fill="#472f61"/><ellipse cx="555" cy="489.3" rx="26" ry="2.1" fill="#432b56"/><ellipse cx="1339" cy="335.3" rx="25" ry="2.8" fill="#4b356f"/><ellipse cx="644" cy="356.3" rx="42" ry="1.6" fill="#4b356f"/><ellipse cx="553" cy="353.1" rx="44" ry="2.9" fill="#574a93"/><ellipse cx="948" cy="492.8" rx="30" ry="2.1" fill="#4c3570"/><ellipse cx="518" cy="374.3" rx="16" ry="2.3" fill="#503a7d"/><ellipse cx="820" cy="500.4" rx="49" ry="1.8" fill="#59529c"/><ellipse cx="483" cy="365.2" rx="32" ry="1.6" fill="#513b7f"/><ellipse cx="431" cy="338.6" rx="43" ry="2.5" fill="#503b7e"/><ellipse cx="938" cy="314.6" rx="32" ry="1.8" fill="#4e3776"/><ellipse cx="155" cy="361.7" rx="44" ry="3.0" fill="#432b57"/><ellipse cx="1086" cy="391.4" rx="44" ry="1.9" fill="#523e82"/><ellipse cx="699" cy="356.2" rx="48" ry="1.7" fill="#574a93"/><ellipse cx="1151" cy="326.6" rx="32" ry="2.6" fill="#412951"/><ellipse cx="555" cy="487.7" rx="26" ry="1.8" fill="#4a336c"/><ellipse cx="144" cy="484.6" rx="17" ry="2.8" fill="#4f397a"/><ellipse cx="523" cy="398.2" rx="16" ry="1.8" fill="#513c7f"/><ellipse cx="689" cy="460.0" rx="21" ry="1.9" fill="#513d81"/><ellipse cx="336" cy="349.9" rx="22" ry="1.7" fill="#493268"/><ellipse cx="568" cy="388.0" rx="18" ry="2.2" fill="#3e2648"/><ellipse cx="1300" cy="399.6" rx="23" ry="1.8" fill="#534287"/><ellipse cx="1263" cy="457.5" rx="36" ry="2.0" fill="#503b7f"/><ellipse cx="374" cy="472.4" rx="39" ry="2.5" fill="#40284e"/><ellipse cx="1035" cy="315.4" rx="30" ry="2.9" fill="#3f274b"/><ellipse cx="774" cy="499.4" rx="36" ry="1.7" fill="#513d81"/><ellipse cx="225" cy="360.5" rx="16" ry="2.2" fill="#3e2546"/><ellipse cx="240" cy="381.4" rx="34" ry="2.5" fill="#412951"/><ellipse cx="698" cy="348.7" rx="42" ry="2.6" fill="#574b95"/><ellipse cx="1219" cy="481.8" rx="20" ry="2.5" fill="#472f61"/><ellipse cx="208" cy="354.0" rx="38" ry="2.8" fill="#4a336c"/><ellipse cx="983" cy="461.9" rx="46" ry="2.7" fill="#513c7f"/><ellipse cx="1089" cy="349.0" rx="18" ry="1.6" fill="#503a7c"/><ellipse cx="197" cy="473.0" rx="48" ry="1.9" fill="#4e3878"/><ellipse cx="343" cy="367.6" rx="17" ry="2.9" fill="#472f62"/><ellipse cx="424" cy="330.3" rx="41" ry="2.2" fill="#4f397b"/><ellipse cx="621" cy="500.8" rx="37" ry="2.4" fill="#584e98"/><ellipse cx="746" cy="325.2" rx="38" ry="2.0" fill="#55468d"/><ellipse cx="130" cy="370.9" rx="27" ry="1.5" fill="#4b346e"/><ellipse cx="318" cy="485.4" rx="39" ry="1.8" fill="#523e82"/><ellipse cx="707" cy="464.1" rx="41" ry="2.4" fill="#462e5e"/><ellipse cx="251" cy="369.6" rx="35" ry="2.4" fill="#432b56"/><ellipse cx="113" cy="339.4" rx="38" ry="2.6" fill="#513d81"/><ellipse cx="538" cy="373.8" rx="41" ry="1.7" fill="#59529b"/><ellipse cx="1133" cy="352.4" rx="43" ry="1.8" fill="#4a336c"/><ellipse cx="332" cy="318.4" rx="42" ry="2.6" fill="#452e5d"/><ellipse cx="873" cy="343.9" rx="17" ry="2.1" fill="#564991"/></g></g><rect x="91" y="311.8" width="1243" height="194.7" fill="none" stroke="#3c3c3c" stroke-width="1.4"/><text x="78.4" y="488.2" font-size="29.8" text-anchor="end" fill="#3d3330">20</text><text x="78.4" y="433.6" font-size="29.8" text-anchor="end" fill="#3d3330">40</text><text x="78.4" y="379" font-size="29.8" text-anchor="end" fill="#3d3330">60</text><text x="78.4" y="324.4" font-size="29.8" text-anchor="end" fill="#3d3330">80</text><text x="91.8" y="548.3" font-size="30" text-anchor="middle" fill="#3d3330">2000</text><text x="339.1" y="548.3" font-size="30" text-anchor="middle" fill="#3d3330">2200</text><text x="586.4" y="548.3" font-size="30" text-anchor="middle" fill="#3d3330">2400</text><text x="833.7" y="548.3" font-size="30" text-anchor="middle" fill="#3d3330">2600</text><text x="1081" y="548.3" font-size="30" text-anchor="middle" fill="#3d3330">2800</text><text x="1328.3" y="548.3" font-size="30" text-anchor="middle" fill="#3d3330">3000</text><path d="M91.7 477.64h12.4M1333.3 477.64h-12.4M91.7 423.02h12.4M1333.3 423.02h-12.4M91.7 368.41h12.4M1333.3 368.41h-12.4M91.7 313.80h12.4M1333.3 313.80h-12.4M91.00 505.8v-12.4M91.00 312.5v12.4M338.30 505.8v-12.4M338.30 312.5v12.4M585.60 505.8v-12.4M585.60 312.5v12.4M832.90 505.8v-12.4M832.90 312.5v12.4M1080.20 505.8v-12.4M1080.20 312.5v12.4M1327.50 505.8v-12.4M1327.50 312.5v12.4" stroke="#6a6a6a" stroke-width="1.3"/><text x="0" y="0" font-size="32" fill="#3d3330" transform="translate(29.5 471.4) rotate(-90)">Freq (Hz)</text><text x="717.3" y="591.9" font-size="32.8" text-anchor="middle" fill="#3d3330">Time (ms)</text><rect x="1365.2" y="311.8" width="50" height="194.7" fill="url(#cbar)" stroke="#3c3c3c" stroke-width="1.4"/><path d="M1414.5 506.90h-3.5" stroke="#3a3636" stroke-width="1.2"/><text x="1425.2" y="516.9" font-size="27" fill="#3d3330">0</text><path d="M1414.5 442.30h-3.5" stroke="#3a3636" stroke-width="1.2"/><text x="1425.2" y="452.3" font-size="27" fill="#3d3330">100</text><path d="M1414.5 377.70h-3.5" stroke="#3a3636" stroke-width="1.2"/><text x="1425.2" y="387.7" font-size="27" fill="#3d3330">200</text><path d="M1414.5 313.10h-3.5" stroke="#3a3636" stroke-width="1.2"/><text x="1425.2" y="323.1" font-size="27" fill="#3d3330">300</text><text transform="translate(1517.7 520.5) rotate(-90)" font-size="29.6" fill="#3d3330">(spikes/sec)<tspan font-size="24.4" dx="1.5" dy="-15">2</tspan><tspan dx="2.5" dy="15">/Hz</tspan></text><text x="234" y="632.2" font-size="32.1" fill="#231815" style="stroke:none">Conditioned on E at t=0</text><text x="878.2" y="632.2" font-size="32.4" fill="#231815" style="stroke:none">Conditioned on I at t=0</text><rect x="91" y="651" width="279" height="88.9" fill="#fff"/><path d="M97.6 739.9V734.7H106.5V739.9zM106.5 739.9V736.3H115.4V739.9zM115.4 739.9V737.1H124.2V739.9zM124.2 739.9V736.7H133.1V739.9zM133.1 739.9V736.7H141.9V739.9zM141.9 739.9V736.7H150.8V739.9zM150.8 739.9V735.5H159.6V739.9zM159.6 739.9V735.5H168.5V739.9zM168.5 739.9V734.7H177.4V739.9zM177.4 739.9V733.6H186.2V739.9zM186.2 739.9V732.4H195.1V739.9zM195.1 739.9V730.8H203.9V739.9zM203.9 739.9V728.4H212.8V739.9zM212.8 739.9V726.0H221.6V739.9zM221.6 739.9V724.8H230.5V739.9zM230.5 739.9V722.0H239.4V739.9zM239.4 739.9V725.6H248.2V739.9zM248.2 739.9V727.6H257.1V739.9zM257.1 739.9V730.0H265.9V739.9zM265.9 739.9V731.2H274.8V739.9zM274.8 739.9V732.4H283.6V739.9zM283.6 739.9V733.6H292.5V739.9zM292.5 739.9V734.7H301.4V739.9zM301.4 739.9V735.5H310.2V739.9zM310.2 739.9V736.3H319.1V739.9zM319.1 739.9V736.3H327.9V739.9zM327.9 739.9V736.7H336.8V739.9zM336.8 739.9V736.7H345.6V739.9zM345.6 739.9V736.3H354.5V739.9zM354.5 739.9V735.1H363.4V739.9z" fill="#4352a6" stroke="#1a1a1a" stroke-width="1.1"/><rect x="91" y="651" width="279" height="88.9" fill="none" stroke="#333" stroke-width="1.5"/><text x="139.9" y="782" font-size="29.3" text-anchor="middle" fill="#3d3330" letter-spacing="-0.6">-10</text><text x="230.8" y="782" font-size="29.3" text-anchor="middle" fill="#3d3330">0</text><text x="319.4" y="782" font-size="29.3" text-anchor="middle" fill="#3d3330">10</text><path d="M141.9 651v3M141.9 739.9v-3M230.5 651v3M230.5 739.9v-3M319.1 651v3M319.1 739.9v-3M91 695.4h3M370 695.4h-3" stroke="#222" stroke-width="1.3"/><text x="116.5" y="683.5" font-size="27.5" fill="#231815" style="stroke:none">E</text><text x="235.5" y="826.3" font-size="32.8" text-anchor="middle" fill="#3d3330">Time (ms)</text><rect x="414.1" y="651" width="274" height="88.9" fill="#fff"/><path d="M420.6 739.9V727.6H429.3V739.9zM429.3 739.9V729.2H438.0V739.9zM438.0 739.9V730.0H446.7V739.9zM446.7 739.9V730.4H455.4V739.9zM455.4 739.9V730.4H464.1V739.9zM464.1 739.9V728.8H472.8V739.9zM472.8 739.9V727.6H481.5V739.9zM481.5 739.9V726.8H490.2V739.9zM490.2 739.9V726.4H498.9V739.9zM498.9 739.9V724.0H507.6V739.9zM507.6 739.9V724.4H516.3V739.9zM516.3 739.9V723.2H525.0V739.9zM525.0 739.9V719.3H533.7V739.9zM533.7 739.9V714.1H542.4V739.9zM542.4 739.9V710.1H551.1V739.9zM551.1 739.9V705.4H559.8V739.9zM559.8 739.9V708.2H568.5V739.9zM568.5 739.9V713.3H577.2V739.9zM577.2 739.9V720.1H585.9V739.9zM585.9 739.9V722.8H594.6V739.9zM594.6 739.9V724.8H603.3V739.9zM603.3 739.9V727.2H612.0V739.9zM612.0 739.9V728.4H620.7V739.9zM620.7 739.9V729.2H629.4V739.9zM629.4 739.9V729.6H638.1V739.9zM638.1 739.9V729.6H646.8V739.9zM646.8 739.9V730.0H655.5V739.9zM655.5 739.9V730.0H664.2V739.9zM664.2 739.9V729.2H672.9V739.9zM672.9 739.9V728.0H681.6V739.9z" fill="#4352a6" stroke="#1a1a1a" stroke-width="1.1"/><rect x="414.1" y="651" width="274" height="88.9" fill="none" stroke="#333" stroke-width="1.5"/><text x="462.1" y="782" font-size="29.3" text-anchor="middle" fill="#3d3330" letter-spacing="-0.6">-10</text><text x="551.4" y="782" font-size="29.3" text-anchor="middle" fill="#3d3330">0</text><text x="638.4" y="782" font-size="29.3" text-anchor="middle" fill="#3d3330">10</text><path d="M464.1 651v3M464.1 739.9v-3M551.1 651v3M551.1 739.9v-3M638.1 651v3M638.1 739.9v-3M414.1 695.4h3M688.1 695.4h-3" stroke="#222" stroke-width="1.3"/><text x="439.6" y="683.5" font-size="27.5" fill="#231815" style="stroke:none">I</text><rect x="736.7" y="651" width="274.3" height="88.9" fill="#fff"/><path d="M743.2 739.9V734.3H751.9V739.9zM751.9 739.9V735.1H760.6V739.9zM760.6 739.9V735.9H769.4V739.9zM769.4 739.9V735.9H778.1V739.9zM778.1 739.9V735.9H786.8V739.9zM786.8 739.9V735.9H795.5V739.9zM795.5 739.9V735.9H804.2V739.9zM804.2 739.9V735.9H812.9V739.9zM812.9 739.9V735.1H821.6V739.9zM821.6 739.9V734.3H830.3V739.9zM830.3 739.9V733.2H839.0V739.9zM839.0 739.9V731.6H847.7V739.9zM847.7 739.9V728.8H856.4V739.9zM856.4 739.9V726.0H865.1V739.9zM865.1 739.9V724.0H873.9V739.9zM873.9 739.9V725.6H882.6V739.9zM882.6 739.9V727.6H891.3V739.9zM891.3 739.9V729.6H900.0V739.9zM900.0 739.9V731.6H908.7V739.9zM908.7 739.9V731.6H917.4V739.9zM917.4 739.9V731.6H926.1V739.9zM926.1 739.9V732.8H934.8V739.9zM934.8 739.9V733.6H943.5V739.9zM943.5 739.9V734.3H952.2V739.9zM952.2 739.9V735.5H960.9V739.9zM960.9 739.9V736.3H969.6V739.9zM969.6 739.9V736.3H978.3V739.9zM978.3 739.9V736.3H987.1V739.9zM987.1 739.9V735.9H995.8V739.9zM995.8 739.9V735.1H1004.5V739.9z" fill="#4352a6" stroke="#1a1a1a" stroke-width="1.1"/><rect x="736.7" y="651" width="274.3" height="88.9" fill="none" stroke="#333" stroke-width="1.5"/><text x="784.8" y="782" font-size="29.3" text-anchor="middle" fill="#3d3330" letter-spacing="-0.6">-10</text><text x="874.1" y="782" font-size="29.3" text-anchor="middle" fill="#3d3330">0</text><text x="961.2" y="782" font-size="29.3" text-anchor="middle" fill="#3d3330">10</text><path d="M786.8 651v3M786.8 739.9v-3M873.9 651v3M873.9 739.9v-3M960.9 651v3M960.9 739.9v-3M736.7 695.4h3M1011 695.4h-3" stroke="#222" stroke-width="1.3"/><text x="762.2" y="683.5" font-size="27.5" fill="#231815" style="stroke:none">E</text><text x="878.4" y="826.3" font-size="32.8" text-anchor="middle" fill="#3d3330">Time (ms)</text><rect x="1059.1" y="651" width="274.7" height="88.9" fill="#fff"/><path d="M1065.6 739.9V726.4H1074.4V739.9zM1074.4 739.9V728.4H1083.1V739.9zM1083.1 739.9V730.4H1091.8V739.9zM1091.8 739.9V729.2H1100.5V739.9zM1100.5 739.9V729.6H1109.2V739.9zM1109.2 739.9V728.0H1118.0V739.9zM1118.0 739.9V727.6H1126.7V739.9zM1126.7 739.9V727.2H1135.4V739.9zM1135.4 739.9V726.4H1144.1V739.9zM1144.1 739.9V727.6H1152.8V739.9zM1152.8 739.9V727.6H1161.6V739.9zM1161.6 739.9V725.6H1170.3V739.9zM1170.3 739.9V718.9H1179.0V739.9zM1179.0 739.9V714.1H1187.7V739.9zM1187.7 739.9V708.2H1196.4V739.9zM1196.4 739.9V699.4H1205.2V739.9zM1205.2 739.9V713.3H1213.9V739.9zM1213.9 739.9V717.3H1222.6V739.9zM1222.6 739.9V724.0H1231.3V739.9zM1231.3 739.9V726.0H1240.1V739.9zM1240.1 739.9V726.0H1248.8V739.9zM1248.8 739.9V724.4H1257.5V739.9zM1257.5 739.9V725.6H1266.2V739.9zM1266.2 739.9V726.8H1274.9V739.9zM1274.9 739.9V727.2H1283.7V739.9zM1283.7 739.9V729.2H1292.4V739.9zM1292.4 739.9V729.2H1301.1V739.9zM1301.1 739.9V730.4H1309.8V739.9zM1309.8 739.9V728.4H1318.5V739.9zM1318.5 739.9V727.6H1327.3V739.9z" fill="#4352a6" stroke="#1a1a1a" stroke-width="1.1"/><rect x="1059.1" y="651" width="274.7" height="88.9" fill="none" stroke="#333" stroke-width="1.5"/><text x="1107.2" y="782" font-size="29.3" text-anchor="middle" fill="#3d3330" letter-spacing="-0.6">-10</text><text x="1196.7" y="782" font-size="29.3" text-anchor="middle" fill="#3d3330">0</text><text x="1284" y="782" font-size="29.3" text-anchor="middle" fill="#3d3330">10</text><path d="M1109.2 651v3M1109.2 739.9v-3M1196.4 651v3M1196.4 739.9v-3M1283.7 651v3M1283.7 739.9v-3M1059.1 695.4h3M1333.8 695.4h-3" stroke="#222" stroke-width="1.3"/><text x="1084.6" y="683.5" font-size="27.5" fill="#231815" style="stroke:none">I</text><text x="37.6" y="661.5" font-size="29.3" fill="#3d3330" letter-spacing="-1.25">0.4</text><text x="37.6" y="706" font-size="29.3" fill="#3d3330" letter-spacing="-1.25">0.2</text><text x="78.3" y="750.4" font-size="29.3" text-anchor="end" fill="#3d3330">0</text></g><g transform="translate(0 1640.4)"><text x="82.2" y="76.7" font-size="38.7" fill="#231815" style="stroke:none">Syn</text><text x="555.2" y="74.9" font-size="32.3" fill="#231815" style="stroke:none">Fr: E=39.87 I=83.24</text><rect x="91" y="90.6" width="1243" height="205.4" fill="#fff"/><g stroke-width="3.1" stroke-linecap="round" fill="none"><path d="M109.5 293.98H1400" stroke="#e8261e" stroke-dasharray="0 14 0 24.5 0 23.5 0 21 0 25 0 27 0 34.5 0 64 0 34 0 70.5 0 1.5 0 1.5 0 92 0 105.5 0 33 0 8 0 31.5 0 23 0 18 0 12 0 29 0 3 0 40 0 29 0 2.5 0 25 0 5 0 38 0 84.5 0 23.5 0 2 0 25.5 0 39.5 0 1.5 0 31 0 30.5 0 35.5 0 4.5 0 36 0 63.5 0 3000"/><path d="M117 291.96H1400" stroke="#e8261e" stroke-dasharray="0 8 0 24 0 21.5 0 25.5 0 47 0 27 0 7.5 0 70.5 0 62.5 0 38 0 68 0 26 0 34 0 77 0 24.5 0 61.5 0 65 0 13 0 27.5 0 33 0 28 0 2 0 57 0 25.5 0 18.5 0 21.5 0 28 0 28.5 0 41 0 25.5 0 35.5 0 28.5 0 33 0 71 0 3000"/><path d="M118 289.94H1400" stroke="#e8261e" stroke-dasharray="0 29.5 0 46.5 0 46 0 34 0 75.5 0 26 0 72.5 0 1 0 31.5 0 8 0 22 0 33.5 0 28 0 76.5 0 29.5 0 6.5 0 33 0 26 0 19.5 0 37.5 0 3 0 37.5 0 32 0 2.5 0 33 0 43 0 103.5 0 2 0 30 0 37.5 0 23.5 0 69.5 0 1 0 32.5 0 3000"/><path d="M118.5 287.92H1400" stroke="#e8261e" stroke-dasharray="0 2 0 26 0 20 0 24.5 0 56.5 0 25.5 0 2.5 0 17.5 0 53.5 0 67.5 0 37.5 0 34 0 8.5 0 44.5 0 41.5 0 37.5 0 26 0 42 0 0.5 0 59.5 0 23.5 0 34.5 0 37 0 31 0 34.5 0 5 0 36.5 0 46.5 0 34.5 0 30.5 0 32.5 0 27.5 0 59 0 39.5 0 4.5 0 0.5 0 38.5 0 23 0 36.5 0 3000"/><path d="M115 285.9H1400" stroke="#e8261e" stroke-dasharray="0 6 0 55 0 70 0 31.5 0 62 0 106 0 93 0 80 0 26.5 0 37 0 0.5 0 56 0 13.5 0 21.5 0 31.5 0 1 0 34.5 0 4 0 34 0 29.5 0 27 0 85 0 39 0 1 0 28 0 29 0 5.5 0 34 0 58.5 0 6 0 35.5 0 65 0 3000"/><path d="M116.5 283.88H1400" stroke="#e8261e" stroke-dasharray="0 4.5 0 14.5 0 16 0 24 0 19.5 0 23.5 0 22.5 0 27.5 0 4 0 1.5 0 79.5 0 13 0 50.5 0 27.5 0 3.5 0 94 0 28 0 6 0 71 0 33.5 0 41 0 19.5 0 58 0 40.5 0 2.5 0 37 0 19 0 6.5 0 34 0 93.5 0 22.5 0 1 0 36.5 0 31 0 28 0 66.5 0 0.5 0 30 0 25.5 0 3000"/><path d="M122.5 281.86H1400" stroke="#e8261e" stroke-dasharray="0 51 0 21 0 49 0 26 0 2.5 0 72.5 0 70.5 0 30.5 0 5.5 0 86 0 34.5 0 41 0 43 0 23 0 2.5 0 40.5 0 27.5 0 31.5 0 23.5 0 38.5 0 36 0 3 0 24.5 0 2.5 0 39 0 40.5 0 65 0 35.5 0 33 0 34.5 0 22.5 0 37 0 43 0 67.5 0 3000"/><path d="M124 279.84H1400" stroke="#e8261e" stroke-dasharray="0 24 0 23.5 0 17.5 0 31.5 0 23 0 30.5 0 2 0 39.5 0 53.5 0 40 0 3.5 0 33 0 15 0 12.5 0 20.5 0 47.5 0 34 0 4 0 72.5 0 31 0 0 0 27.5 0 35.5 0 17 0 13 0 25 0 42 0 2.5 0 29 0 30.5 0 57.5 0 32.5 0 31.5 0 22.5 0 9 0 31.5 0 33 0 0.5 0 29.5 0 64 0 2.5 0 35 0 68.5 0 3000"/><path d="M117.5 277.82H1400" stroke="#e8261e" stroke-dasharray="0 1.5 0 31 0 45.5 0 21 0 24.5 0 29.5 0 46 0 25.5 0 34.5 0 27 0 40 0 7.5 0 87 0 36.5 0 77.5 0 27.5 0 9 0 58.5 0 31.5 0 23.5 0 4 0 35 0 0 0 36.5 0 31 0 3 0 53 0 28.5 0 29 0 37 0 25.5 0 34 0 67.5 0 33 0 2 0 34.5 0 30 0 42 0 3000"/><path d="M121.5 275.8H1400" stroke="#e8261e" stroke-dasharray="0 28 0 21.5 0 21 0 48 0 30 0 5.5 0 38 0 135.5 0 1 0 29 0 28 0 2.5 0 35 0 29.5 0 38.5 0 32.5 0 31.5 0 1.5 0 64 0 59 0 2 0 39 0 0 0 36 0 4 0 26.5 0 0.5 0 35 0 81 0 31 0 30.5 0 39.5 0 28.5 0 20.5 0 47 0 32 0 23 0 48 0 3000"/><path d="M117.5 273.78H1400" stroke="#e8261e" stroke-dasharray="0 51.5 0 29 0 21.5 0 19 0 31.5 0 8.5 0 38.5 0 33 0 27.5 0 32 0 40 0 32 0 6.5 0 50.5 0 41.5 0 67 0 5.5 0 25 0 2.5 0 42.5 0 20 0 37.5 0 19.5 0 5 0 39.5 0 34.5 0 34 0 40 0 38.5 0 13 0 48 0 2.5 0 35 0 3 0 31 0 66.5 0 26.5 0 0 0 39.5 0 71.5 0 3000"/><path d="M119 271.76H1400" stroke="#e8261e" stroke-dasharray="0 4 0 32 0 15 0 23 0 23 0 23.5 0 9 0 22 0 10.5 0 67.5 0 102.5 0 71 0 15 0 35.5 0 39 0 42.5 0 29 0 0.5 0 33.5 0 26 0 17.5 0 38 0 0 0 41.5 0 1.5 0 31.5 0 4 0 27 0 9.5 0 38 0 39 0 67.5 0 1 0 27.5 0 28 0 4 0 44.5 0 11.5 0 43 0 1 0 3000"/><path d="M118.5 269.74H1400" stroke="#e8261e" stroke-dasharray="0 31 0 69 0 23 0 34.5 0 42.5 0 27.5 0 67.5 0 32.5 0 2.5 0 38 0 33.5 0 2 0 18 0 111 0 33.5 0 1 0 62 0 47.5 0 7.5 0 8 0 32.5 0 3 0 27.5 0 36 0 3 0 22 0 21.5 0 100.5 0 35 0 16.5 0 10 0 35.5 0 24.5 0 39.5 0 2.5 0 13 0 15.5 0 74.5 0 3000"/><path d="M103.5 267.72H1400" stroke="#e8261e" stroke-dasharray="0 8 0 6.5 0 6 0 23 0 22.5 0 22.5 0 25 0 27.5 0 29 0 5 0 37.5 0 25.5 0 33.5 0 36.5 0 38 0 16 0 96 0 11.5 0 48 0 27 0 30.5 0 7.5 0 26 0 26.5 0 38.5 0 24.5 0 1 0 5 0 36 0 1.5 0 34 0 25 0 42 0 40 0 35.5 0 36.5 0 31 0 33 0 1.5 0 27.5 0 5.5 0 60.5 0 1 0 32 0 3000"/><path d="M116.5 265.7H1400" stroke="#e8261e" stroke-dasharray="0 3.5 0 35.5 0 17.5 0 23 0 52 0 31 0 40 0 24.5 0 2 0 28.5 0 36 0 38 0 3 0 92 0 104.5 0 32 0 37.5 0 29 0 19 0 2 0 34.5 0 39 0 33 0 5 0 26.5 0 0.5 0 44 0 79 0 32 0 25.5 0 17 0 16.5 0 13.5 0 21.5 0 62.5 0 1 0 35.5 0 25 0 42 0 3000"/><path d="M117.5 263.68H1400" stroke="#e8261e" stroke-dasharray="0 55 0 21 0 30.5 0 16.5 0 32 0 0.5 0 44.5 0 52.5 0 35 0 46.5 0 0 0 30 0 61 0 15 0 23 0 64 0 34.5 0 5 0 25.5 0 10 0 19 0 62.5 0 2 0 40 0 1.5 0 31.5 0 3.5 0 27 0 1 0 39 0 88.5 0 25 0 28 0 34 0 41 0 12.5 0 44 0 35 0 35 0 35 0 3000"/><path d="M117 261.66H1400" stroke="#e8261e" stroke-dasharray="0 36 0 14 0 26 0 45.5 0 30 0 45 0 33.5 0 24 0 42.5 0 32 0 51.5 0 38.5 0 37.5 0 82.5 0 27 0 4 0 17.5 0 9.5 0 54 0 23 0 10.5 0 45 0 27.5 0 34.5 0 40.5 0 40.5 0 69.5 0 33 0 31.5 0 38 0 3 0 27 0 28 0 0.5 0 40 0 3000"/><path d="M121 259.64H1400" stroke="#e8261e" stroke-dasharray="0 27 0 24 0 21 0 20.5 0 27 0 32 0 4 0 28.5 0 41 0 25 0 35.5 0 39 0 2.5 0 95.5 0 70 0 35 0 26 0 40.5 0 32 0 17.5 0 13 0 20 0 1 0 7 0 34.5 0 1 0 33.5 0 3 0 30.5 0 64 0 18 0 37 0 29.5 0 33.5 0 34.5 0 1 0 27 0 30.5 0 35 0 0.5 0 33 0 32.5 0 45 0 3000"/><path d="M117.5 257.62H1400" stroke="#e8261e" stroke-dasharray="0 29.5 0 22.5 0 23.5 0 26.5 0 23.5 0 31 0 0.5 0 44 0 1.5 0 32 0 20.5 0 43.5 0 33.5 0 3.5 0 47.5 0 44.5 0 61.5 0 48 0 25 0 1 0 36.5 0 29 0 19 0 38.5 0 0 0 38 0 35 0 5 0 26.5 0 52 0 86.5 0 8 0 3.5 0 4 0 28.5 0 33.5 0 30.5 0 38 0 27 0 1 0 34 0 29 0 7 0 32.5 0 3000"/><path d="M116 255.6H1400" stroke="#e8261e" stroke-dasharray="0 4 0 52 0 2.5 0 16.5 0 17 0 10.5 0 22.5 0 32 0 0.5 0 39 0 31.5 0 30 0 34 0 35 0 6 0 92 0 33 0 37 0 36.5 0 35 0 0.5 0 33 0 31 0 21.5 0 33.5 0 38 0 4.5 0 27.5 0 1.5 0 37.5 0 40 0 43.5 0 62 0 6 0 24 0 35 0 96 0 3.5 0 30.5 0 3000"/><path d="M116.5 253.58H1400" stroke="#e8261e" stroke-dasharray="0 34 0 39.5 0 31.5 0 20 0 36 0 36 0 17 0 11.5 0 35 0 27 0 41.5 0 96.5 0 30.5 0 29.5 0 49 0 23.5 0 1.5 0 41.5 0 27.5 0 26.5 0 30 0 1 0 39 0 33.5 0 31.5 0 0.5 0 42.5 0 19.5 0 87 0 0.5 0 34 0 30.5 0 27.5 0 67 0 0.5 0 1.5 0 36.5 0 35 0 29.5 0 3000"/><path d="M119 251.56H1400" stroke="#e8261e" stroke-dasharray="0 0.5 0 26 0 28.5 0 18.5 0 29 0 25 0 1 0 25.5 0 1 0 13 0 57.5 0 27 0 42 0 34.5 0 94 0 36.5 0 17 0 54.5 0 31 0 3 0 61 0 54 0 4.5 0 41.5 0 25.5 0 5 0 31 0 2.5 0 40 0 39 0 37.5 0 30.5 0 36.5 0 25.5 0 3.5 0 32.5 0 44 0 20.5 0 36 0 3000"/><path d="M119.5 249.54H1400" stroke="#e8261e" stroke-dasharray="0 3.5 0 25 0 21 0 20.5 0 43.5 0 7.5 0 32 0 71.5 0 58 0 46 0 0 0 38 0 19 0 34 0 63.5 0 50 0 25 0 4.5 0 36.5 0 21 0 62.5 0 7.5 0 29 0 35.5 0 35 0 47 0 28.5 0 38.5 0 32 0 33.5 0 14.5 0 15.5 0 46 0 28 0 23.5 0 35.5 0 71.5 0 3000"/><path d="M120 247.52H1400" stroke="#e8261e" stroke-dasharray="0 31 0 22 0 17.5 0 48 0 34 0 44.5 0 27.5 0 62 0 39 0 2.5 0 56 0 41 0 57 0 37.5 0 38 0 7 0 33.5 0 21.5 0 41.5 0 22.5 0 5 0 34.5 0 31 0 4 0 26 0 7 0 15.5 0 67.5 0 37.5 0 24.5 0 35 0 32.5 0 3 0 31.5 0 62.5 0 35 0 33 0 28 0 3000"/><path d="M113.5 245.5H1400" stroke="#e8261e" stroke-dasharray="0 42 0 42.5 0 19.5 0 28 0 28.5 0 102.5 0 6 0 29.5 0 34.5 0 35.5 0 58 0 16.5 0 91 0 32 0 1 0 65.5 0 51.5 0 3.5 0 41 0 34.5 0 31 0 1 0 9.5 0 14.5 0 49 0 72.5 0 33.5 0 32 0 2 0 33.5 0 60 0 1 0 39.5 0 31 0 42.5 0 3000"/><path d="M124.5 243.48H1400" stroke="#e8261e" stroke-dasharray="0 23 0 0.5 0 41 0 13.5 0 14.5 0 26.5 0 28.5 0 2.5 0 73.5 0 28 0 36.5 0 31.5 0 5 0 56.5 0 7 0 30.5 0 33 0 48 0 26.5 0 30.5 0 0.5 0 33 0 27.5 0 28 0 28 0 3.5 0 43.5 0 29 0 35.5 0 1 0 35 0 81.5 0 25 0 9 0 30.5 0 25.5 0 39.5 0 30.5 0 28 0 3 0 38 0 2.5 0 63.5 0 3000"/><path d="M118.5 241.46H1400" stroke="#e8261e" stroke-dasharray="0 33 0 41 0 21 0 6 0 22.5 0 27 0 8.5 0 47.5 0 20 0 34 0 27.5 0 39 0 12.5 0 53 0 24 0 31.5 0 83.5 0 27 0 4.5 0 33 0 33.5 0 17 0 39 0 41 0 32.5 0 29 0 5 0 47 0 19 0 10.5 0 42.5 0 19 0 9.5 0 28.5 0 35 0 1 0 23.5 0 47.5 0 23.5 0 34 0 37.5 0 35.5 0 3000"/><path d="M120.5 239.44H1400" stroke="#e8261e" stroke-dasharray="0 30.5 0 43 0 26.5 0 23 0 29.5 0 2 0 99 0 37 0 30.5 0 3.5 0 2.5 0 73.5 0 20.5 0 81.5 0 16 0 39 0 43 0 24 0 55.5 0 40.5 0 3.5 0 31 0 33.5 0 40 0 35.5 0 1 0 15.5 0 30 0 25.5 0 30.5 0 34.5 0 29.5 0 22.5 0 42 0 2 0 41.5 0 64 0 3000"/><path d="M119 237.42H1400" stroke="#e8261e" stroke-dasharray="0 0.5 0 33 0 25 0 14.5 0 35 0 15.5 0 0 0 32 0 0.5 0 29 0 68.5 0 36.5 0 41 0 18.5 0 7.5 0 65.5 0 29.5 0 18 0 34 0 25 0 33 0 60.5 0 30.5 0 27 0 3.5 0 41.5 0 33 0 27 0 4.5 0 0.5 0 64 0 85.5 0 34 0 28 0 40.5 0 24 0 30 0 2.5 0 0.5 0 32.5 0 3000"/><path d="M116 235.4H1400" stroke="#e8261e" stroke-dasharray="0 131.5 0 30.5 0 34.5 0 10 0 28 0 14 0 26 0 23 0 33.5 0 0 0 74 0 18.5 0 33 0 53.5 0 6 0 18 0 27.5 0 43.5 0 23.5 0 24 0 5.5 0 31 0 37.5 0 1.5 0 36 0 26.5 0 4 0 40 0 67 0 37 0 0 0 33 0 27.5 0 7.5 0 58 0 18.5 0 18.5 0 16.5 0 49 0 37 0 3000"/><path d="M119 233.38H1400" stroke="#e8261e" stroke-dasharray="0 32 0 87 0 34.5 0 4 0 42.5 0 48 0 67.5 0 11.5 0 3.5 0 30.5 0 31 0 34 0 71 0 31 0 31.5 0 35.5 0 41 0 15.5 0 30.5 0 0.5 0 38.5 0 33.5 0 35.5 0 45 0 34 0 66 0 6.5 0 29.5 0 30.5 0 53.5 0 44.5 0 1.5 0 37 0 27.5 0 36.5 0 3000"/><path d="M121 231.36H1400" stroke="#e8261e" stroke-dasharray="0 75 0 45 0 37 0 92 0 44 0 29 0 5 0 35.5 0 58 0 68.5 0 36 0 9.5 0 19.5 0 5 0 24.5 0 11 0 25 0 68 0 29.5 0 7 0 29.5 0 1 0 31.5 0 55.5 0 92.5 0 30.5 0 35.5 0 36.5 0 18.5 0 39.5 0 36 0 30.5 0 37 0 3000"/><path d="M119.5 229.34H1400" stroke="#e8261e" stroke-dasharray="0 3 0 25 0 47.5 0 28.5 0 24.5 0 27.5 0 37.5 0 33 0 32.5 0 37.5 0 30 0 7 0 27.5 0 56 0 23.5 0 12.5 0 45 0 35.5 0 24 0 6 0 37 0 24.5 0 51.5 0 1.5 0 44 0 35.5 0 3.5 0 28 0 5 0 36 0 74.5 0 33 0 20 0 11 0 19 0 15.5 0 0.5 0 31 0 28.5 0 35 0 3 0 36 0 26 0 3000"/><path d="M120.5 227.32H1400" stroke="#e8261e" stroke-dasharray="0 27 0 48 0 6.5 0 15 0 26 0 29.5 0 5.5 0 66 0 71 0 3 0 31 0 20 0 29.5 0 16.5 0 24 0 38.5 0 6.5 0 69.5 0 27.5 0 2 0 37.5 0 52.5 0 30 0 2.5 0 39 0 31.5 0 27 0 4.5 0 29 0 39 0 11.5 0 34 0 37 0 6.5 0 19 0 36.5 0 7 0 62 0 28 0 21.5 0 20 0 59.5 0 3000"/><path d="M117.5 225.3H1400" stroke="#e8261e" stroke-dasharray="0 39 0 34.5 0 30.5 0 17.5 0 2.5 0 33.5 0 2.5 0 32 0 64.5 0 73 0 32 0 5.5 0 56 0 71.5 0 16.5 0 28.5 0 24.5 0 36 0 29.5 0 52 0 40 0 5 0 1 0 28.5 0 35 0 66 0 15 0 69.5 0 31 0 34 0 32.5 0 27 0 32 0 0.5 0 38 0 0.5 0 3000"/><path d="M121.5 223.28H1400" stroke="#e8261e" stroke-dasharray="0 3.5 0 25.5 0 25.5 0 13.5 0 31.5 0 23 0 29 0 0 0 48.5 0 26 0 64.5 0 30 0 6 0 91.5 0 33 0 71 0 14.5 0 21 0 42 0 19 0 25.5 0 36 0 38 0 3.5 0 34.5 0 30 0 30.5 0 53 0 65.5 0 29.5 0 7 0 25 0 35.5 0 22 0 33 0 7.5 0 0.5 0 40.5 0 69.5 0 3000"/><path d="M116.5 221.26H1400" stroke="#e8261e" stroke-dasharray="0 3 0 33 0 45 0 24 0 22.5 0 14 0 14.5 0 5.5 0 44 0 25.5 0 25 0 32 0 42 0 19 0 60 0 20 0 7 0 19.5 0 42 0 8 0 27.5 0 27.5 0 2.5 0 63 0 36.5 0 22.5 0 3.5 0 40.5 0 29 0 3 0 26 0 55.5 0 26 0 38.5 0 30 0 40.5 0 28 0 1 0 32.5 0 61.5 0 2.5 0 37 0 61 0 3000"/><path d="M119 219.24H1400" stroke="#e8261e" stroke-dasharray="0 30.5 0 19 0 23 0 31 0 25 0 25 0 36.5 0 37.5 0 24.5 0 77.5 0 1.5 0 91 0 70.5 0 43.5 0 26 0 4 0 33 0 21.5 0 35 0 28 0 34.5 0 37 0 3.5 0 27 0 1.5 0 52 0 33 0 1 0 38 0 23.5 0 32.5 0 33 0 2.5 0 34.5 0 60.5 0 29.5 0 39.5 0 28 0 3000"/><path d="M118 217.22H1400" stroke="#e8261e" stroke-dasharray="0 57.5 0 13 0 31 0 23 0 31.5 0 0.5 0 31 0 38 0 71.5 0 33 0 1 0 29.5 0 61.5 0 33 0 36.5 0 42 0 29 0 36.5 0 84.5 0 6 0 19.5 0 16 0 32.5 0 28.5 0 43 0 38.5 0 35 0 7.5 0 25.5 0 39.5 0 28.5 0 10.5 0 23.5 0 31 0 28 0 1.5 0 1 0 68 0 28 0 3000"/><path d="M115.5 215.2H1400" stroke="#e8261e" stroke-dasharray="0 79 0 24.5 0 27.5 0 25.5 0 4.5 0 69 0 21 0 6.5 0 18 0 56 0 62.5 0 30 0 31 0 56.5 0 23 0 31.5 0 6 0 29.5 0 29 0 20.5 0 30 0 5.5 0 40.5 0 33.5 0 2.5 0 28.5 0 45 0 32 0 41 0 31.5 0 29.5 0 36.5 0 5 0 28.5 0 35 0 27 0 4 0 28.5 0 31 0 46 0 3000"/><path d="M119.5 213.18H1400" stroke="#e8261e" stroke-dasharray="0 36 0 16 0 25.5 0 43.5 0 33 0 1.5 0 70 0 50 0 54 0 49 0 1.5 0 43.5 0 37 0 74 0 21 0 11 0 61 0 32 0 21.5 0 2 0 42 0 32 0 30 0 1 0 56 0 30 0 24.5 0 40.5 0 0 0 30.5 0 30 0 5.5 0 57 0 35 0 0 0 41 0 61.5 0 3000"/><path d="M120.5 211.16H1400" stroke="#e8261e" stroke-dasharray="0 30 0 44 0 27.5 0 20.5 0 29.5 0 53 0 18 0 25.5 0 45.5 0 33.5 0 30 0 20.5 0 42.5 0 35 0 40 0 33.5 0 32.5 0 2.5 0 39 0 1.5 0 76 0 3 0 36.5 0 36.5 0 31 0 34 0 49.5 0 32.5 0 6.5 0 22 0 36 0 34.5 0 1 0 29 0 46 0 18 0 4 0 32.5 0 31 0 37 0 1 0 3000"/><path d="M104.5 209.14H1400" stroke="#e8261e" stroke-dasharray="0 15 0 27.5 0 32 0 11.5 0 50.5 0 31.5 0 4 0 50.5 0 45.5 0 1.5 0 28.5 0 43.5 0 69.5 0 20.5 0 4 0 77.5 0 27 0 39 0 37 0 27 0 31 0 24 0 0.5 0 40.5 0 34 0 27 0 40 0 10 0 50.5 0 11 0 39 0 5.5 0 30.5 0 32.5 0 55.5 0 19 0 18.5 0 1.5 0 7.5 0 32 0 62 0 3000"/><path d="M116 207.12H1400" stroke="#e8261e" stroke-dasharray="0 4.5 0 33 0 20.5 0 8 0 10 0 27.5 0 21.5 0 25.5 0 1.5 0 8 0 71 0 33 0 20.5 0 48.5 0 5 0 35 0 49.5 0 35.5 0 32.5 0 46 0 27 0 6 0 4.5 0 23.5 0 32.5 0 20.5 0 9.5 0 25 0 43 0 30.5 0 1.5 0 31.5 0 41 0 35 0 11.5 0 26.5 0 30.5 0 4 0 30 0 36.5 0 0.5 0 14 0 44.5 0 12.5 0 25.5 0 35 0 69.5 0 3000"/><path d="M124 205.1H1400" stroke="#e8261e" stroke-dasharray="0 24 0 44.5 0 52.5 0 28.5 0 31.5 0 41 0 103 0 2 0 34.5 0 59.5 0 35 0 71 0 31 0 1.5 0 62.5 0 31.5 0 24 0 40.5 0 28 0 5 0 28 0 41.5 0 9.5 0 35.5 0 39 0 26.5 0 1.5 0 34.5 0 30.5 0 3 0 30 0 22 0 39 0 0.5 0 10 0 87.5 0 13.5 0 3000"/><path d="M114 203.08H1400" stroke="#e8261e" stroke-dasharray="0 24.5 0 30.5 0 21 0 32.5 0 21 0 30.5 0 3 0 52.5 0 18 0 31.5 0 67.5 0 0 0 57 0 38 0 81 0 23 0 34.5 0 4 0 29.5 0 33.5 0 52 0 42.5 0 2.5 0 30 0 0.5 0 32 0 1.5 0 40 0 5.5 0 32 0 38 0 25 0 7.5 0 3 0 30 0 30 0 4 0 95.5 0 1.5 0 33 0 64.5 0 3000"/><path d="M123 201.06H1400" stroke="#e8261e" stroke-dasharray="0 30.5 0 32.5 0 55.5 0 33 0 0 0 71.5 0 11.5 0 57.5 0 28.5 0 1 0 39.5 0 49 0 13.5 0 27 0 31.5 0 41 0 36 0 3.5 0 32 0 51.5 0 33 0 40 0 0.5 0 29 0 38 0 0.5 0 32.5 0 43 0 71 0 2 0 31.5 0 31.5 0 3.5 0 39 0 52.5 0 1.5 0 33.5 0 36 0 31.5 0 3000"/><path d="M122 199.04H1400" stroke="#e8261e" stroke-dasharray="0 25 0 52 0 39.5 0 33.5 0 5 0 67.5 0 19.5 0 51 0 33.5 0 0 0 63.5 0 64 0 45.5 0 27 0 30.5 0 3 0 37 0 2 0 23.5 0 29 0 29.5 0 0 0 36.5 0 41.5 0 25 0 41.5 0 37.5 0 25 0 15.5 0 28.5 0 2 0 36.5 0 32 0 16 0 76.5 0 22.5 0 13.5 0 3000"/><path d="M117.5 197.02H1400" stroke="#e8261e" stroke-dasharray="0 52 0 18.5 0 55 0 29 0 1.5 0 33 0 38 0 25 0 46 0 27.5 0 7 0 27 0 22.5 0 40.5 0 32 0 35 0 23.5 0 11 0 37 0 6.5 0 38 0 20 0 27 0 0.5 0 29.5 0 3 0 43.5 0 29 0 31.5 0 43 0 42.5 0 67 0 28 0 33.5 0 38 0 26.5 0 36.5 0 31.5 0 69 0 3000"/><path d="M116.5 195H1400" stroke="#e8261e" stroke-dasharray="0 32.5 0 23 0 20 0 22 0 25.5 0 33.5 0 3.5 0 70 0 18.5 0 83 0 57.5 0 34.5 0 33 0 75 0 32.5 0 3.5 0 36 0 23 0 32.5 0 25.5 0 5 0 38 0 30 0 32.5 0 3.5 0 43.5 0 70.5 0 29.5 0 1 0 7 0 25.5 0 30 0 4 0 37 0 16 0 42.5 0 5 0 30.5 0 9.5 0 38.5 0 3000"/><path d="M117 192.98H1400" stroke="#e8261e" stroke-dasharray="0 6 0 23.5 0 26.5 0 21 0 47.5 0 32.5 0 1.5 0 138.5 0 31 0 5.5 0 92.5 0 27.5 0 82.5 0 8.5 0 16 0 3 0 35.5 0 86.5 0 44.5 0 24.5 0 37 0 35.5 0 28.5 0 15 0 39.5 0 29.5 0 2.5 0 28 0 4.5 0 24 0 9.5 0 30 0 18 0 44 0 40.5 0 3000"/><path d="M123 190.96H1400" stroke="#e8261e" stroke-dasharray="0 26.5 0 26 0 17.5 0 48 0 33 0 42.5 0 29.5 0 25 0 71.5 0 2 0 97 0 27.5 0 37.5 0 17 0 25 0 31.5 0 2 0 31 0 36 0 24.5 0 30.5 0 2 0 30.5 0 6.5 0 34 0 29.5 0 2 0 34 0 109 0 3 0 30 0 36.5 0 57 0 41 0 34 0 65 0 3000"/><path d="M119.5 188.94H1400" stroke="#e8261e" stroke-dasharray="0 59 0 14 0 23.5 0 29 0 30 0 47 0 24 0 26.5 0 37 0 40 0 34.5 0 52.5 0 35.5 0 35.5 0 41 0 31 0 1.5 0 41.5 0 20 0 29 0 30 0 1 0 38.5 0 36.5 0 31 0 43.5 0 36 0 18 0 44.5 0 8.5 0 27.5 0 36.5 0 1.5 0 66 0 30 0 34.5 0 30 0 42 0 3000"/><path d="M121.5 186.92H1400" stroke="#e8261e" stroke-dasharray="0 30 0 22.5 0 17.5 0 53.5 0 26.5 0 2.5 0 65 0 72 0 36 0 16.5 0 80.5 0 107.5 0 23.5 0 42.5 0 29 0 23 0 0.5 0 27.5 0 45.5 0 31.5 0 30.5 0 3.5 0 51.5 0 27 0 64 0 11 0 22 0 34.5 0 2.5 0 36.5 0 61 0 1 0 36.5 0 65.5 0 3000"/><path d="M119.5 184.9H1400" stroke="#e8261e" stroke-dasharray="0 3 0 46 0 29.5 0 25 0 19 0 28.5 0 73 0 26.5 0 75 0 3.5 0 21.5 0 78 0 64 0 40.5 0 29.5 0 0.5 0 33.5 0 57 0 30.5 0 36 0 32.5 0 6 0 26 0 38.5 0 3.5 0 0.5 0 112.5 0 1.5 0 31 0 32 0 33 0 59.5 0 4.5 0 34.5 0 74 0 3000"/><path d="M119 182.88H1400" stroke="#e8261e" stroke-dasharray="0 32 0 18 0 22.5 0 29.5 0 23.5 0 29.5 0 0.5 0 32 0 7.5 0 31.5 0 67 0 24.5 0 17.5 0 56 0 33 0 31.5 0 30.5 0 51 0 22 0 4.5 0 39 0 22 0 15.5 0 40 0 3.5 0 42.5 0 34.5 0 26 0 2 0 33 0 42 0 35 0 18.5 0 16 0 4.5 0 28 0 33 0 6.5 0 32.5 0 5.5 0 26.5 0 29 0 0.5 0 3000"/><path d="M123.5 180.86H1400" stroke="#e8261e" stroke-dasharray="0 34 0 39 0 42 0 5 0 29 0 0.5 0 35 0 36 0 69.5 0 30.5 0 2.5 0 35.5 0 13 0 28 0 17 0 36 0 52 0 22 0 29 0 4 0 59 0 38.5 0 18 0 2 0 43 0 30 0 38.5 0 28.5 0 49 0 48.5 0 18 0 3.5 0 33.5 0 31.5 0 31.5 0 6.5 0 12 0 7 0 35.5 0 3.5 0 24.5 0 74.5 0 3000"/><path d="M115 178.84H1400" stroke="#e8261e" stroke-dasharray="0 1.5 0 32 0 43.5 0 24.5 0 30 0 24.5 0 6.5 0 30.5 0 39 0 65.5 0 35 0 1 0 21.5 0 5.5 0 67 0 68.5 0 34 0 37.5 0 35.5 0 28 0 25.5 0 22 0 8 0 2 0 41.5 0 34.5 0 26 0 55 0 14.5 0 7.5 0 39.5 0 34.5 0 33.5 0 35 0 30.5 0 30.5 0 30.5 0 35 0 3000"/><path d="M117.5 176.82H1400" stroke="#e8261e" stroke-dasharray="0 76.5 0 13.5 0 36.5 0 1 0 26 0 4 0 43 0 25.5 0 28.5 0 34 0 40 0 48 0 79.5 0 75 0 32.5 0 0 0 35.5 0 25 0 28 0 31 0 44 0 1 0 28.5 0 35.5 0 32.5 0 41 0 44.5 0 23 0 40.5 0 26.5 0 33 0 30 0 34.5 0 5 0 32.5 0 8.5 0 57.5 0 3000"/><path d="M118.5 174.8H1400" stroke="#e8261e" stroke-dasharray="0 27.5 0 23.5 0 48.5 0 24.5 0 33 0 73.5 0 20.5 0 43 0 35 0 2 0 64 0 20 0 40.5 0 23 0 7 0 48.5 0 28.5 0 2.5 0 34 0 25 0 36 0 1 0 15 0 4.5 0 43.5 0 1 0 32.5 0 2.5 0 30.5 0 6 0 69 0 4.5 0 67 0 31.5 0 3 0 29.5 0 33 0 24.5 0 33.5 0 6 0 1.5 0 37.5 0 66.5 0 3000"/><path d="M113.5 172.78H1400" stroke="#e8261e" stroke-dasharray="0 35.5 0 24 0 22 0 19.5 0 28.5 0 26 0 4.5 0 46.5 0 21 0 33.5 0 30.5 0 2 0 38.5 0 1.5 0 66.5 0 5 0 32 0 74 0 21 0 13.5 0 24.5 0 0 0 40 0 24 0 20.5 0 32.5 0 2 0 43.5 0 29 0 35 0 38 0 29 0 51.5 0 27 0 25 0 12.5 0 28 0 5 0 68 0 19.5 0 0.5 0 39.5 0 1.5 0 26.5 0 3000"/><path d="M119 170.76H1400" stroke="#e8261e" stroke-dasharray="0 28.5 0 24 0 22.5 0 47.5 0 32 0 40 0 100 0 38 0 89 0 34.5 0 44 0 24 0 28 0 8 0 42 0 15.5 0 4 0 39.5 0 18.5 0 2 0 41 0 3.5 0 27 0 11 0 27.5 0 4.5 0 10.5 0 26 0 7 0 9 0 90.5 0 1.5 0 29.5 0 33.5 0 62.5 0 29 0 3 0 34 0 66.5 0 3000"/><path d="M105 168.74H1400" stroke="#e8261e" stroke-dasharray="0 18 0 27 0 19.5 0 24 0 27.5 0 18 0 34 0 71.5 0 26 0 82.5 0 68.5 0 20 0 34 0 36.5 0 35.5 0 32 0 4.5 0 33.5 0 27 0 9.5 0 23.5 0 25.5 0 2.5 0 35 0 34.5 0 2.5 0 11.5 0 19.5 0 80.5 0 66.5 0 5.5 0 28.5 0 32.5 0 1 0 96 0 36.5 0 3000"/><path d="M122.5 166.72H1400" stroke="#e8261e" stroke-dasharray="0 24.5 0 29 0 18 0 21.5 0 26 0 30.5 0 5 0 29 0 25 0 13.5 0 63 0 40 0 24.5 0 45 0 25.5 0 96 0 37 0 120.5 0 9 0 36.5 0 1.5 0 33 0 29.5 0 1.5 0 56 0 27.5 0 37 0 27.5 0 35.5 0 34 0 49 0 44 0 1.5 0 43 0 24.5 0 3000"/><path d="M115 164.7H1400" stroke="#e8261e" stroke-dasharray="0 4.5 0 30.5 0 18.5 0 27.5 0 27.5 0 15 0 33 0 2 0 42.5 0 32.5 0 26 0 37.5 0 30.5 0 62 0 39.5 0 65 0 41.5 0 35.5 0 1 0 28.5 0 24 0 31 0 30 0 2.5 0 37.5 0 2.5 0 15.5 0 14 0 6.5 0 28 0 2 0 59 0 14.5 0 37 0 28.5 0 9 0 33 0 32.5 0 1.5 0 23 0 32 0 38 0 3.5 0 69.5 0 31.5 0 3000"/><path d="M115 162.68H1400" stroke="#e8261e" stroke-dasharray="0 1.5 0 29.5 0 31.5 0 14.5 0 25 0 25 0 8 0 24.5 0 4.5 0 42 0 23.5 0 25 0 36.5 0 43.5 0 37.5 0 61 0 25 0 33.5 0 45.5 0 35 0 28.5 0 25.5 0 27.5 0 33.5 0 40.5 0 33.5 0 30.5 0 3.5 0 40.5 0 39 0 67 0 4.5 0 24.5 0 37 0 1 0 34 0 12.5 0 7.5 0 36.5 0 3 0 31 0 43 0 25 0 3000"/><path d="M120.5 160.66H1400" stroke="#e8261e" stroke-dasharray="0 53 0 19 0 24.5 0 25 0 33 0 5.5 0 88 0 44 0 11 0 18.5 0 6.5 0 34 0 54.5 0 41 0 38.5 0 27 0 8 0 29 0 38.5 0 25.5 0 19 0 38 0 45.5 0 27.5 0 1.5 0 31 0 2 0 36 0 39.5 0 41 0 27 0 1 0 37.5 0 31 0 28 0 64 0 6 0 19.5 0 14 0 5.5 0 3000"/><path d="M123 158.64H1400" stroke="#e8261e" stroke-dasharray="0 35 0 62.5 0 19 0 36.5 0 1.5 0 92 0 80 0 1.5 0 88 0 30.5 0 50 0 26 0 35.5 0 0.5 0 36 0 26 0 31 0 28 0 1 0 14 0 26 0 31.5 0 29.5 0 43.5 0 39 0 46 0 21 0 34.5 0 26.5 0 41 0 15 0 45 0 40.5 0 33.5 0 3000"/><path d="M120 156.62H1400" stroke="#e8261e" stroke-dasharray="0 1 0 31 0 19 0 24.5 0 18.5 0 25 0 35 0 6 0 38.5 0 89 0 38.5 0 4 0 69.5 0 24 0 27.5 0 75 0 36 0 33 0 2 0 22 0 62.5 0 39.5 0 3.5 0 31.5 0 35 0 36 0 68 0 22.5 0 21 0 27 0 43.5 0 66.5 0 25 0 34 0 69 0 0.5 0 3000"/><path d="M93.5 154.6H1400" stroke="#e8261e" stroke-dasharray="0 21.5 0 2 0 4.5 0 28.5 0 16 0 28.5 0 31 0 13 0 34.5 0 43 0 53.5 0 3 0 76.5 0 0.5 0 0.5 0 41.5 0 49.5 0 33 0 46 0 34.5 0 28.5 0 0.5 0 32.5 0 59 0 25 0 0.5 0 43 0 28.5 0 34 0 38 0 39.5 0 43 0 30.5 0 4 0 29 0 7 0 25 0 31.5 0 28 0 38.5 0 36.5 0 3000"/><path d="M118.5 152.58H1400" stroke="#e8261e" stroke-dasharray="0 5 0 48 0 22.5 0 27.5 0 19.5 0 30 0 38 0 37 0 23.5 0 79 0 29 0 54.5 0 6.5 0 34 0 41.5 0 41 0 18 0 6.5 0 41 0 20.5 0 19.5 0 6 0 37 0 41 0 29.5 0 32 0 48.5 0 37.5 0 34 0 34 0 28 0 29.5 0 2.5 0 34.5 0 32 0 32 0 2 0 3000"/><path d="M116.5 150.56H1400" stroke="#e8261e" stroke-dasharray="0 5.5 0 30 0 42.5 0 22.5 0 26 0 29.5 0 3.5 0 35 0 106.5 0 1.5 0 30.5 0 19.5 0 72 0 12.5 0 19.5 0 47 0 29 0 34 0 60 0 26 0 34.5 0 38.5 0 31.5 0 33.5 0 58.5 0 89 0 6 0 26 0 34.5 0 24 0 37 0 34 0 0 0 36.5 0 68.5 0 3000"/><path d="M118.5 148.54H1400" stroke="#e8261e" stroke-dasharray="0 28 0 43.5 0 52 0 29.5 0 4 0 35.5 0 65.5 0 39 0 35.5 0 54.5 0 34 0 34 0 46 0 33 0 6.5 0 20.5 0 2.5 0 62 0 58 0 2 0 36 0 35 0 1.5 0 28 0 4.5 0 2.5 0 40 0 31 0 81 0 19 0 2 0 36.5 0 36.5 0 59 0 38.5 0 65.5 0 3000"/><path d="M120.5 146.52H1400" stroke="#e8261e" stroke-dasharray="0 0.5 0 11.5 0 14 0 24 0 20.5 0 51.5 0 33 0 66.5 0 15 0 13 0 42 0 35.5 0 0.5 0 37 0 92 0 69 0 36.5 0 4.5 0 31.5 0 24.5 0 33 0 25 0 0 0 40 0 1 0 31.5 0 33 0 2.5 0 29.5 0 50 0 66 0 29.5 0 32 0 5.5 0 24.5 0 40.5 0 28.5 0 1 0 36.5 0 66 0 3000"/><path d="M118.5 144.5H1400" stroke="#e8261e" stroke-dasharray="0 20 0 14.5 0 37.5 0 12 0 2 0 18.5 0 22 0 28.5 0 0.5 0 41 0 31.5 0 28.5 0 40.5 0 29.5 0 25 0 75 0 14 0 15.5 0 75 0 32.5 0 3.5 0 24.5 0 10.5 0 25.5 0 2 0 52 0 40.5 0 37 0 32 0 1 0 37.5 0 79 0 32.5 0 34.5 0 25 0 20.5 0 12 0 37.5 0 28.5 0 2 0 3000"/><path d="M119 142.48H1400" stroke="#2b3790" stroke-dasharray="0 0.5 0 2 0 29 0 25.5 0 18.5 0 0 0 29 0 18 0 1 0 2 0 26.5 0 6.5 0 0.5 0 39.5 0 11.5 0 13.5 0 5.5 0 26.5 0 1 0 36.5 0 34.5 0 0 0 1.5 0 38 0 54 0 0.5 0 33 0 3 0 35.5 0 38.5 0 1.5 0 27.5 0 1 0 2 0 0 0 4 0 37.5 0 13 0 7.5 0 21.5 0 6 0 10 0 16 0 1 0 3.5 0 4.5 0 11 0 22 0 3 0 0 0 29.5 0 0.5 0 1.5 0 35 0 0 0 2 0 52 0 27 0 37.5 0 27.5 0 0.5 0 2.5 0 25.5 0 6.5 0 28.5 0 1.5 0 6 0 14.5 0 8 0 3 0 21 0 12.5 0 29.5 0 0.5 0 2 0 1.5 0 34 0 1 0 36 0 26.5 0 9 0 3000"/><path d="M118 140.46H1400" stroke="#2b3790" stroke-dasharray="0 2.5 0 1 0 22.5 0 5 0 23.5 0 4 0 15 0 3.5 0 23.5 0 24.5 0 0.5 0 1 0 3 0 23.5 0 2 0 0.5 0 0.5 0 39 0 7.5 0 21.5 0 9 0 23.5 0 0.5 0 7 0 24 0 5 0 33 0 1 0 0.5 0 33 0 18.5 0 5 0 34.5 0 40 0 34.5 0 10 0 28.5 0 0 0 25 0 0.5 0 11 0 30 0 2 0 24 0 0 0 19.5 0 14 0 23 0 2.5 0 3 0 33 0 5.5 0 5 0 29.5 0 3 0 1 0 24.5 0 1.5 0 0.5 0 44 0 10.5 0 20 0 50.5 0 21 0 1 0 3 0 31 0 3 0 28 0 3.5 0 1.5 0 27 0 8 0 16 0 9.5 0 32 0 3 0 0 0 35.5 0 3 0 67.5 0 3000"/><path d="M119.5 138.44H1400" stroke="#2b3790" stroke-dasharray="0 2 0 32 0 19.5 0 19 0 1 0 9.5 0 16.5 0 22.5 0 0 0 30 0 3 0 1 0 2 0 33 0 33 0 5 0 15 0 7 0 4.5 0 19.5 0 16.5 0 0 0 36.5 0 0.5 0 3 0 21.5 0 18.5 0 21.5 0 22 0 2.5 0 7 0 0.5 0 29.5 0 2 0 44 0 18 0 16.5 0 20 0 5 0 0.5 0 2.5 0 30 0 5 0 22 0 8.5 0 20.5 0 5.5 0 23 0 5.5 0 1.5 0 4.5 0 19 0 12 0 1.5 0 5 0 28 0 1.5 0 1.5 0 31 0 0.5 0 1.5 0 43.5 0 30.5 0 35.5 0 35 0 2 0 1 0 29.5 0 1 0 32 0 2.5 0 0.5 0 13.5 0 16 0 4.5 0 27.5 0 1 0 30 0 3.5 0 1.5 0 30.5 0 31 0 5.5 0 33.5 0 3000"/><path d="M117.5 136.42H1400" stroke="#2b3790" stroke-dasharray="0 2.5 0 0 0 32 0 20 0 20 0 3 0 28.5 0 19.5 0 2 0 1 0 30 0 0 0 0.5 0 38.5 0 30 0 25.5 0 39 0 13 0 21 0 4.5 0 1.5 0 24 0 17.5 0 46.5 0 0 0 21 0 13.5 0 42.5 0 18 0 0 0 10.5 0 6 0 35 0 1 0 4.5 0 26 0 1 0 23.5 0 3.5 0 21.5 0 35 0 2 0 3 0 35.5 0 1.5 0 2 0 30.5 0 2.5 0 0.5 0 30 0 1 0 1 0 1 0 34.5 0 0.5 0 42.5 0 7.5 0 33.5 0 24.5 0 1.5 0 5 0 29 0 0.5 0 31 0 0 0 1 0 4 0 22.5 0 6 0 37 0 1 0 25 0 1.5 0 1 0 36.5 0 5 0 24.5 0 3.5 0 30 0 3000"/><path d="M117 134.4H1400" stroke="#2b3790" stroke-dasharray="0 0.5 0 0 0 31 0 3 0 21 0 18.5 0 6 0 21.5 0 4.5 0 17 0 2.5 0 30 0 0.5 0 3 0 42.5 0 29.5 0 21.5 0 39.5 0 39 0 0 0 1 0 25 0 38.5 0 17 0 9 0 2 0 29.5 0 2.5 0 9.5 0 36.5 0 32 0 3.5 0 0 0 2 0 23.5 0 2 0 4.5 0 31.5 0 23 0 7.5 0 16 0 36.5 0 3.5 0 0.5 0 0 0 3 0 34.5 0 1.5 0 0.5 0 28.5 0 1 0 2 0 26.5 0 5 0 0.5 0 26.5 0 16.5 0 6 0 38 0 11.5 0 20 0 28 0 2 0 0 0 14.5 0 17.5 0 3.5 0 2 0 29.5 0 0 0 1 0 29.5 0 3.5 0 18 0 36 0 5.5 0 0 0 38 0 30 0 4 0 28.5 0 7.5 0 3000"/><path d="M118 132.38H1400" stroke="#2b3790" stroke-dasharray="0 2.5 0 0.5 0 30.5 0 3.5 0 17.5 0 15 0 3 0 33 0 20 0 0 0 31 0 0.5 0 0 0 1.5 0 35 0 28.5 0 4 0 5.5 0 15.5 0 6.5 0 0.5 0 43.5 0 30.5 0 0.5 0 3 0 30.5 0 15.5 0 27.5 0 16 0 0.5 0 33 0 23.5 0 16 0 40.5 0 2 0 26 0 1.5 0 0 0 1 0 32 0 6.5 0 4 0 15.5 0 5.5 0 27.5 0 26 0 2 0 0 0 36.5 0 2.5 0 5 0 30 0 3.5 0 25 0 1.5 0 0.5 0 1 0 21.5 0 15.5 0 1 0 1.5 0 4 0 28.5 0 14 0 29 0 31.5 0 4.5 0 0 0 4.5 0 25.5 0 1.5 0 30.5 0 1.5 0 1 0 33 0 0 0 23.5 0 36 0 1.5 0 0.5 0 1.5 0 35 0 3 0 35 0 27 0 5 0 7.5 0 3000"/><path d="M117 130.36H1400" stroke="#2b3790" stroke-dasharray="0 5 0 2.5 0 24.5 0 0.5 0 22.5 0 22.5 0 4 0 18.5 0 21.5 0 3 0 18.5 0 14 0 0.5 0 1 0 1 0 15 0 19 0 10.5 0 20.5 0 36 0 1.5 0 30.5 0 34 0 2.5 0 1 0 29 0 39 0 27 0 0.5 0 33.5 0 41.5 0 2 0 32.5 0 2 0 23.5 0 3 0 1.5 0 40.5 0 8 0 11 0 2.5 0 25.5 0 29.5 0 3.5 0 1.5 0 37 0 2.5 0 0 0 32 0 1 0 27.5 0 1.5 0 2.5 0 43 0 8.5 0 19.5 0 4 0 35.5 0 32 0 6.5 0 0.5 0 27 0 5.5 0 27.5 0 5 0 4.5 0 28 0 2.5 0 22 0 14 0 22.5 0 1.5 0 3 0 1 0 29 0 0 0 25 0 51.5 0 3000"/><path d="M117 128.34H1400" stroke="#2b3790" stroke-dasharray="0 1 0 4 0 29 0 20.5 0 18.5 0 2.5 0 29.5 0 13.5 0 6.5 0 32 0 0.5 0 1.5 0 31.5 0 11 0 33.5 0 16.5 0 7.5 0 34.5 0 35 0 3.5 0 1.5 0 22 0 15 0 36 0 22.5 0 0.5 0 29.5 0 45.5 0 21 0 2.5 0 9 0 24.5 0 1 0 3.5 0 32 0 27.5 0 4 0 18.5 0 35 0 2 0 5 0 33 0 1.5 0 0.5 0 34 0 2.5 0 29 0 3.5 0 1 0 4.5 0 32.5 0 43 0 37 0 27.5 0 3 0 2 0 29 0 1.5 0 30.5 0 1.5 0 0.5 0 26.5 0 26 0 9.5 0 29 0 2 0 1.5 0 0.5 0 33 0 6.5 0 28.5 0 33 0 3000"/><path d="M116 126.32H1400" stroke="#2b3790" stroke-dasharray="0 0.5 0 6 0 20.5 0 5.5 0 19.5 0 21 0 29.5 0 24.5 0 2 0 26.5 0 1 0 1 0 25 0 10.5 0 1.5 0 32.5 0 29.5 0 4 0 37 0 33 0 1 0 0 0 31 0 7.5 0 13 0 41 0 3 0 31.5 0 41 0 32 0 6 0 27.5 0 0.5 0 3.5 0 34.5 0 25 0 1.5 0 24.5 0 3.5 0 26.5 0 1 0 2 0 39 0 1 0 19 0 13 0 0.5 0 29.5 0 2.5 0 2.5 0 31 0 14 0 26.5 0 48 0 25.5 0 1 0 4 0 30 0 0 0 7 0 21 0 4 0 5.5 0 28.5 0 29.5 0 5 0 25.5 0 0 0 0.5 0 1.5 0 34.5 0 2 0 31 0 30.5 0 3000"/><path d="M118 124.3H1400" stroke="#2b3790" stroke-dasharray="0 2.5 0 0.5 0 32 0 18 0 3.5 0 19.5 0 3 0 18 0 9.5 0 16.5 0 2.5 0 29.5 0 0.5 0 3 0 41 0 28 0 1.5 0 27 0 38.5 0 31 0 0.5 0 1.5 0 2 0 2.5 0 26 0 10 0 10.5 0 18 0 26 0 0 0 30 0 42 0 34 0 3 0 1 0 28.5 0 2.5 0 4 0 34 0 19.5 0 4.5 0 35 0 0 0 23.5 0 0.5 0 2 0 1.5 0 6 0 28 0 1 0 0 0 2.5 0 13.5 0 18 0 3.5 0 28.5 0 1 0 2.5 0 35.5 0 6 0 36 0 2.5 0 41.5 0 21.5 0 2.5 0 2 0 1 0 26 0 5.5 0 26.5 0 3 0 2.5 0 28.5 0 3 0 25.5 0 14.5 0 22 0 2 0 3 0 28.5 0 1 0 4 0 30 0 32.5 0 3000"/><path d="M116.5 122.28H1400" stroke="#2b3790" stroke-dasharray="0 1 0 5.5 0 7.5 0 10 0 12 0 2 0 16.5 0 22 0 5 0 21.5 0 19.5 0 5 0 27.5 0 1.5 0 1.5 0 34.5 0 5 0 30.5 0 1.5 0 21.5 0 4 0 40.5 0 34.5 0 2.5 0 1 0 29.5 0 15.5 0 11 0 34 0 2.5 0 22.5 0 5.5 0 15 0 44.5 0 21.5 0 0 0 4.5 0 21 0 0.5 0 2.5 0 0.5 0 36.5 0 24.5 0 6 0 17 0 37.5 0 0.5 0 0 0 37 0 3.5 0 3 0 28.5 0 1 0 1 0 29 0 0.5 0 5 0 26 0 12.5 0 38.5 0 7 0 24.5 0 36.5 0 1 0 1.5 0 21.5 0 7.5 0 0.5 0 32 0 0.5 0 2 0 32 0 5 0 18 0 11 0 29 0 0.5 0 0 0 37.5 0 3 0 24.5 0 40.5 0 1.5 0 3000"/><path d="M102.5 120.26H1400" stroke="#2b3790" stroke-dasharray="0 17.5 0 0 0 5 0 21.5 0 6 0 17 0 5 0 18.5 0 2.5 0 26.5 0 17.5 0 2 0 31.5 0 1.5 0 0.5 0 35.5 0 29 0 0.5 0 8.5 0 26.5 0 19.5 0 13.5 0 7.5 0 30 0 1.5 0 0 0 37.5 0 11 0 47.5 0 2 0 24 0 10 0 41.5 0 31 0 0.5 0 28 0 0.5 0 2 0 33.5 0 5 0 19.5 0 3.5 0 27.5 0 29 0 1.5 0 1 0 32 0 6.5 0 2 0 1 0 31.5 0 1 0 26.5 0 3 0 2 0 34.5 0 10.5 0 34.5 0 41 0 26 0 1.5 0 3 0 29.5 0 3 0 20.5 0 2.5 0 6 0 1 0 28.5 0 2.5 0 30.5 0 5 0 29 0 0.5 0 4.5 0 31 0 1.5 0 64 0 0.5 0 3000"/><path d="M115 118.24H1400" stroke="#2b3790" stroke-dasharray="0 2.5 0 4 0 25 0 4 0 24.5 0 11 0 4 0 5 0 21 0 28 0 1 0 1.5 0 25 0 4 0 0 0 37.5 0 3 0 6.5 0 21 0 25 0 6 0 36.5 0 17 0 16.5 0 5 0 0 0 28.5 0 64 0 4.5 0 30 0 40 0 10.5 0 18 0 7.5 0 22 0 4.5 0 1 0 33.5 0 4.5 0 27 0 2 0 19 0 2 0 35 0 0.5 0 0 0 36.5 0 2 0 34 0 1 0 1.5 0 24 0 3.5 0 0.5 0 43 0 6.5 0 28.5 0 1 0 39.5 0 30 0 2 0 2.5 0 25 0 3 0 29.5 0 8 0 5.5 0 20 0 0.5 0 38.5 0 26.5 0 1.5 0 2 0 32.5 0 5.5 0 65.5 0 2 0 3000"/><path d="M120 116.22H1400" stroke="#2b3790" stroke-dasharray="0 1 0 2 0 14.5 0 9 0 25.5 0 19.5 0 5 0 24.5 0 16.5 0 5.5 0 30 0 3.5 0 3.5 0 40.5 0 1 0 22.5 0 31 0 8 0 27.5 0 7.5 0 27.5 0 1 0 0.5 0 1.5 0 28 0 23 0 21.5 0 17 0 3.5 0 27 0 7 0 27 0 25 0 16 0 0.5 0 3 0 28.5 0 3 0 0.5 0 3.5 0 32 0 6.5 0 25 0 1 0 24 0 4.5 0 25 0 1 0 1 0 14 0 26 0 3.5 0 0.5 0 27 0 3.5 0 3.5 0 27 0 0.5 0 0 0 1 0 20.5 0 18 0 18.5 0 21.5 0 32 0 9 0 27.5 0 2.5 0 1 0 33.5 0 0.5 0 28 0 1 0 0.5 0 5 0 24 0 7.5 0 22 0 12.5 0 20.5 0 3 0 0 0 35.5 0 3.5 0 29 0 33.5 0 3000"/><path d="M118 114.2H1400" stroke="#2b3790" stroke-dasharray="0 1.5 0 2.5 0 21 0 7 0 21 0 20.5 0 3 0 23.5 0 1.5 0 24 0 2.5 0 26.5 0 1 0 1 0 1 0 39 0 0.5 0 30.5 0 24.5 0 4.5 0 32.5 0 2.5 0 37 0 0.5 0 0 0 0.5 0 32.5 0 21 0 33 0 6 0 32 0 1 0 41.5 0 33 0 8 0 27 0 1.5 0 1 0 28.5 0 28.5 0 5 0 31 0 21 0 3.5 0 1 0 1.5 0 36 0 1.5 0 1.5 0 29 0 3 0 29 0 1.5 0 2.5 0 46 0 36.5 0 23 0 8.5 0 6 0 28 0 2 0 1 0 28 0 4 0 27.5 0 4.5 0 1 0 27 0 5 0 16 0 10.5 0 33 0 0.5 0 0 0 0.5 0 31 0 1.5 0 3.5 0 31 0 35.5 0 3000"/><path d="M112 112.18H1400" stroke="#2b3790" stroke-dasharray="0 5 0 1 0 4.5 0 31 0 21.5 0 7.5 0 8.5 0 29.5 0 20 0 7.5 0 23.5 0 0.5 0 2 0 2 0 47.5 0 19.5 0 3 0 29 0 0 0 19.5 0 15 0 3.5 0 33 0 2 0 2 0 23 0 39.5 0 28.5 0 1 0 36.5 0 40 0 28.5 0 7.5 0 2 0 25.5 0 0 0 1.5 0 13.5 0 18 0 2.5 0 21 0 7 0 25 0 1.5 0 1.5 0 1 0 23.5 0 1 0 4.5 0 37 0 0 0 4.5 0 29 0 3 0 0 0 25 0 6 0 2.5 0 20.5 0 13.5 0 40.5 0 36 0 22.5 0 10.5 0 4.5 0 0 0 24.5 0 1.5 0 36 0 4 0 1 0 0.5 0 27.5 0 22.5 0 7 0 32.5 0 0 0 1 0 37.5 0 6 0 18 0 36.5 0 7.5 0 3000"/><path d="M118.5 110.16H1400" stroke="#2b3790" stroke-dasharray="0 1 0 4.5 0 24 0 7 0 13 0 7 0 19.5 0 1.5 0 7 0 15 0 22 0 1 0 1.5 0 29 0 0.5 0 2.5 0 51.5 0 21 0 1.5 0 17 0 8 0 30.5 0 15.5 0 23 0 7 0 0.5 0 1 0 11.5 0 4.5 0 9.5 0 6 0 23 0 36 0 1.5 0 35.5 0 41.5 0 27.5 0 1.5 0 27 0 4 0 1.5 0 5 0 29.5 0 15.5 0 9 0 2.5 0 26 0 0.5 0 29 0 2 0 0 0 9 0 32 0 1 0 1 0 6.5 0 26.5 0 0.5 0 1.5 0 29.5 0 1 0 4 0 26 0 31 0 15 0 44.5 0 24 0 1.5 0 4.5 0 28.5 0 0.5 0 31.5 0 1 0 2.5 0 30 0 9 0 24.5 0 9.5 0 21 0 1 0 2 0 32.5 0 3.5 0 23.5 0 37 0 9.5 0 3000"/><path d="M118.5 108.14H1400" stroke="#2b3790" stroke-dasharray="0 1 0 2 0 22 0 1 0 27 0 17.5 0 2 0 27.5 0 13.5 0 11.5 0 0.5 0 26.5 0 2 0 2.5 0 3 0 43.5 0 23.5 0 3.5 0 14 0 12 0 37.5 0 5.5 0 27 0 1 0 1 0 2 0 30.5 0 22.5 0 0.5 0 36.5 0 1.5 0 18 0 16 0 4 0 27.5 0 2.5 0 39.5 0 0.5 0 3 0 26.5 0 2.5 0 1.5 0 30.5 0 4 0 25.5 0 4.5 0 28.5 0 14 0 11.5 0 1.5 0 0.5 0 37.5 0 0.5 0 0.5 0 32.5 0 1.5 0 32 0 1.5 0 0.5 0 36 0 5.5 0 39.5 0 27 0 44 0 0 0 0.5 0 25 0 3 0 33.5 0 1 0 0.5 0 26 0 4.5 0 31 0 6 0 20.5 0 3.5 0 2 0 1 0 2.5 0 31 0 2 0 69 0 4 0 3000"/><path d="M120 106.12H1400" stroke="#2b3790" stroke-dasharray="0 1 0 1.5 0 27.5 0 1.5 0 20 0 1.5 0 19 0 3.5 0 18 0 25.5 0 2 0 32.5 0 0.5 0 2 0 36 0 1 0 35.5 0 22.5 0 11 0 27.5 0 1.5 0 32.5 0 4.5 0 0 0 32.5 0 13.5 0 30 0 14.5 0 2.5 0 35 0 49.5 0 22.5 0 0.5 0 31.5 0 2 0 4.5 0 30 0 3.5 0 23.5 0 0.5 0 18.5 0 4.5 0 34.5 0 0.5 0 1.5 0 1.5 0 35 0 2 0 6.5 0 27.5 0 3 0 24.5 0 1 0 2.5 0 38.5 0 8 0 30 0 0.5 0 45 0 24.5 0 2.5 0 0 0 34 0 1 0 29.5 0 0 0 2 0 0 0 34.5 0 0 0 26 0 32.5 0 0.5 0 1.5 0 3 0 33 0 6 0 29.5 0 25 0 0 0 3000"/><path d="M116 104.1H1400" stroke="#2b3790" stroke-dasharray="0 2.5 0 2.5 0 27 0 3 0 21.5 0 0.5 0 19 0 6 0 23 0 21 0 2.5 0 29 0 1.5 0 1.5 0 42.5 0 21 0 2.5 0 32 0 37.5 0 3 0 33.5 0 0.5 0 0.5 0 28 0 64 0 2 0 31 0 42 0 1 0 27 0 7 0 26 0 5 0 3.5 0 33 0 1 0 18.5 0 7.5 0 24.5 0 0.5 0 16.5 0 14.5 0 2 0 0.5 0 36 0 2 0 31.5 0 2.5 0 1.5 0 28 0 2 0 0.5 0 5 0 40.5 0 7 0 26.5 0 5.5 0 29.5 0 28.5 0 9 0 1.5 0 26.5 0 1 0 29 0 4.5 0 2.5 0 26 0 2 0 30.5 0 8.5 0 23.5 0 1 0 0.5 0 0 0 39.5 0 0 0 56.5 0 7.5 0 9 0 3000"/><path d="M116.5 102.08H1400" stroke="#2b3790" stroke-dasharray="0 2 0 2.5 0 27.5 0 7.5 0 17.5 0 20 0 3.5 0 18.5 0 0.5 0 27 0 2 0 26.5 0 2 0 5 0 38.5 0 26.5 0 3.5 0 18 0 8 0 37.5 0 37.5 0 0 0 0.5 0 34.5 0 4.5 0 51 0 3.5 0 33 0 3.5 0 29.5 0 2.5 0 36.5 0 2 0 31.5 0 2.5 0 0.5 0 3.5 0 27.5 0 0 0 27.5 0 0 0 9 0 17 0 7 0 20 0 2 0 4 0 1 0 3.5 0 35 0 2 0 0.5 0 32.5 0 1 0 1 0 29.5 0 0 0 3.5 0 31 0 8 0 4.5 0 32 0 2.5 0 32 0 9.5 0 25 0 0.5 0 0.5 0 29 0 4.5 0 28.5 0 7 0 1 0 24 0 7.5 0 25 0 32.5 0 0 0 1 0 2 0 5 0 29 0 3.5 0 14.5 0 18 0 27.5 0 8 0 3000"/><path d="M116.5 100.06H1400" stroke="#2b3790" stroke-dasharray="0 0.5 0 2.5 0 24 0 0 0 24.5 0 2 0 22 0 1.5 0 24.5 0 25.5 0 2 0 27.5 0 0 0 4 0 1 0 29.5 0 38.5 0 23.5 0 4 0 34 0 11.5 0 24.5 0 2 0 1 0 23.5 0 10 0 4.5 0 7 0 45.5 0 4 0 32.5 0 14 0 30.5 0 3.5 0 25.5 0 1 0 6.5 0 8.5 0 13.5 0 4 0 1.5 0 1 0 29.5 0 3 0 25.5 0 4.5 0 1.5 0 19 0 3 0 32.5 0 2 0 0 0 35 0 2 0 1.5 0 11 0 22 0 1.5 0 30.5 0 0 0 1.5 0 49 0 0.5 0 29 0 5 0 38.5 0 24 0 2 0 1.5 0 31.5 0 3 0 29.5 0 3.5 0 2 0 34 0 2 0 9.5 0 12.5 0 29 0 4 0 0.5 0 10 0 22.5 0 3 0 28.5 0 20.5 0 18 0 3000"/><path d="M116.5 98.04H1400" stroke="#2b3790" stroke-dasharray="0 4 0 1 0 21.5 0 2 0 9.5 0 19 0 20.5 0 0.5 0 24.5 0 1 0 21.5 0 3.5 0 29 0 1.5 0 0.5 0 36 0 6.5 0 28 0 23.5 0 2 0 39.5 0 5.5 0 28.5 0 1.5 0 1 0 1 0 24 0 23 0 10.5 0 4.5 0 28.5 0 4 0 23.5 0 10.5 0 37.5 0 34.5 0 0 0 29 0 2.5 0 0.5 0 36 0 26 0 2.5 0 27.5 0 26.5 0 2 0 1 0 1 0 34.5 0 1 0 2 0 32.5 0 2 0 4 0 27.5 0 0.5 0 5.5 0 39 0 41 0 33 0 1 0 27.5 0 0.5 0 1 0 5.5 0 28.5 0 0 0 28.5 0 4 0 0 0 30 0 0.5 0 25 0 4.5 0 6 0 27.5 0 0 0 0 0 3 0 30.5 0 5.5 0 61 0 3000"/><path d="M118.5 96.02H1400" stroke="#2b3790" stroke-dasharray="0 1 0 0 0 30.5 0 0 0 19 0 2 0 22 0 2 0 22 0 22.5 0 2 0 31.5 0 0.5 0 1 0 2 0 39.5 0 27.5 0 2 0 25.5 0 39.5 0 1 0 33 0 1 0 3 0 24.5 0 31.5 0 5 0 0.5 0 31.5 0 5.5 0 26 0 7.5 0 27.5 0 37 0 7.5 0 0.5 0 22 0 4.5 0 3 0 36.5 0 1 0 22 0 4 0 29.5 0 20 0 4 0 0.5 0 0 0 42 0 1 0 2 0 30 0 0.5 0 3.5 0 29 0 2 0 1.5 0 28.5 0 23.5 0 27 0 35.5 0 1 0 26.5 0 3 0 0 0 27.5 0 3 0 32.5 0 2 0 1 0 3.5 0 28.5 0 1 0 18.5 0 17 0 4.5 0 21 0 0.5 0 1 0 1.5 0 33.5 0 0.5 0 57 0 7.5 0 9 0 3000"/><path d="M96.5 94H1400" stroke="#2b3790" stroke-dasharray="0 20 0 6 0 28 0 22.5 0 16.5 0 3.5 0 26 0 5 0 16 0 4.5 0 0.5 0 27 0 1 0 2.5 0 32.5 0 21.5 0 15.5 0 4 0 22.5 0 3 0 33 0 3.5 0 33.5 0 2.5 0 4.5 0 22.5 0 20 0 13 0 33 0 3.5 0 29.5 0 1.5 0 40.5 0 6.5 0 24 0 6 0 27.5 0 1 0 3.5 0 29.5 0 3.5 0 29 0 1 0 17 0 5.5 0 31.5 0 1 0 1.5 0 1.5 0 37 0 4.5 0 27 0 4 0 26.5 0 1.5 0 2 0 1.5 0 43.5 0 3 0 31 0 46.5 0 23 0 0 0 4 0 25.5 0 6.5 0 30 0 1 0 0.5 0 0.5 0 30.5 0 5 0 13.5 0 7.5 0 34 0 3.5 0 0.5 0 1.5 0 32.5 0 2 0 31 0 34.5 0 3.5 0 3000"/></g><rect x="91" y="90.6" width="1243" height="205.4" fill="none" stroke="#231815" stroke-width="1.7"/><path d="M91 245.50h12.5" stroke="#3a3636" stroke-width="1.3"/><text x="78.4" y="256.1" font-size="29.8" text-anchor="end" fill="#3d3330">25</text><path d="M91 195.00h12.5" stroke="#3a3636" stroke-width="1.3"/><text x="78.4" y="205.6" font-size="29.8" text-anchor="end" fill="#3d3330">50</text><path d="M91 144.50h12.5" stroke="#3a3636" stroke-width="1.3"/><text x="78.4" y="155.1" font-size="29.8" text-anchor="end" fill="#3d3330">75</text><text x="0" y="0" font-size="32" fill="#3d3330" transform="translate(29.1 235) rotate(-90)">Index</text><rect x="91" y="311.8" width="1243" height="194.7" fill="#371e35"/><rect x="91" y="311.80" width="1243" height="4.57" fill="url(#g2_0)"/><rect x="91" y="315.17" width="1243" height="3.93" fill="url(#g2_1)"/><rect x="91" y="317.90" width="1243" height="3.93" fill="url(#g2_2)"/><rect x="91" y="320.63" width="1243" height="3.93" fill="url(#g2_3)"/><rect x="91" y="323.36" width="1243" height="3.93" fill="url(#g2_4)"/><rect x="91" y="326.09" width="1243" height="3.93" fill="url(#g2_5)"/><rect x="91" y="328.82" width="1243" height="3.93" fill="url(#g2_6)"/><rect x="91" y="331.55" width="1243" height="3.93" fill="url(#g2_7)"/><rect x="91" y="334.28" width="1243" height="3.93" fill="url(#g2_8)"/><rect x="91" y="337.01" width="1243" height="3.93" fill="url(#g2_9)"/><rect x="91" y="339.74" width="1243" height="3.93" fill="url(#g2_10)"/><rect x="91" y="342.47" width="1243" height="3.93" fill="url(#g2_11)"/><rect x="91" y="345.20" width="1243" height="3.93" fill="url(#g2_12)"/><rect x="91" y="347.93" width="1243" height="3.93" fill="url(#g2_13)"/><rect x="91" y="350.66" width="1243" height="3.93" fill="url(#g2_14)"/><rect x="91" y="353.39" width="1243" height="3.93" fill="url(#g2_15)"/><rect x="91" y="356.12" width="1243" height="3.93" fill="url(#g2_16)"/><rect x="91" y="358.85" width="1243" height="3.93" fill="url(#g2_17)"/><rect x="91" y="361.59" width="1243" height="3.93" fill="url(#g2_18)"/><rect x="91" y="364.32" width="1243" height="3.93" fill="url(#g2_19)"/><rect x="91" y="367.05" width="1243" height="3.93" fill="url(#g2_20)"/><rect x="91" y="369.78" width="1243" height="3.93" fill="url(#g2_21)"/><rect x="91" y="372.51" width="1243" height="3.93" fill="url(#g2_22)"/><rect x="91" y="375.24" width="1243" height="3.93" fill="url(#g2_23)"/><rect x="91" y="377.97" width="1243" height="3.93" fill="url(#g2_24)"/><rect x="91" y="380.70" width="1243" height="3.93" fill="url(#g2_25)"/><rect x="91" y="383.43" width="1243" height="3.93" fill="url(#g2_26)"/><rect x="91" y="386.16" width="1243" height="3.93" fill="url(#g2_27)"/><rect x="91" y="388.89" width="1243" height="3.93" fill="url(#g2_28)"/><rect x="91" y="391.62" width="1243" height="3.93" fill="url(#g2_29)"/><rect x="91" y="394.35" width="1243" height="3.93" fill="url(#g2_30)"/><rect x="91" y="397.08" width="1243" height="3.93" fill="url(#g2_31)"/><rect x="91" y="399.81" width="1243" height="3.93" fill="url(#g2_32)"/><rect x="91" y="402.54" width="1243" height="3.93" fill="url(#g2_33)"/><rect x="91" y="405.28" width="1243" height="3.93" fill="url(#g2_34)"/><rect x="91" y="408.01" width="1243" height="3.93" fill="url(#g2_35)"/><rect x="91" y="410.74" width="1243" height="3.93" fill="url(#g2_36)"/><rect x="91" y="413.47" width="1243" height="3.93" fill="url(#g2_37)"/><rect x="91" y="416.20" width="1243" height="3.93" fill="url(#g2_38)"/><rect x="91" y="418.93" width="1243" height="3.93" fill="url(#g2_39)"/><rect x="91" y="421.66" width="1243" height="3.93" fill="url(#g2_40)"/><rect x="91" y="424.39" width="1243" height="3.93" fill="url(#g2_41)"/><rect x="91" y="427.12" width="1243" height="3.93" fill="url(#g2_42)"/><rect x="91" y="429.85" width="1243" height="3.93" fill="url(#g2_43)"/><rect x="91" y="432.58" width="1243" height="3.93" fill="url(#g2_44)"/><rect x="91" y="435.31" width="1243" height="3.93" fill="url(#g2_45)"/><rect x="91" y="438.04" width="1243" height="3.93" fill="url(#g2_46)"/><rect x="91" y="440.77" width="1243" height="3.93" fill="url(#g2_47)"/><rect x="91" y="443.50" width="1243" height="3.93" fill="url(#g2_48)"/><rect x="91" y="446.23" width="1243" height="3.93" fill="url(#g2_49)"/><rect x="91" y="448.96" width="1243" height="3.93" fill="url(#g2_50)"/><rect x="91" y="451.70" width="1243" height="3.93" fill="url(#g2_51)"/><rect x="91" y="454.43" width="1243" height="3.93" fill="url(#g2_52)"/><rect x="91" y="457.16" width="1243" height="3.93" fill="url(#g2_53)"/><rect x="91" y="459.89" width="1243" height="3.93" fill="url(#g2_54)"/><rect x="91" y="462.62" width="1243" height="3.93" fill="url(#g2_55)"/><rect x="91" y="465.35" width="1243" height="3.93" fill="url(#g2_56)"/><rect x="91" y="468.08" width="1243" height="3.93" fill="url(#g2_57)"/><rect x="91" y="470.81" width="1243" height="3.93" fill="url(#g2_58)"/><rect x="91" y="473.54" width="1243" height="3.93" fill="url(#g2_59)"/><rect x="91" y="476.27" width="1243" height="3.93" fill="url(#g2_60)"/><rect x="91" y="479.00" width="1243" height="3.93" fill="url(#g2_61)"/><rect x="91" y="481.73" width="1243" height="3.93" fill="url(#g2_62)"/><rect x="91" y="484.46" width="1243" height="3.93" fill="url(#g2_63)"/><rect x="91" y="487.19" width="1243" height="3.93" fill="url(#g2_64)"/><rect x="91" y="489.92" width="1243" height="3.93" fill="url(#g2_65)"/><rect x="91" y="492.65" width="1243" height="3.93" fill="url(#g2_66)"/><rect x="91" y="495.38" width="1243" height="3.93" fill="url(#g2_67)"/><rect x="91" y="498.12" width="1243" height="3.93" fill="url(#g2_68)"/><rect x="91" y="500.85" width="1243" height="3.93" fill="url(#g2_69)"/><rect x="91" y="503.58" width="1243" height="2.92" fill="url(#g2_70)"/><g clip-path="url(#sc)"><g style="mix-blend-mode:lighten" filter="url(#bl)"><ellipse cx="885" cy="346.4" rx="27" ry="2.6" fill="#4c3673"/><ellipse cx="770" cy="480.8" rx="20" ry="1.9" fill="#3e2649"/><ellipse cx="466" cy="481.6" rx="32" ry="2.1" fill="#59549d"/><ellipse cx="167" cy="383.9" rx="40" ry="1.7" fill="#523f83"/><ellipse cx="898" cy="378.9" rx="45" ry="1.6" fill="#503a7c"/><ellipse cx="1294" cy="501.1" rx="47" ry="1.9" fill="#493268"/><ellipse cx="402" cy="350.5" rx="18" ry="2.3" fill="#584f99"/><ellipse cx="631" cy="493.3" rx="28" ry="2.0" fill="#493269"/><ellipse cx="532" cy="496.2" rx="31" ry="1.6" fill="#59519b"/><ellipse cx="699" cy="313.9" rx="41" ry="2.3" fill="#55488f"/><ellipse cx="550" cy="504.8" rx="47" ry="1.5" fill="#584f99"/><ellipse cx="528" cy="500.1" rx="23" ry="2.3" fill="#59559e"/><ellipse cx="1336" cy="488.3" rx="30" ry="1.6" fill="#493268"/><ellipse cx="1275" cy="471.4" rx="29" ry="2.2" fill="#523e83"/><ellipse cx="1088" cy="316.1" rx="45" ry="2.8" fill="#483166"/><ellipse cx="962" cy="497.7" rx="41" ry="2.2" fill="#4d3775"/><ellipse cx="222" cy="318.0" rx="37" ry="2.4" fill="#503b7e"/><ellipse cx="460" cy="383.1" rx="39" ry="2.2" fill="#584e98"/><ellipse cx="658" cy="378.6" rx="32" ry="2.1" fill="#4b356f"/><ellipse cx="884" cy="363.2" rx="23" ry="2.3" fill="#513b7f"/><ellipse cx="313" cy="415.6" rx="22" ry="2.5" fill="#4d3775"/><ellipse cx="1115" cy="471.3" rx="35" ry="2.0" fill="#483165"/><ellipse cx="754" cy="503.9" rx="33" ry="2.4" fill="#452d5c"/><ellipse cx="266" cy="378.8" rx="21" ry="2.6" fill="#513b7f"/><ellipse cx="802" cy="375.0" rx="24" ry="2.6" fill="#59549e"/><ellipse cx="466" cy="482.3" rx="19" ry="2.7" fill="#564991"/><ellipse cx="145" cy="495.5" rx="39" ry="2.2" fill="#4b356f"/><ellipse cx="657" cy="458.9" rx="15" ry="2.0" fill="#564991"/><ellipse cx="944" cy="504.3" rx="36" ry="3.0" fill="#503b7f"/><ellipse cx="491" cy="385.7" rx="21" ry="2.1" fill="#55478f"/><ellipse cx="590" cy="502.8" rx="25" ry="1.8" fill="#473062"/><ellipse cx="1029" cy="365.8" rx="40" ry="2.3" fill="#513d81"/><ellipse cx="984" cy="373.9" rx="39" ry="2.6" fill="#523f84"/><ellipse cx="1285" cy="503.1" rx="28" ry="2.6" fill="#472f62"/><ellipse cx="724" cy="489.7" rx="49" ry="2.5" fill="#3e2649"/><ellipse cx="673" cy="320.1" rx="23" ry="2.7" fill="#513e82"/><ellipse cx="1185" cy="323.2" rx="38" ry="2.6" fill="#4e3878"/><ellipse cx="918" cy="369.4" rx="38" ry="2.0" fill="#54448a"/><ellipse cx="522" cy="320.4" rx="21" ry="1.8" fill="#503a7c"/><ellipse cx="138" cy="357.2" rx="20" ry="2.8" fill="#534389"/><ellipse cx="1336" cy="346.7" rx="21" ry="2.2" fill="#54448b"/><ellipse cx="1012" cy="482.9" rx="22" ry="2.9" fill="#584f99"/><ellipse cx="612" cy="498.2" rx="43" ry="1.7" fill="#452d5b"/><ellipse cx="916" cy="504.9" rx="48" ry="2.0" fill="#3e2547"/><ellipse cx="254" cy="466.4" rx="17" ry="2.9" fill="#523f83"/><ellipse cx="1216" cy="465.6" rx="16" ry="1.6" fill="#574c95"/><ellipse cx="188" cy="466.4" rx="47" ry="2.5" fill="#4f397a"/><ellipse cx="660" cy="485.2" rx="30" ry="2.0" fill="#523f84"/><ellipse cx="179" cy="462.5" rx="49" ry="2.5" fill="#59529c"/><ellipse cx="899" cy="493.9" rx="40" ry="2.0" fill="#412952"/><ellipse cx="758" cy="499.3" rx="45" ry="2.3" fill="#523f84"/><ellipse cx="1221" cy="397.8" rx="41" ry="2.8" fill="#5a569f"/><ellipse cx="1233" cy="498.9" rx="26" ry="2.4" fill="#412950"/><ellipse cx="774" cy="489.2" rx="26" ry="3.0" fill="#442c59"/><ellipse cx="533" cy="491.0" rx="20" ry="1.7" fill="#412951"/><ellipse cx="97" cy="487.5" rx="18" ry="2.8" fill="#59529c"/><ellipse cx="332" cy="478.3" rx="25" ry="2.1" fill="#503a7d"/><ellipse cx="1324" cy="318.7" rx="17" ry="1.6" fill="#574c95"/><ellipse cx="438" cy="420.7" rx="39" ry="1.6" fill="#523f84"/><ellipse cx="1177" cy="471.8" rx="16" ry="2.9" fill="#59539d"/><ellipse cx="218" cy="365.9" rx="20" ry="1.7" fill="#40284f"/><ellipse cx="301" cy="473.0" rx="31" ry="1.8" fill="#574d96"/><ellipse cx="654" cy="461.8" rx="16" ry="2.0" fill="#59519b"/><ellipse cx="1345" cy="391.4" rx="47" ry="2.8" fill="#4d3774"/><ellipse cx="672" cy="314.1" rx="26" ry="2.8" fill="#4c3672"/><ellipse cx="1024" cy="370.4" rx="17" ry="2.3" fill="#523e83"/><ellipse cx="998" cy="445.9" rx="47" ry="1.8" fill="#462f60"/><ellipse cx="878" cy="354.1" rx="24" ry="1.7" fill="#584f99"/><ellipse cx="802" cy="490.9" rx="15" ry="2.7" fill="#4c3570"/><ellipse cx="800" cy="474.5" rx="20" ry="2.5" fill="#513b7f"/><ellipse cx="771" cy="478.0" rx="23" ry="1.6" fill="#432b56"/><ellipse cx="127" cy="364.6" rx="47" ry="1.5" fill="#493269"/><ellipse cx="1189" cy="319.2" rx="41" ry="2.0" fill="#422a54"/><ellipse cx="876" cy="494.8" rx="44" ry="2.9" fill="#493268"/><ellipse cx="284" cy="368.3" rx="42" ry="2.7" fill="#523f83"/><ellipse cx="463" cy="380.3" rx="22" ry="1.6" fill="#4a336c"/><ellipse cx="82" cy="474.0" rx="44" ry="2.8" fill="#442c5a"/><ellipse cx="1190" cy="470.0" rx="33" ry="2.2" fill="#523e83"/><ellipse cx="207" cy="461.4" rx="28" ry="1.7" fill="#55478f"/><ellipse cx="93" cy="437.5" rx="32" ry="1.6" fill="#523f83"/><ellipse cx="990" cy="498.7" rx="47" ry="2.2" fill="#4e3776"/><ellipse cx="485" cy="484.9" rx="22" ry="2.7" fill="#4f397a"/><ellipse cx="962" cy="501.8" rx="37" ry="2.0" fill="#422a53"/><ellipse cx="258" cy="382.8" rx="44" ry="2.7" fill="#59549e"/><ellipse cx="592" cy="322.6" rx="25" ry="2.5" fill="#55468d"/><ellipse cx="974" cy="474.2" rx="47" ry="2.9" fill="#3e2546"/><ellipse cx="913" cy="355.0" rx="16" ry="2.6" fill="#4d3774"/><ellipse cx="196" cy="316.9" rx="24" ry="2.9" fill="#40274c"/><ellipse cx="1119" cy="481.7" rx="33" ry="2.2" fill="#59549d"/><ellipse cx="764" cy="488.9" rx="18" ry="2.8" fill="#4a336b"/><ellipse cx="1013" cy="474.8" rx="26" ry="2.2" fill="#5a57a0"/><ellipse cx="787" cy="351.8" rx="17" ry="2.3" fill="#534186"/><ellipse cx="130" cy="502.0" rx="22" ry="1.9" fill="#3e2649"/><ellipse cx="955" cy="343.5" rx="29" ry="2.0" fill="#4b346e"/><ellipse cx="951" cy="503.0" rx="25" ry="2.5" fill="#564890"/><ellipse cx="909" cy="368.2" rx="40" ry="2.4" fill="#59529c"/><ellipse cx="1034" cy="313.1" rx="30" ry="2.6" fill="#462f60"/><ellipse cx="987" cy="489.0" rx="33" ry="1.7" fill="#503a7d"/><ellipse cx="1058" cy="462.8" rx="46" ry="1.5" fill="#564991"/><ellipse cx="447" cy="480.9" rx="40" ry="2.1" fill="#4d3673"/><ellipse cx="1206" cy="468.4" rx="38" ry="2.6" fill="#524085"/><ellipse cx="1308" cy="499.3" rx="43" ry="1.6" fill="#4d3673"/><ellipse cx="1143" cy="323.4" rx="27" ry="1.6" fill="#58509a"/><ellipse cx="897" cy="501.2" rx="25" ry="2.7" fill="#493268"/><ellipse cx="769" cy="350.0" rx="26" ry="2.8" fill="#4e3878"/><ellipse cx="1333" cy="459.4" rx="46" ry="2.6" fill="#462f61"/><ellipse cx="481" cy="472.5" rx="28" ry="1.7" fill="#58509a"/><ellipse cx="483" cy="318.6" rx="42" ry="2.2" fill="#523f84"/><ellipse cx="562" cy="314.5" rx="24" ry="2.1" fill="#534085"/><ellipse cx="471" cy="318.1" rx="38" ry="2.7" fill="#59559e"/><ellipse cx="111" cy="345.9" rx="40" ry="2.0" fill="#523f84"/><ellipse cx="167" cy="498.1" rx="24" ry="2.2" fill="#4e3877"/><ellipse cx="618" cy="490.7" rx="20" ry="2.8" fill="#432b55"/><ellipse cx="667" cy="503.2" rx="21" ry="2.0" fill="#452d5c"/><ellipse cx="467" cy="389.7" rx="24" ry="1.5" fill="#59529c"/><ellipse cx="350" cy="476.9" rx="32" ry="2.0" fill="#432b57"/><ellipse cx="119" cy="505.4" rx="36" ry="2.2" fill="#442d5a"/><ellipse cx="606" cy="492.3" rx="43" ry="1.9" fill="#513d81"/><ellipse cx="1120" cy="400.0" rx="34" ry="1.9" fill="#59529b"/><ellipse cx="1267" cy="320.4" rx="27" ry="2.3" fill="#523e83"/><ellipse cx="914" cy="345.1" rx="33" ry="2.5" fill="#432c57"/><ellipse cx="229" cy="495.3" rx="23" ry="1.8" fill="#513d81"/><ellipse cx="606" cy="504.7" rx="39" ry="1.6" fill="#584d96"/><ellipse cx="1165" cy="322.0" rx="42" ry="1.6" fill="#523f84"/><ellipse cx="1148" cy="488.1" rx="28" ry="1.6" fill="#513d81"/><ellipse cx="240" cy="500.3" rx="28" ry="1.9" fill="#3f264a"/><ellipse cx="1336" cy="383.8" rx="41" ry="2.6" fill="#4e3877"/><ellipse cx="1180" cy="395.0" rx="19" ry="2.7" fill="#564991"/><ellipse cx="397" cy="484.9" rx="25" ry="1.7" fill="#564890"/><ellipse cx="1314" cy="322.4" rx="27" ry="3.0" fill="#513c80"/><ellipse cx="905" cy="387.8" rx="29" ry="2.0" fill="#59529c"/><ellipse cx="597" cy="496.8" rx="38" ry="2.2" fill="#55468d"/><ellipse cx="684" cy="313.0" rx="40" ry="2.8" fill="#524085"/><ellipse cx="100" cy="323.3" rx="25" ry="3.0" fill="#513c80"/><ellipse cx="644" cy="495.6" rx="47" ry="2.4" fill="#4e3877"/><ellipse cx="1339" cy="487.3" rx="21" ry="2.8" fill="#462f5f"/><ellipse cx="699" cy="490.7" rx="37" ry="1.6" fill="#442d5a"/><ellipse cx="641" cy="319.2" rx="27" ry="2.0" fill="#584e98"/><ellipse cx="1094" cy="488.7" rx="18" ry="2.8" fill="#564992"/><ellipse cx="743" cy="388.4" rx="24" ry="2.4" fill="#462f60"/><ellipse cx="475" cy="475.5" rx="22" ry="2.3" fill="#412950"/><ellipse cx="662" cy="494.6" rx="34" ry="1.8" fill="#523e83"/><ellipse cx="1110" cy="490.7" rx="30" ry="2.1" fill="#584f99"/><ellipse cx="1038" cy="318.7" rx="42" ry="2.4" fill="#584e98"/><ellipse cx="907" cy="355.2" rx="36" ry="2.5" fill="#59559f"/><ellipse cx="453" cy="358.8" rx="42" ry="2.9" fill="#452e5d"/><ellipse cx="172" cy="465.2" rx="18" ry="2.6" fill="#503a7c"/><ellipse cx="807" cy="496.6" rx="22" ry="2.0" fill="#524085"/><ellipse cx="118" cy="440.3" rx="37" ry="1.6" fill="#523f84"/><ellipse cx="1326" cy="463.8" rx="23" ry="2.7" fill="#473064"/><ellipse cx="1315" cy="457.3" rx="26" ry="2.9" fill="#59539c"/><ellipse cx="1260" cy="315.3" rx="32" ry="1.9" fill="#3d2546"/><ellipse cx="644" cy="313.2" rx="41" ry="3.0" fill="#473063"/><ellipse cx="700" cy="313.4" rx="38" ry="1.7" fill="#534187"/><ellipse cx="721" cy="347.4" rx="17" ry="2.1" fill="#40284f"/><ellipse cx="228" cy="495.7" rx="25" ry="1.8" fill="#59519b"/><ellipse cx="186" cy="476.6" rx="22" ry="3.0" fill="#584d96"/><ellipse cx="1073" cy="465.5" rx="19" ry="2.8" fill="#4b356f"/><ellipse cx="754" cy="488.2" rx="40" ry="2.8" fill="#422a52"/><ellipse cx="88" cy="355.8" rx="42" ry="2.4" fill="#432b56"/><ellipse cx="142" cy="471.4" rx="20" ry="2.4" fill="#503a7c"/><ellipse cx="1344" cy="502.8" rx="42" ry="2.9" fill="#4b346d"/><ellipse cx="1031" cy="374.0" rx="15" ry="1.7" fill="#564890"/><ellipse cx="776" cy="501.7" rx="48" ry="2.9" fill="#442c5a"/><ellipse cx="1254" cy="391.4" rx="16" ry="2.0" fill="#584f99"/><ellipse cx="1285" cy="501.1" rx="27" ry="1.9" fill="#4c3570"/><ellipse cx="584" cy="381.5" rx="47" ry="2.1" fill="#513b7f"/><ellipse cx="887" cy="369.8" rx="32" ry="2.2" fill="#574c95"/><ellipse cx="1339" cy="321.6" rx="43" ry="1.7" fill="#452d5b"/><ellipse cx="236" cy="377.3" rx="24" ry="2.0" fill="#524085"/><ellipse cx="716" cy="384.8" rx="37" ry="2.4" fill="#523f84"/><ellipse cx="882" cy="374.2" rx="38" ry="1.7" fill="#412952"/><ellipse cx="674" cy="382.1" rx="42" ry="1.8" fill="#564a92"/><ellipse cx="1309" cy="395.0" rx="32" ry="2.8" fill="#432c58"/><ellipse cx="746" cy="481.3" rx="47" ry="2.7" fill="#59539d"/><ellipse cx="831" cy="381.0" rx="35" ry="2.9" fill="#59529c"/><ellipse cx="1245" cy="394.0" rx="21" ry="2.5" fill="#4b3570"/><ellipse cx="886" cy="351.5" rx="18" ry="2.1" fill="#524085"/><ellipse cx="795" cy="495.2" rx="24" ry="3.0" fill="#59559e"/><ellipse cx="725" cy="318.5" rx="17" ry="1.6" fill="#3f274b"/><ellipse cx="261" cy="467.4" rx="49" ry="2.7" fill="#523f83"/><ellipse cx="1342" cy="327.6" rx="31" ry="2.8" fill="#5a56a0"/><ellipse cx="654" cy="379.8" rx="34" ry="1.6" fill="#59559f"/><ellipse cx="540" cy="318.5" rx="18" ry="2.3" fill="#59539c"/><ellipse cx="666" cy="492.6" rx="22" ry="1.6" fill="#5a569f"/><ellipse cx="1250" cy="316.9" rx="24" ry="2.8" fill="#513c80"/><ellipse cx="1337" cy="322.6" rx="44" ry="1.6" fill="#59519b"/><ellipse cx="266" cy="367.1" rx="25" ry="2.0" fill="#4b356f"/><ellipse cx="761" cy="484.1" rx="46" ry="2.9" fill="#513c80"/><ellipse cx="713" cy="487.4" rx="41" ry="1.9" fill="#412951"/><ellipse cx="994" cy="408.6" rx="21" ry="2.2" fill="#4f397a"/><ellipse cx="86" cy="464.3" rx="44" ry="2.3" fill="#5a569f"/><ellipse cx="546" cy="499.3" rx="40" ry="1.5" fill="#4b356f"/><ellipse cx="241" cy="477.0" rx="26" ry="1.8" fill="#503b7e"/><ellipse cx="79" cy="356.5" rx="32" ry="2.0" fill="#3f274c"/><ellipse cx="1288" cy="349.1" rx="18" ry="1.5" fill="#432b57"/><ellipse cx="1136" cy="319.2" rx="20" ry="1.9" fill="#4b346d"/><ellipse cx="731" cy="324.0" rx="20" ry="2.8" fill="#4f397a"/><ellipse cx="650" cy="344.4" rx="49" ry="2.7" fill="#59549e"/><ellipse cx="912" cy="374.4" rx="41" ry="2.9" fill="#524084"/><ellipse cx="1053" cy="340.8" rx="19" ry="1.7" fill="#59559f"/><ellipse cx="821" cy="374.9" rx="21" ry="2.3" fill="#5a569f"/><ellipse cx="884" cy="339.4" rx="23" ry="2.6" fill="#524085"/><ellipse cx="112" cy="503.7" rx="36" ry="1.7" fill="#523e83"/><ellipse cx="822" cy="381.5" rx="25" ry="2.5" fill="#4b346e"/><ellipse cx="789" cy="356.2" rx="42" ry="1.7" fill="#58509a"/><ellipse cx="1317" cy="394.2" rx="39" ry="2.1" fill="#432b56"/><ellipse cx="649" cy="349.0" rx="24" ry="1.8" fill="#4c3673"/><ellipse cx="1096" cy="482.9" rx="34" ry="2.3" fill="#4d3774"/><ellipse cx="943" cy="495.1" rx="25" ry="2.9" fill="#4e3776"/><ellipse cx="638" cy="322.0" rx="47" ry="2.2" fill="#3f2649"/><ellipse cx="1085" cy="478.1" rx="21" ry="2.3" fill="#412950"/><ellipse cx="583" cy="490.6" rx="22" ry="1.8" fill="#534186"/><ellipse cx="1024" cy="405.2" rx="26" ry="2.7" fill="#584d97"/><ellipse cx="1243" cy="320.1" rx="19" ry="1.7" fill="#585099"/><ellipse cx="1337" cy="467.8" rx="42" ry="2.7" fill="#513b7f"/><ellipse cx="291" cy="413.2" rx="39" ry="2.6" fill="#524085"/><ellipse cx="1213" cy="383.9" rx="44" ry="1.7" fill="#584f99"/><ellipse cx="105" cy="360.1" rx="27" ry="2.5" fill="#503a7d"/><ellipse cx="1110" cy="385.8" rx="17" ry="1.9" fill="#5a56a0"/><ellipse cx="84" cy="468.5" rx="47" ry="2.4" fill="#442c58"/><ellipse cx="1255" cy="394.0" rx="44" ry="2.9" fill="#503a7d"/><ellipse cx="329" cy="323.9" rx="19" ry="2.7" fill="#574b94"/><ellipse cx="294" cy="323.8" rx="49" ry="2.9" fill="#503a7d"/><ellipse cx="716" cy="489.1" rx="27" ry="2.2" fill="#584f99"/><ellipse cx="1110" cy="479.3" rx="21" ry="2.4" fill="#412951"/><ellipse cx="885" cy="338.6" rx="27" ry="1.5" fill="#523f83"/><ellipse cx="458" cy="323.6" rx="48" ry="2.8" fill="#483165"/><ellipse cx="463" cy="483.5" rx="25" ry="2.8" fill="#4c3672"/><ellipse cx="1175" cy="464.8" rx="16" ry="2.2" fill="#513e82"/><ellipse cx="459" cy="329.8" rx="20" ry="1.8" fill="#473062"/><ellipse cx="191" cy="500.8" rx="37" ry="2.5" fill="#4a336b"/><ellipse cx="886" cy="366.3" rx="16" ry="2.8" fill="#5a57a0"/><ellipse cx="238" cy="406.6" rx="37" ry="2.1" fill="#58509a"/><ellipse cx="988" cy="479.1" rx="37" ry="2.2" fill="#59529c"/><ellipse cx="1140" cy="481.4" rx="15" ry="2.9" fill="#523f84"/><ellipse cx="1017" cy="492.3" rx="24" ry="2.1" fill="#584f99"/><ellipse cx="604" cy="321.9" rx="15" ry="1.8" fill="#564890"/><ellipse cx="408" cy="359.3" rx="29" ry="2.0" fill="#54448b"/><ellipse cx="1137" cy="367.6" rx="37" ry="1.6" fill="#5a57a0"/><ellipse cx="306" cy="411.5" rx="40" ry="2.1" fill="#584e98"/><ellipse cx="966" cy="341.6" rx="46" ry="2.2" fill="#412950"/><ellipse cx="1268" cy="396.1" rx="39" ry="1.9" fill="#4c3571"/><ellipse cx="1113" cy="317.8" rx="43" ry="2.6" fill="#564a92"/><ellipse cx="805" cy="348.0" rx="21" ry="2.4" fill="#4b346e"/><ellipse cx="1344" cy="504.5" rx="24" ry="2.2" fill="#473063"/><ellipse cx="667" cy="497.1" rx="41" ry="1.5" fill="#524085"/><ellipse cx="819" cy="376.3" rx="45" ry="1.5" fill="#524085"/><ellipse cx="447" cy="329.4" rx="26" ry="2.5" fill="#442c59"/><ellipse cx="560" cy="494.9" rx="44" ry="2.4" fill="#4b356f"/><ellipse cx="1203" cy="504.2" rx="34" ry="2.8" fill="#59549e"/><ellipse cx="262" cy="384.2" rx="26" ry="1.7" fill="#4c3571"/><ellipse cx="1327" cy="321.0" rx="25" ry="2.8" fill="#493267"/><ellipse cx="964" cy="463.5" rx="32" ry="2.2" fill="#40274d"/><ellipse cx="1199" cy="493.7" rx="22" ry="2.5" fill="#564991"/><ellipse cx="397" cy="479.2" rx="16" ry="1.6" fill="#483166"/><ellipse cx="617" cy="500.2" rx="45" ry="1.6" fill="#4e3776"/><ellipse cx="1335" cy="457.6" rx="45" ry="2.0" fill="#55478f"/><ellipse cx="128" cy="493.6" rx="38" ry="2.0" fill="#5a57a0"/><ellipse cx="136" cy="385.4" rx="49" ry="2.0" fill="#513c7f"/></g></g><rect x="91" y="311.8" width="1243" height="194.7" fill="none" stroke="#3c3c3c" stroke-width="1.4"/><text x="78.4" y="488.2" font-size="29.8" text-anchor="end" fill="#3d3330">20</text><text x="78.4" y="433.6" font-size="29.8" text-anchor="end" fill="#3d3330">40</text><text x="78.4" y="379" font-size="29.8" text-anchor="end" fill="#3d3330">60</text><text x="78.4" y="324.4" font-size="29.8" text-anchor="end" fill="#3d3330">80</text><text x="91.8" y="548.3" font-size="30" text-anchor="middle" fill="#3d3330">2000</text><text x="339.1" y="548.3" font-size="30" text-anchor="middle" fill="#3d3330">2200</text><text x="586.4" y="548.3" font-size="30" text-anchor="middle" fill="#3d3330">2400</text><text x="833.7" y="548.3" font-size="30" text-anchor="middle" fill="#3d3330">2600</text><text x="1081" y="548.3" font-size="30" text-anchor="middle" fill="#3d3330">2800</text><text x="1328.3" y="548.3" font-size="30" text-anchor="middle" fill="#3d3330">3000</text><path d="M91.7 477.64h12.4M1333.3 477.64h-12.4M91.7 423.02h12.4M1333.3 423.02h-12.4M91.7 368.41h12.4M1333.3 368.41h-12.4M91.7 313.80h12.4M1333.3 313.80h-12.4M91.00 505.8v-12.4M91.00 312.5v12.4M338.30 505.8v-12.4M338.30 312.5v12.4M585.60 505.8v-12.4M585.60 312.5v12.4M832.90 505.8v-12.4M832.90 312.5v12.4M1080.20 505.8v-12.4M1080.20 312.5v12.4M1327.50 505.8v-12.4M1327.50 312.5v12.4" stroke="#6a6a6a" stroke-width="1.3"/><text x="0" y="0" font-size="32" fill="#3d3330" transform="translate(29.5 471.4) rotate(-90)">Freq (Hz)</text><text x="717.3" y="591.9" font-size="32.8" text-anchor="middle" fill="#3d3330">Time (ms)</text><rect x="1365.2" y="311.8" width="50" height="194.7" fill="url(#cbar)" stroke="#3c3c3c" stroke-width="1.4"/><path d="M1414.5 506.90h-3.5" stroke="#3a3636" stroke-width="1.2"/><text x="1425.2" y="516.9" font-size="27" fill="#3d3330">0</text><path d="M1414.5 442.30h-3.5" stroke="#3a3636" stroke-width="1.2"/><text x="1425.2" y="452.3" font-size="27" fill="#3d3330">100</text><path d="M1414.5 377.70h-3.5" stroke="#3a3636" stroke-width="1.2"/><text x="1425.2" y="387.7" font-size="27" fill="#3d3330">200</text><path d="M1414.5 313.10h-3.5" stroke="#3a3636" stroke-width="1.2"/><text x="1425.2" y="323.1" font-size="27" fill="#3d3330">300</text><text transform="translate(1517.7 520.5) rotate(-90)" font-size="29.6" fill="#3d3330">(spikes/sec)<tspan font-size="24.4" dx="1.5" dy="-15">2</tspan><tspan dx="2.5" dy="15">/Hz</tspan></text><text x="234" y="632.2" font-size="32.1" fill="#231815" style="stroke:none">Conditioned on E at t=0</text><text x="878.2" y="632.2" font-size="32.4" fill="#231815" style="stroke:none">Conditioned on I at t=0</text><rect x="91" y="651" width="279" height="88.9" fill="#fff"/><path d="M97.6 739.9V738.3H106.5V739.9zM106.5 739.9V738.3H115.4V739.9zM115.4 739.9V738.3H124.2V739.9zM124.2 739.9V738.3H133.1V739.9zM133.1 739.9V738.3H141.9V739.9zM141.9 739.9V737.9H150.8V739.9zM150.8 739.9V737.5H159.6V739.9zM159.6 739.9V736.7H168.5V739.9zM168.5 739.9V735.9H177.4V739.9zM177.4 739.9V733.9H186.2V739.9zM186.2 739.9V731.2H195.1V739.9zM195.1 739.9V726.8H203.9V739.9zM203.9 739.9V721.2H212.8V739.9zM212.8 739.9V714.9H221.6V739.9zM221.6 739.9V710.5H230.5V739.9zM230.5 739.9V707.0H239.4V739.9zM239.4 739.9V714.1H248.2V739.9zM248.2 739.9V720.9H257.1V739.9zM257.1 739.9V726.0H265.9V739.9zM265.9 739.9V730.8H274.8V739.9zM274.8 739.9V734.3H283.6V739.9zM283.6 739.9V736.3H292.5V739.9zM292.5 739.9V737.1H301.4V739.9zM301.4 739.9V737.9H310.2V739.9zM310.2 739.9V737.9H319.1V739.9zM319.1 739.9V738.3H327.9V739.9zM327.9 739.9V738.3H336.8V739.9zM336.8 739.9V738.3H345.6V739.9zM345.6 739.9V738.3H354.5V739.9zM354.5 739.9V738.3H363.4V739.9z" fill="#4352a6" stroke="#1a1a1a" stroke-width="1.1"/><rect x="91" y="651" width="279" height="88.9" fill="none" stroke="#333" stroke-width="1.5"/><text x="139.9" y="782" font-size="29.3" text-anchor="middle" fill="#3d3330" letter-spacing="-0.6">-10</text><text x="230.8" y="782" font-size="29.3" text-anchor="middle" fill="#3d3330">0</text><text x="319.4" y="782" font-size="29.3" text-anchor="middle" fill="#3d3330">10</text><path d="M141.9 651v3M141.9 739.9v-3M230.5 651v3M230.5 739.9v-3M319.1 651v3M319.1 739.9v-3M91 695.4h3M370 695.4h-3" stroke="#222" stroke-width="1.3"/><text x="116.5" y="683.5" font-size="27.5" fill="#231815" style="stroke:none">E</text><text x="235" y="826.3" font-size="32.8" text-anchor="middle" fill="#3d3330">Time (ms)</text><rect x="414.1" y="651" width="274" height="88.9" fill="#fff"/><path d="M420.6 739.9V734.3H429.3V739.9zM429.3 739.9V735.1H438.0V739.9zM438.0 739.9V735.1H446.7V739.9zM446.7 739.9V735.1H455.4V739.9zM455.4 739.9V734.7H464.1V739.9zM464.1 739.9V734.3H472.8V739.9zM472.8 739.9V733.9H481.5V739.9zM481.5 739.9V733.2H490.2V739.9zM490.2 739.9V731.6H498.9V739.9zM498.9 739.9V729.2H507.6V739.9zM507.6 739.9V724.0H516.3V739.9zM516.3 739.9V716.1H525.0V739.9zM525.0 739.9V707.0H533.7V739.9zM533.7 739.9V694.3H542.4V739.9zM542.4 739.9V685.5H551.1V739.9zM551.1 739.9V680.4H559.8V739.9zM559.8 739.9V684.3H568.5V739.9zM568.5 739.9V695.1H577.2V739.9zM577.2 739.9V707.0H585.9V739.9zM585.9 739.9V717.3H594.6V739.9zM594.6 739.9V726.0H603.3V739.9zM603.3 739.9V730.8H612.0V739.9zM612.0 739.9V733.2H620.7V739.9zM620.7 739.9V734.3H629.4V739.9zM629.4 739.9V735.1H638.1V739.9zM638.1 739.9V735.5H646.8V739.9zM646.8 739.9V735.5H655.5V739.9zM655.5 739.9V735.9H664.2V739.9zM664.2 739.9V735.5H672.9V739.9zM672.9 739.9V734.7H681.6V739.9z" fill="#4352a6" stroke="#1a1a1a" stroke-width="1.1"/><rect x="414.1" y="651" width="274" height="88.9" fill="none" stroke="#333" stroke-width="1.5"/><text x="462.1" y="782" font-size="29.3" text-anchor="middle" fill="#3d3330" letter-spacing="-0.6">-10</text><text x="551.4" y="782" font-size="29.3" text-anchor="middle" fill="#3d3330">0</text><text x="638.4" y="782" font-size="29.3" text-anchor="middle" fill="#3d3330">10</text><path d="M464.1 651v3M464.1 739.9v-3M551.1 651v3M551.1 739.9v-3M638.1 651v3M638.1 739.9v-3M414.1 695.4h3M688.1 695.4h-3" stroke="#222" stroke-width="1.3"/><text x="439.6" y="683.5" font-size="27.5" fill="#231815" style="stroke:none">I</text><rect x="736.7" y="651" width="274.3" height="88.9" fill="#fff"/><path d="M743.2 739.9V737.9H751.9V739.9zM751.9 739.9V738.3H760.6V739.9zM760.6 739.9V738.3H769.4V739.9zM769.4 739.9V738.3H778.1V739.9zM778.1 739.9V737.9H786.8V739.9zM786.8 739.9V737.9H795.5V739.9zM795.5 739.9V737.1H804.2V739.9zM804.2 739.9V736.3H812.9V739.9zM812.9 739.9V735.9H821.6V739.9zM821.6 739.9V733.9H830.3V739.9zM830.3 739.9V730.4H839.0V739.9zM839.0 739.9V725.6H847.7V739.9zM847.7 739.9V720.5H856.4V739.9zM856.4 739.9V715.7H865.1V739.9zM865.1 739.9V712.5H873.9V739.9zM873.9 739.9V714.1H882.6V739.9zM882.6 739.9V718.9H891.3V739.9zM891.3 739.9V724.0H900.0V739.9zM900.0 739.9V728.4H908.7V739.9zM908.7 739.9V732.0H917.4V739.9zM917.4 739.9V734.7H926.1V739.9zM926.1 739.9V736.3H934.8V739.9zM934.8 739.9V737.1H943.5V739.9zM943.5 739.9V737.9H952.2V739.9zM952.2 739.9V737.9H960.9V739.9zM960.9 739.9V738.3H969.6V739.9zM969.6 739.9V738.3H978.3V739.9zM978.3 739.9V738.3H987.1V739.9zM987.1 739.9V737.9H995.8V739.9zM995.8 739.9V737.5H1004.5V739.9z" fill="#4352a6" stroke="#1a1a1a" stroke-width="1.1"/><rect x="736.7" y="651" width="274.3" height="88.9" fill="none" stroke="#333" stroke-width="1.5"/><text x="784.8" y="782" font-size="29.3" text-anchor="middle" fill="#3d3330" letter-spacing="-0.6">-10</text><text x="874.1" y="782" font-size="29.3" text-anchor="middle" fill="#3d3330">0</text><text x="961.2" y="782" font-size="29.3" text-anchor="middle" fill="#3d3330">10</text><path d="M786.8 651v3M786.8 739.9v-3M873.9 651v3M873.9 739.9v-3M960.9 651v3M960.9 739.9v-3M736.7 695.4h3M1011 695.4h-3" stroke="#222" stroke-width="1.3"/><text x="762.2" y="683.5" font-size="27.5" fill="#231815" style="stroke:none">E</text><text x="878.4" y="826.3" font-size="32.8" text-anchor="middle" fill="#3d3330">Time (ms)</text><rect x="1059.1" y="651" width="274.7" height="88.9" fill="#fff"/><path d="M1065.6 739.9V733.6H1074.4V739.9zM1074.4 739.9V733.6H1083.1V739.9zM1083.1 739.9V735.1H1091.8V739.9zM1091.8 739.9V735.1H1100.5V739.9zM1100.5 739.9V734.3H1109.2V739.9zM1109.2 739.9V733.2H1118.0V739.9zM1118.0 739.9V733.2H1126.7V739.9zM1126.7 739.9V732.8H1135.4V739.9zM1135.4 739.9V730.4H1144.1V739.9zM1144.1 739.9V727.6H1152.8V739.9zM1152.8 739.9V721.6H1161.6V739.9zM1161.6 739.9V714.1H1170.3V739.9zM1170.3 739.9V705.4H1179.0V739.9zM1179.0 739.9V698.6H1187.7V739.9zM1187.7 739.9V688.3H1196.4V739.9zM1196.4 739.9V679.2H1205.2V739.9zM1205.2 739.9V696.6H1213.9V739.9zM1213.9 739.9V703.4H1222.6V739.9zM1222.6 739.9V712.5H1231.3V739.9zM1231.3 739.9V720.9H1240.1V739.9zM1240.1 739.9V726.8H1248.8V739.9zM1248.8 739.9V731.6H1257.5V739.9zM1257.5 739.9V733.2H1266.2V739.9zM1266.2 739.9V733.6H1274.9V739.9zM1274.9 739.9V733.6H1283.7V739.9zM1283.7 739.9V735.1H1292.4V739.9zM1292.4 739.9V735.1H1301.1V739.9zM1301.1 739.9V735.1H1309.8V739.9zM1309.8 739.9V733.6H1318.5V739.9zM1318.5 739.9V733.6H1327.3V739.9z" fill="#4352a6" stroke="#1a1a1a" stroke-width="1.1"/><rect x="1059.1" y="651" width="274.7" height="88.9" fill="none" stroke="#333" stroke-width="1.5"/><text x="1107.2" y="782" font-size="29.3" text-anchor="middle" fill="#3d3330" letter-spacing="-0.6">-10</text><text x="1196.7" y="782" font-size="29.3" text-anchor="middle" fill="#3d3330">0</text><text x="1284" y="782" font-size="29.3" text-anchor="middle" fill="#3d3330">10</text><path d="M1109.2 651v3M1109.2 739.9v-3M1196.4 651v3M1196.4 739.9v-3M1283.7 651v3M1283.7 739.9v-3M1059.1 695.4h3M1333.8 695.4h-3" stroke="#222" stroke-width="1.3"/><text x="1084.6" y="683.5" font-size="27.5" fill="#231815" style="stroke:none">I</text><text x="37.6" y="661.5" font-size="29.3" fill="#3d3330" letter-spacing="-1.25">0.4</text><text x="37.6" y="706" font-size="29.3" fill="#3d3330" letter-spacing="-1.25">0.2</text><text x="78.3" y="750.4" font-size="29.3" text-anchor="end" fill="#3d3330">0</text></g>
</svg></body></html>
